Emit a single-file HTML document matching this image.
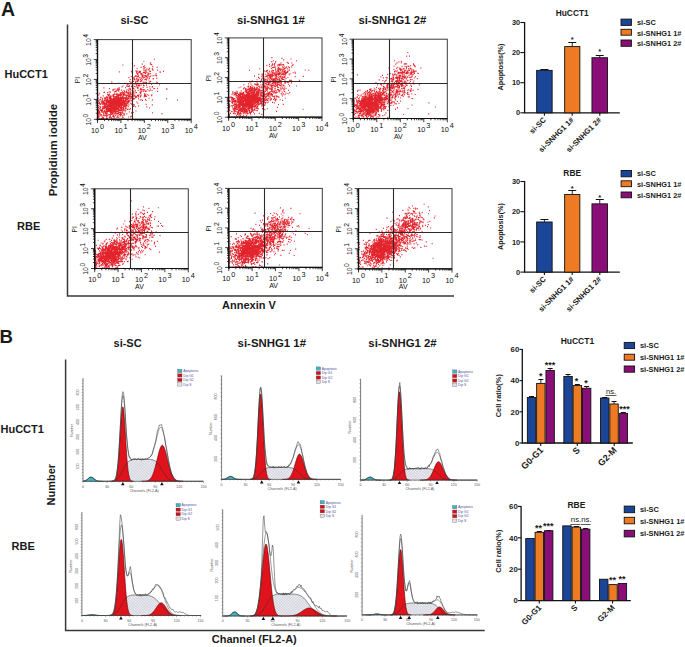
<!DOCTYPE html>
<html><head><meta charset="utf-8"><style>
html,body{margin:0;padding:0;background:#fff;}
svg{display:block;font-family:"Liberation Sans", sans-serif;}
</style></head><body>
<svg width="685" height="647" viewBox="0 0 685 647">
<defs><pattern id="hatch" patternUnits="userSpaceOnUse" width="2" height="2" patternTransform="rotate(45)">
<rect width="2" height="2" fill="#f0f0f5"/><path d="M0 0V2M0 0H2" stroke="#a8a8b8" stroke-width="0.5"/></pattern></defs>
<rect width="685" height="647" fill="#fff"/>
<text x="1.00" y="15.60" font-size="19.5" font-weight="bold" text-anchor="start" fill="#1a1a1a">A</text>
<text x="-0.50" y="342.60" font-size="18.6" font-weight="bold" text-anchor="start" fill="#1a1a1a">B</text>
<path d="M67.5 24.6V296H454" fill="none" stroke="#383838" stroke-width="1.5"/>
<path d="M65.6 359.4V630.6H484.7" fill="none" stroke="#383838" stroke-width="1.5"/>
<text x="134.50" y="23.90" font-size="11" font-weight="bold" text-anchor="middle" fill="#1a1a1a">si-SC</text>
<text x="270.80" y="23.90" font-size="11.3" font-weight="bold" text-anchor="middle" fill="#1a1a1a">si-SNHG1 1#</text>
<text x="392.30" y="23.90" font-size="11.3" font-weight="bold" text-anchor="middle" fill="#1a1a1a">si-SNHG1 2#</text>
<text x="4.50" y="78.00" font-size="11" font-weight="bold" text-anchor="start" fill="#1a1a1a">HuCCT1</text>
<text x="17.00" y="229.70" font-size="11" font-weight="bold" text-anchor="start" fill="#1a1a1a">RBE</text>
<text x="56.70" y="150.00" font-size="11.3" font-weight="bold" text-anchor="middle" fill="#1a1a1a" transform="rotate(-90 56.70 150.00)">Propidium iodide</text>
<text x="249.00" y="308.50" font-size="11" font-weight="bold" text-anchor="middle" fill="#1a1a1a">Annexin V</text>
<text x="127.60" y="346.60" font-size="11" font-weight="bold" text-anchor="middle" fill="#1a1a1a">si-SC</text>
<text x="271.80" y="347.30" font-size="11.4" font-weight="bold" text-anchor="middle" fill="#1a1a1a">si-SNHG1 1#</text>
<text x="402.50" y="347.30" font-size="11.4" font-weight="bold" text-anchor="middle" fill="#1a1a1a">si-SNHG1 2#</text>
<text x="0.50" y="433.30" font-size="11" font-weight="bold" text-anchor="start" fill="#1a1a1a">HuCCT1</text>
<text x="11.50" y="550.00" font-size="11" font-weight="bold" text-anchor="start" fill="#1a1a1a">RBE</text>
<text x="54.80" y="484.70" font-size="11" font-weight="bold" text-anchor="middle" fill="#1a1a1a" transform="rotate(-90 54.80 484.70)">Number</text>
<text x="254.30" y="643.30" font-size="11" font-weight="bold" text-anchor="middle" fill="#1a1a1a">Channel (FL2-A)</text>
<path d="M111.9 102.3h1M112.1 107.3h1M106.7 108.0h1M122.5 100.2h1M121.9 101.5h1M116.9 103.1h1M101.0 102.9h1M117.8 101.0h1M100.8 118.8h1M107.0 109.5h1M116.3 104.6h1M117.9 107.9h1M116.3 102.0h1M108.8 95.8h1M118.2 96.6h1M109.1 110.6h1M111.2 106.3h1M118.8 102.2h1M110.4 111.6h1M109.9 98.5h1M107.7 105.0h1M117.2 113.2h1M114.3 96.9h1M98.3 110.8h1M113.1 110.1h1M117.7 104.4h1M102.6 102.7h1M119.1 97.9h1M125.0 100.0h1M114.8 112.6h1M118.7 107.5h1M110.4 113.5h1M106.4 110.0h1M123.9 114.8h1M102.6 106.3h1M125.1 98.7h1M99.2 119.0h1M116.7 108.7h1M105.2 101.2h1M122.4 101.9h1M115.8 101.8h1M126.2 98.1h1M117.9 100.6h1M101.8 100.2h1M121.3 99.9h1M98.6 112.6h1M120.4 114.4h1M112.5 99.1h1M103.8 97.7h1M118.2 104.8h1M116.4 100.4h1M114.8 97.8h1M108.8 108.7h1M121.9 102.8h1M107.1 100.9h1M125.2 104.9h1M103.2 108.4h1M112.7 107.1h1M124.8 108.5h1M123.6 110.3h1M107.8 102.6h1M122.6 97.6h1M116.6 103.4h1M115.1 101.2h1M112.5 103.6h1M118.3 103.9h1M119.8 100.1h1M129.4 99.1h1M110.6 108.0h1M113.8 99.4h1M111.3 103.3h1M128.1 117.0h1M105.2 105.6h1M117.0 102.7h1M110.6 101.8h1M116.1 107.6h1M132.7 98.1h1M109.6 106.6h1M112.2 105.8h1M97.8 113.1h1M121.7 110.1h1M113.4 99.3h1M120.5 94.2h1M100.7 110.4h1M111.3 101.8h1M122.3 119.0h1M122.3 111.7h1M119.2 112.7h1M115.3 97.4h1M112.7 104.1h1M120.1 102.6h1M113.2 95.8h1M122.0 104.7h1M135.1 106.7h1M121.0 104.8h1M114.9 100.4h1M115.6 100.6h1M102.1 117.1h1M118.7 109.6h1M106.0 115.9h1M123.7 98.0h1M125.3 107.8h1M113.9 111.9h1M119.8 93.8h1M107.0 97.2h1M121.5 104.1h1M98.7 100.2h1M113.2 108.8h1M117.0 101.7h1M125.5 108.3h1M122.7 93.7h1M125.1 103.3h1M108.1 100.2h1M114.8 104.0h1M124.9 103.8h1M97.8 111.7h1M99.6 103.5h1M116.3 108.1h1M113.8 99.9h1M114.5 96.7h1M113.4 98.7h1M125.4 92.3h1M108.7 100.9h1M99.4 115.1h1M98.7 102.2h1M104.4 107.4h1M112.4 105.5h1M109.3 104.7h1M127.7 101.3h1M118.0 97.9h1M112.4 113.0h1M109.6 99.5h1M101.2 111.7h1M121.7 98.2h1M114.0 100.0h1M115.2 111.8h1M101.8 111.8h1M121.0 106.6h1M106.9 111.4h1M102.1 108.6h1M104.8 105.0h1M97.8 107.5h1M108.9 118.0h1M119.5 105.2h1M97.8 114.5h1M116.1 107.2h1M119.9 98.9h1M119.0 101.7h1M124.2 98.4h1M117.4 116.8h1M120.8 95.3h1M111.6 108.4h1M128.9 111.9h1M117.5 89.3h1M106.7 102.5h1M128.5 102.1h1M118.2 98.4h1M106.9 107.2h1M116.2 99.4h1M113.6 106.2h1M106.0 109.1h1M120.8 102.6h1M107.3 111.7h1M134.5 92.9h1M118.8 119.0h1M118.7 100.8h1M126.9 99.1h1M113.4 101.9h1M98.9 102.4h1M116.4 108.6h1M124.1 91.4h1M103.1 111.7h1M116.1 103.3h1M110.8 111.6h1M130.3 94.6h1M104.7 115.4h1M127.1 95.7h1M128.0 96.5h1M107.2 105.0h1M97.8 113.6h1M113.4 101.9h1M108.3 107.1h1M117.4 101.8h1M118.8 102.5h1M111.4 100.8h1M114.3 109.9h1M109.1 106.2h1M113.1 104.2h1M113.9 103.9h1M112.9 112.9h1M117.2 97.7h1M117.3 105.3h1M117.3 110.0h1M99.2 108.2h1M106.7 102.2h1M105.5 119.0h1M105.9 97.3h1M110.9 114.0h1M108.0 103.2h1M117.7 102.9h1M125.4 97.8h1M113.7 101.4h1M126.7 95.9h1M121.8 109.6h1M112.8 100.8h1M111.6 99.0h1M118.5 98.3h1M112.3 89.9h1M123.5 103.9h1M114.6 89.0h1M111.2 100.3h1M121.5 103.0h1M104.9 106.0h1M116.7 97.4h1M119.9 103.3h1M120.5 100.0h1M115.5 104.2h1M112.0 101.2h1M105.7 110.8h1M113.9 113.8h1M110.5 118.0h1M108.6 102.8h1M118.3 104.2h1M112.1 114.0h1M128.0 98.3h1M122.4 108.2h1M112.5 116.4h1M119.9 97.8h1M99.2 108.9h1M118.8 114.5h1M99.8 114.9h1M109.0 114.7h1M114.1 103.4h1M118.8 99.5h1M125.5 95.0h1M103.8 110.5h1M105.7 113.5h1M113.3 105.1h1M117.7 113.7h1M104.3 107.5h1M112.4 107.2h1M113.4 109.7h1M119.3 101.5h1M113.2 109.2h1M112.6 119.0h1M106.3 106.6h1M102.3 106.6h1M115.0 113.1h1M112.0 107.3h1M117.5 100.4h1M113.6 110.2h1M112.8 105.6h1M119.6 101.8h1M108.3 114.6h1M111.0 110.2h1M105.3 107.8h1M110.1 105.3h1M117.9 106.5h1M131.9 102.5h1M122.4 102.1h1M122.5 117.3h1M108.1 104.9h1M118.6 89.6h1M116.4 96.6h1M119.8 97.7h1M117.8 104.9h1M117.8 110.5h1M123.0 108.9h1M115.8 91.6h1M112.2 105.3h1M122.9 102.6h1M107.7 104.9h1M118.4 99.5h1M107.9 95.8h1M126.8 101.7h1M116.0 107.0h1M124.8 106.5h1M119.1 106.6h1M108.5 101.9h1M124.2 102.5h1M108.7 101.3h1M113.5 103.2h1M125.7 95.2h1M109.9 92.1h1M113.9 100.2h1M108.9 106.5h1M100.4 97.4h1M124.5 109.7h1M102.3 117.7h1M123.0 105.5h1M113.4 107.0h1M113.0 111.8h1M114.1 113.7h1M113.3 103.2h1M117.5 105.5h1M106.9 105.7h1M110.2 96.4h1M119.8 104.2h1M110.3 110.1h1M106.7 108.9h1M116.2 101.3h1M118.3 91.1h1M108.4 106.2h1M135.5 111.0h1M109.9 104.9h1M115.1 102.2h1M112.1 103.2h1M114.3 100.2h1M99.3 114.0h1M113.9 111.2h1M105.8 103.1h1M108.9 102.3h1M119.7 101.7h1M117.8 104.6h1M103.0 107.8h1M117.4 107.3h1M113.1 100.6h1M107.1 102.7h1M128.3 104.8h1M115.0 105.6h1M125.8 100.1h1M120.8 107.4h1M113.8 105.0h1M100.2 99.6h1M120.9 113.9h1M119.7 104.3h1M117.4 101.9h1M102.3 109.1h1M125.4 105.6h1M106.0 115.2h1M104.5 105.2h1M127.0 99.1h1M115.8 90.9h1M109.9 110.0h1M118.0 100.6h1M106.1 114.0h1M116.1 102.9h1M103.8 108.7h1M109.7 103.2h1M113.0 105.7h1M111.2 99.2h1M124.6 104.5h1M120.4 107.9h1M114.5 100.3h1M125.6 104.4h1M113.3 103.9h1M102.3 107.7h1M108.7 104.0h1M105.2 119.0h1M114.2 103.3h1M109.7 100.6h1M111.8 109.2h1M117.6 113.6h1M108.7 106.4h1M120.5 104.3h1M116.3 108.4h1M116.2 94.3h1M108.6 91.9h1M108.9 106.1h1M115.2 98.4h1M104.3 119.0h1M118.6 99.0h1M118.7 87.8h1M115.5 103.0h1M121.1 100.9h1M126.8 109.3h1M111.0 119.0h1M120.2 105.7h1M121.0 90.1h1M113.9 106.5h1M110.0 111.0h1M109.0 102.3h1M114.2 104.5h1M112.6 99.7h1M117.7 104.9h1M119.0 104.6h1M105.0 98.3h1M117.5 109.9h1M122.2 100.8h1M101.8 98.2h1M116.5 98.9h1M115.4 105.5h1M101.9 102.0h1M114.1 106.6h1M116.6 103.8h1M119.1 105.9h1M113.6 118.0h1M110.6 101.7h1M124.2 104.6h1M113.0 95.6h1M111.4 101.1h1M126.9 101.5h1M123.4 106.9h1M115.5 105.0h1M114.8 97.9h1M132.4 104.4h1M109.5 103.0h1M105.7 103.9h1M118.3 105.5h1M118.0 113.4h1M119.8 112.9h1M108.5 109.7h1M110.8 100.5h1M114.5 107.2h1M118.1 94.3h1M113.9 102.7h1M123.5 101.0h1M104.0 92.3h1M131.0 112.8h1M113.6 102.5h1M121.4 99.0h1M111.8 111.9h1M114.7 98.5h1M105.5 113.3h1M113.7 116.8h1M111.9 108.1h1M117.4 108.4h1M107.1 109.0h1M113.5 109.1h1M114.0 100.4h1M123.1 92.3h1M107.8 109.0h1M97.8 98.2h1M108.3 106.5h1M117.9 112.2h1M117.5 104.2h1M99.8 106.7h1M123.1 114.0h1M120.1 102.1h1M117.6 101.4h1M124.0 103.8h1M120.7 105.8h1M119.5 108.5h1M113.1 94.6h1M117.3 105.1h1M105.0 111.9h1M115.4 98.9h1M117.2 101.0h1M113.6 96.8h1M110.9 109.0h1M120.8 102.9h1M111.7 109.0h1M111.9 101.7h1M116.6 111.6h1M117.2 103.0h1M106.2 102.2h1M111.7 107.5h1M120.0 95.4h1M108.6 103.6h1M107.1 92.6h1M110.1 98.6h1M108.9 101.3h1M131.0 116.2h1M110.5 102.7h1M113.2 109.2h1M130.5 100.4h1M101.2 102.9h1M100.6 101.2h1M109.4 105.2h1M123.6 101.8h1M103.1 117.9h1M123.0 98.2h1M107.6 101.3h1M117.7 100.1h1M97.8 111.1h1M120.9 98.8h1M120.7 118.2h1M115.2 101.6h1M133.6 105.9h1M111.4 105.4h1M120.7 106.0h1M122.8 107.6h1M116.0 107.7h1M115.1 108.9h1M101.6 101.4h1M116.2 107.8h1M115.5 98.5h1M106.3 107.5h1M118.1 100.7h1M111.3 118.4h1M123.5 100.6h1M114.0 106.6h1M115.9 107.0h1M106.0 111.4h1M109.3 109.8h1M104.9 103.3h1M103.8 103.4h1M106.1 104.8h1M124.5 101.1h1M108.2 106.1h1M115.0 115.2h1M109.2 105.1h1M110.3 105.4h1M119.6 98.9h1M120.9 99.6h1M111.7 105.6h1M111.8 107.4h1M112.5 115.8h1M111.3 105.7h1M106.4 107.0h1M117.9 105.0h1M130.0 116.8h1M112.3 116.5h1M121.5 86.9h1M97.8 109.0h1M117.9 105.8h1M118.2 117.5h1M120.5 101.1h1M114.1 108.5h1M118.8 106.7h1M115.6 107.6h1M97.8 109.4h1M115.5 100.0h1M107.1 106.8h1M118.7 102.9h1M123.5 90.5h1M106.9 118.4h1M120.5 94.0h1M121.0 98.2h1M109.1 110.5h1M120.8 108.8h1M99.9 114.5h1M133.2 88.5h1M108.6 110.7h1M115.7 109.1h1M124.0 102.9h1M105.5 99.1h1M109.4 104.7h1M113.8 106.9h1M116.4 108.5h1M99.6 119.0h1M104.1 112.0h1M113.7 104.7h1M118.2 103.2h1M107.8 110.8h1M97.8 110.0h1M117.6 100.8h1M113.0 106.2h1M121.1 103.1h1M119.6 100.0h1M115.5 96.6h1M109.5 108.2h1M107.7 111.3h1M125.9 91.3h1M114.1 101.5h1M123.0 97.8h1M123.2 110.3h1M109.0 103.4h1M125.0 101.6h1M107.3 108.8h1M108.8 111.4h1M125.5 105.9h1M114.1 91.8h1M123.1 100.6h1M109.2 103.6h1M126.4 98.1h1M123.6 101.9h1M117.9 105.2h1M117.2 96.2h1M102.8 108.1h1M115.8 108.0h1M111.5 100.8h1M129.4 97.3h1M116.4 113.8h1M128.8 100.8h1M113.6 111.8h1M113.5 111.7h1M114.4 102.0h1M114.1 103.2h1M107.3 97.9h1M108.8 117.3h1M112.4 110.0h1M106.1 109.0h1M116.1 111.6h1M112.8 96.5h1M119.2 104.6h1M114.9 105.4h1M113.5 100.6h1M113.2 119.0h1M113.7 110.4h1M118.9 107.4h1M115.0 91.4h1M105.8 113.8h1M103.0 119.0h1M99.4 106.3h1M109.0 117.5h1M102.4 104.0h1M107.9 108.7h1M116.5 96.1h1M128.9 95.0h1M115.0 103.6h1M127.8 92.8h1M111.5 102.8h1M116.1 104.1h1M110.0 114.0h1M109.8 115.4h1M123.4 99.3h1M104.6 98.8h1M120.8 114.9h1M128.1 96.5h1M129.9 108.5h1M118.0 101.4h1M115.5 103.5h1M122.0 112.0h1M104.3 115.8h1M109.6 109.7h1M116.7 102.6h1M114.1 109.0h1M110.5 100.0h1M119.8 102.9h1M111.4 96.1h1M109.3 102.1h1M122.8 104.4h1M120.3 110.2h1M121.7 101.8h1M101.6 103.9h1M107.0 98.9h1M108.6 107.3h1M116.1 106.4h1M115.9 107.8h1M119.1 103.6h1M115.5 119.0h1M122.9 102.5h1M100.1 107.8h1M117.5 97.5h1M105.5 97.6h1M112.7 90.7h1M112.8 101.1h1M111.1 112.4h1M122.4 97.3h1M125.8 96.8h1M109.5 116.2h1M108.9 110.3h1M107.6 103.0h1M116.4 106.0h1M115.2 105.5h1M115.5 100.0h1M121.3 107.3h1M102.2 99.2h1M114.8 98.0h1M101.2 110.1h1M114.1 113.7h1M109.9 101.5h1M122.2 93.2h1M107.2 115.1h1M117.9 98.2h1M115.4 112.5h1M119.9 98.6h1M118.2 106.9h1M116.2 99.6h1M109.6 117.2h1M116.4 101.4h1M114.0 99.5h1M109.4 106.6h1M111.5 102.1h1M126.2 103.4h1M129.8 91.7h1M120.0 99.9h1M127.6 102.7h1M113.0 111.6h1M117.6 95.9h1M118.0 101.4h1M112.3 104.3h1M102.9 101.3h1M110.7 112.5h1M108.1 111.4h1M120.5 96.9h1M103.4 101.9h1M120.8 106.8h1M102.4 112.3h1M109.0 104.1h1M111.1 118.0h1M115.7 113.8h1M120.9 110.6h1M108.5 111.5h1M109.7 98.1h1M120.5 99.7h1M116.4 113.8h1M109.9 109.3h1M106.3 103.7h1M108.2 110.7h1M105.8 119.0h1M118.5 95.7h1M115.2 110.6h1M97.8 109.1h1M123.3 100.8h1M121.1 94.2h1M122.6 105.5h1M122.0 98.2h1M102.0 110.4h1M102.9 108.3h1M118.4 110.3h1M98.0 101.0h1M116.8 95.3h1M103.7 101.0h1M129.9 88.8h1M112.3 103.7h1M112.7 99.2h1M121.9 102.4h1M103.4 103.0h1M110.3 102.0h1M115.9 94.6h1M122.7 105.5h1M116.6 93.6h1M109.7 103.3h1M123.1 95.0h1M117.9 112.0h1M104.1 105.9h1M116.9 88.7h1M107.2 99.7h1M119.9 113.6h1M107.6 105.5h1M110.1 106.8h1M117.5 109.0h1M117.5 107.9h1M109.7 102.7h1M109.5 104.3h1M126.3 101.7h1M112.8 100.8h1M111.1 99.1h1M104.0 103.6h1M109.9 110.8h1M127.6 106.7h1M127.5 97.6h1M125.1 108.1h1M123.2 93.8h1M113.0 106.0h1M132.9 99.2h1M110.6 109.6h1M117.3 102.1h1M115.3 94.1h1M111.4 102.7h1M125.2 108.3h1M121.9 91.8h1M103.4 114.2h1M105.9 118.2h1M117.4 115.4h1M117.8 95.2h1M101.4 110.0h1M99.1 103.9h1M108.2 108.0h1M114.3 101.5h1M111.2 105.5h1M109.7 105.3h1M104.8 106.8h1M99.0 111.6h1M128.7 100.8h1M104.2 105.8h1M106.4 116.9h1M108.2 101.9h1M116.9 104.8h1M106.7 113.3h1M124.3 100.9h1M106.5 119.0h1M103.3 92.5h1M105.0 107.6h1M115.5 105.5h1M111.7 113.8h1M105.8 96.7h1M108.1 101.3h1M100.8 109.9h1M115.9 98.2h1M105.2 103.5h1M116.9 108.7h1M117.6 109.5h1M107.7 106.6h1M97.8 110.8h1M106.2 115.8h1M110.6 101.1h1M110.8 98.0h1M104.9 115.2h1M125.9 99.6h1M121.2 108.2h1M120.1 101.8h1M118.9 103.6h1M123.2 106.6h1M106.4 115.8h1M122.9 107.2h1M105.8 112.7h1M110.5 113.5h1M111.7 109.3h1M109.6 111.8h1M114.2 107.7h1M114.8 103.2h1M116.5 117.6h1M109.8 110.8h1M119.9 113.1h1M108.4 108.1h1M111.3 99.6h1M110.5 99.9h1M102.6 118.8h1M123.3 100.0h1M117.7 103.3h1M117.6 111.4h1M121.2 106.4h1M121.5 102.5h1M98.6 116.6h1M122.6 103.6h1M110.8 104.2h1M110.6 109.1h1M114.7 103.9h1M125.6 101.8h1M128.4 90.4h1M127.2 95.2h1M114.9 103.9h1M112.8 109.7h1M113.4 109.0h1M126.6 98.6h1M110.4 117.5h1M113.5 107.6h1M105.5 113.9h1M97.8 105.8h1M113.4 89.4h1M113.7 105.9h1M125.1 101.4h1M115.2 106.9h1M109.2 97.0h1M121.6 92.6h1M111.2 105.4h1M107.1 100.8h1M103.1 104.2h1M122.4 94.3h1M106.6 100.1h1M108.4 110.9h1M103.7 100.5h1M126.6 105.4h1M108.0 108.5h1M133.3 94.0h1M109.7 116.9h1M108.7 99.0h1M128.3 103.0h1M108.6 109.4h1M99.3 103.0h1M105.5 100.6h1M100.7 115.9h1M116.1 109.0h1M119.9 103.4h1M104.8 103.4h1M120.4 115.0h1M128.0 98.4h1M119.8 114.8h1M108.3 108.5h1M122.2 111.8h1M107.1 119.0h1M112.0 103.3h1M100.9 111.8h1M117.8 94.3h1M119.0 105.5h1M104.8 112.9h1M108.8 105.3h1M113.5 94.9h1M116.1 110.9h1M125.8 96.2h1M114.7 109.1h1M99.4 114.7h1M120.9 108.1h1M103.7 106.3h1M115.8 100.8h1M119.0 95.1h1M107.4 100.6h1M106.3 102.6h1M115.3 103.1h1M121.4 103.2h1M122.5 97.5h1M114.9 108.1h1M108.1 109.6h1M112.3 105.5h1M136.9 95.4h1M119.8 108.7h1M108.4 108.3h1M115.4 110.9h1M126.4 105.3h1M122.2 117.1h1M113.8 103.3h1M115.4 100.9h1M116.1 103.4h1M99.3 112.9h1M97.8 105.6h1M116.3 105.6h1M107.5 110.1h1M128.2 90.9h1M113.4 97.2h1M101.6 119.0h1M110.2 111.2h1M109.6 104.9h1M137.3 103.2h1M114.3 103.2h1M113.6 99.4h1M127.6 109.1h1M115.1 106.3h1M116.7 113.6h1M100.3 119.0h1M118.0 102.8h1M114.5 119.0h1M111.0 110.3h1M103.0 113.2h1M119.3 100.3h1M113.7 101.9h1M109.2 105.7h1M114.2 101.5h1M113.4 106.0h1M112.9 109.1h1M131.2 97.6h1M117.2 90.2h1M124.7 111.7h1M119.3 98.5h1M128.5 93.3h1M119.9 110.6h1M107.2 105.0h1M117.8 110.2h1M110.9 108.1h1M114.4 102.8h1M111.7 113.0h1M123.5 92.9h1M113.1 98.9h1M117.3 100.1h1M117.6 108.7h1M118.3 97.7h1M107.0 94.7h1M130.1 89.9h1M129.3 96.6h1M111.3 109.3h1M107.6 105.8h1M113.6 100.9h1M98.3 94.8h1M131.5 100.8h1M119.1 100.8h1M116.0 105.7h1M112.9 110.2h1M115.3 104.8h1M116.4 109.5h1M114.2 104.6h1M118.6 110.3h1M117.1 98.2h1M118.5 106.1h1M110.1 107.3h1M119.5 94.1h1M112.7 109.2h1M116.8 103.0h1M106.9 111.2h1M113.1 101.1h1M104.7 113.4h1M117.8 111.4h1M114.7 102.6h1M113.0 111.4h1M113.4 107.1h1M116.5 109.4h1M122.3 113.1h1M112.5 105.2h1M121.3 106.8h1M118.1 107.4h1M119.6 93.0h1M110.8 103.0h1M106.7 100.8h1M123.3 102.4h1M105.1 104.7h1M122.8 96.1h1M120.2 114.5h1M108.6 97.6h1M104.4 100.4h1M128.4 96.7h1M122.6 104.8h1M104.4 107.9h1M112.4 105.6h1M119.3 104.5h1M115.4 102.0h1M113.9 93.8h1M117.3 103.6h1M112.3 109.2h1M124.3 101.5h1M105.6 110.4h1M112.8 107.9h1M122.3 109.9h1M117.7 103.1h1M104.8 106.9h1M113.2 102.1h1M110.4 104.0h1M101.0 114.7h1M120.0 97.1h1M113.8 108.6h1M122.3 115.6h1M107.7 102.4h1M118.9 110.0h1M99.3 99.7h1M115.1 110.1h1M114.3 99.4h1M97.8 103.2h1M119.6 116.2h1M119.9 114.3h1M122.7 100.4h1M131.3 104.4h1M113.9 98.6h1M109.0 110.5h1M111.0 106.1h1M105.5 104.1h1M118.1 103.5h1M127.0 103.7h1M124.0 105.8h1M119.7 115.3h1M115.4 105.6h1M110.1 109.6h1M111.2 110.0h1M97.8 112.8h1M109.6 109.2h1M105.7 107.8h1M120.0 105.0h1M110.1 97.6h1M121.4 97.5h1M122.8 104.7h1M112.9 98.4h1M109.6 106.7h1M116.8 102.0h1M111.8 99.5h1M112.5 100.9h1M122.2 98.9h1M119.6 110.6h1M103.8 111.2h1M117.6 94.9h1M104.4 105.4h1M107.3 111.0h1M111.8 101.3h1M115.5 97.4h1M106.3 101.4h1M121.1 102.8h1M117.6 107.5h1M105.5 109.5h1M108.9 88.6h1M110.1 95.8h1M115.5 102.7h1M119.6 108.3h1M121.0 100.9h1M102.2 104.2h1M118.2 101.1h1M126.1 104.4h1M117.9 99.4h1M106.9 99.4h1M102.7 115.6h1M117.9 110.6h1M113.0 115.2h1M114.4 111.7h1M116.5 113.6h1M117.4 105.7h1M114.4 105.2h1M114.9 112.7h1M97.8 109.7h1M106.7 109.5h1M117.2 116.2h1M108.0 110.1h1M105.7 105.0h1M112.8 110.2h1M106.3 101.9h1M108.8 102.7h1M117.4 115.6h1M105.5 107.0h1M116.5 99.6h1M120.1 97.1h1M111.0 106.9h1M119.9 106.1h1M122.1 112.6h1M118.9 104.8h1M98.7 102.8h1M116.3 104.2h1M105.6 109.8h1M125.6 107.1h1M97.8 116.8h1M104.6 108.1h1M110.9 111.3h1M107.4 100.2h1M102.7 95.8h1M109.7 112.6h1M120.0 100.0h1M105.8 102.4h1M99.7 114.1h1M122.6 104.4h1M103.8 104.3h1M121.0 103.3h1M99.9 110.5h1M117.1 99.5h1M128.2 102.9h1M110.2 106.1h1M123.2 108.4h1M124.0 119.0h1M120.1 107.5h1M117.4 99.9h1M104.8 107.7h1M115.8 100.9h1M106.7 112.8h1M99.0 93.2h1M112.4 106.7h1M102.3 102.2h1M109.8 97.2h1M120.5 103.2h1M119.5 110.3h1M111.4 109.1h1M104.1 107.3h1M112.8 96.5h1M97.8 115.5h1M106.8 109.5h1M117.2 101.7h1M114.1 107.8h1M117.7 101.8h1M99.7 110.1h1M103.3 114.8h1M115.0 104.3h1M114.8 110.1h1M112.3 110.9h1M116.8 100.0h1M127.5 93.9h1M107.7 109.3h1M106.6 104.9h1M129.2 96.9h1M97.8 116.8h1M103.9 104.3h1M113.9 103.1h1M127.7 106.6h1M107.3 94.6h1M116.5 109.0h1M98.2 118.1h1M97.8 109.2h1M114.2 98.8h1M112.8 109.4h1M108.2 94.8h1M100.2 107.3h1M114.1 101.2h1M110.8 102.7h1M120.2 104.3h1M110.4 107.0h1M106.4 108.1h1M111.6 104.3h1M124.2 94.4h1M110.5 102.1h1M116.2 99.8h1M114.1 103.3h1M110.3 110.6h1M120.6 95.4h1M119.0 101.0h1M116.0 107.2h1M100.1 104.3h1M115.4 107.9h1M106.4 99.0h1M100.0 97.7h1M118.8 89.3h1M108.3 106.5h1M110.0 105.0h1M112.3 109.9h1M122.2 107.7h1M110.0 102.6h1M109.7 108.6h1M116.6 106.5h1M104.3 108.0h1M112.2 95.0h1M105.4 101.2h1M107.8 108.6h1M111.4 103.9h1M120.6 92.7h1M109.0 98.1h1M121.6 98.1h1M108.0 100.9h1M113.1 103.0h1M111.8 101.4h1M122.5 95.9h1M112.3 99.3h1M125.1 107.9h1M125.3 110.3h1M118.1 100.3h1M125.4 100.4h1M110.2 110.7h1M104.2 102.7h1M112.1 109.8h1M118.0 108.6h1M110.5 108.6h1M126.7 92.9h1M112.7 114.8h1M116.0 104.0h1M116.6 100.8h1M111.4 99.9h1M120.4 102.1h1M110.8 108.7h1M119.3 110.3h1M112.7 109.8h1M103.1 103.9h1M113.7 104.8h1M120.7 112.4h1M113.4 103.3h1M120.3 110.0h1M119.4 102.2h1M124.4 95.4h1M118.1 90.8h1M113.9 107.5h1M111.3 111.3h1M113.7 116.4h1M113.2 102.5h1M121.6 105.2h1M124.6 106.3h1M112.9 116.6h1M108.0 111.2h1M125.2 99.0h1M105.6 103.8h1M117.5 105.4h1M114.1 106.7h1M109.8 116.5h1M113.2 97.5h1M124.7 103.9h1M108.3 107.6h1M120.7 101.2h1M109.5 103.9h1M112.3 102.3h1M110.8 114.4h1M114.3 100.3h1M105.5 107.7h1M120.5 105.5h1M109.0 94.1h1M120.1 97.3h1M106.8 97.0h1M101.4 111.1h1M119.5 95.7h1M106.9 110.6h1M115.4 116.0h1M118.7 100.5h1M110.5 102.6h1M119.7 101.7h1M117.8 95.0h1M110.3 104.9h1M110.0 99.8h1M110.8 102.9h1M114.9 104.3h1M126.8 102.3h1M124.5 97.5h1M123.8 103.5h1M120.8 98.8h1M109.3 104.5h1M112.9 105.4h1M123.6 106.8h1M101.3 118.3h1M110.5 109.6h1M114.0 101.6h1M127.0 99.9h1M117.4 108.4h1M118.2 95.9h1M123.9 113.9h1M120.5 94.0h1M120.1 112.2h1M111.6 102.1h1M117.0 108.9h1M107.3 100.9h1M104.0 99.0h1M114.0 103.2h1M104.0 110.9h1M119.0 112.3h1M129.3 109.4h1M135.1 82.6h1M132.2 88.6h1M146.6 73.0h1M150.1 71.3h1M141.6 75.6h1M132.8 106.4h1M140.2 73.9h1M135.6 79.3h1M126.5 83.4h1M149.0 77.0h1M126.5 85.1h1M136.6 84.0h1M118.2 83.2h1M159.1 84.7h1M139.6 79.2h1M124.1 101.5h1M119.9 93.5h1M135.3 86.7h1M136.7 87.2h1M128.7 96.0h1M125.5 98.3h1M133.8 77.2h1M137.9 79.3h1M137.9 95.3h1M132.9 96.1h1M124.3 94.3h1M134.4 84.1h1M146.6 76.4h1M146.8 77.7h1M116.4 90.0h1M137.7 90.5h1M140.2 93.3h1M132.5 98.1h1M139.5 92.9h1M152.1 68.9h1M128.5 89.4h1M122.7 98.6h1M132.7 93.2h1M137.3 81.6h1M151.9 86.6h1M131.1 96.3h1M139.3 86.0h1M122.5 86.0h1M147.7 74.2h1M148.0 76.0h1M156.6 67.4h1M142.6 74.8h1M142.5 90.0h1M132.9 92.5h1M148.5 69.2h1M131.8 92.8h1M136.4 96.8h1M148.7 90.8h1M124.3 93.9h1M147.3 89.6h1M132.2 86.2h1M137.0 74.4h1M134.7 96.1h1M144.6 75.6h1M138.2 75.2h1M144.8 79.5h1M127.5 84.4h1M136.2 84.8h1M140.1 79.7h1M140.2 83.6h1M128.1 95.7h1M128.8 88.2h1M124.3 83.3h1M157.1 70.1h1M152.5 83.3h1M137.7 83.4h1M137.9 98.9h1M145.5 77.1h1M144.0 83.2h1M137.0 73.7h1M142.5 82.9h1M142.6 87.4h1M136.3 81.7h1M136.2 85.7h1M139.8 72.4h1M139.2 77.7h1M126.5 89.9h1M129.1 81.5h1M143.1 89.9h1M132.5 87.3h1M141.8 64.2h1M139.2 85.8h1M143.0 85.5h1M137.4 88.1h1M132.5 92.1h1M139.6 77.7h1M143.9 77.3h1M152.6 78.9h1M133.6 104.6h1M138.3 83.7h1M146.5 87.3h1M149.0 68.3h1M140.2 81.4h1M141.6 76.7h1M146.0 82.4h1M126.5 86.3h1M132.5 88.4h1M129.8 79.5h1M120.0 100.7h1M138.4 84.9h1M130.8 94.3h1M138.3 72.2h1M131.9 83.2h1M136.0 72.1h1M130.9 97.8h1M140.6 67.3h1M143.5 70.6h1M142.8 83.0h1M116.7 95.5h1M131.8 63.5h1M132.9 91.9h1M128.5 94.4h1M135.2 83.7h1M145.4 70.4h1M130.3 103.4h1M142.3 89.6h1M140.8 89.8h1M135.3 71.0h1M131.9 72.7h1M129.3 95.1h1M131.4 72.7h1M121.9 96.9h1M156.2 75.8h1M132.6 85.2h1M138.1 80.4h1M141.0 80.3h1M150.7 64.5h1M139.6 100.0h1M133.9 98.7h1M130.4 82.4h1M152.2 66.6h1M132.9 78.1h1M150.2 62.7h1M138.4 96.9h1M145.6 104.4h1M137.6 87.1h1M163.0 71.3h1M130.5 94.2h1M130.1 93.4h1M144.6 90.8h1M148.5 74.1h1M135.6 97.5h1M122.6 95.6h1M138.6 83.5h1M143.4 61.2h1M126.4 92.4h1M141.8 76.6h1M130.1 98.3h1M125.0 87.7h1M144.8 70.0h1M156.3 78.2h1M136.2 84.3h1M135.9 92.6h1M131.2 86.6h1M122.6 104.2h1M130.4 84.0h1M156.0 78.2h1M134.0 79.7h1M143.6 68.5h1M151.7 69.1h1M114.3 105.0h1M128.6 92.2h1M134.1 86.5h1M149.1 86.7h1M125.7 99.7h1M136.7 80.6h1M159.4 72.0h1M137.5 75.0h1M149.8 63.8h1M136.6 70.9h1M127.8 86.4h1M138.7 71.4h1M141.5 73.9h1M139.9 91.9h1M136.3 78.3h1M142.0 79.7h1M131.7 82.8h1M145.8 72.0h1M136.5 73.3h1M156.1 82.1h1M118.4 88.1h1M148.3 73.1h1M138.3 85.6h1M138.1 76.5h1M111.3 82.1h1M136.0 76.0h1M145.4 78.9h1M137.5 73.3h1M128.9 85.5h1M140.8 85.0h1M144.4 79.6h1M142.7 72.6h1M134.6 91.2h1M144.7 82.2h1M139.8 91.8h1M143.0 84.0h1M134.8 90.3h1M129.9 92.9h1M129.3 81.3h1M153.9 59.2h1M136.7 71.7h1M145.2 82.7h1M128.8 86.5h1M147.2 74.8h1M133.9 78.9h1M139.6 71.6h1M139.9 71.4h1M143.7 89.6h1M142.5 76.1h1M132.2 81.5h1M148.0 73.7h1M129.9 96.4h1M129.1 100.9h1M123.6 102.8h1M148.2 80.0h1M132.6 90.9h1M157.1 91.3h1M145.2 95.3h1M137.0 88.0h1M166.5 89.2h1M141.0 89.0h1M139.6 89.6h1M148.6 98.2h1M133.5 95.1h1M148.6 90.9h1M151.9 99.8h1M145.9 96.4h1M142.8 91.5h1M134.3 95.8h1M132.7 93.2h1M135.2 97.2h1M143.7 96.9h1M151.1 95.7h1M148.8 90.8h1M133.8 95.8h1M135.4 96.4h1M139.9 83.4h1M138.7 85.0h1M145.6 100.3h1M123.6 92.2h1M126.2 91.6h1M150.2 90.0h1M140.3 95.1h1M144.1 94.8h1M137.8 96.1h1M151.3 95.6h1M145.0 99.5h1M136.3 102.0h1M140.4 89.8h1M144.4 95.8h1M146.9 94.7h1M145.0 91.4h1M146.3 106.8h1M131.7 90.5h1M141.2 80.8h1M140.1 96.8h1M153.9 88.5h1M157.1 88.3h1M140.4 89.5h1M135.8 96.8h1M137.6 95.3h1M148.2 95.2h1M144.6 95.8h1M149.0 108.0h1M140.4 92.7h1M133.5 88.9h1M143.7 85.9h1M149.6 88.7h1M140.8 99.7h1M140.3 96.3h1M144.0 95.7h1M166.2 98.9h1M151.3 94.7h1M140.1 88.4h1M142.0 100.3h1M145.3 94.0h1M125.7 94.7h1M133.6 98.8h1M145.8 91.1h1M139.7 81.5h1M145.3 96.4h1M143.9 93.8h1M124.6 104.9h1M131.0 83.3h1M140.6 95.2h1M137.5 88.5h1M142.2 83.7h1M148.2 83.2h1M141.1 91.4h1M138.6 94.9h1M128.3 98.7h1M134.5 98.2h1M151.6 90.5h1M151.7 87.1h1M149.3 86.7h1M139.1 72.4h1M141.0 78.2h1M151.3 64.6h1M136.6 68.5h1M148.8 78.5h1M145.0 73.5h1M145.7 76.7h1M134.5 76.5h1M149.0 71.1h1M147.7 69.9h1M136.5 76.6h1M145.5 70.6h1M144.2 73.0h1M144.1 65.9h1M128.4 77.6h1M159.9 72.1h1M130.8 76.5h1M133.5 79.9h1M144.7 67.5h1M146.3 72.0h1M150.1 73.6h1M137.4 76.7h1M145.5 76.4h1M138.7 77.7h1M133.0 81.5h1M142.6 77.2h1M143.4 69.1h1M145.2 75.3h1M135.2 81.4h1M145.7 79.1h1M146.1 79.9h1M144.1 75.7h1M149.9 76.3h1M140.7 74.7h1M143.5 67.8h1M141.4 78.1h1M141.0 73.6h1M144.8 72.1h1M133.8 65.6h1M155.6 73.9h1M135.0 75.9h1M146.0 85.1h1M143.3 82.1h1M146.3 68.8h1M150.2 81.3h1M152.5 70.1h1M140.7 73.5h1M153.4 75.6h1M143.1 78.0h1M151.0 84.1h1M152.8 78.5h1M149.4 81.9h1M136.8 79.0h1M148.8 82.0h1M147.3 77.8h1M151.6 75.7h1M146.5 75.8h1M155.3 75.4h1M143.0 66.5h1M143.7 72.3h1M131.1 86.4h1M103.4 87.8h1M132.7 112.5h1M118.8 71.9h1M152.0 112.7h1M177.1 100.1h1M137.7 85.6h1M123.8 114.2h1M130.9 71.3h1M161.5 113.6h1M166.1 88.9h1M153.4 88.6h1M151.8 104.8h1M128.0 100.2h1M137.7 79.9h1M122.4 65.0h1M132.9 98.4h1M157.0 82.8h1M138.2 105.8h1M126.3 113.9h1" stroke="#e0101a" stroke-width="1.15" stroke-opacity="0.92" fill="none"/>
<rect x="97.50" y="39.60" width="93.70" height="79.70" fill="none" stroke="#3a3a3a" stroke-width="1"/>
<line x1="132.50" y1="39.60" x2="132.50" y2="119.30" stroke="#2a2a2a" stroke-width="1.1"/>
<line x1="97.50" y1="83.50" x2="191.20" y2="83.50" stroke="#2a2a2a" stroke-width="1.1"/>
<line x1="97.50" y1="39.60" x2="97.50" y2="120.80" stroke="#111" stroke-width="1.4"/>
<line x1="96.50" y1="119.30" x2="191.20" y2="119.30" stroke="#111" stroke-width="1.2"/>
<path d="M97.50 119.30h-3.7M97.50 119.30v3.7M97.50 113.30h-1.8M104.55 119.30v1.8M97.50 109.79h-1.8M108.68 119.30v1.8M97.50 107.30h-1.8M111.60 119.30v1.8M97.50 105.37h-1.8M113.87 119.30v1.8M97.50 103.80h-1.8M115.73 119.30v1.8M97.50 102.46h-1.8M117.30 119.30v1.8M97.50 101.31h-1.8M118.65 119.30v1.8M97.50 100.29h-1.8M119.85 119.30v1.8M97.50 99.38h-3.7M120.92 119.30v3.7M97.50 93.38h-1.8M127.98 119.30v1.8M97.50 89.87h-1.8M132.10 119.30v1.8M97.50 87.38h-1.8M135.03 119.30v1.8M97.50 85.45h-1.8M137.30 119.30v1.8M97.50 83.87h-1.8M139.15 119.30v1.8M97.50 82.54h-1.8M140.72 119.30v1.8M97.50 81.38h-1.8M142.08 119.30v1.8M97.50 80.36h-1.8M143.28 119.30v1.8M97.50 79.45h-3.7M144.35 119.30v3.7M97.50 73.45h-1.8M151.40 119.30v1.8M97.50 69.94h-1.8M155.53 119.30v1.8M97.50 67.45h-1.8M158.45 119.30v1.8M97.50 65.52h-1.8M160.72 119.30v1.8M97.50 63.95h-1.8M162.58 119.30v1.8M97.50 62.61h-1.8M164.15 119.30v1.8M97.50 61.46h-1.8M165.50 119.30v1.8M97.50 60.44h-1.8M166.70 119.30v1.8M97.50 59.53h-3.7M167.77 119.30v3.7M97.50 53.53h-1.8M174.83 119.30v1.8M97.50 50.02h-1.8M178.95 119.30v1.8M97.50 47.53h-1.8M181.88 119.30v1.8M97.50 45.60h-1.8M184.15 119.30v1.8M97.50 44.02h-1.8M186.00 119.30v1.8M97.50 42.69h-1.8M187.57 119.30v1.8M97.50 41.53h-1.8M188.93 119.30v1.8M97.50 40.51h-1.8M190.13 119.30v1.8M97.50 39.60h-3.8M191.20 119.30v3.8" stroke="#111" stroke-width="0.8" fill="none"/>
<text x="97.50" y="133.10" font-size="7.3" text-anchor="middle" fill="#111">10<tspan dx="0.9" dy="-4.4">0</tspan></text>
<text x="91.20" y="119.60" font-size="6.8" text-anchor="middle" fill="#111" transform="rotate(-90 91.20 119.60)">10<tspan dx="0.6" dy="-3.3">0</tspan></text>
<text x="120.92" y="133.10" font-size="7.3" text-anchor="middle" fill="#111">10<tspan dx="0.9" dy="-4.4">1</tspan></text>
<text x="91.20" y="99.67" font-size="6.8" text-anchor="middle" fill="#111" transform="rotate(-90 91.20 99.67)">10<tspan dx="0.6" dy="-3.3">1</tspan></text>
<text x="144.35" y="133.10" font-size="7.3" text-anchor="middle" fill="#111">10<tspan dx="0.9" dy="-4.4">2</tspan></text>
<text x="91.20" y="79.75" font-size="6.8" text-anchor="middle" fill="#111" transform="rotate(-90 91.20 79.75)">10<tspan dx="0.6" dy="-3.3">2</tspan></text>
<text x="167.77" y="133.10" font-size="7.3" text-anchor="middle" fill="#111">10<tspan dx="0.9" dy="-4.4">3</tspan></text>
<text x="91.20" y="59.83" font-size="6.8" text-anchor="middle" fill="#111" transform="rotate(-90 91.20 59.83)">10<tspan dx="0.6" dy="-3.3">3</tspan></text>
<text x="191.20" y="133.10" font-size="7.3" text-anchor="middle" fill="#111">10<tspan dx="0.9" dy="-4.4">4</tspan></text>
<text x="91.20" y="39.90" font-size="6.8" text-anchor="middle" fill="#111" transform="rotate(-90 91.20 39.90)">10<tspan dx="0.6" dy="-3.3">4</tspan></text>
<text x="142.35" y="139.70" font-size="7.0" text-anchor="middle" fill="#111">AV</text>
<text x="79.90" y="80.05" font-size="6.6" text-anchor="middle" fill="#111" transform="rotate(-90 79.90 80.05)">PI</text>
<path d="M256.5 91.8h1M262.4 93.7h1M250.0 95.6h1M255.0 100.4h1M250.1 87.1h1M233.6 113.3h1M239.5 98.6h1M256.9 100.3h1M252.7 99.7h1M249.7 103.5h1M247.1 101.0h1M256.4 84.8h1M232.6 101.8h1M247.2 95.1h1M255.9 93.8h1M253.8 104.9h1M233.5 94.7h1M257.1 104.0h1M257.7 94.0h1M228.9 101.1h1M239.3 96.1h1M241.8 107.0h1M234.8 105.8h1M255.5 102.7h1M232.2 92.1h1M262.2 92.6h1M242.9 109.5h1M234.0 101.3h1M257.8 104.4h1M247.3 102.6h1M245.2 98.5h1M264.2 100.1h1M254.2 92.4h1M245.0 102.5h1M236.4 97.4h1M243.0 106.1h1M247.8 106.0h1M238.8 105.1h1M259.3 98.8h1M251.6 108.7h1M231.5 94.3h1M244.1 111.2h1M246.4 97.5h1M233.3 110.2h1M249.4 106.0h1M253.7 93.3h1M250.9 102.6h1M246.9 104.9h1M246.2 99.3h1M244.8 95.7h1M268.3 98.4h1M250.1 95.1h1M252.5 100.9h1M243.4 95.9h1M252.3 96.4h1M240.8 98.9h1M253.7 100.3h1M252.5 86.2h1M232.0 101.5h1M237.8 111.9h1M245.4 98.1h1M247.7 107.9h1M235.6 107.6h1M247.4 106.0h1M235.1 93.7h1M240.5 103.8h1M242.8 105.8h1M247.6 102.7h1M252.3 106.8h1M235.2 92.4h1M246.7 96.4h1M256.9 94.9h1M247.6 110.4h1M234.3 98.6h1M252.8 95.9h1M233.8 116.9h1M238.7 110.6h1M248.6 106.8h1M260.2 101.1h1M242.7 96.9h1M250.0 105.7h1M254.0 87.3h1M237.3 105.3h1M238.5 115.3h1M252.4 95.2h1M255.2 96.1h1M230.9 105.7h1M241.8 109.7h1M238.3 98.8h1M244.9 89.6h1M251.1 111.6h1M254.6 91.2h1M247.5 108.3h1M261.7 104.9h1M246.6 112.8h1M237.0 114.3h1M256.2 91.2h1M244.0 110.2h1M246.8 98.8h1M234.8 111.6h1M246.4 96.9h1M247.9 98.0h1M237.1 116.9h1M249.8 105.9h1M246.3 103.6h1M251.2 104.6h1M259.1 97.4h1M251.6 95.8h1M255.8 96.1h1M232.9 108.8h1M262.6 93.7h1M251.9 96.8h1M242.0 106.6h1M242.0 95.3h1M250.3 89.1h1M251.4 88.1h1M251.0 107.2h1M261.6 94.8h1M257.1 96.9h1M244.6 100.7h1M238.0 110.9h1M240.0 106.2h1M236.1 104.7h1M249.8 87.7h1M262.5 97.0h1M254.6 100.3h1M250.5 100.2h1M242.8 101.7h1M235.1 101.6h1M244.9 108.3h1M244.3 98.3h1M241.7 99.6h1M252.0 89.9h1M238.3 104.2h1M251.5 90.4h1M249.4 95.6h1M235.1 108.0h1M261.0 98.9h1M265.2 100.4h1M245.0 111.5h1M252.5 97.8h1M264.0 95.2h1M245.2 110.3h1M246.6 95.2h1M253.4 91.6h1M254.5 99.2h1M252.3 98.5h1M236.2 93.4h1M250.4 106.6h1M250.5 98.3h1M255.6 89.6h1M228.9 104.6h1M260.0 103.3h1M231.8 103.5h1M250.1 98.0h1M238.1 106.5h1M248.9 95.8h1M265.5 94.0h1M242.3 116.9h1M256.2 99.3h1M246.4 107.4h1M253.4 110.4h1M248.2 99.9h1M249.8 92.1h1M246.5 100.6h1M254.4 108.6h1M244.8 101.2h1M255.2 103.7h1M254.0 96.7h1M234.9 113.7h1M235.3 103.4h1M249.0 95.9h1M254.1 102.5h1M256.2 93.3h1M251.2 96.8h1M236.5 101.7h1M238.7 110.8h1M244.4 100.9h1M246.8 103.1h1M238.9 102.1h1M241.1 111.5h1M248.1 91.6h1M243.9 108.6h1M258.9 86.9h1M244.8 103.0h1M249.1 81.9h1M248.4 94.4h1M251.0 111.3h1M238.1 111.3h1M250.9 99.3h1M262.3 98.4h1M249.9 99.7h1M248.4 86.1h1M249.7 91.0h1M258.1 101.7h1M253.0 101.7h1M248.2 99.7h1M247.5 103.8h1M260.3 99.0h1M253.2 88.7h1M252.5 93.0h1M258.9 90.8h1M261.7 105.9h1M263.7 96.2h1M232.6 109.1h1M235.6 104.4h1M234.8 110.8h1M249.8 99.3h1M240.6 104.3h1M246.5 100.7h1M247.2 102.4h1M254.7 109.0h1M243.1 101.3h1M243.9 105.4h1M243.6 100.7h1M257.7 99.2h1M245.0 99.3h1M245.2 113.7h1M249.5 102.7h1M242.5 98.3h1M247.7 104.4h1M229.0 116.9h1M247.4 101.7h1M251.0 98.5h1M243.3 110.1h1M238.1 104.4h1M237.6 98.9h1M236.1 115.4h1M245.7 112.6h1M261.0 103.4h1M246.8 102.6h1M240.4 114.0h1M231.6 99.9h1M255.9 84.9h1M235.0 100.9h1M247.2 95.6h1M243.0 97.6h1M254.8 95.0h1M259.4 98.6h1M260.3 101.7h1M261.3 114.4h1M247.4 106.0h1M247.3 94.4h1M253.3 98.6h1M261.6 106.2h1M240.4 93.3h1M250.0 113.3h1M250.1 107.6h1M259.7 90.2h1M242.7 94.1h1M240.3 97.1h1M252.1 100.4h1M235.3 106.1h1M228.9 109.9h1M231.7 97.6h1M239.2 116.9h1M252.2 97.2h1M243.0 88.8h1M253.8 98.7h1M241.9 116.9h1M251.3 93.7h1M242.3 111.3h1M246.9 111.6h1M247.3 96.1h1M260.0 95.7h1M248.9 95.7h1M259.0 99.7h1M237.0 108.8h1M236.7 109.5h1M246.3 99.1h1M248.6 100.1h1M244.3 99.1h1M254.7 94.1h1M259.9 99.2h1M245.2 90.8h1M249.0 97.9h1M244.5 95.6h1M243.9 108.3h1M246.8 103.9h1M254.3 101.4h1M248.3 102.0h1M250.1 104.1h1M256.6 107.3h1M244.0 106.3h1M252.7 99.2h1M251.4 101.9h1M241.2 109.7h1M244.5 105.1h1M249.6 98.0h1M255.5 99.3h1M241.0 109.4h1M247.8 98.5h1M263.7 95.2h1M262.1 85.0h1M238.5 95.8h1M256.8 89.8h1M247.2 94.9h1M243.2 102.5h1M247.4 89.6h1M245.5 95.4h1M247.8 105.3h1M249.3 96.2h1M241.3 98.6h1M241.3 108.2h1M249.1 101.9h1M239.0 113.6h1M247.5 99.4h1M243.4 100.8h1M234.4 102.1h1M250.8 98.2h1M242.1 101.9h1M248.4 93.9h1M249.6 98.7h1M241.2 97.2h1M257.1 101.3h1M252.7 97.5h1M246.9 109.2h1M262.0 108.6h1M249.8 102.6h1M256.9 100.9h1M247.6 97.0h1M251.1 103.1h1M253.0 96.9h1M255.6 101.8h1M246.9 103.5h1M240.2 101.3h1M250.7 91.0h1M244.5 99.3h1M256.9 99.0h1M247.8 99.9h1M241.5 108.8h1M256.6 97.2h1M246.7 108.9h1M248.3 93.3h1M237.6 109.3h1M256.6 89.3h1M260.3 100.8h1M252.3 104.3h1M251.6 102.0h1M248.9 92.0h1M250.1 101.7h1M247.7 99.1h1M243.0 100.8h1M252.3 89.7h1M230.0 113.3h1M236.9 98.3h1M267.7 94.0h1M248.3 93.5h1M228.9 107.8h1M228.9 107.3h1M243.0 105.2h1M250.1 103.8h1M256.6 98.4h1M250.5 84.1h1M243.5 96.2h1M240.4 95.1h1M255.3 97.8h1M255.6 88.5h1M258.8 97.7h1M246.8 94.1h1M235.0 108.2h1M251.3 96.2h1M262.8 85.6h1M250.0 97.4h1M236.3 105.2h1M249.5 101.7h1M247.8 97.0h1M239.4 106.7h1M232.5 97.9h1M238.5 114.1h1M253.7 100.5h1M255.3 101.0h1M265.0 91.5h1M248.5 99.9h1M245.6 96.4h1M263.9 98.9h1M238.2 99.8h1M256.2 107.8h1M241.5 108.8h1M252.0 96.5h1M241.2 109.7h1M253.0 112.2h1M252.6 100.4h1M263.2 90.3h1M242.5 104.0h1M245.0 106.1h1M248.0 94.7h1M234.8 105.9h1M259.7 92.8h1M240.5 107.9h1M240.2 112.9h1M256.8 97.8h1M241.5 111.5h1M244.1 105.0h1M261.5 99.8h1M248.2 94.0h1M252.8 100.5h1M229.2 97.3h1M252.2 102.3h1M246.5 107.1h1M239.8 112.2h1M251.4 96.6h1M248.7 95.7h1M251.7 98.9h1M240.0 99.3h1M257.1 94.3h1M257.6 101.0h1M239.2 95.4h1M242.5 100.8h1M245.7 101.2h1M245.0 104.9h1M232.6 93.3h1M249.0 112.4h1M239.8 110.0h1M241.2 116.9h1M252.0 89.5h1M245.3 96.9h1M252.2 107.3h1M257.3 108.6h1M242.5 104.5h1M257.6 97.3h1M246.3 106.2h1M248.0 100.5h1M253.3 90.6h1M253.4 99.1h1M246.0 91.4h1M248.9 100.6h1M262.1 87.1h1M252.0 100.3h1M242.1 95.8h1M243.6 96.1h1M240.8 102.1h1M250.6 99.1h1M249.2 98.0h1M238.0 110.4h1M246.1 90.1h1M246.3 107.0h1M241.9 102.3h1M257.0 101.7h1M251.9 98.5h1M244.4 107.6h1M246.0 105.8h1M251.7 110.6h1M256.5 93.7h1M252.0 90.4h1M252.2 110.1h1M247.7 98.0h1M241.7 109.5h1M250.8 96.8h1M243.8 103.4h1M243.1 105.6h1M246.8 94.5h1M234.1 106.7h1M260.5 95.3h1M248.5 95.4h1M239.1 110.7h1M233.7 113.7h1M249.3 95.1h1M243.9 106.1h1M250.6 96.2h1M249.4 112.1h1M242.8 116.9h1M249.3 105.6h1M241.9 93.2h1M258.1 94.9h1M249.5 99.2h1M242.5 102.6h1M262.9 101.9h1M241.9 101.5h1M254.6 93.8h1M239.4 104.0h1M245.1 109.1h1M247.9 103.7h1M254.8 96.2h1M240.9 102.2h1M244.4 105.7h1M243.3 95.5h1M243.9 112.4h1M240.9 97.8h1M264.9 102.5h1M244.4 103.8h1M235.8 101.7h1M246.9 99.3h1M265.6 97.4h1M253.8 94.0h1M242.1 106.0h1M260.0 93.0h1M248.5 107.3h1M254.5 95.7h1M265.2 86.8h1M253.9 97.5h1M247.8 104.2h1M249.8 98.7h1M252.6 92.8h1M249.8 103.6h1M253.9 89.6h1M240.5 100.3h1M251.8 96.4h1M251.4 100.3h1M246.5 90.8h1M261.4 105.6h1M228.9 104.1h1M241.8 105.7h1M234.3 102.4h1M246.8 104.4h1M254.6 84.0h1M259.3 90.4h1M243.9 97.8h1M247.0 93.9h1M252.0 99.8h1M251.8 104.1h1M253.8 89.9h1M244.3 98.4h1M233.7 99.0h1M254.4 105.2h1M261.5 96.2h1M233.2 113.3h1M254.4 100.6h1M256.3 107.9h1M246.5 95.2h1M241.7 98.3h1M244.3 99.7h1M249.9 86.5h1M237.2 99.0h1M258.0 104.8h1M247.9 86.6h1M255.9 116.7h1M245.3 112.0h1M249.8 104.7h1M242.7 107.4h1M249.7 103.1h1M239.9 104.4h1M250.6 105.3h1M256.4 108.6h1M250.6 102.4h1M260.1 101.3h1M241.9 110.7h1M263.5 92.6h1M238.4 105.5h1M239.5 93.8h1M250.7 112.5h1M249.0 94.8h1M247.3 98.0h1M246.4 99.9h1M249.0 104.8h1M250.1 99.1h1M247.0 105.2h1M239.0 101.8h1M254.0 113.9h1M242.9 93.9h1M254.8 103.2h1M258.3 103.9h1M240.8 90.9h1M243.7 103.3h1M233.8 110.9h1M237.7 104.5h1M232.3 98.6h1M244.4 105.5h1M242.1 97.8h1M259.8 99.9h1M260.5 87.4h1M258.2 96.0h1M235.1 100.2h1M243.9 100.7h1M231.9 107.0h1M249.2 106.2h1M249.7 90.0h1M249.2 104.6h1M266.8 108.7h1M239.8 100.5h1M242.4 116.4h1M249.4 95.2h1M240.8 93.8h1M251.4 92.5h1M234.8 104.5h1M260.4 84.9h1M258.1 97.9h1M248.8 104.4h1M256.3 102.7h1M248.3 113.4h1M235.0 93.5h1M247.8 99.5h1M229.3 106.2h1M264.2 105.4h1M228.9 107.4h1M242.9 103.5h1M237.0 112.2h1M237.1 99.8h1M246.9 96.0h1M238.4 99.8h1M243.7 101.4h1M254.9 98.6h1M244.4 112.0h1M247.8 96.0h1M242.1 102.8h1M232.8 113.3h1M250.6 92.0h1M244.7 112.0h1M244.2 111.5h1M245.0 89.6h1M249.7 101.2h1M255.8 100.9h1M250.0 98.9h1M251.0 109.0h1M253.1 93.8h1M228.9 116.9h1M239.9 93.8h1M247.5 96.7h1M251.9 94.2h1M242.0 106.1h1M250.4 96.3h1M252.0 97.5h1M243.3 95.2h1M251.2 93.3h1M228.9 100.6h1M228.9 105.3h1M241.8 101.7h1M243.3 104.0h1M248.9 98.3h1M240.7 116.9h1M240.8 99.4h1M240.3 100.2h1M244.2 107.7h1M257.0 87.9h1M246.4 101.5h1M255.2 107.0h1M240.0 95.9h1M254.8 101.9h1M240.8 100.6h1M235.6 107.3h1M245.4 116.8h1M252.2 94.8h1M256.1 107.4h1M236.6 109.0h1M236.4 91.2h1M239.2 105.2h1M249.0 97.6h1M259.4 104.4h1M254.6 98.0h1M237.5 102.7h1M235.6 94.1h1M241.2 96.4h1M258.1 101.8h1M239.8 102.2h1M238.5 97.8h1M248.7 105.3h1M241.6 98.0h1M235.2 93.7h1M240.7 104.0h1M239.6 92.9h1M254.2 90.8h1M252.7 98.8h1M261.4 92.8h1M250.9 96.3h1M253.4 97.5h1M245.9 111.4h1M264.5 104.3h1M229.3 110.5h1M263.5 88.7h1M242.2 100.7h1M247.1 113.5h1M244.5 99.9h1M257.1 105.8h1M228.9 116.2h1M250.1 99.7h1M248.5 99.7h1M244.2 110.4h1M251.1 97.4h1M252.1 91.7h1M236.9 116.9h1M232.3 91.7h1M239.6 100.6h1M247.2 96.4h1M274.2 96.6h1M245.9 105.1h1M249.3 97.1h1M239.1 94.9h1M256.9 95.4h1M246.4 102.7h1M233.5 100.7h1M239.1 106.4h1M255.7 104.4h1M242.9 96.8h1M262.9 100.9h1M256.6 102.5h1M250.5 97.0h1M237.7 97.2h1M262.4 96.4h1M249.5 107.7h1M262.3 96.3h1M236.6 99.1h1M235.0 108.7h1M229.4 97.3h1M265.9 99.7h1M241.8 106.1h1M242.5 98.8h1M259.5 103.9h1M251.0 111.3h1M260.1 97.9h1M241.4 92.9h1M246.4 92.5h1M256.3 87.9h1M240.6 102.5h1M250.4 101.3h1M260.1 101.9h1M255.7 90.0h1M230.9 111.7h1M239.7 106.5h1M250.6 101.1h1M247.9 103.7h1M246.6 98.1h1M253.5 104.1h1M246.3 106.0h1M245.8 110.4h1M255.3 94.5h1M246.3 105.6h1M243.4 106.2h1M234.3 94.3h1M274.9 100.9h1M237.5 100.0h1M252.4 109.4h1M231.1 102.1h1M230.5 96.7h1M243.1 101.6h1M247.3 104.5h1M246.1 103.2h1M257.7 98.6h1M247.0 104.4h1M241.9 107.1h1M247.4 89.3h1M256.7 96.8h1M261.3 90.6h1M249.0 101.5h1M238.1 102.0h1M244.6 111.7h1M236.5 91.7h1M249.1 97.3h1M249.0 103.4h1M251.2 93.0h1M244.7 98.4h1M255.9 101.6h1M248.7 105.2h1M252.3 101.9h1M256.9 103.1h1M261.5 98.9h1M240.2 108.6h1M252.9 104.8h1M262.4 88.6h1M251.6 108.7h1M247.1 105.6h1M232.1 102.5h1M265.8 99.1h1M254.1 90.9h1M239.2 105.4h1M249.5 97.3h1M237.7 102.3h1M246.4 95.2h1M233.9 108.3h1M243.0 104.1h1M253.4 103.2h1M270.3 98.9h1M254.3 92.5h1M255.4 100.0h1M240.3 104.5h1M252.9 98.6h1M252.2 95.9h1M239.8 108.9h1M259.4 100.6h1M234.0 92.9h1M240.3 108.8h1M255.4 105.8h1M240.0 96.4h1M240.4 87.0h1M248.1 83.8h1M248.4 100.3h1M241.9 103.9h1M243.1 102.3h1M253.8 107.1h1M239.6 116.3h1M259.9 97.9h1M247.2 101.3h1M255.7 96.5h1M254.4 100.0h1M246.3 101.6h1M231.6 98.5h1M234.0 110.9h1M252.9 99.0h1M254.1 88.3h1M262.9 87.8h1M245.4 88.5h1M239.9 103.6h1M255.7 99.9h1M246.3 103.5h1M258.8 113.3h1M258.0 91.2h1M246.7 97.6h1M239.1 96.2h1M273.0 99.5h1M259.0 98.0h1M244.4 104.8h1M245.7 109.3h1M235.9 93.7h1M247.1 97.5h1M249.9 97.2h1M234.5 110.5h1M252.6 93.1h1M237.7 107.3h1M238.3 99.3h1M250.2 99.9h1M241.8 100.3h1M247.5 105.6h1M250.1 104.4h1M255.3 94.7h1M241.5 98.9h1M247.8 105.2h1M239.6 113.6h1M237.8 101.4h1M257.4 102.1h1M248.6 98.4h1M253.8 96.3h1M257.6 93.2h1M240.9 100.2h1M228.9 107.6h1M247.5 97.2h1M244.7 96.4h1M258.4 103.1h1M242.7 100.6h1M251.4 98.9h1M254.3 106.4h1M253.8 91.7h1M256.6 95.6h1M245.3 99.0h1M246.7 111.1h1M242.2 102.6h1M242.9 108.0h1M245.3 103.8h1M247.9 101.1h1M248.7 94.3h1M248.4 98.1h1M237.0 116.9h1M243.9 97.6h1M244.4 105.7h1M236.9 98.2h1M242.8 100.6h1M256.8 94.9h1M266.1 96.5h1M255.3 94.3h1M241.8 102.2h1M242.5 108.7h1M249.8 105.1h1M261.4 101.7h1M242.7 101.7h1M242.9 101.8h1M242.2 111.4h1M228.9 114.8h1M260.1 94.5h1M248.6 103.5h1M246.1 99.4h1M235.6 109.3h1M239.8 95.1h1M238.4 96.0h1M243.4 84.8h1M246.6 100.9h1M258.6 92.2h1M255.2 105.5h1M256.8 87.7h1M246.4 104.2h1M238.1 97.1h1M249.8 100.2h1M236.9 93.6h1M254.6 99.0h1M259.7 103.5h1M254.7 105.2h1M259.1 99.4h1M257.6 100.7h1M250.6 92.8h1M239.7 102.5h1M240.2 97.5h1M242.2 104.7h1M245.6 94.1h1M238.5 103.6h1M244.5 105.2h1M240.7 103.8h1M248.9 110.3h1M249.2 107.9h1M247.4 86.5h1M239.1 103.6h1M245.1 95.3h1M243.3 113.3h1M233.7 103.6h1M249.4 93.6h1M242.8 98.0h1M238.3 95.3h1M246.7 105.4h1M248.8 89.5h1M240.2 110.8h1M238.7 110.6h1M246.9 98.8h1M245.9 100.1h1M257.2 100.0h1M236.7 116.9h1M249.3 104.7h1M245.2 98.9h1M251.2 109.8h1M239.2 102.7h1M246.1 94.0h1M243.1 115.2h1M257.1 108.5h1M239.1 100.8h1M238.4 87.7h1M249.3 97.0h1M243.6 88.0h1M251.8 104.2h1M257.8 108.6h1M242.4 100.5h1M248.4 106.7h1M260.6 87.9h1M239.4 100.8h1M241.9 105.2h1M255.6 97.8h1M246.4 100.6h1M237.4 96.0h1M241.0 94.5h1M243.4 104.9h1M259.8 96.2h1M241.9 105.8h1M252.4 87.7h1M252.4 102.0h1M237.9 107.8h1M246.3 99.7h1M241.8 94.4h1M239.2 107.7h1M251.5 96.7h1M244.0 95.8h1M235.4 93.9h1M265.7 83.5h1M248.3 88.2h1M247.7 92.4h1M245.6 100.2h1M251.7 110.7h1M245.5 90.6h1M228.9 105.4h1M255.0 96.7h1M248.9 91.7h1M250.1 112.1h1M239.3 105.0h1M248.5 103.4h1M246.4 90.7h1M228.9 100.6h1M255.2 94.9h1M247.4 100.5h1M250.3 98.6h1M241.2 97.7h1M240.3 103.1h1M244.3 109.1h1M252.4 100.0h1M237.5 104.2h1M235.7 95.1h1M251.6 87.2h1M242.5 97.8h1M239.2 108.6h1M246.5 98.6h1M255.0 100.5h1M256.5 92.3h1M239.9 104.1h1M239.6 92.4h1M242.7 96.7h1M254.9 100.4h1M243.2 99.9h1M240.8 110.7h1M239.2 101.1h1M248.9 89.4h1M232.0 102.1h1M237.6 96.4h1M253.1 98.5h1M259.6 99.8h1M242.8 108.8h1M241.8 101.8h1M252.9 91.3h1M245.0 106.2h1M244.5 104.4h1M243.4 104.6h1M240.0 103.3h1M243.0 103.2h1M235.7 103.3h1M252.1 95.5h1M242.7 109.4h1M236.4 111.3h1M241.9 104.4h1M232.5 100.9h1M234.4 108.8h1M241.3 97.4h1M262.6 98.9h1M245.0 104.0h1M245.6 102.5h1M267.9 102.0h1M246.4 106.1h1M250.3 103.4h1M252.1 106.4h1M264.9 94.7h1M232.6 100.7h1M243.4 109.3h1M251.0 103.1h1M253.4 102.6h1M254.8 97.9h1M250.3 99.1h1M244.2 104.0h1M251.0 95.5h1M243.9 87.9h1M261.3 104.1h1M256.3 98.8h1M249.2 105.3h1M261.0 102.2h1M246.6 105.6h1M263.3 88.6h1M236.3 106.8h1M250.3 102.8h1M244.3 108.5h1M249.4 107.1h1M254.2 84.1h1M244.6 91.5h1M250.4 104.2h1M244.4 107.7h1M248.2 96.3h1M255.0 100.5h1M237.4 104.2h1M261.2 95.3h1M246.8 114.0h1M243.7 98.6h1M239.4 94.8h1M242.6 107.7h1M242.5 102.9h1M255.6 102.1h1M232.5 105.6h1M251.6 90.2h1M238.0 94.3h1M252.9 96.5h1M240.9 108.2h1M239.4 97.4h1M249.1 93.8h1M262.3 96.6h1M246.9 89.2h1M236.5 106.7h1M244.2 104.1h1M248.5 105.8h1M256.9 106.7h1M240.5 113.3h1M235.7 100.5h1M252.5 100.7h1M254.3 95.1h1M242.5 102.5h1M250.3 87.6h1M243.6 99.6h1M251.8 92.1h1M250.8 93.3h1M238.5 105.0h1M231.3 105.7h1M266.6 94.0h1M248.0 99.1h1M248.5 108.8h1M241.6 103.6h1M248.7 105.9h1M246.4 105.7h1M236.4 108.0h1M240.6 97.6h1M258.4 94.2h1M245.5 104.8h1M234.3 107.8h1M260.2 90.2h1M249.1 101.9h1M247.3 98.3h1M247.2 98.3h1M240.9 102.4h1M244.4 95.1h1M237.0 95.8h1M246.6 104.2h1M247.5 100.1h1M245.4 98.8h1M242.5 112.7h1M253.0 99.4h1M261.0 94.7h1M230.8 97.9h1M241.6 99.1h1M265.6 89.0h1M238.2 104.0h1M234.0 100.5h1M251.9 105.9h1M251.0 94.1h1M254.0 103.1h1M241.6 109.4h1M236.6 102.0h1M247.6 92.8h1M249.5 102.2h1M235.5 94.7h1M248.6 100.7h1M239.0 109.7h1M252.5 105.4h1M252.1 95.7h1M244.1 111.7h1M250.7 91.3h1M240.5 110.6h1M256.3 97.5h1M242.1 94.8h1M245.0 98.8h1M244.0 106.4h1M249.1 105.7h1M232.6 108.3h1M257.5 91.3h1M265.2 89.8h1M260.6 95.6h1M243.7 99.0h1M239.4 98.6h1M243.6 100.3h1M240.3 103.7h1M255.4 99.9h1M241.7 100.7h1M254.5 100.0h1M237.6 113.1h1M236.2 97.5h1M246.6 98.2h1M256.1 96.7h1M251.3 102.9h1M234.0 100.8h1M246.5 97.6h1M238.5 104.2h1M263.9 101.4h1M248.1 92.6h1M245.4 100.6h1M229.7 101.1h1M243.6 94.0h1M246.5 103.4h1M250.9 101.3h1M243.0 92.6h1M255.4 97.9h1M253.9 94.0h1M252.1 99.2h1M247.9 98.2h1M251.9 97.4h1M242.7 102.6h1M251.1 105.8h1M247.2 96.3h1M248.7 102.2h1M247.1 103.9h1M255.4 100.9h1M233.6 112.0h1M249.7 98.9h1M243.4 109.9h1M246.1 106.3h1M241.9 102.4h1M241.0 100.7h1M241.2 105.4h1M245.4 92.5h1M260.3 91.5h1M241.2 102.5h1M254.8 93.9h1M233.9 104.9h1M241.2 98.0h1M252.5 102.6h1M264.9 97.6h1M267.4 96.2h1M246.6 89.6h1M242.9 104.9h1M259.4 97.7h1M251.2 107.3h1M262.0 90.8h1M250.2 95.8h1M243.2 104.9h1M234.4 102.2h1M257.5 92.8h1M254.8 94.4h1M239.7 110.8h1M252.6 98.4h1M255.4 100.2h1M240.0 100.2h1M242.7 112.0h1M242.3 107.5h1M238.1 106.7h1M255.1 84.5h1M261.5 99.3h1M256.7 98.6h1M250.6 104.0h1M246.7 111.1h1M262.0 101.3h1M252.1 103.0h1M249.5 107.3h1M244.2 96.2h1M252.2 111.1h1M254.3 106.8h1M249.6 97.1h1M242.0 104.2h1M245.3 99.0h1M254.8 90.5h1M250.0 88.1h1M239.5 92.3h1M245.1 96.8h1M246.2 100.6h1M239.7 100.6h1M263.9 95.3h1M247.1 100.9h1M253.1 100.4h1M247.2 99.6h1M258.0 92.1h1M238.6 107.1h1M247.4 95.7h1M255.2 99.8h1M264.8 96.9h1M258.8 89.0h1M260.4 95.9h1M252.0 108.7h1M232.6 108.6h1M253.2 92.8h1M246.4 94.8h1M252.0 90.4h1M234.2 109.5h1M239.4 109.3h1M260.8 102.6h1M240.5 105.1h1M254.6 101.6h1M253.3 95.8h1M242.0 116.5h1M239.7 110.4h1M260.7 101.4h1M238.5 101.1h1M247.7 106.3h1M256.3 92.8h1M249.6 104.7h1M240.1 115.2h1M250.4 97.6h1M239.7 102.8h1M274.3 100.0h1M233.2 101.1h1M243.8 104.8h1M252.4 100.2h1M255.5 95.5h1M256.8 97.5h1M229.5 97.7h1M233.3 98.5h1M249.4 108.6h1M247.8 95.4h1M238.9 103.0h1M241.2 108.6h1M242.2 94.6h1M252.9 99.4h1M246.6 100.3h1M249.6 99.1h1M233.1 99.3h1M240.2 116.9h1M253.1 106.5h1M246.1 101.8h1M242.4 99.0h1M245.0 103.2h1M239.4 104.8h1M238.7 103.0h1M258.2 91.7h1M250.8 108.1h1M255.8 92.9h1M264.3 109.6h1M247.4 102.8h1M256.3 104.9h1M244.1 87.8h1M255.5 110.5h1M247.5 92.6h1M242.2 98.7h1M248.1 109.4h1M242.1 95.5h1M257.1 101.8h1M256.6 102.6h1M249.3 100.4h1M237.0 101.8h1M244.1 116.9h1M240.4 107.9h1M240.4 108.7h1M241.6 116.9h1M254.6 98.4h1M249.4 101.9h1M247.8 102.3h1M238.3 112.6h1M247.9 94.6h1M249.2 90.6h1M236.0 105.7h1M242.2 94.9h1M261.3 100.1h1M253.3 100.7h1M239.0 103.9h1M238.7 94.0h1M252.2 92.4h1M250.2 114.7h1M253.9 98.5h1M228.9 105.8h1M255.6 88.2h1M238.8 98.5h1M250.0 101.2h1M244.9 98.4h1M252.0 95.6h1M243.9 109.8h1M258.2 90.0h1M242.6 102.4h1M254.0 109.6h1M251.4 85.2h1M249.5 104.5h1M264.2 96.1h1M249.0 103.0h1M248.8 111.3h1M236.7 112.8h1M254.7 99.4h1M256.8 110.6h1M242.3 93.5h1M240.7 114.0h1M241.1 104.7h1M247.2 93.1h1M258.3 88.5h1M252.1 102.6h1M243.2 111.0h1M257.8 90.4h1M248.0 106.1h1M252.9 96.4h1M248.6 107.6h1M249.3 103.8h1M253.4 95.6h1M250.9 102.5h1M259.9 92.7h1M257.8 92.9h1M252.8 97.0h1M238.4 114.4h1M239.5 99.4h1M254.8 97.7h1M248.0 89.6h1M244.0 112.6h1M234.5 106.5h1M253.1 94.9h1M245.5 96.5h1M246.9 105.4h1M244.2 97.2h1M255.2 105.5h1M239.1 102.5h1M264.8 103.1h1M236.9 101.3h1M251.5 103.5h1M247.1 98.1h1M232.9 105.1h1M252.2 94.0h1M256.9 98.7h1M235.4 96.1h1M253.6 103.0h1M255.8 92.3h1M246.1 115.5h1M243.4 106.6h1M240.4 103.4h1M238.4 101.1h1M262.8 103.8h1M255.9 101.8h1M251.8 100.5h1M257.9 102.3h1M253.3 103.9h1M249.2 100.5h1M256.3 108.0h1M236.2 95.6h1M250.5 89.8h1M238.8 102.0h1M252.2 88.9h1M246.8 103.8h1M253.2 99.9h1M241.1 98.1h1M231.6 111.5h1M258.5 100.8h1M244.6 99.4h1M256.5 95.2h1M239.4 106.6h1M255.9 99.2h1M242.1 97.1h1M256.7 85.1h1M238.4 107.7h1M241.6 100.4h1M243.4 95.3h1M228.9 101.3h1M242.0 104.1h1M252.0 98.4h1M239.0 94.2h1M252.0 102.6h1M249.0 107.2h1M237.2 105.6h1M250.3 99.5h1M240.9 111.1h1M233.5 95.1h1M250.3 104.9h1M257.0 94.9h1M243.9 105.6h1M256.6 96.3h1M260.7 95.0h1M242.5 105.9h1M241.5 101.0h1M249.4 96.7h1M251.0 106.3h1M245.6 107.1h1M251.2 107.8h1M242.5 107.5h1M242.2 103.9h1M259.7 99.0h1M235.5 106.1h1M253.4 95.9h1M249.2 88.3h1M256.4 97.8h1M257.2 106.3h1M245.9 106.6h1M248.7 90.7h1M243.2 92.4h1M238.9 94.6h1M233.4 110.0h1M255.4 99.2h1M248.5 100.7h1M248.8 101.6h1M239.3 104.9h1M248.2 106.1h1M251.1 89.2h1M233.9 108.0h1M245.0 101.5h1M248.1 105.1h1M247.0 101.0h1M246.6 91.8h1M248.3 109.6h1M234.5 101.0h1M244.5 105.5h1M236.2 105.9h1M246.5 105.3h1M244.4 96.4h1M253.7 95.8h1M245.9 109.6h1M253.6 90.1h1M257.7 91.0h1M249.5 98.0h1M247.2 93.4h1M245.1 88.6h1M253.6 101.1h1M247.3 110.7h1M241.3 104.4h1M267.3 100.3h1M254.8 98.4h1M244.9 97.8h1M231.0 99.8h1M263.1 94.7h1M246.8 100.1h1M252.7 102.4h1M248.3 97.6h1M244.4 99.4h1M250.0 95.8h1M239.2 106.4h1M243.8 94.7h1M249.3 110.4h1M236.9 92.1h1M250.0 108.0h1M270.0 77.5h1M277.7 73.5h1M282.3 72.1h1M277.2 68.2h1M274.3 67.2h1M279.3 68.4h1M275.2 81.8h1M282.2 74.1h1M268.3 83.2h1M265.6 90.1h1M277.3 79.5h1M266.6 93.1h1M277.3 65.8h1M271.4 57.6h1M283.0 64.6h1M291.3 63.0h1M277.9 82.1h1M265.8 90.4h1M277.1 79.0h1M266.3 70.6h1M267.2 93.9h1M265.9 71.5h1M266.4 84.7h1M284.3 74.4h1M259.2 68.7h1M284.1 71.3h1M275.2 83.5h1M266.5 95.5h1M276.6 82.1h1M265.3 94.2h1M275.6 76.9h1M278.3 71.5h1M275.6 78.4h1M249.1 81.3h1M257.1 92.2h1M296.0 60.7h1M279.1 74.4h1M268.3 75.3h1M251.4 89.2h1M268.8 93.1h1M267.6 78.6h1M262.1 81.9h1M251.7 80.9h1M272.0 85.9h1M273.4 79.7h1M267.6 95.1h1M276.3 81.1h1M274.1 65.2h1M256.7 89.4h1M281.2 69.2h1M285.5 88.5h1M264.0 86.4h1M276.7 83.6h1M269.1 74.7h1M274.7 78.1h1M262.5 77.5h1M279.0 73.6h1M262.5 78.3h1M263.6 78.9h1M272.5 83.1h1M258.6 98.4h1M265.6 84.0h1M280.6 84.7h1M279.4 64.3h1M282.2 79.3h1M279.5 68.2h1M278.8 82.0h1M271.2 71.7h1M281.9 74.5h1M285.4 78.6h1M273.0 79.0h1M288.7 70.4h1M261.3 74.2h1M278.7 72.7h1M269.6 75.7h1M280.5 74.0h1M261.1 79.6h1M256.5 79.7h1M263.8 92.6h1M287.2 72.3h1M280.1 73.6h1M270.8 81.3h1M266.9 86.5h1M261.3 79.9h1M275.1 72.0h1M272.2 67.6h1M263.7 81.7h1M282.9 68.0h1M265.0 83.5h1M270.5 88.1h1M262.2 74.1h1M266.4 65.4h1M275.1 86.6h1M272.0 72.7h1M268.6 92.3h1M268.2 73.8h1M268.4 81.8h1M275.7 76.0h1M274.3 74.4h1M270.0 74.6h1M271.0 74.7h1M266.4 79.2h1M280.9 82.6h1M278.2 74.2h1M263.7 87.5h1M277.0 86.2h1M271.8 64.5h1M276.4 72.9h1M281.4 58.4h1M259.4 93.7h1M279.3 69.1h1M272.0 102.4h1M273.0 81.1h1M284.5 76.1h1M255.9 95.1h1M250.2 81.8h1M271.6 78.4h1M271.2 76.7h1M283.2 69.7h1M258.5 86.4h1M271.4 91.1h1M284.4 77.5h1M258.3 89.4h1M275.3 80.6h1M274.1 91.8h1M258.1 99.1h1M276.1 74.6h1M271.1 81.2h1M275.1 77.7h1M266.7 80.6h1M283.8 70.7h1M291.4 81.0h1M265.8 76.5h1M277.9 75.1h1M267.0 93.4h1M267.2 82.5h1M280.2 85.6h1M278.4 68.9h1M275.4 79.6h1M276.4 74.1h1M273.9 85.6h1M256.8 84.6h1M273.6 64.6h1M277.9 89.6h1M269.9 74.9h1M282.0 76.7h1M268.3 75.7h1M263.9 98.4h1M266.5 80.1h1M286.9 71.3h1M269.5 82.7h1M279.1 85.3h1M282.0 70.7h1M267.1 89.3h1M273.6 82.5h1M282.4 84.9h1M264.5 81.4h1M283.7 79.2h1M267.0 91.1h1M269.0 64.3h1M267.6 73.5h1M261.1 76.2h1M268.3 98.6h1M274.5 82.7h1M265.8 94.2h1M279.7 82.9h1M262.9 89.8h1M271.5 74.1h1M284.8 74.8h1M272.1 75.1h1M262.9 87.4h1M292.7 72.7h1M282.2 71.6h1M274.1 78.8h1M291.0 82.8h1M266.2 85.0h1M275.3 82.4h1M263.7 91.1h1M270.9 68.4h1M274.5 82.3h1M271.1 78.9h1M268.3 83.0h1M289.6 80.4h1M274.5 72.9h1M265.6 102.2h1M269.5 89.1h1M266.2 84.8h1M271.3 61.6h1M267.1 80.2h1M270.6 76.2h1M250.5 93.4h1M285.0 71.0h1M278.2 82.7h1M281.5 69.1h1M280.5 63.1h1M254.9 89.4h1M285.2 73.8h1M286.1 72.4h1M281.1 65.0h1M275.0 68.7h1M288.6 69.0h1M259.6 95.7h1M285.5 78.6h1M266.4 70.8h1M289.5 73.5h1M247.6 86.9h1M270.6 84.9h1M257.7 86.0h1M266.4 87.9h1M269.6 80.5h1M276.7 69.7h1M264.2 85.1h1M268.4 88.0h1M263.1 77.9h1M282.9 74.8h1M259.6 101.1h1M276.8 82.1h1M249.6 94.7h1M275.2 82.4h1M264.2 83.1h1M279.3 65.3h1M275.6 75.2h1M270.9 66.0h1M272.9 82.3h1M274.2 82.2h1M274.2 79.6h1M254.5 95.3h1M261.3 78.8h1M270.7 75.6h1M257.4 84.4h1M276.3 71.6h1M258.1 93.4h1M256.9 106.6h1M276.9 84.6h1M278.7 79.5h1M271.5 83.5h1M256.6 82.7h1M284.5 80.7h1M260.8 92.6h1M279.3 80.0h1M279.2 65.7h1M276.9 83.1h1M269.6 78.4h1M283.4 73.8h1M274.4 88.6h1M257.7 84.0h1M288.1 66.8h1M262.7 83.1h1M286.7 81.9h1M279.8 80.4h1M276.7 86.0h1M271.8 79.8h1M274.7 88.6h1M256.5 87.7h1M276.6 92.4h1M286.1 73.1h1M261.1 100.0h1M279.2 76.6h1M270.9 86.4h1M274.0 73.4h1M284.1 68.8h1M266.3 93.9h1M280.9 81.5h1M284.5 83.3h1M291.8 65.4h1M263.2 81.3h1M289.0 67.5h1M271.7 88.9h1M264.7 76.8h1M258.8 78.4h1M281.1 78.8h1M278.7 80.3h1M267.8 82.8h1M261.2 86.9h1M258.7 100.7h1M277.9 68.1h1M275.3 75.9h1M269.4 75.5h1M270.6 94.6h1M283.6 66.8h1M278.1 77.7h1M258.0 77.4h1M268.0 84.1h1M278.0 73.6h1M282.9 73.0h1M264.8 80.7h1M271.7 87.9h1M259.0 87.2h1M271.0 86.6h1M263.2 80.2h1M268.6 81.9h1M278.6 79.7h1M260.7 80.5h1M275.0 70.1h1M286.2 66.8h1M278.2 74.9h1M270.3 84.6h1M273.0 75.6h1M267.1 102.7h1M291.2 66.8h1M262.0 84.3h1M285.2 82.5h1M274.8 84.2h1M271.6 82.0h1M279.9 76.1h1M268.7 83.6h1M269.7 82.3h1M279.6 76.5h1M275.6 75.1h1M269.7 85.7h1M278.5 73.9h1M258.7 90.3h1M267.8 87.8h1M285.1 72.6h1M259.1 89.7h1M275.4 85.3h1M257.7 84.3h1M283.1 77.2h1M265.4 86.7h1M282.1 74.3h1M269.1 76.7h1M280.1 64.7h1M262.3 75.9h1M302.8 76.4h1M277.6 64.7h1M279.4 82.2h1M277.0 81.9h1M271.9 76.4h1M275.9 78.5h1M266.4 75.3h1M270.1 77.0h1M242.6 98.2h1M263.8 80.6h1M264.9 74.2h1M262.5 90.1h1M263.9 79.2h1M273.2 67.4h1M275.7 76.5h1M278.1 71.6h1M272.5 72.1h1M261.4 96.4h1M272.1 63.7h1M267.1 70.3h1M264.9 79.4h1M285.5 67.3h1M284.9 70.8h1M275.3 84.1h1M268.2 92.7h1M264.2 71.0h1M271.7 76.8h1M276.3 78.7h1M267.4 77.3h1M256.3 87.3h1M261.6 76.0h1M267.4 75.5h1M288.7 74.6h1M264.0 93.8h1M271.9 80.4h1M266.5 76.3h1M262.1 95.7h1M276.4 96.3h1M283.5 71.3h1M264.8 80.8h1M280.5 76.5h1M286.9 82.1h1M277.4 76.8h1M273.7 83.1h1M268.4 84.9h1M284.4 71.8h1M275.1 83.4h1M280.3 70.1h1M268.4 87.3h1M275.0 62.7h1M251.8 92.5h1M255.9 92.8h1M273.7 91.7h1M265.1 87.8h1M254.9 97.1h1M284.1 72.5h1M278.9 80.4h1M284.0 89.1h1M277.2 87.6h1M280.7 83.6h1M261.5 102.5h1M274.1 91.1h1M279.2 90.8h1M271.5 79.7h1M284.1 81.9h1M281.3 94.2h1M272.3 92.0h1M264.1 98.7h1M274.3 98.4h1M277.3 87.6h1M271.1 93.9h1M277.8 87.4h1M275.9 98.0h1M259.9 82.3h1M267.7 94.8h1M258.2 99.6h1M267.1 88.1h1M251.6 104.7h1M269.6 95.1h1M266.7 95.5h1M260.2 92.8h1M282.6 88.3h1M268.6 84.9h1M276.9 96.6h1M268.3 96.1h1M272.6 84.3h1M267.3 93.6h1M273.9 98.3h1M269.1 88.7h1M282.1 100.4h1M278.7 91.8h1M283.4 85.3h1M288.9 85.9h1M269.8 97.1h1M261.4 90.8h1M277.1 85.6h1M275.8 99.7h1M269.7 93.6h1M274.3 86.6h1M284.4 87.1h1M256.3 101.4h1M255.7 100.0h1M263.3 92.3h1M271.2 85.2h1M281.7 92.1h1M280.6 89.6h1M276.6 82.6h1M263.7 94.0h1M285.4 93.1h1M274.7 90.2h1M269.6 100.0h1M267.4 98.5h1M281.7 87.9h1M278.6 97.2h1M277.0 89.6h1M281.4 93.7h1M279.5 81.8h1M287.5 93.6h1M263.9 102.2h1M280.7 86.1h1M275.7 95.9h1M283.1 79.5h1M272.7 92.2h1M282.6 86.2h1M283.8 91.3h1M275.7 92.8h1M268.4 94.3h1M270.7 89.0h1M270.5 91.6h1M266.4 100.2h1M284.5 94.6h1M287.6 82.4h1M254.5 99.5h1M269.6 92.1h1M271.5 95.3h1M283.1 89.8h1M280.7 93.7h1M267.4 84.8h1M270.7 98.5h1M271.6 85.5h1M271.7 96.0h1M278.1 84.4h1M271.3 93.7h1M270.0 76.1h1M271.5 81.4h1M271.8 89.3h1M256.5 94.2h1M273.4 93.2h1M269.7 100.3h1M261.0 93.2h1M267.8 93.2h1M271.5 94.8h1M267.1 81.8h1M264.1 96.5h1M270.6 98.8h1M265.2 88.1h1M280.5 88.9h1M299.1 80.4h1M282.9 93.9h1M281.7 79.4h1M269.9 81.4h1M266.5 99.6h1M272.6 96.3h1M278.1 96.8h1M273.7 102.8h1M272.7 85.3h1M270.9 90.1h1M281.8 95.9h1M262.7 93.3h1M275.2 92.5h1M265.2 86.1h1M263.6 95.1h1M272.6 87.2h1M269.4 97.1h1M289.2 92.6h1M279.4 90.8h1M269.1 92.6h1M270.9 90.1h1M252.5 96.4h1M273.6 97.0h1M269.9 78.3h1M287.9 84.2h1M274.9 92.8h1M284.2 91.5h1M266.4 88.9h1M265.2 97.9h1M284.7 98.2h1M272.5 90.8h1M275.1 99.5h1M271.2 93.8h1M288.5 81.9h1M266.9 87.7h1M278.3 90.9h1M271.0 93.5h1M260.6 98.0h1M280.5 81.1h1M288.0 90.2h1M278.0 104.5h1M270.8 99.4h1M279.6 99.7h1M264.6 99.9h1M276.2 85.7h1M265.6 82.5h1M274.3 96.0h1M275.8 90.8h1M279.7 87.8h1M290.7 80.4h1M271.8 70.3h1M282.1 77.8h1M271.0 79.4h1M258.3 74.4h1M274.9 67.1h1M272.4 74.1h1M281.9 66.9h1M278.9 78.8h1M292.7 64.9h1M286.5 62.2h1M286.9 68.8h1M280.0 69.2h1M265.4 71.7h1M269.3 73.0h1M269.1 71.4h1M272.9 60.7h1M277.9 70.4h1M269.8 76.8h1M276.1 75.3h1M273.3 79.2h1M282.1 74.3h1M270.5 73.0h1M270.5 76.0h1M272.7 79.6h1M274.9 78.5h1M267.3 73.8h1M274.3 82.2h1M273.6 73.2h1M279.7 70.7h1M278.4 69.8h1M272.9 78.8h1M281.0 74.8h1M276.6 69.9h1M283.4 65.2h1M271.5 76.8h1M280.6 80.5h1M267.3 72.4h1M272.0 79.7h1M282.4 69.2h1M283.3 73.8h1M274.4 75.9h1M278.7 84.3h1M271.4 70.9h1M270.8 75.3h1M277.4 70.5h1M273.0 80.7h1M294.9 73.1h1M289.1 80.3h1M277.3 74.5h1M290.5 59.0h1M283.7 77.4h1M270.6 79.1h1M272.7 73.0h1M270.7 76.3h1M287.4 63.0h1M262.8 82.1h1M273.8 67.1h1M274.1 63.6h1M279.2 65.0h1M270.2 76.8h1M284.0 68.6h1M262.8 78.4h1M277.9 69.8h1M271.9 65.1h1M277.7 65.3h1M279.5 72.4h1M274.2 80.5h1M282.9 67.9h1M283.4 74.0h1M269.2 77.4h1M274.2 74.2h1M283.8 76.9h1M273.0 70.6h1M283.2 59.8h1M280.4 77.3h1M268.9 79.7h1M277.1 72.0h1M276.1 77.0h1M275.2 74.3h1M280.9 72.1h1M270.6 81.4h1M287.4 71.4h1M275.3 74.0h1M284.8 73.3h1M277.8 74.6h1M280.8 78.1h1M278.0 67.5h1M285.2 68.1h1M278.7 64.4h1M281.7 64.6h1M267.8 81.7h1M282.4 73.6h1M273.4 79.5h1M287.4 77.5h1M277.3 81.0h1M275.3 61.5h1M294.4 72.0h1M269.2 66.4h1M270.3 84.9h1M279.1 78.9h1M249.0 70.2h1M262.2 103.8h1M278.6 90.3h1M296.1 86.0h1M304.7 70.0h1M308.2 70.2h1M276.9 79.1h1M276.0 111.3h1M254.0 76.1h1M232.3 100.1h1M252.1 88.4h1M256.6 83.6h1M272.0 94.6h1M260.1 116.9h1M276.9 107.3h1M270.2 81.7h1M294.7 76.6h1M302.6 109.2h1M287.9 63.4h1M282.8 104.4h1" stroke="#e0101a" stroke-width="1.15" stroke-opacity="0.92" fill="none"/>
<rect x="228.60" y="37.90" width="93.40" height="79.30" fill="none" stroke="#3a3a3a" stroke-width="1"/>
<line x1="263.50" y1="37.90" x2="263.50" y2="117.20" stroke="#2a2a2a" stroke-width="1.1"/>
<line x1="228.60" y1="81.50" x2="322.00" y2="81.50" stroke="#2a2a2a" stroke-width="1.1"/>
<line x1="228.60" y1="37.90" x2="228.60" y2="118.70" stroke="#111" stroke-width="1.4"/>
<line x1="227.60" y1="117.20" x2="322.00" y2="117.20" stroke="#111" stroke-width="1.2"/>
<path d="M228.60 117.20h-3.7M228.60 117.20v3.7M228.60 111.23h-1.8M235.63 117.20v1.8M228.60 107.74h-1.8M239.74 117.20v1.8M228.60 105.26h-1.8M242.66 117.20v1.8M228.60 103.34h-1.8M244.92 117.20v1.8M228.60 101.77h-1.8M246.77 117.20v1.8M228.60 100.45h-1.8M248.33 117.20v1.8M228.60 99.30h-1.8M249.69 117.20v1.8M228.60 98.28h-1.8M250.88 117.20v1.8M228.60 97.38h-3.7M251.95 117.20v3.7M228.60 91.41h-1.8M258.98 117.20v1.8M228.60 87.92h-1.8M263.09 117.20v1.8M228.60 85.44h-1.8M266.01 117.20v1.8M228.60 83.52h-1.8M268.27 117.20v1.8M228.60 81.95h-1.8M270.12 117.20v1.8M228.60 80.62h-1.8M271.68 117.20v1.8M228.60 79.47h-1.8M273.04 117.20v1.8M228.60 78.46h-1.8M274.23 117.20v1.8M228.60 77.55h-3.7M275.30 117.20v3.7M228.60 71.58h-1.8M282.33 117.20v1.8M228.60 68.09h-1.8M286.44 117.20v1.8M228.60 65.61h-1.8M289.36 117.20v1.8M228.60 63.69h-1.8M291.62 117.20v1.8M228.60 62.12h-1.8M293.47 117.20v1.8M228.60 60.80h-1.8M295.03 117.20v1.8M228.60 59.65h-1.8M296.39 117.20v1.8M228.60 58.63h-1.8M297.58 117.20v1.8M228.60 57.72h-3.7M298.65 117.20v3.7M228.60 51.76h-1.8M305.68 117.20v1.8M228.60 48.27h-1.8M309.79 117.20v1.8M228.60 45.79h-1.8M312.71 117.20v1.8M228.60 43.87h-1.8M314.97 117.20v1.8M228.60 42.30h-1.8M316.82 117.20v1.8M228.60 40.97h-1.8M318.38 117.20v1.8M228.60 39.82h-1.8M319.74 117.20v1.8M228.60 38.81h-1.8M320.93 117.20v1.8M228.60 37.90h-3.8M322.00 117.20v3.8" stroke="#111" stroke-width="0.8" fill="none"/>
<text x="228.60" y="131.00" font-size="7.3" text-anchor="middle" fill="#111">10<tspan dx="0.9" dy="-4.4">0</tspan></text>
<text x="222.30" y="117.50" font-size="6.8" text-anchor="middle" fill="#111" transform="rotate(-90 222.30 117.50)">10<tspan dx="0.6" dy="-3.3">0</tspan></text>
<text x="251.95" y="131.00" font-size="7.3" text-anchor="middle" fill="#111">10<tspan dx="0.9" dy="-4.4">1</tspan></text>
<text x="222.30" y="97.67" font-size="6.8" text-anchor="middle" fill="#111" transform="rotate(-90 222.30 97.67)">10<tspan dx="0.6" dy="-3.3">1</tspan></text>
<text x="275.30" y="131.00" font-size="7.3" text-anchor="middle" fill="#111">10<tspan dx="0.9" dy="-4.4">2</tspan></text>
<text x="222.30" y="77.85" font-size="6.8" text-anchor="middle" fill="#111" transform="rotate(-90 222.30 77.85)">10<tspan dx="0.6" dy="-3.3">2</tspan></text>
<text x="298.65" y="131.00" font-size="7.3" text-anchor="middle" fill="#111">10<tspan dx="0.9" dy="-4.4">3</tspan></text>
<text x="222.30" y="58.02" font-size="6.8" text-anchor="middle" fill="#111" transform="rotate(-90 222.30 58.02)">10<tspan dx="0.6" dy="-3.3">3</tspan></text>
<text x="322.00" y="131.00" font-size="7.3" text-anchor="middle" fill="#111">10<tspan dx="0.9" dy="-4.4">4</tspan></text>
<text x="222.30" y="38.20" font-size="6.8" text-anchor="middle" fill="#111" transform="rotate(-90 222.30 38.20)">10<tspan dx="0.6" dy="-3.3">4</tspan></text>
<text x="273.30" y="137.60" font-size="7.0" text-anchor="middle" fill="#111">AV</text>
<text x="211.00" y="78.15" font-size="6.6" text-anchor="middle" fill="#111" transform="rotate(-90 211.00 78.15)">PI</text>
<path d="M373.8 106.4h1M365.4 99.3h1M369.1 111.2h1M365.1 94.1h1M363.8 102.1h1M372.0 96.8h1M368.3 110.4h1M365.4 111.7h1M391.5 97.2h1M368.0 97.4h1M375.9 103.8h1M375.6 101.2h1M379.6 91.9h1M368.1 105.1h1M369.1 97.3h1M373.7 98.7h1M377.8 105.9h1M371.6 95.7h1M378.0 97.3h1M368.3 106.9h1M363.7 107.7h1M370.1 112.8h1M379.9 106.1h1M372.6 100.0h1M366.2 116.1h1M378.3 99.6h1M368.6 98.0h1M377.8 107.8h1M369.9 114.8h1M368.5 96.4h1M363.9 101.2h1M358.5 109.3h1M378.2 91.9h1M374.2 98.7h1M384.4 114.8h1M356.9 96.8h1M390.4 95.1h1M371.1 102.5h1M370.8 107.7h1M370.5 104.9h1M376.0 98.6h1M378.5 98.5h1M362.8 98.1h1M353.6 109.4h1M373.2 106.6h1M385.6 106.5h1M361.2 109.8h1M373.9 98.5h1M371.5 100.0h1M365.0 109.3h1M371.6 111.8h1M372.1 106.1h1M376.1 108.6h1M366.4 108.7h1M367.7 110.9h1M368.5 112.8h1M374.9 99.0h1M370.5 105.3h1M363.5 111.8h1M368.8 110.0h1M361.2 105.8h1M370.4 106.6h1M364.1 106.3h1M365.1 108.3h1M372.1 99.5h1M376.6 106.1h1M380.2 108.3h1M369.2 96.8h1M389.5 98.1h1M367.7 107.2h1M360.9 107.7h1M367.2 109.6h1M380.1 106.1h1M384.1 95.4h1M375.7 106.2h1M366.5 117.1h1M372.8 105.2h1M373.7 107.3h1M374.5 112.0h1M353.6 106.2h1M379.2 118.2h1M380.8 103.4h1M369.3 113.6h1M362.6 102.2h1M364.7 106.0h1M369.4 92.7h1M377.7 110.0h1M366.8 112.0h1M359.5 111.3h1M379.4 101.4h1M375.9 103.5h1M367.2 104.6h1M370.0 92.9h1M384.9 98.0h1M375.4 114.6h1M369.6 90.3h1M364.2 101.1h1M380.3 103.8h1M368.8 107.4h1M376.9 102.3h1M382.5 93.8h1M370.5 88.8h1M368.1 108.5h1M368.7 109.9h1M367.2 105.5h1M377.6 111.6h1M359.4 111.9h1M368.2 102.2h1M364.3 97.0h1M366.4 106.6h1M371.0 97.1h1M372.9 103.4h1M366.3 104.4h1M373.8 105.4h1M370.4 115.1h1M366.3 98.3h1M381.8 101.5h1M353.6 98.1h1M369.2 89.3h1M367.3 99.1h1M365.7 97.4h1M379.7 107.9h1M380.8 84.4h1M368.8 111.9h1M372.8 106.0h1M358.7 113.7h1M372.5 112.7h1M379.1 99.1h1M369.1 96.3h1M363.2 102.2h1M359.8 109.1h1M375.6 106.0h1M369.6 100.6h1M382.6 93.1h1M374.2 104.7h1M359.1 97.2h1M385.4 112.9h1M377.4 102.5h1M376.2 100.8h1M369.0 104.6h1M370.2 97.4h1M368.5 108.0h1M375.7 98.9h1M374.0 101.6h1M382.2 94.3h1M372.2 105.0h1M375.8 113.9h1M366.4 109.6h1M371.9 106.1h1M390.0 94.4h1M373.7 89.9h1M370.5 106.1h1M380.3 96.5h1M377.9 95.0h1M367.7 108.9h1M364.8 105.2h1M378.5 108.3h1M366.3 113.3h1M386.4 95.0h1M372.3 111.0h1M362.4 110.3h1M370.8 111.7h1M368.7 97.4h1M370.6 103.6h1M354.0 110.4h1M369.4 108.6h1M359.6 107.7h1M362.4 109.7h1M357.9 108.3h1M377.7 107.2h1M373.1 112.5h1M375.1 99.7h1M367.5 99.8h1M363.6 105.9h1M383.8 100.6h1M361.6 99.8h1M374.8 104.7h1M356.2 118.2h1M358.5 98.7h1M372.8 108.6h1M379.6 92.9h1M363.9 103.2h1M357.5 105.6h1M384.9 108.6h1M371.0 107.9h1M369.8 103.9h1M372.7 98.3h1M374.6 96.8h1M378.5 95.4h1M365.2 103.2h1M367.6 110.1h1M386.0 98.2h1M370.9 116.7h1M368.7 100.1h1M368.9 107.9h1M382.2 102.8h1M367.9 105.5h1M368.7 98.4h1M375.0 103.4h1M367.7 106.3h1M383.9 102.3h1M375.7 112.2h1M373.1 99.4h1M380.6 99.5h1M375.1 101.0h1M378.9 89.6h1M372.1 108.6h1M375.2 103.6h1M375.6 98.2h1M371.7 106.5h1M372.9 111.0h1M372.7 108.9h1M374.1 102.5h1M368.8 111.9h1M370.9 108.2h1M369.4 100.4h1M378.0 109.8h1M377.9 94.0h1M379.4 100.1h1M369.8 94.0h1M368.0 114.0h1M371.2 102.3h1M362.4 113.7h1M386.1 99.2h1M376.7 106.0h1M358.6 108.6h1M381.1 105.3h1M356.4 109.2h1M368.3 104.7h1M362.3 108.3h1M366.3 100.1h1M371.7 98.7h1M370.1 117.1h1M355.1 105.3h1M377.4 97.0h1M370.0 115.0h1M366.7 102.9h1M381.4 103.2h1M366.1 110.1h1M378.6 96.8h1M356.2 100.9h1M363.3 115.0h1M358.0 112.0h1M388.8 83.8h1M360.8 110.9h1M371.8 101.4h1M366.8 114.7h1M367.3 109.2h1M356.4 107.3h1M359.0 117.8h1M382.5 95.2h1M381.9 100.3h1M367.3 105.6h1M359.8 102.8h1M372.7 105.4h1M355.8 109.0h1M383.4 92.0h1M377.4 104.4h1M371.6 100.6h1M372.1 97.5h1M365.3 118.2h1M353.6 115.0h1M359.7 103.3h1M379.0 101.8h1M374.8 102.6h1M371.9 106.6h1M367.4 98.0h1M368.4 105.0h1M380.0 95.7h1M367.5 103.5h1M362.6 105.6h1M373.0 103.5h1M371.8 101.7h1M353.6 114.7h1M371.1 107.0h1M363.0 107.7h1M383.2 102.0h1M365.4 108.5h1M361.2 103.9h1M362.8 100.9h1M377.7 98.8h1M378.7 102.4h1M356.7 108.4h1M375.6 112.0h1M360.9 100.3h1M374.0 95.2h1M375.8 102.3h1M373.9 98.2h1M370.3 105.5h1M373.0 105.4h1M389.6 103.5h1M358.6 115.3h1M378.8 104.3h1M371.8 105.1h1M372.7 112.3h1M371.2 107.4h1M379.1 98.1h1M360.6 112.8h1M375.0 95.8h1M376.6 103.4h1M379.3 115.9h1M366.3 111.2h1M362.4 103.1h1M372.7 101.9h1M369.5 100.8h1M376.8 105.9h1M378.0 107.7h1M384.5 108.1h1M368.3 111.3h1M370.9 96.2h1M364.6 95.2h1M381.7 98.8h1M365.9 100.1h1M353.6 115.1h1M378.2 102.3h1M390.3 102.8h1M360.0 108.4h1M375.2 92.7h1M356.6 107.1h1M380.6 105.4h1M366.9 112.5h1M376.7 97.5h1M375.3 101.4h1M378.4 102.7h1M376.3 97.7h1M380.9 98.2h1M371.2 99.8h1M358.2 118.2h1M383.4 99.8h1M362.2 110.0h1M369.4 104.1h1M364.5 99.9h1M357.0 91.1h1M361.9 96.6h1M375.9 112.8h1M360.8 106.6h1M372.7 106.1h1M370.7 103.2h1M361.4 106.4h1M388.7 103.0h1M362.5 102.5h1M381.3 94.9h1M365.5 106.0h1M372.2 105.0h1M373.8 96.8h1M374.9 103.0h1M368.9 93.9h1M360.7 94.9h1M376.5 102.0h1M364.6 94.8h1M380.3 96.0h1M387.3 110.4h1M371.4 105.8h1M364.7 105.4h1M374.9 99.8h1M369.4 112.5h1M375.1 99.3h1M387.6 93.8h1M370.7 111.1h1M392.5 102.2h1M372.1 99.2h1M374.6 95.0h1M362.2 110.7h1M372.0 111.2h1M365.6 97.2h1M373.0 104.1h1M366.0 105.2h1M370.3 110.8h1M376.9 110.2h1M380.9 103.4h1M353.6 118.2h1M372.9 108.8h1M385.2 91.7h1M387.6 94.0h1M381.5 104.8h1M381.1 103.9h1M370.2 112.6h1M371.0 101.6h1M370.1 111.0h1M377.9 96.6h1M369.9 99.6h1M378.6 107.9h1M370.3 115.6h1M362.1 103.9h1M363.4 103.8h1M373.5 115.9h1M366.6 96.1h1M370.7 103.4h1M364.8 115.5h1M357.6 90.3h1M369.1 109.9h1M371.5 115.7h1M382.0 90.6h1M364.4 103.9h1M363.2 101.0h1M363.7 107.0h1M381.2 98.0h1M367.9 114.2h1M357.5 100.5h1M374.8 102.7h1M380.8 100.4h1M364.6 106.5h1M369.8 104.5h1M391.0 95.0h1M372.8 105.1h1M365.0 111.8h1M355.2 111.3h1M358.1 118.2h1M362.9 118.2h1M381.8 93.4h1M362.6 93.9h1M376.0 118.1h1M370.7 110.2h1M356.2 109.8h1M380.0 98.8h1M358.5 111.6h1M364.3 98.9h1M369.7 110.4h1M363.0 118.2h1M363.6 100.7h1M354.8 107.4h1M369.6 99.5h1M361.1 101.3h1M383.3 86.6h1M357.1 108.1h1M368.8 103.9h1M362.4 101.2h1M389.9 89.6h1M362.7 109.9h1M376.5 101.7h1M364.2 98.4h1M374.8 96.7h1M369.1 96.8h1M366.7 112.1h1M370.5 112.8h1M380.9 96.8h1M356.6 107.0h1M377.5 104.5h1M374.0 106.8h1M369.9 104.9h1M374.5 109.0h1M361.2 104.8h1M366.3 102.2h1M366.4 113.4h1M376.6 100.9h1M376.6 104.6h1M367.5 97.3h1M356.5 97.4h1M374.8 103.4h1M371.2 100.3h1M364.1 104.3h1M362.6 117.8h1M372.2 103.1h1M375.9 99.3h1M376.3 97.7h1M361.8 99.2h1M392.6 101.5h1M360.1 102.9h1M378.1 95.9h1M383.2 109.2h1M373.6 100.5h1M380.8 106.8h1M370.7 106.4h1M369.2 105.5h1M369.2 115.4h1M370.2 103.9h1M367.3 118.2h1M364.7 109.8h1M363.3 96.4h1M378.1 103.2h1M375.5 82.6h1M362.5 103.5h1M365.5 96.5h1M379.7 102.4h1M375.6 107.7h1M357.4 102.7h1M384.0 102.3h1M366.1 116.5h1M388.2 106.7h1M362.5 107.6h1M380.5 101.1h1M370.3 104.1h1M377.5 102.5h1M371.8 104.3h1M361.3 98.5h1M364.7 113.9h1M366.9 105.0h1M377.3 111.4h1M360.0 106.0h1M373.6 110.1h1M361.1 105.8h1M369.3 114.5h1M363.2 97.1h1M361.7 100.2h1M357.8 98.6h1M383.7 104.4h1M364.8 101.9h1M360.2 103.7h1M380.6 99.8h1M373.2 104.4h1M378.8 107.0h1M383.6 100.7h1M367.8 115.0h1M366.8 103.8h1M380.8 111.3h1M369.4 108.7h1M360.6 107.0h1M364.2 100.6h1M353.6 105.9h1M354.7 118.2h1M374.8 105.1h1M371.5 109.9h1M361.8 111.2h1M370.0 109.5h1M367.0 110.5h1M372.4 110.7h1M353.6 118.2h1M370.3 103.7h1M378.4 106.6h1M361.0 116.0h1M376.7 106.3h1M378.6 102.4h1M368.2 116.3h1M364.9 100.9h1M365.4 101.5h1M356.9 101.8h1M393.5 91.0h1M373.1 111.1h1M366.1 109.5h1M372.0 116.2h1M363.3 101.3h1M371.7 99.3h1M377.5 109.3h1M359.3 104.5h1M370.7 103.7h1M363.7 99.8h1M374.6 96.1h1M367.5 100.8h1M370.0 110.1h1M369.8 114.6h1M369.0 103.5h1M376.2 109.1h1M359.5 111.8h1M353.6 113.0h1M392.1 97.3h1M364.2 110.2h1M385.1 107.3h1M369.5 105.0h1M364.4 110.3h1M356.6 113.2h1M381.2 92.5h1M368.1 100.5h1M374.3 102.5h1M369.3 97.1h1M375.2 104.3h1M368.5 99.0h1M365.6 110.0h1M368.2 107.9h1M380.9 99.1h1M369.7 107.7h1M382.1 98.3h1M387.6 93.8h1M368.7 108.1h1M368.1 103.8h1M377.0 99.4h1M383.4 110.0h1M370.7 112.9h1M362.0 110.3h1M365.1 111.7h1M357.9 100.7h1M367.8 99.0h1M361.3 118.2h1M365.5 100.2h1M365.8 103.1h1M361.6 98.1h1M374.0 96.8h1M368.2 97.0h1M371.0 107.1h1M365.2 105.4h1M363.0 113.7h1M371.5 99.6h1M368.1 99.7h1M383.5 108.4h1M372.6 109.6h1M365.1 104.6h1M353.6 106.0h1M377.4 99.0h1M375.8 91.6h1M367.4 98.3h1M382.4 97.9h1M355.7 109.3h1M368.0 114.9h1M370.0 99.7h1M368.3 105.9h1M382.6 104.6h1M362.7 106.2h1M379.7 98.0h1M371.0 107.1h1M380.6 96.0h1M356.1 106.2h1M353.6 100.6h1M375.5 106.7h1M359.8 109.0h1M356.0 104.8h1M366.2 116.3h1M370.3 97.0h1M360.0 109.3h1M385.4 98.9h1M365.9 104.3h1M376.9 108.6h1M369.6 114.5h1M357.4 117.3h1M377.4 100.4h1M376.5 95.1h1M370.8 102.7h1M373.8 100.4h1M361.7 108.4h1M369.2 104.4h1M364.3 106.8h1M372.8 102.4h1M375.3 97.8h1M375.0 97.0h1M377.4 93.7h1M375.6 106.6h1M389.6 92.0h1M380.7 96.9h1M370.8 111.2h1M374.1 105.4h1M367.1 118.2h1M383.2 107.9h1M361.4 103.9h1M375.1 107.8h1M370.4 102.7h1M371.7 100.6h1M376.8 104.7h1M357.1 94.7h1M367.3 111.2h1M376.6 98.9h1M365.4 91.2h1M353.6 101.8h1M370.1 102.4h1M373.1 104.9h1M373.1 111.5h1M367.2 93.8h1M353.6 102.6h1M353.6 114.6h1M377.7 104.7h1M365.7 114.8h1M369.5 105.6h1M365.2 115.3h1M371.7 101.3h1M379.9 98.5h1M383.0 93.4h1M353.6 100.5h1M369.6 110.9h1M374.0 97.3h1M357.7 115.4h1M376.1 106.1h1M382.5 99.5h1M365.9 113.7h1M375.4 113.4h1M359.7 115.3h1M384.5 89.8h1M368.6 107.1h1M376.2 95.0h1M363.8 92.6h1M368.7 97.8h1M353.6 110.0h1M364.7 93.6h1M368.7 112.6h1M386.5 104.0h1M370.4 111.9h1M376.0 101.5h1M368.1 107.4h1M365.7 110.0h1M358.8 100.1h1M377.8 110.7h1M360.8 104.4h1M389.1 100.3h1M367.9 106.5h1M372.5 104.7h1M379.4 95.7h1M375.0 93.3h1M368.5 108.2h1M395.0 109.3h1M357.6 118.2h1M373.4 110.0h1M379.2 114.7h1M369.3 107.0h1M361.5 99.8h1M367.2 102.4h1M366.1 104.5h1M366.7 104.8h1M369.6 108.7h1M374.1 104.4h1M362.4 112.9h1M374.1 95.0h1M359.6 109.8h1M374.2 96.8h1M376.3 109.9h1M370.7 98.6h1M372.4 105.1h1M360.7 105.9h1M369.9 104.2h1M382.9 93.5h1M363.9 104.6h1M367.9 104.3h1M383.9 94.8h1M370.8 108.2h1M369.1 102.4h1M366.3 98.6h1M370.6 111.5h1M387.3 117.4h1M368.2 105.6h1M378.6 95.1h1M382.5 91.3h1M373.1 102.8h1M378.9 102.1h1M360.0 109.9h1M375.9 98.9h1M361.3 99.4h1M373.0 112.8h1M374.3 97.0h1M374.9 104.9h1M363.8 99.2h1M372.3 103.7h1M367.1 111.5h1M355.0 110.7h1M379.6 97.0h1M364.8 96.4h1M368.6 110.9h1M378.5 93.5h1M367.2 112.6h1M369.9 118.2h1M370.9 94.7h1M372.7 108.1h1M376.3 105.6h1M380.9 103.5h1M387.3 101.7h1M372.0 109.6h1M359.9 105.1h1M373.4 109.4h1M375.1 105.5h1M365.9 105.9h1M373.7 98.9h1M380.7 99.0h1M364.4 110.1h1M373.5 110.7h1M369.0 107.0h1M369.6 103.3h1M379.0 91.8h1M377.8 96.0h1M361.6 100.3h1M381.2 109.6h1M391.3 101.9h1M353.6 98.9h1M371.0 109.0h1M365.7 99.0h1M372.6 105.9h1M380.0 107.3h1M363.4 109.6h1M364.3 101.7h1M368.6 111.2h1M366.7 117.5h1M371.8 103.2h1M375.5 104.3h1M373.7 109.1h1M370.7 103.2h1M360.4 103.4h1M371.6 103.6h1M366.5 93.0h1M370.5 108.9h1M363.4 102.6h1M368.7 109.6h1M364.5 100.2h1M371.2 97.6h1M370.3 111.5h1M377.6 100.3h1M365.1 107.6h1M362.4 101.4h1M367.0 102.3h1M372.6 105.2h1M373.5 104.9h1M360.7 109.5h1M360.7 102.3h1M375.8 106.3h1M375.6 101.3h1M378.5 107.7h1M370.7 110.3h1M364.8 97.4h1M353.9 114.4h1M374.5 98.4h1M364.0 118.2h1M356.3 105.9h1M379.5 96.1h1M364.4 97.6h1M368.9 100.9h1M368.9 94.9h1M366.2 118.2h1M367.9 103.8h1M372.7 108.0h1M368.5 111.7h1M368.5 104.2h1M372.4 93.6h1M354.0 105.6h1M374.0 110.3h1M371.0 104.1h1M362.2 102.1h1M386.2 95.7h1M376.8 95.9h1M369.4 98.6h1M363.8 105.0h1M376.2 94.6h1M368.1 106.7h1M374.3 103.6h1M371.6 99.0h1M364.2 100.6h1M373.6 105.0h1M360.2 110.9h1M370.1 98.6h1M354.3 104.4h1M372.0 110.7h1M377.5 99.8h1M374.0 109.2h1M361.4 101.2h1M382.0 98.8h1M368.9 107.4h1M356.4 102.1h1M369.7 96.9h1M364.6 99.5h1M364.6 102.3h1M381.7 105.4h1M377.9 102.2h1M362.8 105.1h1M375.7 107.1h1M368.3 108.3h1M364.2 107.3h1M377.2 105.4h1M380.6 103.7h1M364.8 99.3h1M381.9 105.0h1M375.2 110.0h1M367.1 107.4h1M376.2 110.2h1M366.3 109.6h1M371.3 111.5h1M359.5 90.1h1M372.2 112.9h1M377.2 110.3h1M355.1 98.4h1M380.6 106.5h1M361.6 103.8h1M387.0 96.0h1M375.8 109.9h1M356.0 105.9h1M378.7 101.1h1M370.4 95.9h1M363.6 99.5h1M377.2 106.1h1M371.5 103.3h1M375.2 108.8h1M368.6 104.2h1M370.7 104.0h1M372.5 104.8h1M366.4 99.1h1M365.2 107.6h1M363.3 113.2h1M374.1 103.5h1M369.4 101.8h1M369.1 100.5h1M385.1 98.0h1M368.3 94.8h1M376.2 112.7h1M381.3 99.9h1M377.4 109.3h1M363.6 110.1h1M374.9 109.8h1M364.7 100.1h1M365.2 105.0h1M363.2 116.5h1M369.8 105.1h1M358.9 101.6h1M377.1 97.0h1M366.3 112.3h1M369.7 103.4h1M369.0 108.2h1M362.4 110.9h1M369.8 107.4h1M383.9 102.1h1M374.1 106.0h1M369.0 110.5h1M366.5 114.3h1M353.7 100.8h1M361.9 104.0h1M369.4 107.9h1M376.3 105.9h1M374.0 105.5h1M378.3 96.3h1M371.0 97.5h1M374.5 93.7h1M369.5 113.8h1M372.2 102.3h1M367.5 106.3h1M368.3 112.4h1M384.3 105.0h1M361.8 116.1h1M363.6 106.4h1M382.3 97.3h1M364.6 113.3h1M361.4 107.2h1M377.4 105.2h1M383.4 89.0h1M371.7 116.9h1M379.2 102.4h1M375.8 96.8h1M362.3 106.1h1M371.9 108.4h1M376.0 103.5h1M367.2 93.9h1M371.8 94.1h1M369.2 98.4h1M364.4 105.0h1M379.1 114.9h1M374.8 104.7h1M379.2 100.7h1M369.8 112.1h1M394.1 102.1h1M367.8 109.3h1M368.0 103.6h1M359.7 100.9h1M368.3 101.2h1M353.6 112.1h1M368.0 107.2h1M365.1 103.9h1M373.7 109.2h1M354.6 104.3h1M367.8 98.6h1M377.4 102.9h1M358.9 109.6h1M364.6 98.4h1M356.8 102.6h1M358.0 111.1h1M359.1 111.6h1M366.9 103.0h1M365.7 101.4h1M384.5 99.4h1M361.2 107.9h1M369.6 106.6h1M379.7 94.8h1M386.5 96.6h1M353.6 111.0h1M375.8 107.6h1M365.6 100.1h1M371.6 110.7h1M365.7 118.2h1M370.4 111.6h1M370.0 111.5h1M363.0 109.4h1M392.8 105.2h1M360.9 110.1h1M378.9 97.1h1M376.0 104.6h1M371.4 108.6h1M368.9 109.5h1M358.7 113.5h1M385.9 97.6h1M364.4 106.6h1M366.8 98.0h1M370.2 108.1h1M375.8 100.8h1M364.9 110.4h1M371.5 113.8h1M363.1 100.2h1M377.3 95.6h1M366.8 108.8h1M368.2 107.8h1M380.7 102.7h1M381.2 105.5h1M373.4 93.7h1M364.4 109.8h1M365.6 115.3h1M368.0 108.8h1M388.1 102.2h1M353.6 103.4h1M378.0 102.4h1M372.7 99.3h1M365.9 105.3h1M371.5 94.0h1M381.7 100.1h1M359.6 102.0h1M369.9 97.4h1M370.8 103.1h1M375.6 107.2h1M365.1 92.0h1M363.4 100.6h1M375.8 97.9h1M381.3 109.3h1M378.0 114.5h1M370.8 102.1h1M378.6 95.5h1M362.9 108.0h1M369.1 108.8h1M363.8 110.1h1M379.6 93.6h1M376.4 92.5h1M371.1 110.6h1M365.1 104.5h1M378.6 94.7h1M363.2 100.5h1M366.1 101.9h1M377.7 93.3h1M366.1 104.0h1M373.8 105.8h1M371.1 100.5h1M357.2 111.8h1M388.8 96.4h1M365.9 116.5h1M362.7 103.3h1M375.8 100.1h1M375.1 106.6h1M383.1 107.5h1M374.4 104.7h1M356.7 102.7h1M368.1 100.6h1M380.5 100.4h1M365.1 107.0h1M369.8 95.7h1M377.2 92.8h1M376.4 107.2h1M377.8 96.4h1M369.4 101.8h1M367.8 112.6h1M369.6 99.9h1M367.5 118.2h1M363.9 99.5h1M372.1 97.0h1M364.3 108.5h1M362.3 111.2h1M374.4 102.3h1M366.5 103.6h1M359.9 109.5h1M358.4 116.6h1M359.5 113.9h1M383.0 92.5h1M380.4 105.0h1M375.3 109.7h1M366.0 104.0h1M357.5 106.6h1M375.2 115.4h1M353.6 111.4h1M369.3 103.7h1M361.3 103.4h1M371.3 108.4h1M383.5 99.1h1M376.3 91.4h1M366.4 106.7h1M356.4 109.5h1M373.8 88.2h1M374.8 101.8h1M360.2 112.2h1M355.5 116.7h1M371.2 102.2h1M363.0 107.6h1M363.9 102.3h1M375.4 106.2h1M366.7 112.7h1M366.6 92.1h1M370.2 99.1h1M375.0 94.1h1M367.7 110.5h1M378.6 96.4h1M365.0 99.1h1M370.2 104.6h1M385.0 97.0h1M372.8 105.5h1M371.9 97.5h1M374.0 107.8h1M373.9 104.0h1M372.8 104.8h1M353.6 118.2h1M367.2 118.2h1M358.3 95.3h1M375.9 105.5h1M372.9 117.1h1M372.3 97.8h1M371.8 111.8h1M378.1 105.3h1M365.7 104.3h1M367.9 92.6h1M369.2 91.6h1M373.9 110.8h1M370.3 104.0h1M381.8 93.3h1M390.8 102.6h1M366.8 91.1h1M363.1 104.1h1M383.2 106.8h1M367.5 109.6h1M374.5 100.7h1M370.0 100.4h1M364.0 108.3h1M374.1 91.0h1M370.0 104.0h1M380.9 100.9h1M380.8 99.9h1M379.6 100.6h1M362.9 111.5h1M373.8 91.9h1M385.3 102.0h1M390.4 105.4h1M363.5 100.5h1M358.1 102.1h1M373.4 99.6h1M360.6 104.6h1M377.9 102.5h1M378.6 101.8h1M373.1 105.4h1M359.4 108.3h1M374.3 107.8h1M354.6 118.1h1M380.9 102.7h1M364.2 98.4h1M368.9 113.8h1M366.8 110.6h1M368.8 110.3h1M370.9 101.3h1M365.7 106.8h1M369.1 99.6h1M364.5 101.3h1M380.4 102.6h1M362.5 108.3h1M356.0 111.6h1M360.7 108.0h1M367.3 101.9h1M371.3 101.4h1M369.9 102.6h1M361.2 102.8h1M380.8 94.5h1M359.5 104.7h1M357.2 103.3h1M368.7 107.5h1M364.3 107.4h1M370.3 110.2h1M370.8 102.5h1M374.6 103.3h1M370.3 90.1h1M378.5 100.0h1M359.1 103.6h1M375.0 118.2h1M369.0 102.3h1M370.6 103.6h1M369.1 96.1h1M373.4 105.1h1M368.5 92.0h1M363.4 109.4h1M373.0 102.6h1M372.8 95.3h1M379.5 99.1h1M370.7 104.5h1M368.5 98.6h1M360.1 113.5h1M366.6 111.2h1M364.4 98.6h1M353.6 105.8h1M359.7 108.7h1M365.7 111.6h1M358.3 107.2h1M353.6 118.2h1M367.2 98.4h1M385.4 101.9h1M363.8 107.8h1M374.2 97.5h1M362.6 103.5h1M370.1 97.3h1M367.0 106.4h1M363.4 114.3h1M372.6 99.3h1M379.5 100.1h1M366.6 110.9h1M360.9 111.3h1M373.1 102.9h1M353.6 110.0h1M368.0 111.3h1M370.2 101.0h1M362.0 114.9h1M367.7 103.4h1M368.3 95.4h1M371.5 110.1h1M376.7 106.5h1M376.0 102.1h1M380.4 107.6h1M376.2 100.0h1M363.0 102.0h1M388.8 96.9h1M364.1 106.9h1M380.9 99.7h1M382.4 104.9h1M381.0 110.9h1M369.0 106.4h1M366.4 97.9h1M365.5 103.5h1M385.5 95.0h1M367.0 109.7h1M354.1 106.5h1M377.6 95.4h1M372.3 90.5h1M376.7 116.7h1M363.2 101.3h1M367.1 100.0h1M391.3 103.1h1M388.4 99.7h1M358.4 107.0h1M377.8 105.7h1M383.3 106.0h1M368.8 99.0h1M368.7 108.1h1M370.3 100.3h1M384.5 92.0h1M385.7 100.2h1M356.8 108.3h1M367.0 111.3h1M366.2 105.8h1M370.8 98.5h1M362.9 99.3h1M370.8 99.6h1M380.6 109.0h1M383.5 105.0h1M373.7 96.7h1M378.0 111.7h1M371.7 96.9h1M369.4 105.0h1M371.0 94.0h1M366.0 111.3h1M361.4 110.0h1M368.5 102.6h1M369.7 115.0h1M357.5 103.6h1M376.4 110.9h1M378.1 117.0h1M389.5 95.3h1M356.8 104.9h1M370.2 107.1h1M367.4 106.4h1M369.6 110.0h1M365.8 102.1h1M374.8 111.2h1M366.4 95.7h1M376.3 92.5h1M359.3 113.7h1M353.6 118.2h1M367.4 111.5h1M361.5 111.0h1M368.9 99.5h1M375.0 113.7h1M382.7 102.8h1M362.2 106.7h1M367.1 113.7h1M383.2 104.2h1M365.5 102.3h1M384.2 97.4h1M363.1 103.6h1M379.5 99.4h1M375.8 105.7h1M369.9 114.7h1M364.5 112.8h1M370.5 95.0h1M353.6 117.5h1M362.8 106.9h1M380.0 106.3h1M364.0 98.6h1M373.5 100.1h1M377.3 106.9h1M372.3 107.8h1M364.5 105.1h1M374.0 111.1h1M364.1 102.2h1M371.8 99.8h1M367.9 109.9h1M376.9 98.7h1M353.6 105.4h1M364.2 101.9h1M383.4 102.3h1M362.4 104.9h1M371.2 100.5h1M358.9 105.9h1M377.8 97.9h1M375.6 95.4h1M363.6 98.6h1M372.2 109.9h1M368.0 103.2h1M373.2 95.2h1M372.0 106.9h1M388.5 101.2h1M363.7 100.4h1M367.0 110.0h1M361.7 99.4h1M361.7 106.0h1M366.7 106.4h1M363.7 105.2h1M375.4 96.4h1M367.5 112.2h1M358.2 107.6h1M353.6 101.7h1M370.7 103.4h1M358.9 111.4h1M364.3 101.8h1M367.1 101.3h1M374.7 114.9h1M368.5 97.0h1M366.2 104.6h1M369.4 112.0h1M388.5 100.0h1M375.7 105.5h1M382.0 93.9h1M380.2 95.6h1M376.3 94.1h1M373.8 102.4h1M377.1 107.8h1M353.6 105.0h1M371.7 108.2h1M368.2 110.7h1M363.5 105.0h1M371.5 98.8h1M369.7 100.5h1M376.1 106.9h1M356.5 112.3h1M368.4 108.0h1M388.7 103.3h1M374.4 107.8h1M376.2 110.3h1M378.3 100.9h1M367.1 112.4h1M384.2 103.9h1M382.4 115.6h1M360.5 95.8h1M385.2 100.0h1M378.7 98.1h1M367.5 104.2h1M361.0 115.0h1M371.5 99.4h1M371.8 111.3h1M377.4 101.7h1M376.7 104.2h1M368.3 98.3h1M381.8 108.4h1M361.3 100.8h1M373.4 103.0h1M362.4 100.2h1M372.0 102.4h1M373.6 106.5h1M373.7 102.4h1M376.4 100.2h1M359.9 111.4h1M368.2 97.7h1M365.1 98.7h1M379.4 96.3h1M389.1 99.0h1M373.1 96.0h1M373.8 97.1h1M369.4 95.8h1M373.4 115.0h1M379.4 102.8h1M363.2 108.0h1M368.1 97.8h1M373.2 103.8h1M370.3 109.7h1M365.2 108.5h1M368.6 111.8h1M367.1 98.9h1M374.2 103.1h1M373.3 104.8h1M360.7 101.5h1M389.0 95.9h1M376.1 87.5h1M360.5 103.7h1M367.6 106.6h1M356.8 108.4h1M373.7 113.0h1M368.6 107.6h1M362.2 102.6h1M384.0 97.8h1M378.9 97.1h1M369.9 100.7h1M381.4 103.7h1M369.2 112.9h1M355.1 113.4h1M377.9 99.9h1M372.6 95.5h1M355.9 99.8h1M371.1 99.2h1M381.9 105.9h1M363.3 103.7h1M370.0 107.8h1M369.4 108.8h1M371.6 106.2h1M384.5 106.6h1M375.3 102.3h1M383.5 106.4h1M366.6 94.7h1M365.0 108.0h1M398.7 75.0h1M404.4 77.1h1M393.2 87.5h1M375.5 89.2h1M386.5 85.4h1M409.1 70.3h1M403.7 74.7h1M367.0 90.5h1M398.4 61.8h1M414.5 71.2h1M395.3 87.0h1M398.5 72.5h1M378.2 88.4h1M406.9 80.4h1M413.7 65.2h1M404.3 82.0h1M398.6 85.7h1M399.8 90.6h1M408.4 80.2h1M396.0 77.5h1M394.3 98.8h1M406.0 73.6h1M395.9 82.8h1M396.0 82.0h1M390.1 87.9h1M402.1 71.3h1M380.8 92.4h1M402.3 77.6h1M404.4 77.5h1M402.2 74.8h1M403.7 76.3h1M379.3 95.7h1M402.1 78.3h1M382.7 99.1h1M391.2 84.6h1M403.7 75.8h1M407.0 71.3h1M379.8 88.3h1M401.8 73.9h1M403.5 85.7h1M401.2 86.0h1M417.8 73.5h1M407.7 70.6h1M390.9 81.4h1M401.8 71.7h1M407.1 73.1h1M384.1 81.8h1M398.9 79.1h1M402.3 83.8h1M391.8 87.5h1M401.9 76.5h1M381.3 104.9h1M396.5 77.8h1M405.3 76.2h1M392.7 79.7h1M396.4 90.9h1M386.5 87.2h1M412.8 71.6h1M399.1 82.9h1M412.6 74.6h1M416.8 78.6h1M395.5 78.5h1M388.3 84.9h1M398.1 94.7h1M399.3 86.0h1M379.4 90.4h1M396.5 94.1h1M403.9 63.8h1M413.8 78.0h1M399.6 78.5h1M371.6 90.6h1M412.8 69.8h1M393.2 90.4h1M405.5 70.1h1M414.1 65.3h1M392.0 88.6h1M400.8 62.9h1M392.5 86.3h1M397.5 80.3h1M413.2 72.0h1M398.8 72.7h1M399.8 75.4h1M405.5 76.0h1M390.1 85.3h1M397.0 87.1h1M403.5 82.1h1M407.8 70.4h1M402.8 72.2h1M385.6 77.2h1M391.5 78.8h1M387.2 103.3h1M406.6 83.4h1M404.9 77.7h1M406.5 72.0h1M406.8 73.7h1M398.6 76.7h1M386.8 84.6h1M384.4 92.9h1M406.9 71.6h1M399.3 94.1h1M410.2 65.6h1M396.5 62.9h1M389.9 88.0h1M401.2 70.1h1M404.3 78.5h1M391.7 80.2h1M399.1 86.8h1M390.1 87.6h1M389.8 87.1h1M405.9 68.4h1M403.5 68.6h1M398.1 82.5h1M405.4 84.9h1M399.9 81.1h1M398.4 77.2h1M388.9 87.4h1M382.9 88.4h1M401.5 83.3h1M408.5 75.3h1M400.4 76.9h1M390.6 87.4h1M388.7 104.7h1M406.9 72.2h1M401.3 69.3h1M396.4 77.3h1M396.1 84.3h1M411.1 71.0h1M397.3 73.9h1M397.3 78.1h1M396.9 85.7h1M401.6 86.7h1M404.1 88.9h1M406.1 63.9h1M401.3 88.6h1M384.9 80.8h1M396.7 82.0h1M405.9 78.8h1M401.0 85.4h1M400.2 68.9h1M386.6 77.7h1M413.3 72.8h1M398.9 87.9h1M384.3 87.9h1M392.3 92.1h1M399.4 75.4h1M405.5 83.1h1M403.6 72.5h1M406.9 80.7h1M401.6 76.2h1M410.3 72.7h1M392.0 91.5h1M410.5 74.6h1M395.4 83.8h1M395.2 93.3h1M410.9 76.8h1M391.6 91.1h1M397.1 81.4h1M382.7 90.1h1M395.9 82.9h1M389.1 81.6h1M396.4 83.4h1M397.1 85.1h1M402.6 69.0h1M393.4 79.0h1M401.2 84.6h1M410.7 68.8h1M392.4 81.9h1M390.8 87.9h1M412.9 63.8h1M397.7 87.8h1M398.8 91.9h1M392.3 77.1h1M406.6 85.4h1M389.8 73.6h1M410.4 77.2h1M399.6 84.2h1M391.5 85.4h1M390.1 78.8h1M380.2 88.4h1M371.0 91.8h1M413.4 81.0h1M399.7 80.8h1M402.6 83.3h1M388.2 97.5h1M402.6 76.6h1M395.8 90.8h1M388.8 96.7h1M388.8 74.6h1M402.8 79.6h1M390.4 89.9h1M394.4 83.7h1M394.7 94.5h1M392.3 74.0h1M400.3 75.4h1M390.8 98.0h1M397.3 79.1h1M407.3 52.5h1M399.4 76.7h1M406.4 77.7h1M393.7 84.6h1M386.3 85.8h1M401.6 72.8h1M396.6 81.3h1M396.3 91.7h1M371.3 91.9h1M397.9 73.0h1M394.8 81.0h1M391.3 86.9h1M400.6 80.4h1M379.7 89.2h1M396.8 90.6h1M396.7 80.6h1M398.3 73.1h1M392.1 81.6h1M404.1 90.3h1M393.2 75.8h1M378.2 95.1h1M382.0 75.4h1M414.9 76.6h1M391.8 87.6h1M393.8 74.6h1M409.0 56.1h1M394.1 82.6h1M414.1 71.9h1M402.4 90.3h1M403.3 69.0h1M406.1 83.7h1M408.4 66.4h1M396.2 75.9h1M395.0 71.0h1M394.5 74.0h1M418.7 85.0h1M390.6 90.4h1M405.9 66.8h1M394.8 95.3h1M386.0 93.3h1M400.6 83.8h1M378.3 96.2h1M395.1 77.5h1M393.2 92.7h1M397.9 77.2h1M385.7 96.1h1M409.7 68.1h1M389.2 86.6h1M410.1 79.7h1M385.6 88.0h1M385.1 89.4h1M386.7 77.7h1M395.9 80.8h1M392.6 86.9h1M410.1 79.5h1M396.2 91.4h1M381.0 85.2h1M399.2 68.7h1M400.2 70.6h1M408.8 82.7h1M410.3 85.1h1M389.1 90.6h1M378.7 79.8h1M387.0 74.2h1M408.4 75.5h1M405.7 73.3h1M383.0 89.3h1M393.4 69.3h1M393.1 77.6h1M369.4 89.6h1M410.7 71.6h1M398.0 85.1h1M386.3 90.6h1M398.4 91.6h1M381.6 102.8h1M405.4 81.8h1M407.9 72.8h1M404.5 72.0h1M394.7 86.6h1M398.9 80.3h1M401.5 81.4h1M380.3 76.8h1M396.6 84.1h1M382.9 102.0h1M389.6 96.3h1M382.6 97.5h1M391.4 83.4h1M370.0 89.2h1M380.1 92.7h1M375.3 96.7h1M387.3 84.7h1M411.4 73.9h1M396.9 93.0h1M413.1 64.6h1M389.6 89.0h1M385.8 80.1h1M399.4 68.1h1M391.5 80.1h1M382.7 86.4h1M401.5 79.7h1M397.2 79.2h1M402.8 72.9h1M392.9 79.9h1M382.8 77.8h1M404.5 66.3h1M393.8 88.8h1M404.4 80.9h1M400.3 81.6h1M392.0 80.1h1M382.4 88.6h1M383.1 93.8h1M398.0 81.1h1M388.4 89.9h1M407.0 83.5h1M394.8 96.5h1M399.1 82.0h1M401.5 66.4h1M408.1 68.6h1M399.6 91.7h1M387.4 86.8h1M394.2 71.8h1M387.0 85.6h1M397.3 85.8h1M393.5 66.2h1M388.7 87.5h1M410.8 73.9h1M399.1 69.2h1M390.9 85.2h1M400.8 61.3h1M391.4 88.4h1M394.1 60.7h1M388.5 67.9h1M387.1 99.1h1M380.5 94.0h1M401.7 91.9h1M391.2 100.0h1M411.5 79.6h1M387.7 98.9h1M397.6 89.3h1M396.9 91.5h1M400.9 85.3h1M387.2 88.7h1M401.5 88.7h1M385.5 96.9h1M395.7 89.5h1M403.5 87.4h1M387.3 87.8h1M398.4 87.1h1M397.8 96.9h1M419.3 83.9h1M404.1 94.0h1M396.1 86.6h1M401.5 81.6h1M407.7 96.8h1M385.2 88.8h1M402.8 93.1h1M395.5 96.5h1M412.6 90.3h1M386.5 90.0h1M397.2 90.8h1M394.7 93.7h1M382.4 93.1h1M392.2 96.3h1M400.4 84.6h1M380.2 97.6h1M402.3 85.7h1M390.4 92.6h1M401.1 86.5h1M392.7 95.0h1M393.6 87.0h1M406.7 93.3h1M396.7 91.7h1M390.4 95.1h1M404.9 86.6h1M392.2 97.8h1M396.9 101.5h1M400.4 91.4h1M386.9 96.6h1M392.4 95.5h1M390.6 86.4h1M389.9 90.1h1M399.5 83.9h1M397.3 92.8h1M398.4 103.5h1M417.5 89.4h1M395.2 99.8h1M396.7 83.6h1M391.6 91.6h1M406.3 85.3h1M394.5 103.6h1M401.2 88.6h1M395.1 95.8h1M412.2 98.5h1M393.6 97.2h1M385.0 99.7h1M391.3 87.0h1M383.5 104.0h1M399.9 101.1h1M381.4 100.1h1M387.9 100.6h1M396.5 90.4h1M392.5 95.5h1M403.7 92.2h1M403.8 94.7h1M401.8 84.4h1M386.5 78.1h1M395.1 95.3h1M396.5 90.3h1M387.9 94.8h1M393.0 85.6h1M383.6 92.2h1M395.2 97.6h1M398.9 93.8h1M398.1 91.2h1M407.7 92.7h1M411.5 105.0h1M412.8 82.2h1M410.6 88.6h1M400.1 98.0h1M408.8 96.8h1M391.3 94.2h1M399.7 90.3h1M388.3 96.9h1M401.8 85.0h1M404.1 88.9h1M395.7 96.3h1M393.6 94.2h1M402.1 94.6h1M414.7 94.5h1M404.5 92.3h1M396.6 95.1h1M410.4 91.5h1M402.3 91.0h1M403.9 87.9h1M411.3 93.7h1M391.1 84.5h1M408.2 89.8h1M395.4 91.8h1M408.5 94.6h1M409.7 90.2h1M394.8 95.6h1M380.6 94.8h1M387.0 98.4h1M390.5 93.0h1M403.7 91.1h1M399.4 90.0h1M411.0 86.3h1M410.7 90.1h1M400.7 95.7h1M402.7 96.4h1M401.7 95.4h1M394.9 86.4h1M399.0 87.9h1M395.8 103.8h1M409.9 90.9h1M392.5 88.5h1M388.5 99.1h1M407.2 94.5h1M407.1 92.3h1M396.1 92.7h1M393.7 87.5h1M406.8 90.2h1M402.8 88.4h1M411.6 98.5h1M409.7 68.8h1M400.3 75.3h1M400.1 69.4h1M394.5 73.7h1M411.5 70.0h1M399.2 77.8h1M387.6 83.2h1M410.2 77.6h1M391.0 78.6h1M392.1 75.0h1M396.4 71.6h1M401.7 81.8h1M397.1 79.2h1M396.6 70.2h1M395.5 74.7h1M398.4 72.9h1M392.5 84.6h1M406.1 67.1h1M392.8 78.6h1M399.0 80.1h1M409.3 73.0h1M392.8 78.1h1M411.9 76.1h1M398.9 79.6h1M403.7 77.2h1M408.8 77.4h1M392.3 75.0h1M380.2 84.5h1M404.5 73.2h1M398.5 77.9h1M406.2 56.1h1M396.9 77.0h1M399.3 72.9h1M402.6 72.1h1M414.0 73.5h1M400.5 73.5h1M417.3 73.2h1M414.4 66.4h1M383.3 84.0h1M395.6 74.5h1M411.9 72.4h1M403.7 64.1h1M405.0 63.9h1M396.2 68.3h1M399.0 87.3h1M396.7 78.4h1M402.2 71.3h1M407.4 71.2h1M397.3 67.4h1M411.0 72.7h1M398.5 76.0h1M401.0 78.5h1M402.5 78.0h1M407.1 76.9h1M406.0 72.5h1M403.7 72.0h1M395.3 64.1h1M397.7 72.4h1M402.7 76.9h1M414.8 66.7h1M400.6 72.5h1M407.4 66.1h1M409.7 74.0h1M400.8 80.8h1M404.4 70.2h1M399.8 72.2h1M403.5 76.8h1M394.0 71.4h1M420.4 68.1h1M395.0 81.5h1M404.3 71.3h1M413.3 84.0h1M415.6 71.1h1M403.5 72.7h1M400.1 76.8h1M410.0 81.5h1M401.8 72.3h1M391.0 78.2h1M413.3 70.6h1M407.6 70.3h1M404.2 83.2h1M384.8 91.7h1M434.8 107.0h1M396.9 107.5h1M390.1 100.1h1M377.1 84.9h1M382.4 80.6h1M434.1 118.2h1M397.0 118.2h1M397.8 82.9h1M404.1 70.4h1M403.1 114.5h1M428.4 102.8h1M398.4 83.7h1M383.6 87.2h1M428.2 113.9h1M368.8 95.3h1M397.0 107.8h1M356.8 74.8h1M407.5 108.5h1" stroke="#e0101a" stroke-width="1.15" stroke-opacity="0.92" fill="none"/>
<rect x="353.30" y="39.20" width="94.00" height="79.30" fill="none" stroke="#3a3a3a" stroke-width="1"/>
<line x1="389.50" y1="39.20" x2="389.50" y2="118.50" stroke="#2a2a2a" stroke-width="1.1"/>
<line x1="353.30" y1="83.50" x2="447.30" y2="83.50" stroke="#2a2a2a" stroke-width="1.1"/>
<line x1="353.30" y1="39.20" x2="353.30" y2="120.00" stroke="#111" stroke-width="1.4"/>
<line x1="352.30" y1="118.50" x2="447.30" y2="118.50" stroke="#111" stroke-width="1.2"/>
<path d="M353.30 118.50h-3.7M353.30 118.50v3.7M353.30 112.53h-1.8M360.37 118.50v1.8M353.30 109.04h-1.8M364.51 118.50v1.8M353.30 106.56h-1.8M367.45 118.50v1.8M353.30 104.64h-1.8M369.73 118.50v1.8M353.30 103.07h-1.8M371.59 118.50v1.8M353.30 101.75h-1.8M373.16 118.50v1.8M353.30 100.60h-1.8M374.52 118.50v1.8M353.30 99.58h-1.8M375.72 118.50v1.8M353.30 98.67h-3.7M376.80 118.50v3.7M353.30 92.71h-1.8M383.87 118.50v1.8M353.30 89.22h-1.8M388.01 118.50v1.8M353.30 86.74h-1.8M390.95 118.50v1.8M353.30 84.82h-1.8M393.23 118.50v1.8M353.30 83.25h-1.8M395.09 118.50v1.8M353.30 81.92h-1.8M396.66 118.50v1.8M353.30 80.77h-1.8M398.02 118.50v1.8M353.30 79.76h-1.8M399.22 118.50v1.8M353.30 78.85h-3.7M400.30 118.50v3.7M353.30 72.88h-1.8M407.37 118.50v1.8M353.30 69.39h-1.8M411.51 118.50v1.8M353.30 66.91h-1.8M414.45 118.50v1.8M353.30 64.99h-1.8M416.73 118.50v1.8M353.30 63.42h-1.8M418.59 118.50v1.8M353.30 62.10h-1.8M420.16 118.50v1.8M353.30 60.95h-1.8M421.52 118.50v1.8M353.30 59.93h-1.8M422.72 118.50v1.8M353.30 59.03h-3.7M423.80 118.50v3.7M353.30 53.06h-1.8M430.87 118.50v1.8M353.30 49.57h-1.8M435.01 118.50v1.8M353.30 47.09h-1.8M437.95 118.50v1.8M353.30 45.17h-1.8M440.23 118.50v1.8M353.30 43.60h-1.8M442.09 118.50v1.8M353.30 42.27h-1.8M443.66 118.50v1.8M353.30 41.12h-1.8M445.02 118.50v1.8M353.30 40.11h-1.8M446.22 118.50v1.8M353.30 39.20h-3.8M447.30 118.50v3.8" stroke="#111" stroke-width="0.8" fill="none"/>
<text x="353.30" y="132.30" font-size="7.3" text-anchor="middle" fill="#111">10<tspan dx="0.9" dy="-4.4">0</tspan></text>
<text x="347.00" y="118.80" font-size="6.8" text-anchor="middle" fill="#111" transform="rotate(-90 347.00 118.80)">10<tspan dx="0.6" dy="-3.3">0</tspan></text>
<text x="376.80" y="132.30" font-size="7.3" text-anchor="middle" fill="#111">10<tspan dx="0.9" dy="-4.4">1</tspan></text>
<text x="347.00" y="98.97" font-size="6.8" text-anchor="middle" fill="#111" transform="rotate(-90 347.00 98.97)">10<tspan dx="0.6" dy="-3.3">1</tspan></text>
<text x="400.30" y="132.30" font-size="7.3" text-anchor="middle" fill="#111">10<tspan dx="0.9" dy="-4.4">2</tspan></text>
<text x="347.00" y="79.15" font-size="6.8" text-anchor="middle" fill="#111" transform="rotate(-90 347.00 79.15)">10<tspan dx="0.6" dy="-3.3">2</tspan></text>
<text x="423.80" y="132.30" font-size="7.3" text-anchor="middle" fill="#111">10<tspan dx="0.9" dy="-4.4">3</tspan></text>
<text x="347.00" y="59.33" font-size="6.8" text-anchor="middle" fill="#111" transform="rotate(-90 347.00 59.33)">10<tspan dx="0.6" dy="-3.3">3</tspan></text>
<text x="447.30" y="132.30" font-size="7.3" text-anchor="middle" fill="#111">10<tspan dx="0.9" dy="-4.4">4</tspan></text>
<text x="347.00" y="39.50" font-size="6.8" text-anchor="middle" fill="#111" transform="rotate(-90 347.00 39.50)">10<tspan dx="0.6" dy="-3.3">4</tspan></text>
<text x="398.30" y="138.90" font-size="7.0" text-anchor="middle" fill="#111">AV</text>
<text x="335.70" y="79.45" font-size="6.6" text-anchor="middle" fill="#111" transform="rotate(-90 335.70 79.45)">PI</text>
<path d="M115.6 253.1h1M112.1 261.8h1M108.9 251.7h1M96.0 264.6h1M119.0 239.8h1M116.4 252.9h1M101.7 259.1h1M108.7 252.0h1M108.6 239.7h1M122.0 264.2h1M100.9 256.9h1M119.1 249.3h1M95.0 268.2h1M122.2 247.3h1M132.4 243.2h1M114.7 243.7h1M107.0 258.4h1M102.3 255.0h1M114.5 247.4h1M123.0 246.9h1M121.2 252.7h1M102.7 252.0h1M119.4 243.6h1M109.4 257.3h1M107.7 252.8h1M110.4 255.3h1M113.0 255.2h1M113.7 256.9h1M97.8 259.6h1M126.8 254.5h1M118.5 243.8h1M106.2 253.8h1M95.0 256.0h1M123.8 249.3h1M95.0 262.3h1M104.5 255.2h1M113.2 255.9h1M108.2 259.8h1M115.7 251.5h1M113.7 256.3h1M115.0 254.7h1M113.3 254.4h1M105.2 262.3h1M95.1 266.8h1M114.7 233.2h1M97.0 263.0h1M110.7 232.4h1M109.1 261.7h1M114.4 240.4h1M95.0 267.9h1M121.3 258.2h1M110.0 258.2h1M117.3 261.2h1M113.5 252.0h1M115.6 250.2h1M112.1 264.6h1M108.1 260.7h1M115.3 254.3h1M112.1 247.0h1M109.9 244.1h1M117.9 261.2h1M105.9 248.1h1M106.6 248.0h1M106.1 256.2h1M119.5 261.3h1M111.5 256.7h1M112.3 243.3h1M115.0 261.2h1M119.0 254.6h1M112.2 246.6h1M108.2 249.0h1M112.3 259.2h1M108.2 263.2h1M120.8 250.3h1M119.0 258.7h1M118.0 259.4h1M113.2 253.5h1M105.9 253.7h1M111.1 259.4h1M104.6 263.9h1M122.4 250.0h1M107.8 250.8h1M103.6 263.3h1M113.8 243.6h1M113.4 252.5h1M125.6 259.5h1M136.6 253.6h1M110.2 262.5h1M100.6 258.5h1M131.5 254.1h1M105.6 253.9h1M102.3 258.1h1M117.7 265.6h1M108.3 256.7h1M106.5 256.1h1M95.7 261.1h1M106.4 261.7h1M121.5 238.9h1M117.6 257.6h1M122.8 247.7h1M104.0 252.4h1M106.0 252.0h1M118.6 244.9h1M102.0 257.4h1M110.9 261.6h1M114.3 248.9h1M99.2 260.8h1M101.5 264.6h1M101.9 248.2h1M105.2 258.2h1M119.2 245.5h1M122.7 263.6h1M117.2 263.2h1M105.5 258.2h1M106.0 243.4h1M109.4 247.3h1M109.3 254.9h1M115.2 250.2h1M115.1 263.6h1M115.1 251.0h1M115.9 253.1h1M114.3 261.2h1M120.4 258.9h1M122.7 244.6h1M110.3 256.1h1M117.4 254.2h1M100.8 255.3h1M100.6 259.9h1M126.0 244.9h1M107.1 255.6h1M105.4 255.8h1M98.6 253.4h1M111.0 257.9h1M105.7 239.4h1M107.1 258.1h1M105.9 258.6h1M121.9 246.9h1M114.4 250.9h1M101.3 268.2h1M123.6 246.2h1M112.7 251.9h1M112.5 253.5h1M108.6 268.2h1M115.6 252.5h1M119.1 249.9h1M108.4 251.1h1M112.4 256.4h1M107.7 257.7h1M108.3 257.6h1M119.1 233.8h1M109.9 247.5h1M95.0 268.2h1M106.9 256.2h1M104.6 264.3h1M103.7 259.3h1M112.1 255.9h1M100.7 259.3h1M123.6 256.0h1M111.4 247.8h1M104.1 259.6h1M135.2 239.6h1M106.4 254.4h1M111.7 253.0h1M114.8 254.9h1M95.0 265.3h1M112.1 262.2h1M108.1 245.6h1M112.9 257.6h1M112.0 247.4h1M96.4 265.9h1M105.3 258.4h1M110.1 257.9h1M111.8 253.4h1M101.0 260.8h1M100.4 255.3h1M113.0 249.5h1M103.5 259.5h1M95.0 259.3h1M97.2 255.9h1M119.9 248.9h1M116.1 251.3h1M114.0 247.5h1M121.5 238.7h1M108.6 249.6h1M118.1 249.5h1M113.1 261.3h1M120.0 257.0h1M105.4 261.0h1M115.5 258.8h1M114.7 249.6h1M111.7 256.0h1M115.9 244.7h1M107.0 261.7h1M105.8 261.0h1M108.8 255.7h1M95.0 250.6h1M104.0 258.7h1M95.0 268.2h1M102.3 255.1h1M118.0 263.3h1M112.7 244.3h1M108.5 249.2h1M113.5 259.1h1M119.2 255.6h1M113.8 255.8h1M109.0 253.7h1M122.0 261.4h1M101.5 256.2h1M119.0 253.0h1M109.3 251.4h1M124.1 256.0h1M97.4 259.7h1M117.3 260.4h1M120.3 245.7h1M117.5 257.5h1M100.0 253.2h1M113.0 249.3h1M99.5 268.2h1M120.3 245.4h1M108.5 254.8h1M114.6 248.5h1M109.3 257.8h1M102.6 250.2h1M111.7 268.2h1M113.7 256.9h1M100.1 260.3h1M100.1 260.0h1M106.2 252.3h1M102.3 267.7h1M105.8 264.1h1M117.1 253.7h1M96.8 263.5h1M110.6 254.5h1M95.4 259.3h1M113.3 247.4h1M120.1 252.3h1M99.9 259.5h1M116.3 258.3h1M121.4 257.1h1M101.4 251.7h1M110.0 252.4h1M108.3 254.7h1M105.9 243.9h1M116.3 253.4h1M114.8 247.9h1M106.4 254.3h1M112.6 257.1h1M104.3 257.2h1M108.3 257.4h1M95.0 258.3h1M116.3 252.2h1M125.2 244.8h1M107.8 259.1h1M115.0 255.3h1M97.3 257.2h1M108.3 256.2h1M116.0 251.5h1M127.8 253.9h1M110.0 252.5h1M107.1 258.4h1M125.5 258.9h1M113.8 264.1h1M113.7 265.1h1M101.0 250.0h1M123.8 249.7h1M95.0 254.4h1M112.9 260.4h1M107.9 263.1h1M110.1 254.9h1M111.9 249.0h1M105.4 268.2h1M101.0 264.6h1M107.7 257.7h1M110.5 245.9h1M111.1 260.7h1M108.3 260.3h1M108.8 251.2h1M101.3 252.5h1M125.8 240.6h1M124.5 249.8h1M99.5 245.1h1M110.4 252.9h1M107.8 260.8h1M116.0 261.3h1M99.3 254.0h1M107.7 260.2h1M115.0 244.3h1M108.5 255.7h1M115.5 247.1h1M119.5 247.6h1M105.3 252.5h1M110.9 264.5h1M121.2 247.7h1M122.3 251.3h1M116.9 252.9h1M112.2 248.2h1M111.3 250.3h1M110.6 246.8h1M116.3 262.7h1M124.8 247.6h1M106.6 259.2h1M127.5 248.9h1M115.1 249.3h1M105.8 244.9h1M128.5 253.9h1M120.4 261.4h1M108.0 254.6h1M111.3 250.6h1M114.2 250.9h1M109.7 252.6h1M106.2 243.5h1M111.4 246.5h1M111.7 254.8h1M109.3 262.4h1M128.3 246.7h1M111.9 256.7h1M121.6 253.1h1M107.0 258.5h1M123.8 248.6h1M109.6 258.4h1M121.6 249.4h1M108.1 249.5h1M118.2 258.1h1M120.5 244.8h1M108.8 262.8h1M120.0 253.6h1M109.2 256.4h1M108.6 249.7h1M101.7 253.5h1M120.5 245.0h1M116.9 250.8h1M109.2 255.3h1M103.6 246.0h1M109.9 260.5h1M117.8 243.0h1M113.2 255.4h1M101.6 252.8h1M108.9 258.7h1M115.9 260.5h1M117.0 267.1h1M105.7 264.2h1M108.9 249.9h1M100.1 248.9h1M105.2 258.6h1M119.2 256.2h1M123.0 252.0h1M110.1 260.2h1M120.5 251.8h1M106.9 261.0h1M105.6 256.2h1M105.0 251.0h1M110.6 257.9h1M114.7 244.4h1M95.0 256.8h1M119.9 250.8h1M117.8 261.5h1M104.7 249.8h1M110.2 254.0h1M116.1 250.4h1M114.7 256.1h1M108.5 246.9h1M106.9 263.9h1M108.0 249.5h1M125.8 249.0h1M105.8 251.9h1M113.5 246.3h1M115.2 248.4h1M115.2 250.4h1M103.4 257.2h1M124.2 242.4h1M118.9 249.5h1M110.1 252.3h1M108.3 248.3h1M108.4 259.4h1M97.7 248.5h1M104.8 261.0h1M114.3 242.3h1M116.5 254.5h1M115.7 257.7h1M108.9 254.5h1M111.1 249.4h1M115.5 241.5h1M117.9 253.9h1M113.1 258.6h1M106.0 257.5h1M119.4 255.9h1M98.2 263.8h1M101.2 258.0h1M108.6 261.8h1M104.5 258.4h1M114.3 249.5h1M121.9 252.6h1M116.2 252.2h1M102.1 260.4h1M129.0 250.0h1M124.6 245.3h1M124.7 251.4h1M118.7 253.7h1M102.0 263.6h1M114.7 262.7h1M114.1 258.4h1M114.0 261.5h1M118.1 253.5h1M98.6 266.2h1M111.7 263.7h1M113.8 250.4h1M105.8 247.2h1M123.0 248.8h1M114.9 250.2h1M109.0 246.8h1M106.8 268.2h1M111.3 251.4h1M117.9 258.8h1M122.5 255.8h1M116.3 248.2h1M112.6 246.8h1M107.1 242.9h1M115.2 255.4h1M132.4 248.1h1M98.0 249.3h1M123.8 254.0h1M103.1 249.6h1M111.7 259.7h1M107.3 254.7h1M119.2 242.4h1M106.1 246.3h1M98.9 253.2h1M110.1 251.7h1M107.6 259.3h1M113.5 246.6h1M95.0 258.8h1M107.9 261.4h1M100.2 254.0h1M115.7 248.9h1M95.0 267.7h1M106.2 258.0h1M125.6 252.3h1M112.2 247.8h1M124.8 248.0h1M114.0 241.6h1M107.9 265.7h1M105.1 257.6h1M121.9 249.1h1M121.0 250.7h1M111.5 257.4h1M101.1 253.8h1M114.1 249.8h1M106.8 257.8h1M114.3 249.5h1M127.4 254.7h1M119.3 246.5h1M109.1 253.8h1M110.7 245.0h1M131.9 246.3h1M109.1 248.9h1M115.2 254.0h1M117.3 247.1h1M108.0 249.8h1M95.0 266.9h1M108.7 253.8h1M99.3 248.5h1M108.1 254.0h1M110.9 249.6h1M106.5 250.9h1M104.4 264.8h1M115.4 251.9h1M118.4 263.7h1M112.1 257.6h1M109.7 256.8h1M108.1 258.9h1M119.5 262.0h1M97.6 255.8h1M127.6 254.0h1M103.8 263.1h1M102.9 248.9h1M116.8 247.1h1M114.0 251.8h1M106.5 261.2h1M116.3 237.7h1M108.2 247.3h1M105.5 255.4h1M125.0 250.6h1M116.4 256.0h1M126.5 257.1h1M115.8 254.2h1M112.8 251.4h1M121.9 245.8h1M119.8 249.4h1M102.5 248.4h1M123.7 247.6h1M117.7 253.6h1M99.5 251.4h1M105.3 244.2h1M116.8 252.6h1M106.2 254.8h1M103.0 258.6h1M124.2 252.2h1M126.2 250.4h1M114.6 258.7h1M108.7 257.4h1M99.9 245.6h1M116.0 253.2h1M102.3 256.4h1M102.6 262.3h1M109.7 241.5h1M97.0 254.7h1M106.7 268.2h1M99.7 258.1h1M111.7 258.5h1M125.7 246.7h1M106.0 265.4h1M112.6 257.7h1M119.5 258.0h1M120.9 254.1h1M112.8 255.2h1M116.3 245.7h1M106.7 260.8h1M126.6 243.9h1M126.7 243.9h1M112.3 243.9h1M105.7 258.2h1M107.9 250.8h1M104.2 257.1h1M104.2 257.4h1M120.3 244.8h1M109.3 239.2h1M105.4 252.9h1M107.2 268.2h1M101.5 249.3h1M97.6 240.2h1M110.1 252.7h1M121.4 251.0h1M105.9 259.2h1M103.4 252.9h1M107.3 252.0h1M98.9 260.1h1M128.0 247.1h1M110.3 247.1h1M113.4 244.1h1M101.6 252.1h1M102.4 252.4h1M131.2 239.1h1M104.1 253.5h1M114.9 257.4h1M113.1 260.0h1M119.0 246.3h1M109.8 250.3h1M130.6 249.5h1M95.8 256.3h1M107.4 259.8h1M118.5 245.9h1M116.0 242.8h1M105.9 258.0h1M114.5 268.2h1M95.0 258.3h1M109.3 254.2h1M103.2 254.9h1M119.7 255.5h1M115.7 253.7h1M109.8 253.7h1M123.4 247.4h1M116.7 251.6h1M95.0 253.3h1M110.9 253.5h1M106.9 264.6h1M123.3 239.5h1M123.9 261.6h1M115.6 260.0h1M109.5 257.6h1M106.0 260.2h1M107.1 250.5h1M124.3 244.7h1M110.9 255.0h1M109.0 254.8h1M106.0 256.6h1M118.0 253.5h1M104.3 256.7h1M111.7 254.4h1M108.9 250.4h1M110.7 260.3h1M115.7 257.1h1M117.4 247.3h1M115.0 251.1h1M100.0 258.4h1M112.0 249.9h1M101.8 257.6h1M98.4 256.6h1M111.7 253.2h1M124.6 245.8h1M109.4 258.1h1M107.3 250.4h1M118.5 255.0h1M110.1 257.0h1M116.7 251.4h1M105.1 261.1h1M121.7 259.6h1M96.1 268.2h1M127.8 252.7h1M118.0 248.7h1M117.9 245.2h1M107.1 255.3h1M119.1 248.4h1M104.8 260.4h1M99.1 255.9h1M106.6 264.8h1M106.4 253.4h1M112.5 255.0h1M112.3 249.8h1M101.1 261.8h1M119.0 247.4h1M99.4 261.8h1M123.0 246.2h1M109.8 248.2h1M122.3 242.3h1M99.5 265.2h1M106.8 255.6h1M108.1 253.4h1M123.3 244.0h1M119.2 251.8h1M124.7 247.5h1M113.0 253.6h1M95.8 245.3h1M110.8 248.7h1M129.8 250.0h1M101.4 250.6h1M113.0 259.3h1M119.0 251.8h1M103.2 268.2h1M102.8 254.1h1M102.4 250.6h1M129.3 247.0h1M112.9 254.0h1M118.2 251.9h1M119.6 243.1h1M118.1 257.9h1M116.5 254.1h1M113.6 247.5h1M105.5 254.4h1M123.2 255.7h1M109.4 250.1h1M109.1 248.4h1M102.6 265.5h1M114.1 254.0h1M113.6 247.5h1M119.7 253.7h1M107.8 266.7h1M102.9 254.9h1M112.8 262.6h1M117.5 252.5h1M120.2 253.6h1M119.0 258.5h1M95.6 263.3h1M116.8 250.0h1M95.3 257.6h1M116.6 242.4h1M117.5 249.2h1M97.8 255.5h1M95.0 260.5h1M107.9 260.8h1M102.6 257.3h1M115.8 256.6h1M113.5 249.1h1M110.8 242.6h1M108.4 259.2h1M95.2 252.1h1M116.6 253.6h1M113.6 254.1h1M118.3 252.1h1M112.9 254.0h1M103.6 268.2h1M115.5 260.3h1M114.3 249.3h1M126.7 254.2h1M112.2 248.0h1M105.4 259.2h1M114.7 240.6h1M120.0 245.8h1M103.0 252.4h1M120.5 259.0h1M111.1 255.2h1M116.4 263.1h1M116.9 252.4h1M108.8 267.4h1M95.0 262.2h1M116.4 250.0h1M117.2 262.5h1M112.7 245.5h1M98.1 253.8h1M104.9 252.5h1M111.8 263.6h1M102.2 248.9h1M110.1 246.9h1M113.8 247.9h1M107.7 253.7h1M107.9 249.5h1M106.2 248.8h1M124.1 257.7h1M109.6 251.2h1M125.8 243.0h1M111.7 264.3h1M118.0 255.7h1M112.6 251.2h1M99.2 251.0h1M118.6 248.5h1M115.9 250.6h1M99.3 260.4h1M117.8 254.2h1M111.2 251.8h1M111.7 252.3h1M115.0 253.0h1M101.8 258.3h1M118.9 255.9h1M114.9 251.2h1M103.6 268.2h1M110.8 258.8h1M105.7 250.0h1M104.6 253.8h1M111.9 252.6h1M127.6 261.3h1M119.0 252.7h1M108.6 258.8h1M111.3 253.7h1M103.3 246.4h1M104.8 256.7h1M100.4 256.2h1M113.9 246.8h1M119.1 254.8h1M124.3 251.0h1M123.9 240.2h1M107.6 261.5h1M115.5 244.2h1M114.3 246.6h1M115.9 247.4h1M122.0 252.8h1M99.2 258.1h1M104.4 263.1h1M109.6 250.2h1M95.6 267.5h1M117.6 257.5h1M107.7 246.9h1M120.3 249.3h1M115.4 268.2h1M115.6 250.5h1M99.4 256.3h1M114.8 253.7h1M117.5 247.0h1M111.4 255.5h1M101.1 250.1h1M106.2 253.6h1M123.7 245.9h1M100.4 257.6h1M105.0 265.6h1M104.3 252.5h1M113.8 254.6h1M112.4 260.7h1M104.6 256.9h1M117.6 254.2h1M109.6 252.5h1M123.2 258.2h1M115.4 251.8h1M110.4 252.8h1M95.0 258.6h1M109.0 262.0h1M118.0 252.9h1M108.1 250.4h1M103.3 260.6h1M117.8 247.0h1M127.7 252.1h1M98.9 266.4h1M101.0 256.3h1M109.0 258.7h1M102.6 260.6h1M107.9 247.9h1M116.1 244.5h1M117.7 247.7h1M120.7 248.7h1M123.7 243.8h1M126.0 248.6h1M104.5 240.9h1M108.6 251.7h1M107.8 259.2h1M114.6 259.8h1M109.6 246.1h1M112.0 248.9h1M116.2 250.3h1M111.8 250.2h1M102.9 252.9h1M102.0 261.1h1M106.1 263.5h1M95.0 256.4h1M115.1 249.0h1M129.3 247.9h1M117.1 256.8h1M116.8 259.3h1M127.3 255.3h1M107.5 250.6h1M95.0 251.3h1M103.0 255.2h1M119.1 250.9h1M118.7 254.9h1M115.8 265.7h1M123.5 254.6h1M103.7 256.0h1M125.0 254.4h1M110.7 256.3h1M103.2 264.1h1M115.8 248.5h1M104.7 254.5h1M114.6 250.8h1M109.5 254.3h1M113.2 259.8h1M109.7 249.7h1M106.2 247.6h1M108.9 261.3h1M108.4 262.9h1M116.0 262.2h1M111.0 255.5h1M108.4 252.3h1M113.3 256.8h1M117.7 254.9h1M118.3 244.0h1M114.0 247.7h1M99.8 253.9h1M98.5 258.7h1M116.7 268.2h1M104.4 260.6h1M103.1 256.2h1M116.2 259.6h1M105.7 266.7h1M105.0 268.2h1M98.4 254.9h1M118.2 256.9h1M113.8 258.0h1M119.7 241.2h1M95.0 265.1h1M105.5 258.5h1M123.9 241.1h1M110.8 250.4h1M97.7 259.6h1M108.5 255.7h1M113.3 262.8h1M102.2 243.8h1M96.5 257.8h1M116.9 249.5h1M111.3 263.6h1M107.0 264.6h1M127.2 247.4h1M116.9 251.2h1M107.6 248.0h1M118.2 248.3h1M115.7 248.4h1M108.5 252.2h1M111.5 255.5h1M116.2 239.9h1M95.0 250.3h1M107.2 248.0h1M102.4 257.6h1M119.4 252.2h1M113.8 260.6h1M101.3 246.9h1M112.2 254.3h1M99.4 263.6h1M102.3 256.9h1M109.9 258.1h1M105.3 255.1h1M120.6 259.8h1M99.1 250.7h1M99.0 259.9h1M111.8 243.0h1M95.0 268.2h1M110.2 247.9h1M112.0 258.6h1M112.4 266.0h1M117.7 243.4h1M109.2 249.7h1M102.1 247.8h1M105.5 260.4h1M104.5 266.5h1M116.4 240.6h1M99.0 258.7h1M114.6 256.5h1M97.9 255.8h1M119.2 251.2h1M102.0 258.5h1M95.0 259.0h1M121.0 244.7h1M110.1 251.8h1M106.5 254.6h1M105.9 254.6h1M106.6 254.2h1M116.6 252.6h1M100.1 254.2h1M108.8 257.7h1M115.5 257.8h1M118.6 248.6h1M105.1 259.9h1M109.8 259.9h1M118.7 265.4h1M112.1 255.9h1M101.8 252.9h1M106.8 252.5h1M107.2 256.9h1M115.2 247.2h1M119.1 251.9h1M123.2 252.7h1M99.6 268.2h1M98.9 262.7h1M96.1 256.3h1M111.1 254.3h1M112.8 254.3h1M108.8 256.6h1M111.2 260.8h1M121.4 241.9h1M111.1 240.4h1M102.8 251.0h1M97.4 254.3h1M104.7 249.9h1M111.8 248.2h1M115.9 249.6h1M108.6 245.2h1M113.8 250.4h1M122.7 252.3h1M125.3 243.6h1M111.5 262.7h1M121.0 253.2h1M111.7 253.2h1M118.8 248.1h1M95.8 262.3h1M113.8 252.3h1M117.5 248.9h1M124.3 254.7h1M121.7 248.8h1M113.4 249.3h1M108.1 250.6h1M109.1 250.3h1M104.6 248.9h1M98.3 261.6h1M110.5 252.8h1M104.3 258.4h1M113.0 247.2h1M121.6 254.0h1M110.3 256.2h1M98.3 260.4h1M120.2 259.6h1M134.6 241.6h1M125.2 249.0h1M95.0 256.9h1M124.1 253.9h1M121.4 246.6h1M117.4 247.8h1M115.7 248.9h1M120.8 248.8h1M116.1 250.1h1M112.0 259.0h1M96.0 264.4h1M100.6 265.9h1M116.6 254.5h1M121.4 232.4h1M117.3 255.1h1M114.0 254.5h1M113.3 240.9h1M124.1 242.7h1M113.3 242.7h1M117.8 246.8h1M101.2 260.5h1M112.3 255.0h1M106.6 267.3h1M104.7 256.5h1M113.5 259.9h1M109.8 243.5h1M112.2 265.6h1M109.4 254.5h1M121.4 250.0h1M122.3 248.9h1M120.6 243.3h1M123.6 249.3h1M116.2 229.0h1M100.8 255.8h1M114.9 257.2h1M117.8 253.1h1M117.5 251.1h1M103.2 250.0h1M127.5 243.9h1M113.3 263.8h1M113.6 253.5h1M104.4 267.5h1M114.6 247.2h1M116.8 238.7h1M95.2 256.4h1M110.7 245.6h1M110.7 260.0h1M110.4 251.6h1M104.9 260.5h1M113.1 248.2h1M109.0 251.7h1M106.8 257.3h1M112.5 247.8h1M124.1 251.2h1M114.6 241.2h1M117.8 254.3h1M114.3 261.7h1M95.0 263.6h1M105.0 263.8h1M119.4 254.4h1M111.7 253.4h1M109.3 261.6h1M126.9 261.6h1M110.7 250.0h1M109.3 255.2h1M113.5 251.9h1M108.2 248.4h1M115.1 243.8h1M111.7 265.9h1M97.3 261.0h1M114.7 262.9h1M106.3 247.9h1M113.7 257.6h1M110.1 253.6h1M107.5 257.0h1M105.7 254.2h1M124.0 241.6h1M100.7 243.0h1M110.0 262.8h1M98.7 256.7h1M112.9 257.4h1M104.4 257.2h1M113.1 249.4h1M115.6 267.2h1M106.1 253.9h1M114.0 248.4h1M98.7 248.1h1M101.2 258.1h1M107.2 258.0h1M104.6 250.9h1M117.4 250.1h1M100.5 260.8h1M110.5 251.8h1M106.4 257.0h1M132.5 247.6h1M108.5 268.2h1M104.8 246.0h1M117.9 259.3h1M117.4 251.2h1M104.5 251.1h1M106.0 257.3h1M111.2 252.7h1M107.4 253.3h1M111.0 252.9h1M114.2 257.0h1M99.8 257.7h1M121.1 249.2h1M112.8 258.0h1M101.6 264.2h1M103.5 258.4h1M98.4 258.3h1M98.1 253.8h1M110.8 264.8h1M106.5 253.9h1M114.1 248.5h1M108.1 255.8h1M109.1 251.3h1M105.3 256.6h1M112.2 255.8h1M102.2 248.4h1M115.1 258.4h1M127.0 254.2h1M103.9 258.3h1M115.4 243.8h1M122.2 247.6h1M111.5 249.9h1M104.6 260.1h1M115.3 251.6h1M112.9 259.7h1M113.0 262.2h1M118.6 251.9h1M105.7 258.4h1M133.7 228.8h1M105.3 247.4h1M95.0 253.9h1M111.2 252.5h1M103.2 264.2h1M112.9 256.2h1M115.1 246.5h1M110.1 251.1h1M112.4 252.2h1M106.8 253.8h1M114.6 252.6h1M107.3 263.9h1M102.3 247.1h1M119.3 250.0h1M113.4 254.3h1M116.6 246.7h1M109.0 252.8h1M118.8 261.4h1M103.4 259.7h1M101.5 259.4h1M104.1 258.4h1M114.9 260.1h1M111.8 245.5h1M112.6 261.0h1M106.1 248.4h1M108.9 258.5h1M117.4 256.6h1M102.0 252.9h1M111.2 257.9h1M114.8 246.3h1M119.8 251.0h1M114.7 250.0h1M99.0 247.4h1M105.6 258.9h1M104.3 261.8h1M119.9 251.5h1M106.3 266.4h1M112.4 254.0h1M102.6 257.0h1M96.2 254.3h1M101.1 253.8h1M111.8 266.7h1M101.9 260.6h1M117.4 248.6h1M116.1 242.5h1M108.7 257.8h1M95.8 264.6h1M115.6 257.8h1M103.9 250.3h1M95.0 251.3h1M121.5 261.9h1M114.8 253.0h1M118.4 254.0h1M110.0 245.8h1M106.2 252.9h1M116.1 253.3h1M118.1 248.9h1M117.7 262.4h1M102.6 254.6h1M120.5 242.7h1M111.1 258.5h1M102.2 268.2h1M107.0 251.7h1M110.4 263.1h1M110.2 254.0h1M105.0 246.9h1M114.6 246.4h1M111.8 259.7h1M119.8 244.9h1M106.3 263.4h1M117.6 255.6h1M101.6 257.2h1M115.5 257.3h1M111.3 248.0h1M117.1 261.8h1M116.8 241.7h1M118.5 252.5h1M114.0 262.7h1M106.3 258.5h1M127.8 249.3h1M103.2 246.0h1M121.0 261.2h1M109.4 264.7h1M119.4 265.4h1M126.0 256.2h1M102.6 243.6h1M115.4 250.7h1M118.0 258.1h1M118.1 253.7h1M115.2 251.5h1M122.2 258.7h1M99.8 253.2h1M130.1 245.4h1M109.7 250.3h1M101.3 256.2h1M97.5 257.1h1M116.9 242.1h1M107.0 249.5h1M121.9 257.3h1M108.8 265.9h1M104.0 253.4h1M95.0 260.4h1M116.9 243.7h1M95.0 257.4h1M106.1 268.2h1M102.8 252.8h1M110.9 249.8h1M108.6 250.7h1M103.2 262.2h1M109.7 265.0h1M121.0 252.7h1M103.1 261.5h1M103.2 255.5h1M108.1 249.6h1M101.7 257.1h1M98.9 260.3h1M122.0 251.7h1M118.2 252.4h1M102.2 261.9h1M101.9 254.5h1M112.9 235.7h1M124.5 245.1h1M103.1 255.6h1M103.7 241.8h1M105.2 248.6h1M100.1 252.5h1M101.1 259.7h1M112.4 252.8h1M110.5 254.6h1M104.1 256.7h1M110.4 259.9h1M115.6 251.7h1M104.9 247.8h1M106.4 266.9h1M121.2 253.5h1M122.8 248.1h1M103.8 249.3h1M114.7 247.4h1M111.3 244.5h1M118.5 254.0h1M98.9 257.7h1M111.5 259.9h1M109.5 245.4h1M107.2 248.3h1M103.5 262.1h1M118.5 253.0h1M112.7 247.3h1M124.1 257.9h1M115.7 251.4h1M112.1 242.8h1M109.0 258.2h1M115.1 265.3h1M113.9 258.7h1M113.6 257.9h1M115.1 254.4h1M105.2 252.4h1M117.0 262.2h1M100.6 258.6h1M107.9 246.8h1M123.7 247.6h1M119.8 253.6h1M100.0 255.3h1M96.8 248.1h1M113.0 246.4h1M105.8 265.4h1M109.3 251.5h1M109.2 257.7h1M111.6 255.1h1M122.2 258.9h1M95.0 259.7h1M113.1 262.8h1M110.6 251.5h1M113.7 251.5h1M104.9 264.6h1M141.7 217.3h1M149.3 237.7h1M129.9 246.6h1M145.4 217.2h1M140.5 233.4h1M128.2 242.8h1M135.4 226.6h1M132.8 247.0h1M137.0 239.5h1M145.3 217.3h1M133.4 237.4h1M120.8 240.5h1M134.9 245.2h1M136.3 224.5h1M138.7 218.5h1M135.5 214.8h1M124.8 245.3h1M143.1 230.5h1M147.3 228.2h1M113.1 242.6h1M161.1 225.5h1M145.2 221.4h1M141.1 226.2h1M137.9 231.8h1M141.4 231.5h1M127.6 235.7h1M136.1 217.2h1M124.8 236.9h1M141.3 229.2h1M133.1 240.1h1M136.9 232.6h1M121.8 244.0h1M134.3 238.9h1M147.4 219.4h1M131.7 254.0h1M128.1 232.2h1M137.4 221.7h1M139.7 224.2h1M139.9 227.6h1M140.3 238.5h1M145.1 227.2h1M142.8 223.7h1M145.5 234.5h1M131.8 239.0h1M129.1 237.5h1M131.0 244.1h1M146.3 223.9h1M118.5 248.9h1M125.8 230.4h1M150.7 230.7h1M139.7 224.9h1M142.4 218.0h1M141.7 228.7h1M133.3 226.8h1M134.7 242.2h1M144.2 224.7h1M144.1 224.0h1M128.8 237.3h1M135.6 211.9h1M124.5 255.8h1M129.1 226.6h1M132.6 223.2h1M132.8 227.3h1M142.9 228.5h1M130.6 234.4h1M142.3 227.2h1M130.9 231.4h1M132.7 225.5h1M130.4 233.2h1M143.2 222.6h1M162.2 226.4h1M143.7 219.5h1M147.3 231.3h1M141.8 221.2h1M139.9 227.3h1M142.5 232.6h1M150.6 220.5h1M141.8 213.6h1M129.8 220.4h1M124.1 240.6h1M143.5 227.4h1M131.9 227.5h1M127.3 235.6h1M130.0 232.7h1M141.8 231.3h1M135.7 226.4h1M136.0 240.6h1M126.1 233.9h1M123.0 241.6h1M126.1 245.0h1M140.6 212.4h1M138.0 228.5h1M130.5 234.8h1M128.1 243.9h1M138.8 222.5h1M133.7 227.2h1M138.4 238.4h1M127.3 244.0h1M144.5 237.6h1M137.1 240.1h1M132.7 230.9h1M137.6 221.5h1M149.9 225.5h1M148.6 229.6h1M132.3 230.1h1M136.4 225.5h1M129.6 243.4h1M126.6 239.6h1M138.4 222.5h1M130.7 229.2h1M132.5 255.7h1M112.7 248.9h1M158.0 226.1h1M157.8 207.7h1M138.8 229.0h1M128.3 235.6h1M146.5 231.9h1M134.2 228.1h1M133.5 226.1h1M131.2 224.8h1M127.4 232.7h1M151.1 227.5h1M141.2 221.7h1M139.7 228.0h1M142.8 224.5h1M128.7 247.7h1M139.0 240.4h1M158.0 221.5h1M149.6 222.3h1M124.2 236.3h1M126.7 230.4h1M131.7 218.4h1M148.3 224.4h1M128.0 242.3h1M151.2 217.5h1M123.3 242.5h1M143.9 224.6h1M136.9 237.5h1M149.2 218.3h1M124.2 230.9h1M126.2 240.4h1M139.6 239.7h1M122.0 231.2h1M143.0 226.1h1M119.5 243.1h1M125.2 226.2h1M129.1 240.5h1M121.3 227.3h1M141.4 222.6h1M140.3 233.0h1M131.8 214.1h1M151.9 211.6h1M132.9 224.2h1M137.1 220.8h1M147.7 229.4h1M127.5 241.7h1M138.1 220.6h1M139.4 238.1h1M150.6 217.2h1M142.5 233.5h1M124.1 239.0h1M128.5 248.0h1M148.9 219.9h1M131.2 245.9h1M145.9 226.4h1M132.9 237.4h1M143.3 214.1h1M135.0 229.8h1M140.3 251.7h1M142.3 225.3h1M138.5 234.1h1M125.9 226.7h1M143.8 229.4h1M126.5 251.5h1M135.3 216.2h1M124.9 249.9h1M132.9 233.3h1M126.4 231.2h1M140.0 216.8h1M139.2 225.7h1M124.7 246.4h1M128.5 245.3h1M117.0 234.8h1M129.9 216.9h1M139.6 232.1h1M145.3 229.2h1M142.1 222.3h1M155.6 231.7h1M136.5 234.6h1M144.2 237.3h1M150.1 216.3h1M156.6 226.0h1M144.1 213.3h1M125.9 241.1h1M137.7 227.0h1M134.5 237.1h1M144.0 216.3h1M134.7 221.9h1M138.3 231.0h1M130.1 226.6h1M130.1 241.9h1M130.7 250.5h1M135.6 242.2h1M122.9 241.8h1M131.5 234.9h1M152.1 227.7h1M150.3 233.3h1M152.4 236.0h1M131.6 231.0h1M131.1 226.6h1M122.1 234.5h1M141.5 227.4h1M118.6 237.1h1M131.2 240.3h1M134.8 238.6h1M142.7 223.4h1M132.9 232.2h1M126.6 233.2h1M135.2 213.6h1M131.9 239.1h1M138.5 239.2h1M124.9 246.4h1M142.4 210.1h1M136.7 240.1h1M140.1 242.9h1M137.5 223.8h1M146.1 235.0h1M148.2 223.5h1M122.4 237.7h1M144.7 228.3h1M127.1 233.9h1M130.6 232.3h1M148.5 208.3h1M151.3 234.0h1M146.1 226.8h1M137.2 225.1h1M129.4 238.7h1M133.6 249.8h1M124.5 243.5h1M141.4 230.3h1M128.8 225.6h1M138.5 231.2h1M147.6 222.8h1M127.7 253.8h1M142.5 237.1h1M144.5 228.8h1M128.5 231.7h1M142.3 221.0h1M135.0 242.8h1M146.8 245.7h1M138.7 229.0h1M134.3 247.4h1M125.2 243.8h1M150.6 214.3h1M132.6 224.9h1M128.7 227.8h1M132.5 227.7h1M147.1 219.1h1M131.2 237.8h1M143.4 236.4h1M129.8 244.0h1M128.0 240.7h1M117.1 228.1h1M135.9 224.6h1M142.0 232.9h1M141.1 223.3h1M126.8 233.9h1M144.6 227.2h1M142.4 237.7h1M134.2 233.3h1M140.0 229.8h1M122.1 238.9h1M144.4 226.3h1M147.7 217.5h1M123.2 224.0h1M133.5 248.2h1M138.5 228.1h1M123.6 241.7h1M146.0 234.9h1M132.4 235.8h1M151.2 236.8h1M137.5 209.4h1M138.1 231.7h1M137.8 254.2h1M143.0 217.0h1M113.6 239.7h1M132.8 234.2h1M130.5 230.1h1M121.0 247.5h1M132.9 217.4h1M136.7 226.3h1M138.1 220.5h1M145.6 226.8h1M136.3 246.9h1M129.7 232.8h1M132.3 226.5h1M128.5 236.7h1M125.7 241.3h1M132.5 232.4h1M149.2 229.0h1M133.4 226.9h1M146.0 227.4h1M125.2 245.4h1M145.1 220.1h1M135.6 232.2h1M136.4 227.3h1M151.2 231.4h1M140.3 252.9h1M138.0 230.2h1M132.3 246.7h1M127.0 238.6h1M139.3 228.1h1M133.3 229.2h1M148.1 229.4h1M150.1 215.4h1M134.4 237.3h1M133.0 240.2h1M134.3 224.7h1M148.6 216.0h1M143.9 230.9h1M131.3 235.9h1M141.2 229.2h1M131.9 225.9h1M120.8 230.0h1M129.9 242.6h1M128.8 237.5h1M139.8 233.5h1M119.2 235.2h1M144.2 230.6h1M149.5 215.6h1M135.8 235.7h1M138.6 247.9h1M142.2 235.8h1M139.9 242.3h1M136.1 239.0h1M123.8 244.1h1M127.9 248.0h1M139.6 234.8h1M137.9 248.1h1M159.5 235.6h1M116.7 248.1h1M132.3 247.5h1M146.3 227.9h1M138.8 250.3h1M144.9 240.4h1M134.8 242.1h1M128.9 243.5h1M140.8 234.8h1M153.9 242.6h1M141.0 246.5h1M139.0 235.5h1M143.2 243.1h1M152.2 233.9h1M147.8 239.8h1M148.6 240.9h1M144.9 240.7h1M138.0 251.8h1M145.8 237.3h1M133.1 243.3h1M142.8 237.6h1M121.6 237.5h1M129.9 233.1h1M147.1 239.6h1M139.7 240.5h1M134.8 234.3h1M132.7 246.9h1M136.2 252.4h1M146.3 247.6h1M150.1 234.1h1M154.1 242.3h1M135.6 245.8h1M144.4 246.4h1M135.5 256.9h1M138.4 241.2h1M153.9 243.8h1M145.8 237.3h1M145.1 247.5h1M110.3 251.9h1M145.8 239.7h1M149.6 226.9h1M132.5 246.3h1M150.3 249.6h1M118.0 245.6h1M140.7 232.9h1M143.9 241.4h1M133.5 254.6h1M142.3 245.2h1M135.0 241.3h1M121.7 246.9h1M133.1 231.7h1M137.1 236.0h1M130.1 253.9h1M145.2 243.0h1M127.3 238.6h1M142.1 251.9h1M136.2 231.0h1M139.0 250.5h1M131.3 235.7h1M150.2 235.5h1M125.9 240.4h1M131.4 247.1h1M134.0 237.0h1M142.2 238.1h1M134.5 246.5h1M146.8 244.2h1M135.8 239.7h1M136.6 236.9h1M142.6 237.6h1M156.8 241.5h1M155.0 246.4h1M131.7 259.2h1M132.6 248.7h1M143.8 233.5h1M156.8 241.4h1M146.7 241.6h1M123.1 268.2h1M135.2 255.0h1M145.1 246.6h1M143.4 245.4h1M142.0 247.4h1M141.3 230.7h1M141.1 250.2h1M131.7 243.2h1M144.6 248.6h1M130.7 254.2h1M152.4 237.4h1M140.7 244.6h1M153.7 235.4h1M137.3 235.3h1M142.8 243.2h1M135.1 243.2h1M149.3 248.6h1M124.6 241.5h1M146.7 231.6h1M142.8 250.7h1M144.7 240.0h1M129.9 254.3h1M125.5 245.1h1M127.6 242.8h1M136.8 238.9h1M145.1 246.5h1M135.0 238.7h1M132.8 237.5h1M142.9 235.9h1M133.2 238.9h1M136.3 241.6h1M143.2 244.8h1M137.7 257.3h1M132.4 240.1h1M129.3 257.7h1M129.8 228.9h1M145.4 220.4h1M129.9 224.8h1M131.3 220.5h1M143.3 227.6h1M136.9 225.9h1M136.1 218.9h1M142.6 227.4h1M143.8 231.8h1M141.6 226.3h1M136.2 226.0h1M142.1 232.7h1M143.1 206.9h1M146.3 226.7h1M143.0 214.4h1M132.4 216.9h1M137.8 214.3h1M134.3 220.0h1M136.2 218.4h1M147.0 221.1h1M134.3 220.0h1M143.1 230.3h1M144.5 224.7h1M139.5 230.6h1M141.9 219.3h1M134.2 221.4h1M127.1 227.2h1M142.3 229.7h1M141.5 232.0h1M154.0 219.1h1M148.3 228.2h1M124.0 229.1h1M150.1 223.3h1M148.8 220.3h1M142.8 218.0h1M136.1 228.1h1M148.4 220.1h1M136.5 231.9h1M151.2 240.9h1M147.0 223.9h1M131.0 224.5h1M143.8 210.6h1M142.5 238.8h1M133.7 221.8h1M136.9 225.8h1M139.8 216.5h1M142.7 225.0h1M135.8 219.9h1M135.4 223.4h1M143.4 219.6h1M146.0 221.7h1M154.5 216.7h1M135.0 231.2h1M135.4 218.1h1M132.5 217.4h1M143.4 227.4h1M133.3 226.9h1M145.8 223.8h1M145.5 222.5h1M150.1 225.2h1M139.4 231.5h1M138.1 231.0h1M129.6 228.5h1M145.2 236.6h1M131.3 235.0h1M143.0 220.8h1M142.7 225.2h1M134.9 224.9h1M134.2 227.5h1M143.2 225.5h1M148.9 235.3h1M129.1 221.6h1M136.4 228.4h1M136.5 226.0h1M139.3 222.8h1M146.9 212.3h1M125.4 228.9h1M134.1 224.9h1M133.3 226.0h1M142.3 224.4h1M145.7 228.0h1M123.0 239.4h1M160.1 223.5h1M158.9 252.1h1M129.9 222.7h1M141.6 233.9h1M135.4 223.8h1M144.7 254.7h1M148.1 244.3h1M137.0 229.5h1M144.2 248.0h1M121.0 245.9h1M139.2 258.0h1M130.7 200.9h1M130.4 237.6h1M119.9 243.9h1M145.9 236.0h1M111.8 238.1h1M124.4 221.0h1M139.8 213.0h1" stroke="#e0101a" stroke-width="1.15" stroke-opacity="0.92" fill="none"/>
<rect x="94.70" y="188.80" width="93.60" height="79.70" fill="none" stroke="#3a3a3a" stroke-width="1"/>
<line x1="130.50" y1="188.80" x2="130.50" y2="268.50" stroke="#2a2a2a" stroke-width="1.1"/>
<line x1="94.70" y1="232.50" x2="188.30" y2="232.50" stroke="#2a2a2a" stroke-width="1.1"/>
<line x1="94.70" y1="188.80" x2="94.70" y2="270.00" stroke="#111" stroke-width="1.4"/>
<line x1="93.70" y1="268.50" x2="188.30" y2="268.50" stroke="#111" stroke-width="1.2"/>
<path d="M94.70 268.50h-3.7M94.70 268.50v3.7M94.70 262.50h-1.8M101.74 268.50v1.8M94.70 258.99h-1.8M105.86 268.50v1.8M94.70 256.50h-1.8M108.79 268.50v1.8M94.70 254.57h-1.8M111.06 268.50v1.8M94.70 253.00h-1.8M112.91 268.50v1.8M94.70 251.66h-1.8M114.48 268.50v1.8M94.70 250.51h-1.8M115.83 268.50v1.8M94.70 249.49h-1.8M117.03 268.50v1.8M94.70 248.57h-3.7M118.10 268.50v3.7M94.70 242.58h-1.8M125.14 268.50v1.8M94.70 239.07h-1.8M129.26 268.50v1.8M94.70 236.58h-1.8M132.19 268.50v1.8M94.70 234.65h-1.8M134.46 268.50v1.8M94.70 233.07h-1.8M136.31 268.50v1.8M94.70 231.74h-1.8M137.88 268.50v1.8M94.70 230.58h-1.8M139.23 268.50v1.8M94.70 229.56h-1.8M140.43 268.50v1.8M94.70 228.65h-3.7M141.50 268.50v3.7M94.70 222.65h-1.8M148.54 268.50v1.8M94.70 219.14h-1.8M152.66 268.50v1.8M94.70 216.65h-1.8M155.59 268.50v1.8M94.70 214.72h-1.8M157.86 268.50v1.8M94.70 213.15h-1.8M159.71 268.50v1.8M94.70 211.81h-1.8M161.28 268.50v1.8M94.70 210.66h-1.8M162.63 268.50v1.8M94.70 209.64h-1.8M163.83 268.50v1.8M94.70 208.73h-3.7M164.90 268.50v3.7M94.70 202.73h-1.8M171.94 268.50v1.8M94.70 199.22h-1.8M176.06 268.50v1.8M94.70 196.73h-1.8M178.99 268.50v1.8M94.70 194.80h-1.8M181.26 268.50v1.8M94.70 193.22h-1.8M183.11 268.50v1.8M94.70 191.89h-1.8M184.68 268.50v1.8M94.70 190.73h-1.8M186.03 268.50v1.8M94.70 189.71h-1.8M187.23 268.50v1.8M94.70 188.80h-3.8M188.30 268.50v3.8" stroke="#111" stroke-width="0.8" fill="none"/>
<text x="94.70" y="282.30" font-size="7.3" text-anchor="middle" fill="#111">10<tspan dx="0.9" dy="-4.4">0</tspan></text>
<text x="88.40" y="268.80" font-size="6.8" text-anchor="middle" fill="#111" transform="rotate(-90 88.40 268.80)">10<tspan dx="0.6" dy="-3.3">0</tspan></text>
<text x="118.10" y="282.30" font-size="7.3" text-anchor="middle" fill="#111">10<tspan dx="0.9" dy="-4.4">1</tspan></text>
<text x="88.40" y="248.88" font-size="6.8" text-anchor="middle" fill="#111" transform="rotate(-90 88.40 248.88)">10<tspan dx="0.6" dy="-3.3">1</tspan></text>
<text x="141.50" y="282.30" font-size="7.3" text-anchor="middle" fill="#111">10<tspan dx="0.9" dy="-4.4">2</tspan></text>
<text x="88.40" y="228.95" font-size="6.8" text-anchor="middle" fill="#111" transform="rotate(-90 88.40 228.95)">10<tspan dx="0.6" dy="-3.3">2</tspan></text>
<text x="164.90" y="282.30" font-size="7.3" text-anchor="middle" fill="#111">10<tspan dx="0.9" dy="-4.4">3</tspan></text>
<text x="88.40" y="209.03" font-size="6.8" text-anchor="middle" fill="#111" transform="rotate(-90 88.40 209.03)">10<tspan dx="0.6" dy="-3.3">3</tspan></text>
<text x="188.30" y="282.30" font-size="7.3" text-anchor="middle" fill="#111">10<tspan dx="0.9" dy="-4.4">4</tspan></text>
<text x="88.40" y="189.10" font-size="6.8" text-anchor="middle" fill="#111" transform="rotate(-90 88.40 189.10)">10<tspan dx="0.6" dy="-3.3">4</tspan></text>
<text x="139.50" y="288.90" font-size="7.0" text-anchor="middle" fill="#111">AV</text>
<text x="77.10" y="229.25" font-size="6.6" text-anchor="middle" fill="#111" transform="rotate(-90 77.10 229.25)">PI</text>
<path d="M252.4 257.5h1M257.3 251.8h1M248.5 250.0h1M238.6 245.1h1M250.7 257.0h1M238.0 250.0h1M259.5 245.3h1M252.0 252.6h1M258.6 244.6h1M242.7 256.1h1M231.4 246.9h1M274.4 245.4h1M253.0 244.4h1M247.6 236.5h1M240.9 258.0h1M262.9 241.1h1M255.7 249.6h1M249.0 249.5h1M253.0 253.6h1M258.1 236.7h1M245.0 257.8h1M250.4 233.7h1M241.4 243.3h1M243.8 256.8h1M258.5 249.4h1M249.0 245.8h1M258.9 246.6h1M262.4 251.9h1M245.1 246.8h1M254.8 260.7h1M246.8 246.4h1M248.1 238.7h1M236.2 252.1h1M242.3 262.7h1M247.4 251.2h1M245.9 255.4h1M256.6 255.7h1M244.2 260.9h1M259.1 257.9h1M263.8 253.1h1M249.0 239.6h1M240.5 243.6h1M238.5 256.0h1M254.1 247.0h1M252.2 247.6h1M262.5 258.0h1M243.6 245.9h1M237.1 257.8h1M269.8 236.6h1M253.7 248.8h1M248.0 256.5h1M242.1 258.6h1M238.7 251.9h1M252.9 255.8h1M250.5 258.9h1M252.5 251.7h1M248.8 249.2h1M260.3 246.4h1M243.9 250.5h1M252.7 246.0h1M258.2 253.7h1M239.4 248.5h1M239.9 249.5h1M272.2 236.7h1M237.1 258.7h1M252.7 251.4h1M255.2 247.3h1M252.2 245.9h1M236.3 245.7h1M237.5 259.0h1M229.1 255.0h1M252.8 252.0h1M239.3 267.1h1M254.1 256.9h1M246.3 249.4h1M248.8 247.7h1M263.3 242.3h1M240.9 252.6h1M247.5 256.5h1M254.9 251.6h1M251.4 245.5h1M267.0 250.2h1M255.5 234.5h1M262.8 245.1h1M243.2 250.6h1M244.2 254.3h1M234.9 255.6h1M232.5 247.6h1M253.8 252.0h1M249.7 249.4h1M247.3 248.8h1M247.9 247.6h1M242.6 251.4h1M263.6 252.4h1M242.6 245.5h1M252.1 248.6h1M251.0 252.6h1M245.0 247.9h1M250.9 245.6h1M253.2 234.4h1M250.2 240.7h1M250.7 234.9h1M257.7 253.3h1M262.8 250.9h1M258.0 253.3h1M252.5 248.4h1M261.5 261.7h1M233.2 247.4h1M255.8 252.1h1M250.3 261.6h1M246.2 255.3h1M256.9 246.7h1M248.1 242.8h1M243.9 246.4h1M247.5 247.6h1M246.9 241.4h1M245.7 237.6h1M256.2 254.1h1M245.7 242.1h1M261.9 255.3h1M250.9 245.6h1M269.6 240.9h1M247.7 244.3h1M250.1 255.7h1M249.1 251.7h1M247.6 250.0h1M252.5 254.6h1M255.2 259.3h1M255.1 245.5h1M253.0 259.2h1M245.2 249.7h1M253.4 244.2h1M236.5 253.0h1M258.6 255.7h1M239.1 255.6h1M247.2 252.3h1M260.1 245.7h1M233.2 248.6h1M250.3 244.1h1M249.2 240.8h1M250.7 253.0h1M239.3 246.2h1M248.3 261.9h1M256.6 239.7h1M231.7 250.4h1M255.0 237.2h1M259.9 252.5h1M253.3 244.2h1M236.9 243.3h1M253.7 243.4h1M241.9 246.2h1M249.1 252.1h1M249.8 247.6h1M236.6 253.0h1M252.6 260.0h1M263.9 229.5h1M255.2 248.6h1M240.6 259.4h1M239.0 246.5h1M242.0 250.4h1M245.7 244.8h1M260.3 241.3h1M255.1 241.5h1M264.0 252.3h1M251.7 253.7h1M249.9 251.3h1M250.4 244.9h1M238.4 267.1h1M251.8 242.3h1M246.1 240.9h1M268.7 245.0h1M247.6 246.9h1M256.0 258.3h1M253.7 262.6h1M240.3 250.5h1M252.1 257.2h1M249.8 241.2h1M235.4 249.4h1M260.3 256.3h1M259.6 244.5h1M246.8 250.4h1M249.1 249.7h1M247.7 255.2h1M257.2 236.7h1M247.8 240.8h1M242.9 259.9h1M254.9 247.0h1M253.3 255.4h1M246.1 243.9h1M263.0 245.0h1M252.7 266.7h1M243.9 242.4h1M265.7 251.6h1M229.1 251.5h1M238.3 255.3h1M244.3 253.5h1M241.2 247.4h1M252.0 258.0h1M236.0 239.1h1M254.3 247.3h1M235.0 238.8h1M240.6 251.1h1M252.2 254.0h1M250.5 252.6h1M231.9 263.2h1M244.1 254.6h1M253.1 237.9h1M247.3 235.8h1M245.7 250.0h1M247.5 261.6h1M248.8 251.4h1M242.3 246.5h1M252.8 251.1h1M241.9 249.6h1M242.5 257.2h1M245.1 244.5h1M246.9 251.5h1M246.5 246.5h1M247.9 244.6h1M248.0 244.5h1M246.8 255.4h1M252.8 250.4h1M245.4 241.1h1M245.1 256.1h1M246.4 240.9h1M237.9 244.7h1M253.6 251.5h1M246.4 255.4h1M232.1 260.1h1M237.4 263.3h1M245.5 246.8h1M241.3 253.9h1M242.7 252.7h1M252.5 241.0h1M254.3 246.2h1M260.8 242.3h1M253.3 245.1h1M256.1 255.1h1M241.6 251.0h1M234.1 255.2h1M246.3 248.4h1M254.9 239.7h1M229.1 253.1h1M252.0 239.6h1M243.8 248.3h1M247.8 256.5h1M251.1 242.9h1M246.0 249.9h1M258.3 249.0h1M246.4 248.5h1M252.8 246.3h1M259.5 244.5h1M238.9 263.1h1M248.2 238.8h1M249.3 252.7h1M251.3 245.8h1M259.5 256.0h1M255.5 247.1h1M255.9 241.0h1M230.1 248.1h1M253.2 254.1h1M247.9 243.1h1M236.3 246.9h1M255.7 236.6h1M241.8 255.7h1M257.4 249.8h1M252.4 266.5h1M269.2 257.6h1M235.0 249.8h1M253.1 254.3h1M230.3 250.6h1M250.9 255.6h1M250.0 253.5h1M240.3 247.2h1M248.9 249.6h1M238.4 257.1h1M246.6 254.5h1M251.8 249.0h1M247.0 251.5h1M252.3 242.3h1M239.8 245.6h1M256.5 242.8h1M244.2 249.6h1M266.7 254.7h1M256.0 250.0h1M262.9 245.7h1M256.1 252.4h1M244.7 240.1h1M238.1 255.9h1M246.7 258.8h1M254.2 256.9h1M249.3 251.4h1M230.3 253.2h1M235.8 252.8h1M229.2 258.1h1M255.8 246.4h1M258.4 236.8h1M255.1 249.8h1M247.9 245.9h1M238.4 259.4h1M248.8 238.2h1M239.4 250.4h1M242.9 246.5h1M251.8 249.5h1M256.6 249.8h1M234.8 239.1h1M247.9 248.0h1M255.5 253.8h1M244.9 255.9h1M253.7 246.1h1M250.5 258.3h1M241.9 261.3h1M237.3 257.6h1M251.3 246.0h1M233.6 249.2h1M251.9 238.5h1M256.1 258.4h1M253.0 247.4h1M251.6 254.2h1M261.0 246.4h1M243.9 263.3h1M246.7 259.7h1M236.4 241.9h1M248.3 243.5h1M258.3 242.8h1M245.2 258.7h1M247.5 249.4h1M247.6 252.3h1M250.1 259.4h1M257.8 255.8h1M249.9 255.6h1M260.4 251.0h1M241.0 254.3h1M256.3 256.6h1M237.8 256.1h1M255.3 267.1h1M256.7 232.8h1M247.4 244.0h1M247.8 262.8h1M245.2 246.6h1M239.4 254.2h1M243.2 248.6h1M269.9 244.5h1M237.8 241.3h1M246.4 253.4h1M253.1 243.8h1M250.7 247.2h1M250.4 257.8h1M255.5 242.5h1M242.2 263.4h1M243.7 249.9h1M260.9 245.7h1M229.1 260.7h1M249.4 248.2h1M235.9 255.4h1M250.1 245.0h1M255.8 237.1h1M243.0 254.3h1M245.0 247.5h1M266.0 244.8h1M250.3 255.9h1M237.9 240.4h1M248.2 240.5h1M255.9 251.7h1M251.0 255.7h1M254.3 249.7h1M255.6 239.9h1M243.9 245.7h1M252.6 252.7h1M251.3 241.0h1M250.3 243.0h1M251.9 240.7h1M247.8 252.5h1M254.3 264.3h1M244.5 240.5h1M242.6 238.8h1M262.7 250.1h1M242.5 248.8h1M256.7 236.2h1M262.0 251.7h1M256.3 251.7h1M258.2 244.6h1M261.3 247.7h1M256.1 257.0h1M240.6 248.4h1M249.8 243.8h1M268.7 249.6h1M238.8 259.6h1M243.7 243.3h1M252.3 251.3h1M254.8 249.8h1M251.2 249.6h1M237.3 247.1h1M250.5 234.4h1M249.9 253.9h1M250.5 254.6h1M248.7 252.6h1M251.9 255.6h1M248.1 253.0h1M240.6 252.5h1M255.0 243.6h1M251.7 250.2h1M257.2 250.0h1M254.9 260.5h1M238.7 257.4h1M258.8 249.5h1M253.0 256.6h1M236.0 233.8h1M263.3 234.6h1M249.2 254.6h1M251.3 251.2h1M245.0 267.1h1M251.0 264.7h1M244.7 261.6h1M266.4 254.8h1M245.7 248.3h1M246.3 249.0h1M257.1 252.5h1M253.6 249.9h1M237.7 250.7h1M239.8 245.1h1M249.2 248.8h1M257.8 253.8h1M242.2 241.8h1M255.4 245.6h1M231.9 253.9h1M240.9 256.2h1M234.9 264.7h1M245.3 248.3h1M244.7 252.3h1M249.8 240.6h1M244.1 250.4h1M273.2 244.7h1M256.3 256.6h1M239.9 255.3h1M276.0 248.1h1M261.5 250.7h1M238.2 265.6h1M250.6 242.5h1M242.2 254.5h1M239.5 257.4h1M258.1 251.8h1M240.0 248.0h1M251.5 249.9h1M267.3 243.8h1M259.4 256.3h1M248.6 241.5h1M255.8 242.3h1M236.2 255.1h1M264.1 236.6h1M229.1 267.1h1M261.3 241.8h1M261.0 266.7h1M250.0 244.4h1M260.1 254.3h1M258.6 242.4h1M244.6 240.2h1M260.6 241.3h1M245.1 249.1h1M249.0 238.7h1M271.2 250.9h1M267.2 242.9h1M243.2 256.5h1M263.1 244.7h1M243.3 252.9h1M245.8 251.8h1M265.5 251.1h1M246.4 267.1h1M253.8 242.5h1M267.8 250.1h1M246.6 253.5h1M238.1 252.8h1M242.3 253.3h1M250.7 244.6h1M249.9 233.4h1M252.3 245.8h1M254.0 249.7h1M258.0 247.0h1M237.2 256.6h1M262.7 258.1h1M265.3 245.6h1M251.7 241.0h1M251.4 252.9h1M229.5 259.0h1M238.7 247.8h1M250.3 256.5h1M260.0 241.6h1M269.5 243.6h1M238.2 252.1h1M256.3 242.4h1M237.4 249.7h1M255.5 246.0h1M234.6 256.8h1M248.3 252.0h1M257.7 250.9h1M232.6 267.1h1M253.7 254.7h1M249.0 242.7h1M244.6 251.5h1M236.2 261.6h1M254.7 240.9h1M243.4 252.9h1M252.4 252.5h1M250.0 252.8h1M254.8 252.5h1M245.0 260.6h1M242.3 262.1h1M248.1 243.7h1M237.6 258.9h1M242.4 248.7h1M246.6 253.1h1M240.7 254.1h1M246.2 256.5h1M262.2 243.9h1M247.9 248.5h1M270.3 241.2h1M244.5 251.6h1M259.8 244.7h1M246.9 250.2h1M239.2 254.9h1M245.6 252.8h1M261.8 247.2h1M260.0 247.8h1M235.7 245.2h1M244.4 252.2h1M259.4 238.4h1M250.8 241.3h1M244.9 246.9h1M241.1 245.5h1M244.2 247.0h1M238.4 243.0h1M264.2 248.6h1M250.0 256.7h1M247.6 260.6h1M255.9 249.3h1M260.0 247.8h1M247.3 256.5h1M255.2 249.8h1M238.5 263.0h1M258.1 249.0h1M248.8 254.2h1M244.6 251.5h1M251.2 258.0h1M272.0 238.8h1M232.0 253.9h1M259.6 252.4h1M236.9 249.6h1M243.7 251.7h1M264.5 246.8h1M261.5 252.8h1M232.8 256.9h1M245.8 246.6h1M253.4 262.8h1M239.2 255.7h1M242.8 256.3h1M246.4 250.0h1M235.7 259.8h1M241.1 244.2h1M247.8 260.8h1M253.8 243.0h1M234.7 262.0h1M253.5 249.1h1M254.9 238.2h1M255.4 242.2h1M245.0 241.9h1M243.0 249.6h1M231.0 257.4h1M256.5 254.9h1M245.1 266.0h1M246.2 260.0h1M249.9 253.5h1M243.1 254.1h1M245.6 251.3h1M247.0 243.2h1M259.0 265.1h1M261.6 249.0h1M252.6 255.8h1M254.9 245.2h1M244.3 259.2h1M254.1 246.3h1M241.2 266.8h1M239.3 250.1h1M260.9 254.3h1M244.2 258.9h1M252.6 255.0h1M264.7 242.9h1M247.6 253.6h1M258.6 250.9h1M245.9 250.5h1M259.0 238.6h1M246.3 259.4h1M241.2 253.5h1M255.2 266.7h1M255.3 246.3h1M251.3 260.0h1M250.3 253.7h1M240.9 248.4h1M260.7 246.5h1M254.7 242.5h1M249.8 253.2h1M263.0 251.5h1M246.8 248.8h1M245.7 257.7h1M259.4 248.3h1M243.3 255.8h1M254.8 243.7h1M251.4 242.3h1M249.4 239.8h1M257.7 256.2h1M248.7 248.4h1M249.4 257.1h1M253.8 249.9h1M236.2 262.1h1M246.1 245.0h1M249.3 249.3h1M258.1 249.9h1M249.8 250.9h1M257.7 252.9h1M253.1 254.5h1M250.4 242.9h1M242.6 248.8h1M250.3 248.8h1M254.3 248.8h1M254.1 237.3h1M243.5 259.0h1M256.3 246.3h1M267.3 250.5h1M256.1 252.6h1M245.4 255.4h1M242.5 258.4h1M246.9 252.1h1M250.2 244.9h1M241.8 252.8h1M242.0 246.7h1M241.7 254.6h1M242.8 244.9h1M239.1 260.5h1M246.3 253.6h1M241.6 244.8h1M244.9 265.4h1M248.0 259.6h1M244.0 255.0h1M241.8 255.0h1M246.2 247.1h1M271.8 249.9h1M245.7 243.8h1M264.6 241.7h1M247.4 238.1h1M250.5 242.3h1M245.0 259.7h1M261.4 253.6h1M240.6 251.6h1M241.6 247.8h1M250.4 251.6h1M244.8 241.8h1M261.7 240.1h1M238.3 242.1h1M250.6 238.8h1M254.3 253.8h1M235.3 258.2h1M260.2 250.9h1M264.0 255.6h1M255.3 249.9h1M237.6 250.7h1M246.2 253.1h1M231.6 261.3h1M243.9 252.7h1M242.5 238.5h1M246.1 249.8h1M246.9 242.6h1M254.7 242.6h1M236.3 252.4h1M248.4 246.4h1M243.9 250.8h1M241.1 254.8h1M252.7 253.0h1M242.3 253.0h1M252.5 247.0h1M239.4 255.7h1M239.5 259.5h1M270.3 237.5h1M255.7 250.9h1M257.1 238.4h1M260.3 243.1h1M241.0 236.5h1M256.2 243.1h1M252.6 247.2h1M246.1 262.5h1M265.1 229.5h1M253.7 244.9h1M249.4 245.4h1M248.3 251.3h1M255.0 260.5h1M261.7 250.1h1M254.3 245.2h1M263.4 235.9h1M238.3 259.4h1M251.0 261.0h1M254.9 250.0h1M242.7 246.4h1M241.3 257.3h1M249.4 244.7h1M247.7 253.1h1M251.1 252.5h1M233.3 248.1h1M253.6 242.1h1M250.5 247.0h1M234.9 262.9h1M232.6 246.5h1M243.3 243.0h1M253.1 252.6h1M248.5 255.9h1M245.4 249.1h1M255.2 252.3h1M235.5 246.1h1M239.6 247.9h1M236.0 259.6h1M231.9 250.2h1M253.1 228.9h1M265.6 245.8h1M231.3 256.2h1M251.5 247.5h1M250.6 256.9h1M246.5 238.5h1M244.4 254.2h1M238.7 257.1h1M259.7 245.6h1M244.7 254.0h1M256.3 252.6h1M242.2 254.2h1M229.1 248.1h1M242.0 247.1h1M249.0 243.8h1M244.4 235.2h1M253.9 250.8h1M251.8 263.7h1M239.1 266.5h1M246.7 236.6h1M252.0 259.6h1M235.5 251.2h1M254.6 250.6h1M261.8 245.9h1M266.8 240.7h1M267.2 263.9h1M255.7 243.8h1M262.1 243.5h1M252.6 247.5h1M250.8 246.3h1M263.2 257.9h1M245.2 261.1h1M243.9 249.9h1M250.7 247.6h1M255.5 246.1h1M246.2 252.0h1M239.7 255.6h1M248.2 248.2h1M235.1 246.4h1M248.4 261.0h1M247.6 247.0h1M249.9 253.1h1M241.2 250.8h1M250.4 248.2h1M245.6 243.2h1M233.1 254.3h1M234.7 266.8h1M250.5 244.6h1M246.4 248.2h1M247.4 243.3h1M243.7 248.2h1M251.8 260.3h1M259.2 252.0h1M239.0 257.2h1M256.4 251.5h1M255.7 255.2h1M251.2 261.5h1M246.4 242.6h1M244.3 250.4h1M233.0 243.2h1M246.9 248.0h1M245.5 258.2h1M245.8 253.4h1M239.8 253.7h1M240.3 255.8h1M229.1 262.8h1M251.6 248.5h1M246.7 248.3h1M263.8 244.7h1M249.9 250.9h1M251.7 245.7h1M229.4 241.2h1M257.1 245.5h1M243.5 252.6h1M242.1 243.3h1M242.8 262.6h1M246.8 256.7h1M250.4 249.3h1M241.4 262.4h1M245.8 259.8h1M247.0 249.8h1M245.3 250.4h1M245.2 240.6h1M233.3 261.4h1M258.5 256.4h1M254.1 250.8h1M248.7 259.9h1M245.1 252.5h1M230.1 254.9h1M244.8 266.3h1M250.0 252.7h1M235.5 246.2h1M247.5 258.4h1M240.9 250.6h1M243.8 247.2h1M237.7 251.5h1M252.4 246.4h1M241.5 258.6h1M238.6 252.4h1M230.6 236.6h1M246.1 243.4h1M245.7 242.7h1M246.2 244.6h1M257.1 246.8h1M237.6 250.5h1M249.8 252.4h1M246.5 246.7h1M230.6 251.3h1M262.3 251.9h1M259.0 251.3h1M245.8 253.6h1M248.2 255.8h1M243.3 253.4h1M240.5 253.0h1M257.2 254.1h1M250.1 255.3h1M238.5 253.2h1M245.9 244.9h1M254.4 248.8h1M242.8 243.3h1M237.1 258.4h1M254.6 246.7h1M253.7 251.0h1M254.6 241.7h1M231.9 251.2h1M256.7 255.6h1M240.2 250.3h1M253.7 249.7h1M234.4 252.7h1M247.5 253.5h1M257.1 262.6h1M249.2 254.5h1M253.3 251.7h1M263.1 246.2h1M243.8 262.4h1M246.0 251.7h1M261.8 245.3h1M249.9 256.4h1M250.1 256.6h1M236.3 250.8h1M244.5 260.4h1M258.1 240.7h1M252.2 260.6h1M241.2 258.8h1M250.5 228.4h1M256.1 249.7h1M241.2 261.5h1M242.1 251.2h1M246.3 248.1h1M252.9 257.1h1M255.5 249.0h1M262.1 248.5h1M245.4 252.3h1M258.9 245.1h1M258.4 241.8h1M251.2 235.2h1M247.7 252.5h1M258.0 256.1h1M251.2 243.7h1M240.8 264.8h1M236.4 246.4h1M269.8 251.6h1M237.3 261.6h1M261.9 242.8h1M254.3 254.1h1M254.2 254.3h1M253.4 254.6h1M237.7 256.2h1M252.1 247.9h1M243.9 246.0h1M234.8 266.7h1M253.7 250.6h1M248.2 253.9h1M253.1 248.3h1M260.4 254.2h1M237.8 254.2h1M246.4 253.3h1M230.2 252.8h1M263.1 245.1h1M259.2 244.5h1M250.9 247.7h1M258.0 245.7h1M254.3 249.9h1M242.3 250.0h1M245.2 247.9h1M229.6 243.9h1M260.0 238.3h1M252.1 256.8h1M245.3 259.1h1M252.3 249.9h1M250.2 262.4h1M235.9 267.1h1M260.9 244.7h1M249.3 253.0h1M233.4 256.8h1M245.2 257.1h1M257.5 261.9h1M250.3 245.3h1M255.8 258.9h1M229.1 247.5h1M261.2 249.0h1M246.6 249.1h1M258.2 247.8h1M246.0 250.1h1M252.2 236.7h1M249.2 256.7h1M265.6 237.2h1M261.8 253.8h1M243.9 260.8h1M247.9 242.4h1M257.2 248.5h1M251.1 247.1h1M247.9 257.8h1M243.0 241.4h1M240.9 260.0h1M254.0 251.7h1M246.1 250.4h1M248.0 261.7h1M257.3 247.4h1M264.1 241.7h1M244.1 254.7h1M242.9 266.5h1M255.6 253.6h1M257.8 247.5h1M248.2 240.4h1M241.0 241.2h1M245.9 237.5h1M259.4 251.7h1M264.6 244.3h1M252.3 252.5h1M248.8 253.4h1M246.3 246.2h1M256.4 240.9h1M259.8 248.6h1M255.9 250.7h1M254.4 245.4h1M252.7 255.0h1M239.0 241.9h1M242.4 256.2h1M252.8 252.3h1M253.1 240.8h1M235.9 253.1h1M254.6 258.4h1M255.8 239.5h1M249.7 247.4h1M246.8 244.8h1M244.9 251.5h1M243.6 256.6h1M259.5 248.5h1M257.3 259.0h1M239.0 258.8h1M266.1 239.1h1M268.9 248.9h1M254.8 246.9h1M247.2 247.2h1M249.2 247.5h1M233.9 260.9h1M240.8 241.7h1M257.1 255.0h1M253.8 253.2h1M239.6 258.8h1M275.5 243.8h1M248.7 242.6h1M251.9 257.1h1M268.3 231.8h1M256.4 254.4h1M249.0 249.9h1M239.8 235.7h1M249.6 254.1h1M247.1 253.2h1M229.1 254.7h1M259.7 246.7h1M253.3 250.1h1M234.2 250.3h1M255.4 255.8h1M239.6 256.6h1M237.9 267.1h1M246.0 255.2h1M250.5 242.5h1M241.5 262.4h1M248.5 246.4h1M262.1 241.5h1M250.6 249.9h1M234.4 249.6h1M256.3 249.4h1M246.8 248.5h1M253.3 246.3h1M253.1 259.5h1M244.6 262.3h1M256.4 232.2h1M242.5 253.0h1M251.6 254.6h1M264.3 245.7h1M268.3 231.4h1M253.7 254.4h1M261.0 249.6h1M242.4 253.5h1M259.3 253.4h1M247.5 245.3h1M247.0 245.4h1M260.1 251.2h1M239.1 260.6h1M260.5 244.4h1M250.1 252.9h1M258.7 251.4h1M273.2 242.9h1M235.4 247.0h1M251.7 250.1h1M247.8 243.2h1M245.2 241.5h1M242.8 246.2h1M236.3 247.4h1M240.9 254.1h1M256.0 254.0h1M254.1 249.5h1M260.8 242.1h1M251.6 251.3h1M241.5 243.3h1M247.3 259.1h1M242.4 264.4h1M241.7 255.2h1M251.5 244.2h1M256.6 260.6h1M245.2 247.7h1M252.3 250.0h1M242.4 247.7h1M248.6 252.4h1M248.3 252.3h1M252.0 243.0h1M249.9 254.6h1M248.3 251.9h1M253.6 244.7h1M263.7 241.5h1M234.5 259.5h1M238.3 251.3h1M269.7 242.9h1M244.4 242.9h1M254.7 254.6h1M240.9 243.1h1M255.9 262.5h1M242.7 248.6h1M237.4 253.5h1M241.6 263.2h1M244.7 255.2h1M251.7 261.1h1M251.5 252.5h1M235.3 246.2h1M245.3 248.9h1M262.9 244.9h1M257.4 247.4h1M244.1 250.6h1M235.4 250.8h1M256.4 246.2h1M243.3 259.8h1M242.7 254.1h1M236.7 241.3h1M242.1 251.5h1M245.0 250.8h1M230.3 261.7h1M248.9 251.0h1M252.6 253.3h1M256.4 247.6h1M248.7 250.7h1M258.4 248.7h1M262.8 246.7h1M251.3 250.2h1M251.8 247.1h1M243.6 246.9h1M271.7 242.0h1M250.1 255.6h1M242.4 257.5h1M251.4 254.6h1M263.2 250.1h1M241.3 258.4h1M248.3 251.8h1M257.3 253.4h1M252.1 243.9h1M246.6 262.4h1M251.2 243.6h1M252.6 249.8h1M232.1 244.3h1M247.5 258.7h1M246.2 250.4h1M249.5 256.4h1M270.2 237.8h1M257.9 244.6h1M245.6 259.0h1M237.9 246.4h1M249.8 240.1h1M229.2 246.8h1M253.2 253.3h1M256.9 253.2h1M246.7 247.9h1M250.5 248.6h1M251.0 243.6h1M241.6 265.3h1M241.0 267.1h1M266.2 251.0h1M248.7 248.7h1M242.2 255.5h1M251.4 250.1h1M256.2 250.6h1M243.2 261.5h1M234.2 252.5h1M251.8 252.7h1M259.8 265.5h1M254.7 257.0h1M246.1 252.9h1M242.5 254.1h1M251.5 234.8h1M249.1 246.1h1M256.3 255.1h1M253.3 252.3h1M256.9 252.6h1M258.5 254.3h1M244.9 246.2h1M258.0 243.0h1M266.6 240.0h1M249.0 244.7h1M241.8 247.2h1M252.6 250.9h1M242.7 245.4h1M231.4 255.9h1M236.6 255.9h1M245.2 257.0h1M243.7 250.1h1M266.4 235.5h1M247.4 253.8h1M254.4 254.9h1M235.9 247.5h1M245.5 241.8h1M252.0 259.4h1M251.6 247.0h1M249.6 259.4h1M235.8 241.8h1M229.1 262.7h1M256.1 237.5h1M254.8 249.6h1M252.4 242.6h1M244.4 243.6h1M251.3 248.9h1M252.9 247.8h1M240.9 242.6h1M244.7 253.4h1M229.1 266.2h1M254.0 250.2h1M248.2 253.3h1M254.5 253.6h1M236.0 264.2h1M242.0 250.3h1M261.8 244.1h1M243.1 260.7h1M256.4 245.8h1M248.6 246.8h1M254.3 246.2h1M260.8 257.9h1M243.3 255.5h1M240.3 240.0h1M252.2 247.3h1M256.1 250.6h1M256.5 250.3h1M255.7 245.5h1M260.6 257.8h1M240.9 257.5h1M241.8 249.9h1M257.6 251.0h1M258.5 242.8h1M243.9 247.6h1M261.7 250.9h1M229.7 251.6h1M251.6 246.1h1M253.6 250.0h1M249.0 255.9h1M266.3 236.6h1M247.9 256.5h1M252.9 239.5h1M249.5 255.9h1M257.4 247.1h1M242.1 253.7h1M250.6 257.5h1M251.7 241.8h1M258.4 240.4h1M255.7 249.7h1M254.6 241.4h1M249.5 247.2h1M243.7 251.8h1M244.9 258.5h1M252.7 235.4h1M234.3 257.2h1M250.9 255.0h1M250.6 244.8h1M234.9 254.6h1M254.4 245.7h1M265.2 245.5h1M260.1 251.7h1M241.3 255.9h1M245.4 245.7h1M255.8 248.9h1M241.4 251.4h1M245.6 253.8h1M234.0 244.0h1M254.4 230.1h1M272.8 244.7h1M268.7 248.7h1M273.7 245.1h1M233.1 254.4h1M256.3 237.8h1M257.8 237.0h1M250.9 260.0h1M250.7 255.9h1M256.6 262.6h1M240.7 260.1h1M250.2 243.6h1M246.6 259.6h1M244.8 252.5h1M259.5 247.3h1M261.5 266.2h1M265.0 232.5h1M244.7 233.9h1M235.6 247.6h1M237.8 257.1h1M253.7 248.0h1M251.9 251.1h1M233.0 264.9h1M241.8 258.7h1M245.2 262.6h1M248.2 247.5h1M244.9 242.8h1M251.1 244.0h1M241.4 251.0h1M236.8 265.8h1M233.8 256.7h1M251.4 236.1h1M252.1 252.3h1M258.6 247.6h1M249.4 249.6h1M257.9 238.0h1M236.7 252.8h1M245.1 251.3h1M270.2 247.1h1M229.1 249.9h1M245.1 257.5h1M268.9 232.7h1M258.4 246.7h1M242.9 242.4h1M247.1 249.5h1M247.7 249.8h1M231.7 262.6h1M237.9 267.1h1M239.0 256.2h1M247.6 251.4h1M245.4 244.5h1M230.9 258.3h1M247.2 256.7h1M261.5 248.4h1M259.0 244.6h1M246.9 244.6h1M236.3 261.6h1M245.8 267.1h1M245.5 252.7h1M233.8 261.0h1M237.7 237.6h1M260.4 243.9h1M251.2 241.3h1M250.2 242.1h1M257.1 234.8h1M258.7 252.0h1M254.7 241.9h1M255.2 234.7h1M251.9 252.6h1M257.2 241.1h1M249.2 247.1h1M250.5 248.5h1M252.5 252.4h1M255.9 246.6h1M264.7 244.9h1M250.3 258.3h1M269.4 247.3h1M244.8 253.4h1M249.4 251.2h1M264.4 250.1h1M247.3 253.9h1M254.7 260.0h1M258.2 250.9h1M236.7 243.8h1M237.6 248.6h1M249.5 254.9h1M234.6 258.6h1M256.1 249.4h1M244.2 245.4h1M249.7 250.0h1M241.6 261.4h1M245.2 249.6h1M245.6 249.4h1M247.0 252.7h1M248.9 248.4h1M229.4 255.3h1M247.5 253.9h1M258.0 241.0h1M259.5 243.4h1M253.3 248.8h1M256.0 253.3h1M248.1 248.8h1M248.0 259.1h1M248.5 253.5h1M243.6 247.9h1M258.8 247.8h1M239.1 254.1h1M247.6 257.9h1M243.9 251.0h1M244.0 249.0h1M237.7 249.1h1M243.0 251.3h1M249.4 254.0h1M258.5 260.1h1M251.0 246.1h1M247.1 251.6h1M239.1 253.4h1M250.7 254.2h1M249.4 253.1h1M240.1 253.4h1M242.3 246.6h1M242.2 243.2h1M249.0 250.9h1M242.7 249.4h1M240.1 262.9h1M253.0 263.5h1M259.4 251.8h1M263.2 245.9h1M263.8 256.8h1M245.3 250.0h1M244.2 251.5h1M247.8 246.8h1M261.9 261.8h1M254.8 257.0h1M263.8 257.0h1M241.7 249.2h1M247.7 246.7h1M252.5 255.0h1M234.6 246.7h1M247.3 251.9h1M246.4 253.1h1M242.7 252.0h1M251.4 258.3h1M235.1 250.5h1M257.0 252.5h1M247.7 254.4h1M252.8 250.4h1M244.2 256.9h1M253.2 247.5h1M245.3 249.1h1M229.1 260.1h1M250.8 263.6h1M244.0 250.5h1M260.5 245.6h1M238.1 247.6h1M246.7 246.0h1M236.7 264.3h1M234.9 250.3h1M259.8 246.7h1M250.8 251.2h1M251.0 257.0h1M260.2 243.1h1M257.8 249.3h1M256.8 242.7h1M271.7 238.6h1M242.5 257.5h1M257.0 245.8h1M254.2 249.3h1M241.9 251.6h1M236.1 252.0h1M269.7 241.3h1M241.5 258.2h1M270.9 241.5h1M244.6 248.1h1M246.3 258.3h1M250.5 247.2h1M260.9 256.2h1M262.5 249.2h1M231.3 248.6h1M258.2 245.2h1M256.7 254.8h1M279.7 229.6h1M293.5 219.8h1M261.3 242.0h1M258.6 240.1h1M279.2 232.3h1M277.7 250.9h1M289.3 225.7h1M278.6 246.6h1M270.5 231.9h1M271.3 227.3h1M271.4 239.8h1M258.1 242.1h1M256.4 239.9h1M290.0 250.5h1M278.1 234.7h1M274.0 223.8h1M279.9 241.6h1M285.9 224.3h1M256.9 249.6h1M269.2 224.7h1M282.0 221.0h1M266.4 224.6h1M253.7 233.8h1M245.0 234.4h1M278.6 231.4h1M273.7 227.4h1M275.4 230.9h1M278.6 233.9h1M279.4 224.4h1M283.2 222.9h1M258.8 235.1h1M279.3 230.3h1M261.2 244.3h1M283.4 226.9h1M261.8 230.5h1M273.8 225.6h1M270.3 231.8h1M265.1 232.2h1M276.4 229.7h1M267.2 226.3h1M272.4 215.3h1M259.9 235.5h1M278.9 235.3h1M279.9 207.8h1M260.4 240.3h1M258.5 231.5h1M280.1 222.2h1M271.2 227.7h1M284.2 219.7h1M281.6 229.0h1M276.7 229.5h1M278.5 233.7h1M274.3 227.6h1M267.6 258.6h1M284.2 229.5h1M270.7 243.7h1M273.6 233.1h1M272.5 225.3h1M253.5 240.2h1M267.0 229.2h1M265.2 225.9h1M274.9 225.1h1M265.7 232.2h1M278.2 219.5h1M260.8 239.2h1M276.4 226.6h1M264.5 224.3h1M248.2 242.2h1M281.7 221.4h1M272.2 242.5h1M274.6 228.6h1M277.9 232.4h1M276.6 227.2h1M260.4 237.3h1M260.8 242.7h1M276.9 228.3h1M273.3 232.3h1M278.7 230.2h1M260.2 236.5h1M272.9 246.4h1M285.2 222.0h1M268.0 240.6h1M254.8 240.7h1M270.2 239.4h1M274.3 235.2h1M284.4 225.7h1M255.7 241.1h1M269.4 236.9h1M277.0 223.4h1M278.9 224.9h1M274.8 226.8h1M265.4 257.6h1M265.1 246.6h1M278.8 241.5h1M262.0 232.2h1M271.4 231.9h1M287.6 225.3h1M267.0 242.2h1M258.5 234.1h1M292.0 227.3h1M263.0 215.9h1M283.2 226.9h1M264.8 229.7h1M269.0 222.4h1M283.7 236.8h1M282.0 235.1h1M275.6 230.5h1M269.3 235.7h1M280.1 232.2h1M264.4 233.8h1M292.5 221.9h1M270.3 236.0h1M279.3 231.5h1M269.2 237.8h1M278.8 238.0h1M265.8 223.9h1M276.8 230.9h1M258.4 246.5h1M273.8 236.3h1M274.5 237.0h1M269.6 231.9h1M270.3 232.2h1M260.7 222.2h1M283.5 226.5h1M277.6 237.7h1M256.7 234.1h1M284.1 219.5h1M257.1 240.7h1M257.4 248.7h1M258.5 238.3h1M271.9 225.9h1M275.0 238.7h1M286.2 221.4h1M288.2 217.4h1M270.3 233.0h1M279.0 223.7h1M278.2 237.7h1M270.3 225.6h1M262.5 230.7h1M280.2 245.5h1M274.4 220.9h1M264.2 234.1h1M266.0 247.6h1M263.9 238.4h1M262.9 230.4h1M263.0 230.0h1M284.8 234.7h1M274.3 231.9h1M278.9 225.0h1M275.1 216.7h1M255.4 248.4h1M263.1 224.7h1M286.8 222.5h1M270.7 225.3h1M281.3 238.1h1M283.6 244.8h1M271.9 224.1h1M262.0 220.1h1M281.4 218.6h1M282.3 210.8h1M252.2 229.8h1M259.8 220.7h1M288.7 225.3h1M261.7 236.0h1M273.7 228.2h1M291.1 223.7h1M259.0 225.4h1M266.3 239.4h1M265.2 247.2h1M268.7 247.8h1M273.4 223.3h1M280.3 222.6h1M261.3 235.6h1M275.7 221.2h1M262.6 245.6h1M275.8 213.6h1M264.5 235.5h1M280.8 214.0h1M279.5 236.8h1M264.0 248.7h1M272.6 237.1h1M260.0 240.4h1M282.0 238.8h1M274.6 223.6h1M283.3 225.0h1M284.0 222.0h1M265.1 224.0h1M261.2 250.8h1M269.6 235.3h1M260.5 237.8h1M258.4 241.8h1M264.2 249.8h1M265.5 230.0h1M267.8 234.7h1M265.7 237.4h1M280.0 232.3h1M269.5 246.8h1M272.8 226.6h1M269.8 243.4h1M276.8 236.9h1M262.1 230.4h1M274.5 230.0h1M274.0 238.6h1M283.0 222.5h1M276.7 246.3h1M275.5 219.1h1M272.7 221.5h1M274.1 225.4h1M271.0 220.3h1M253.1 239.0h1M290.4 208.4h1M281.5 226.1h1M271.4 245.0h1M287.7 221.2h1M283.9 219.5h1M278.4 231.4h1M275.0 234.9h1M279.2 226.9h1M270.4 232.7h1M271.1 225.8h1M268.8 222.2h1M269.6 240.1h1M259.6 240.0h1M287.2 220.0h1M276.1 225.3h1M261.2 235.0h1M282.7 209.9h1M277.3 220.8h1M282.3 218.0h1M260.6 245.4h1M282.8 222.2h1M273.8 224.9h1M269.4 241.9h1M261.6 241.6h1M258.4 237.8h1M272.7 227.5h1M285.8 219.7h1M272.7 217.6h1M265.9 237.5h1M298.5 226.9h1M266.9 224.9h1M285.1 229.1h1M271.0 229.7h1M285.2 222.4h1M262.2 245.8h1M278.8 239.4h1M260.0 244.7h1M283.5 213.1h1M262.0 231.4h1M272.8 240.5h1M269.6 227.8h1M277.6 224.3h1M276.0 220.0h1M281.3 226.2h1M284.7 221.8h1M269.6 232.2h1M271.7 231.2h1M267.7 228.7h1M248.8 252.9h1M279.6 222.0h1M270.0 239.7h1M271.9 234.0h1M266.0 243.7h1M268.3 223.9h1M280.1 236.5h1M280.6 237.9h1M291.4 217.4h1M270.2 221.9h1M263.2 239.5h1M278.5 236.5h1M274.2 233.9h1M266.8 232.9h1M289.3 225.6h1M255.3 234.1h1M271.4 237.6h1M289.4 236.0h1M272.2 241.8h1M270.0 237.1h1M284.4 226.0h1M283.5 224.1h1M277.7 222.8h1M261.9 230.4h1M262.9 223.6h1M262.7 237.8h1M267.5 236.1h1M278.2 221.7h1M260.9 241.1h1M276.5 229.8h1M288.3 222.8h1M258.5 237.8h1M284.6 219.4h1M273.6 238.1h1M270.8 238.9h1M260.4 227.9h1M265.9 234.5h1M250.4 238.7h1M271.3 235.2h1M263.5 235.7h1M272.6 225.2h1M279.8 243.1h1M273.3 241.5h1M267.1 231.8h1M255.8 246.8h1M281.3 230.0h1M274.1 224.0h1M259.7 241.3h1M264.0 249.3h1M270.2 239.9h1M264.4 243.9h1M285.0 230.6h1M284.0 227.7h1M266.4 244.0h1M287.6 223.9h1M270.9 235.8h1M271.4 229.7h1M275.2 232.3h1M267.4 241.0h1M274.1 229.4h1M282.0 234.8h1M272.3 236.7h1M281.6 222.8h1M279.8 224.9h1M268.2 237.9h1M266.9 241.4h1M274.7 230.9h1M286.3 224.9h1M264.8 238.9h1M262.7 242.3h1M254.3 239.3h1M263.5 239.5h1M275.6 232.4h1M276.4 246.5h1M283.2 221.4h1M270.4 229.7h1M280.0 233.4h1M266.5 224.7h1M276.3 224.5h1M267.3 228.6h1M280.3 227.0h1M274.5 232.5h1M265.7 238.3h1M276.6 225.5h1M269.6 221.5h1M271.7 230.8h1M284.8 229.7h1M272.5 240.5h1M283.7 229.8h1M267.2 234.4h1M270.3 223.9h1M266.5 248.1h1M276.8 229.0h1M280.4 231.0h1M282.3 234.3h1M292.9 219.6h1M280.2 233.2h1M282.5 230.2h1M282.7 224.4h1M269.0 237.6h1M264.7 230.3h1M262.4 230.0h1M263.0 239.0h1M264.3 236.3h1M245.1 244.6h1M268.3 222.3h1M282.1 230.2h1M273.4 231.4h1M262.3 241.4h1M265.4 238.6h1M255.7 241.4h1M276.1 224.9h1M262.9 239.2h1M274.8 228.4h1M267.4 218.4h1M257.3 249.7h1M273.6 213.1h1M262.2 230.3h1M273.5 240.0h1M257.5 231.4h1M291.4 219.1h1M288.7 223.4h1M269.3 232.7h1M277.1 214.9h1M277.6 227.0h1M261.3 243.5h1M281.7 221.2h1M268.2 230.2h1M262.8 230.8h1M267.3 226.1h1M271.9 226.7h1M272.1 231.5h1M266.9 237.9h1M271.1 225.2h1M268.7 242.4h1M259.5 237.9h1M277.5 234.8h1M264.9 242.8h1M276.2 233.2h1M274.0 231.3h1M264.3 242.0h1M282.0 233.5h1M283.0 238.5h1M271.0 248.9h1M285.5 237.1h1M270.6 245.5h1M273.6 237.0h1M279.7 237.7h1M276.3 238.8h1M270.7 233.2h1M273.2 243.6h1M289.6 242.1h1M270.4 239.9h1M272.9 240.6h1M282.9 231.3h1M262.6 230.5h1M264.0 248.6h1M280.4 244.7h1M263.8 236.9h1M278.8 236.2h1M286.8 230.2h1M270.3 243.6h1M278.1 241.5h1M276.7 233.6h1M276.7 248.1h1M288.9 236.7h1M277.5 249.3h1M274.1 247.9h1M288.4 239.4h1M262.2 243.3h1M266.2 241.2h1M266.1 252.5h1M272.7 242.0h1M267.3 237.0h1M281.8 238.5h1M273.6 237.6h1M282.5 236.6h1M264.5 237.9h1M295.4 230.7h1M277.2 242.6h1M260.9 239.6h1M279.5 235.6h1M275.7 231.2h1M273.4 251.8h1M273.1 238.9h1M281.3 234.5h1M280.5 235.3h1M277.0 246.4h1M271.6 233.9h1M288.8 253.1h1M273.1 242.7h1M281.9 250.3h1M269.4 239.7h1M267.3 252.3h1M290.8 237.4h1M274.9 235.7h1M291.1 240.2h1M273.0 242.1h1M282.8 231.8h1M288.3 239.2h1M263.7 246.2h1M257.5 241.4h1M256.2 241.2h1M265.1 239.2h1M287.4 237.4h1M273.1 239.7h1M268.8 238.8h1M272.1 239.2h1M267.1 238.0h1M277.3 244.5h1M273.7 248.7h1M261.8 249.6h1M277.9 241.4h1M273.9 238.1h1M271.8 241.4h1M269.3 227.2h1M267.1 237.5h1M272.1 228.8h1M264.2 242.7h1M277.7 242.0h1M293.1 233.7h1M277.9 249.5h1M278.0 246.5h1M279.2 236.2h1M273.2 243.5h1M267.1 245.4h1M287.9 241.6h1M271.6 237.7h1M262.3 245.2h1M284.3 235.8h1M279.2 234.0h1M274.0 254.7h1M281.0 234.6h1M253.3 246.0h1M286.8 244.1h1M282.6 228.6h1M273.2 241.7h1M265.3 237.8h1M276.4 235.7h1M273.7 239.6h1M268.9 234.2h1M273.0 232.1h1M282.2 242.5h1M264.3 235.5h1M277.8 241.2h1M283.5 250.4h1M279.3 240.8h1M280.7 241.9h1M270.1 236.4h1M277.5 248.0h1M278.9 234.2h1M259.7 249.1h1M264.2 248.3h1M268.1 229.2h1M265.4 247.8h1M272.0 231.9h1M270.7 234.6h1M283.3 240.2h1M277.7 232.6h1M276.3 229.1h1M277.7 228.9h1M265.4 240.3h1M253.1 253.7h1M269.3 243.4h1M272.3 236.9h1M261.4 253.5h1M280.9 236.3h1M282.6 232.5h1M277.0 242.4h1M278.6 244.6h1M262.6 244.5h1M293.9 241.2h1M286.0 238.1h1M289.4 239.3h1M263.8 246.3h1M272.5 236.6h1M267.8 239.9h1M295.0 234.8h1M280.0 221.8h1M267.5 241.4h1M271.2 238.8h1M267.1 243.3h1M280.6 238.2h1M257.2 236.5h1M277.5 226.9h1M266.8 239.3h1M266.1 236.7h1M269.1 232.8h1M275.1 253.3h1M264.1 237.9h1M280.8 231.9h1M278.6 241.7h1M277.5 224.5h1M276.6 219.8h1M269.4 228.1h1M286.6 223.5h1M280.8 226.8h1M277.0 218.3h1M288.8 222.1h1M271.6 218.4h1M262.0 229.0h1M282.1 211.8h1M284.6 223.9h1M276.0 225.3h1M269.2 228.6h1M279.0 233.0h1M270.3 241.3h1M283.7 222.8h1M263.8 235.2h1M271.1 217.8h1M280.2 229.8h1M272.6 234.1h1M269.1 235.3h1M290.3 218.5h1M286.5 220.6h1M270.7 221.2h1M280.2 227.8h1M263.8 227.9h1M267.1 228.5h1M260.8 237.7h1M283.9 220.6h1M277.6 226.1h1M278.0 229.5h1M282.4 215.7h1M271.8 233.9h1M276.6 233.7h1M291.7 222.3h1M279.7 223.4h1M272.6 229.7h1M268.2 216.7h1M277.1 219.4h1M288.1 224.0h1M272.5 227.9h1M279.3 229.5h1M283.9 224.7h1M270.6 222.7h1M287.5 227.2h1M275.0 226.2h1M280.6 220.1h1M275.5 230.0h1M271.8 221.6h1M290.8 221.0h1M270.1 213.5h1M285.4 226.9h1M266.7 231.8h1M299.4 213.7h1M268.8 230.7h1M273.6 232.3h1M281.0 229.7h1M274.6 222.5h1M274.5 220.4h1M272.4 219.9h1M271.3 229.2h1M265.1 225.8h1M281.8 223.9h1M287.6 219.4h1M279.2 233.0h1M275.1 223.5h1M267.2 219.5h1M279.0 216.8h1M266.9 217.9h1M287.1 222.1h1M273.8 217.3h1M268.9 227.8h1M285.2 223.6h1M270.2 232.4h1M272.6 219.4h1M297.8 225.5h1M267.0 223.9h1M275.1 227.5h1M275.3 218.4h1M282.5 227.7h1M280.5 230.5h1M285.2 233.7h1M273.1 221.1h1M289.8 219.5h1M261.1 229.4h1M283.7 220.2h1M279.5 227.4h1M261.4 230.8h1M277.7 228.3h1M269.8 224.5h1M268.7 235.2h1M295.2 249.1h1M293.7 255.5h1M291.6 231.8h1M284.4 226.8h1M279.1 265.0h1M306.9 234.6h1M278.9 237.2h1M282.4 241.6h1M249.6 256.3h1M308.6 228.5h1M254.6 213.1h1M280.4 255.3h1M260.3 248.3h1M296.6 226.3h1M270.2 241.7h1M261.6 236.3h1M255.4 224.3h1M273.2 223.3h1M304.7 233.3h1" stroke="#e0101a" stroke-width="1.15" stroke-opacity="0.92" fill="none"/>
<rect x="228.80" y="188.40" width="93.50" height="79.00" fill="none" stroke="#3a3a3a" stroke-width="1"/>
<line x1="264.50" y1="188.40" x2="264.50" y2="267.40" stroke="#2a2a2a" stroke-width="1.1"/>
<line x1="228.80" y1="231.50" x2="322.30" y2="231.50" stroke="#2a2a2a" stroke-width="1.1"/>
<line x1="228.80" y1="188.40" x2="228.80" y2="268.90" stroke="#111" stroke-width="1.4"/>
<line x1="227.80" y1="267.40" x2="322.30" y2="267.40" stroke="#111" stroke-width="1.2"/>
<path d="M228.80 267.40h-3.7M228.80 267.40v3.7M228.80 261.45h-1.8M235.84 267.40v1.8M228.80 257.98h-1.8M239.95 267.40v1.8M228.80 255.51h-1.8M242.87 267.40v1.8M228.80 253.60h-1.8M245.14 267.40v1.8M228.80 252.03h-1.8M246.99 267.40v1.8M228.80 250.71h-1.8M248.55 267.40v1.8M228.80 249.56h-1.8M249.91 267.40v1.8M228.80 248.55h-1.8M251.11 267.40v1.8M228.80 247.65h-3.7M252.18 267.40v3.7M228.80 241.70h-1.8M259.21 267.40v1.8M228.80 238.23h-1.8M263.33 267.40v1.8M228.80 235.76h-1.8M266.25 267.40v1.8M228.80 233.85h-1.8M268.51 267.40v1.8M228.80 232.28h-1.8M270.36 267.40v1.8M228.80 230.96h-1.8M271.93 267.40v1.8M228.80 229.81h-1.8M273.28 267.40v1.8M228.80 228.80h-1.8M274.48 267.40v1.8M228.80 227.90h-3.7M275.55 267.40v3.7M228.80 221.95h-1.8M282.59 267.40v1.8M228.80 218.48h-1.8M286.70 267.40v1.8M228.80 216.01h-1.8M289.62 267.40v1.8M228.80 214.10h-1.8M291.89 267.40v1.8M228.80 212.53h-1.8M293.74 267.40v1.8M228.80 211.21h-1.8M295.30 267.40v1.8M228.80 210.06h-1.8M296.66 267.40v1.8M228.80 209.05h-1.8M297.86 267.40v1.8M228.80 208.15h-3.7M298.93 267.40v3.7M228.80 202.20h-1.8M305.96 267.40v1.8M228.80 198.73h-1.8M310.08 267.40v1.8M228.80 196.26h-1.8M313.00 267.40v1.8M228.80 194.35h-1.8M315.26 267.40v1.8M228.80 192.78h-1.8M317.11 267.40v1.8M228.80 191.46h-1.8M318.68 267.40v1.8M228.80 190.31h-1.8M320.03 267.40v1.8M228.80 189.30h-1.8M321.23 267.40v1.8M228.80 188.40h-3.8M322.30 267.40v3.8" stroke="#111" stroke-width="0.8" fill="none"/>
<text x="228.80" y="281.20" font-size="7.3" text-anchor="middle" fill="#111">10<tspan dx="0.9" dy="-4.4">0</tspan></text>
<text x="222.50" y="267.70" font-size="6.8" text-anchor="middle" fill="#111" transform="rotate(-90 222.50 267.70)">10<tspan dx="0.6" dy="-3.3">0</tspan></text>
<text x="252.18" y="281.20" font-size="7.3" text-anchor="middle" fill="#111">10<tspan dx="0.9" dy="-4.4">1</tspan></text>
<text x="222.50" y="247.95" font-size="6.8" text-anchor="middle" fill="#111" transform="rotate(-90 222.50 247.95)">10<tspan dx="0.6" dy="-3.3">1</tspan></text>
<text x="275.55" y="281.20" font-size="7.3" text-anchor="middle" fill="#111">10<tspan dx="0.9" dy="-4.4">2</tspan></text>
<text x="222.50" y="228.20" font-size="6.8" text-anchor="middle" fill="#111" transform="rotate(-90 222.50 228.20)">10<tspan dx="0.6" dy="-3.3">2</tspan></text>
<text x="298.93" y="281.20" font-size="7.3" text-anchor="middle" fill="#111">10<tspan dx="0.9" dy="-4.4">3</tspan></text>
<text x="222.50" y="208.45" font-size="6.8" text-anchor="middle" fill="#111" transform="rotate(-90 222.50 208.45)">10<tspan dx="0.6" dy="-3.3">3</tspan></text>
<text x="322.30" y="281.20" font-size="7.3" text-anchor="middle" fill="#111">10<tspan dx="0.9" dy="-4.4">4</tspan></text>
<text x="222.50" y="188.70" font-size="6.8" text-anchor="middle" fill="#111" transform="rotate(-90 222.50 188.70)">10<tspan dx="0.6" dy="-3.3">4</tspan></text>
<text x="273.55" y="287.80" font-size="7.0" text-anchor="middle" fill="#111">AV</text>
<text x="211.20" y="228.50" font-size="6.6" text-anchor="middle" fill="#111" transform="rotate(-90 211.20 228.50)">PI</text>
<path d="M388.4 267.7h1M372.1 251.1h1M372.6 245.4h1M377.5 252.1h1M361.5 251.7h1M375.9 242.8h1M385.1 248.8h1M388.3 249.1h1M373.1 252.7h1M378.4 243.4h1M374.3 259.2h1M392.7 239.9h1M377.2 250.2h1M365.9 243.7h1M375.6 266.0h1M379.3 246.9h1M386.4 246.3h1M382.7 250.3h1M379.8 251.7h1M402.9 241.9h1M381.8 263.3h1M380.2 246.2h1M386.9 258.2h1M379.9 239.5h1M378.8 251.8h1M385.9 248.7h1M375.7 255.8h1M365.0 253.9h1M385.7 244.1h1M373.7 249.4h1M371.1 264.0h1M386.3 256.5h1M368.0 256.3h1M377.5 240.5h1M389.8 232.7h1M382.2 260.4h1M369.0 251.9h1M368.2 251.1h1M389.9 242.8h1M365.3 247.5h1M396.1 237.8h1M401.9 248.2h1M379.4 244.5h1M389.6 236.8h1M379.2 255.0h1M378.7 255.3h1M381.4 251.9h1M387.5 252.3h1M388.9 252.4h1M391.6 238.0h1M380.3 251.4h1M383.7 245.8h1M371.3 248.2h1M363.8 263.4h1M369.7 252.2h1M373.0 268.4h1M390.3 250.5h1M377.6 248.6h1M383.8 244.9h1M368.9 251.6h1M389.3 241.9h1M393.8 255.3h1M391.5 256.0h1M370.4 251.9h1M401.7 234.7h1M379.4 249.7h1M390.5 254.9h1M377.4 254.9h1M391.4 242.5h1M383.4 240.6h1M378.3 256.8h1M388.8 259.5h1M383.1 249.1h1M366.1 253.4h1M372.8 243.2h1M387.5 241.4h1M389.5 246.9h1M390.6 242.3h1M385.7 240.9h1M398.5 255.3h1M376.5 261.1h1M369.4 248.9h1M371.9 254.2h1M375.5 244.9h1M395.2 244.2h1M374.4 255.8h1M378.9 261.4h1M369.7 252.2h1M382.9 247.9h1M383.7 253.8h1M379.6 257.0h1M382.8 262.7h1M385.4 246.6h1M376.9 250.0h1M389.9 246.3h1M398.0 235.8h1M381.7 250.8h1M370.1 260.6h1M382.5 248.4h1M383.9 237.4h1M384.4 245.9h1M378.6 257.8h1M376.6 251.8h1M387.1 243.0h1M371.6 253.6h1M387.5 257.1h1M378.5 260.3h1M374.5 244.1h1M384.0 234.0h1M371.5 246.7h1M379.3 261.0h1M382.5 247.6h1M378.3 242.4h1M377.9 245.7h1M380.7 253.3h1M384.2 241.4h1M393.6 237.4h1M365.6 263.8h1M378.4 242.5h1M363.8 254.5h1M370.1 248.0h1M390.0 248.5h1M392.9 240.6h1M379.4 240.4h1M399.8 243.9h1M383.1 246.7h1M388.1 250.0h1M378.8 242.4h1M379.7 241.1h1M383.3 237.3h1M394.1 253.0h1M387.0 249.2h1M375.5 245.6h1M390.3 242.9h1M390.7 235.4h1M384.1 244.4h1M385.2 238.0h1M373.1 252.7h1M370.1 257.0h1M384.1 250.9h1M374.2 253.4h1M391.0 232.2h1M382.1 254.1h1M382.7 253.2h1M383.9 244.0h1M398.2 248.9h1M379.8 255.6h1M390.5 252.8h1M392.5 233.5h1M365.7 247.3h1M401.4 242.0h1M380.5 236.0h1M379.1 250.8h1M372.9 247.8h1M392.8 250.8h1M388.4 243.6h1M395.0 245.5h1M374.2 250.2h1M385.1 249.9h1M372.6 248.0h1M366.8 262.0h1M380.0 259.0h1M385.5 258.9h1M379.3 247.2h1M393.0 251.1h1M383.5 240.6h1M373.8 249.4h1M391.1 238.6h1M380.4 247.2h1M374.6 247.9h1M384.8 251.7h1M402.3 238.0h1M373.6 251.7h1M385.4 255.1h1M372.9 247.1h1M380.4 250.1h1M390.3 248.2h1M367.7 261.4h1M379.6 251.2h1M377.6 256.6h1M365.4 256.4h1M384.8 246.3h1M386.6 227.6h1M370.6 257.1h1M382.4 265.3h1M387.2 248.0h1M409.3 240.6h1M380.1 249.7h1M379.0 254.7h1M390.8 243.9h1M383.9 250.3h1M364.0 258.3h1M360.9 260.5h1M384.1 250.2h1M381.7 238.5h1M385.9 241.1h1M378.0 252.7h1M368.5 243.7h1M391.1 246.6h1M385.1 246.4h1M393.1 242.0h1M380.1 256.9h1M359.0 268.5h1M378.8 242.1h1M374.6 253.3h1M386.5 236.7h1M359.9 257.5h1M376.5 245.5h1M377.4 262.6h1M359.8 268.0h1M377.2 258.0h1M368.6 240.2h1M367.4 256.2h1M391.7 246.0h1M362.7 255.6h1M380.6 240.6h1M373.5 262.5h1M377.3 258.4h1M382.6 244.6h1M380.2 250.2h1M369.8 262.7h1M383.5 239.2h1M388.0 230.7h1M371.8 267.2h1M380.3 248.0h1M373.2 265.1h1M393.0 258.5h1M385.3 242.4h1M392.6 246.1h1M389.2 248.6h1M387.4 238.4h1M380.5 261.6h1M384.6 268.5h1M393.3 249.7h1M375.8 244.6h1M388.7 243.7h1M375.6 246.5h1M382.0 251.7h1M373.6 248.8h1M373.9 243.1h1M364.6 262.0h1M382.4 260.8h1M397.5 253.7h1M375.2 254.4h1M382.3 239.7h1M376.9 254.5h1M392.4 245.9h1M387.8 247.0h1M376.1 255.5h1M371.8 258.1h1M382.3 249.5h1M387.9 246.6h1M384.4 254.4h1M366.0 247.7h1M396.9 246.3h1M388.6 253.1h1M372.5 249.8h1M388.5 243.2h1M390.7 245.8h1M379.4 249.5h1M372.7 254.9h1M365.7 262.8h1M387.8 251.1h1M360.1 264.4h1M387.8 247.9h1M379.9 246.0h1M391.2 248.3h1M382.9 235.4h1M386.2 251.6h1M373.2 255.4h1M391.2 260.3h1M386.4 250.7h1M386.5 246.5h1M366.4 257.9h1M362.7 256.8h1M373.8 245.9h1M364.2 253.3h1M371.9 256.1h1M365.4 242.3h1M378.6 249.9h1M401.4 254.6h1M379.8 256.4h1M378.2 253.4h1M385.3 243.1h1M381.3 241.5h1M377.7 259.5h1M365.3 249.1h1M377.5 247.6h1M387.2 253.8h1M392.4 240.8h1M395.6 239.9h1M370.3 249.3h1M381.9 259.2h1M388.6 248.8h1M384.4 237.3h1M392.5 248.6h1M387.3 240.5h1M382.1 241.9h1M386.0 251.0h1M393.4 247.1h1M376.4 253.8h1M364.5 247.9h1M369.8 265.9h1M383.7 263.7h1M378.1 245.5h1M383.8 246.1h1M378.1 257.1h1M383.3 243.6h1M380.2 243.3h1M358.9 263.3h1M358.8 260.6h1M382.2 257.9h1M375.8 252.0h1M373.3 253.8h1M389.4 246.8h1M390.2 243.6h1M376.0 250.8h1M389.1 250.8h1M374.8 243.3h1M388.3 242.8h1M375.9 252.6h1M384.3 245.7h1M388.6 254.6h1M388.8 253.9h1M372.0 256.0h1M375.9 244.2h1M391.6 231.7h1M374.5 250.8h1M392.6 257.5h1M388.0 234.4h1M389.6 251.8h1M379.9 249.0h1M374.6 258.9h1M391.2 252.2h1M390.4 253.9h1M373.6 267.7h1M358.8 244.5h1M374.9 254.3h1M388.4 257.0h1M380.7 242.0h1M388.0 237.2h1M379.5 260.5h1M380.9 246.1h1M371.4 255.0h1M380.5 234.8h1M374.8 257.1h1M379.0 254.7h1M381.2 253.2h1M369.5 258.3h1M363.4 244.0h1M393.2 246.4h1M382.7 244.4h1M383.7 254.9h1M372.8 246.8h1M378.4 247.6h1M377.1 244.9h1M379.4 248.5h1M386.0 261.8h1M389.0 237.9h1M376.4 262.3h1M384.3 254.6h1M371.8 242.0h1M379.7 257.5h1M369.1 251.0h1M383.8 246.0h1M370.5 257.9h1M380.6 252.5h1M381.4 251.8h1M380.3 248.6h1M386.6 239.0h1M380.4 263.8h1M393.7 255.8h1M383.0 240.8h1M386.4 238.8h1M380.9 234.6h1M385.5 259.4h1M387.3 249.7h1M390.5 251.3h1M388.4 256.0h1M378.2 251.3h1M391.0 251.8h1M383.7 241.1h1M364.5 244.5h1M379.9 248.5h1M398.3 244.2h1M387.3 238.9h1M394.0 236.9h1M375.3 248.9h1M367.8 262.5h1M378.0 252.8h1M375.7 256.7h1M396.1 253.6h1M385.5 256.8h1M383.6 254.6h1M365.4 268.5h1M391.3 237.7h1M378.2 251.8h1M383.8 259.4h1M386.5 227.3h1M376.7 262.5h1M375.5 251.4h1M377.9 238.7h1M386.4 251.8h1M382.9 252.1h1M373.7 241.6h1M379.2 254.2h1M393.6 247.4h1M389.8 264.9h1M387.0 255.4h1M377.2 244.7h1M396.6 260.3h1M392.8 247.8h1M376.4 244.0h1M379.6 254.1h1M378.7 252.0h1M376.1 243.8h1M395.7 251.0h1M374.8 252.7h1M373.8 251.4h1M382.1 249.4h1M374.1 249.9h1M369.3 256.3h1M379.4 249.9h1M388.2 248.6h1M371.7 249.9h1M379.5 244.8h1M395.6 234.3h1M380.5 256.7h1M382.8 250.4h1M374.0 262.6h1M391.1 253.1h1M390.0 239.4h1M372.3 249.8h1M380.0 260.1h1M375.1 250.7h1M389.3 251.9h1M378.8 243.3h1M377.0 255.7h1M367.0 251.4h1M374.3 258.6h1M376.5 256.4h1M406.8 245.0h1M387.5 256.4h1M388.4 244.8h1M377.2 235.5h1M372.1 260.2h1M358.8 268.5h1M374.3 252.4h1M387.6 248.1h1M373.7 258.9h1M395.3 248.1h1M396.3 245.3h1M377.4 253.5h1M385.1 242.8h1M377.4 247.4h1M369.1 265.0h1M366.3 257.9h1M374.6 247.0h1M377.5 253.9h1M377.9 260.9h1M369.5 240.3h1M385.8 258.1h1M369.7 251.0h1M361.0 268.5h1M376.4 255.3h1M387.6 255.0h1M369.1 250.7h1M371.9 251.8h1M363.6 258.2h1M396.9 254.3h1M380.0 250.9h1M381.8 250.5h1M387.2 252.3h1M372.2 251.4h1M382.6 261.7h1M387.3 250.3h1M389.3 246.9h1M369.4 256.2h1M386.8 240.7h1M379.0 246.0h1M392.4 243.9h1M393.5 241.1h1M372.1 261.3h1M373.2 240.5h1M391.1 252.6h1M380.4 235.6h1M373.3 252.2h1M377.5 245.0h1M363.8 253.1h1M382.3 241.4h1M384.5 245.9h1M372.2 250.7h1M376.1 238.8h1M383.6 248.6h1M382.0 248.8h1M377.2 246.5h1M380.6 256.0h1M388.6 241.9h1M390.8 249.2h1M389.1 236.5h1M386.5 245.0h1M380.3 260.7h1M371.6 253.2h1M390.1 242.9h1M375.9 249.8h1M379.7 255.1h1M380.4 243.9h1M370.6 256.0h1M380.4 256.8h1M372.4 249.4h1M399.9 242.7h1M376.1 240.3h1M382.0 262.3h1M375.8 264.7h1M377.9 240.6h1M398.8 220.9h1M389.6 249.0h1M375.0 254.3h1M371.1 259.3h1M383.9 247.7h1M382.5 250.2h1M367.6 250.2h1M380.9 244.0h1M382.2 256.1h1M389.2 241.4h1M378.5 245.4h1M384.8 251.6h1M382.8 254.2h1M392.7 248.7h1M389.3 234.4h1M381.3 244.8h1M393.9 258.2h1M399.8 239.1h1M370.0 252.1h1M399.9 242.5h1M393.1 238.1h1M375.1 248.9h1M396.3 249.8h1M381.7 253.0h1M376.1 252.5h1M361.9 260.2h1M365.6 261.2h1M375.7 244.1h1M371.1 246.8h1M377.2 256.1h1M365.8 253.5h1M380.1 244.3h1M375.3 265.6h1M385.7 238.7h1M381.1 248.6h1M385.2 246.3h1M403.7 242.6h1M385.4 241.8h1M385.6 259.7h1M384.4 250.6h1M372.0 246.0h1M374.9 248.7h1M374.6 247.4h1M392.7 251.4h1M373.8 245.4h1M372.9 244.9h1M384.2 254.6h1M375.9 242.0h1M388.3 245.9h1M382.8 241.3h1M375.4 248.9h1M384.9 238.9h1M377.6 251.8h1M383.2 250.1h1M378.6 246.4h1M376.5 252.8h1M383.2 247.8h1M377.6 251.1h1M370.1 258.1h1M374.5 259.0h1M394.2 230.5h1M378.7 250.8h1M379.6 252.3h1M375.8 244.9h1M385.5 256.7h1M382.7 254.5h1M386.4 252.8h1M383.5 253.6h1M379.1 247.5h1M386.9 256.9h1M375.9 256.7h1M365.8 252.8h1M378.8 252.1h1M373.6 239.6h1M373.0 268.5h1M377.6 248.5h1M371.2 253.6h1M360.4 258.0h1M381.3 255.7h1M371.0 260.0h1M376.1 243.8h1M381.6 253.4h1M376.4 245.6h1M374.8 257.6h1M387.6 247.3h1M392.4 247.3h1M378.0 247.5h1M382.5 248.7h1M372.4 256.9h1M374.0 255.2h1M392.1 251.9h1M384.8 245.2h1M367.0 247.2h1M382.8 246.3h1M382.5 242.1h1M384.2 252.9h1M375.2 257.3h1M373.8 257.7h1M382.8 242.2h1M378.9 243.1h1M390.7 241.6h1M366.2 268.5h1M390.2 243.0h1M368.3 258.8h1M382.7 249.0h1M369.3 253.7h1M367.7 255.6h1M386.2 245.9h1M375.6 247.0h1M397.8 245.8h1M381.9 259.0h1M387.7 258.3h1M378.8 244.0h1M385.9 268.5h1M373.6 268.5h1M378.1 260.5h1M400.5 234.9h1M371.9 254.7h1M381.2 242.8h1M393.0 240.9h1M369.4 268.5h1M367.1 262.1h1M387.5 256.5h1M392.1 240.4h1M381.4 243.7h1M374.4 244.6h1M381.6 253.4h1M373.7 266.2h1M377.8 247.0h1M377.1 254.0h1M395.9 224.9h1M368.7 245.1h1M380.5 249.9h1M373.4 253.9h1M383.4 245.9h1M375.6 255.0h1M386.5 237.4h1M376.9 247.4h1M387.3 245.0h1M372.5 252.2h1M381.5 257.1h1M381.2 249.6h1M374.5 240.4h1M383.4 254.6h1M391.3 248.1h1M371.8 260.9h1M390.2 254.6h1M383.7 245.5h1M375.7 246.2h1M390.0 247.0h1M380.8 245.0h1M381.4 240.4h1M387.5 246.8h1M382.8 251.7h1M386.7 252.7h1M380.4 258.4h1M402.0 240.5h1M381.2 246.3h1M365.9 244.6h1M366.2 250.2h1M377.3 245.6h1M386.5 245.9h1M389.7 248.8h1M382.9 251.1h1M374.7 259.1h1M384.1 236.7h1M373.3 255.5h1M374.6 249.0h1M363.0 254.5h1M374.2 258.8h1M382.9 247.6h1M383.4 240.4h1M368.3 246.2h1M385.6 231.3h1M393.1 242.0h1M363.5 253.6h1M394.4 239.4h1M380.1 258.4h1M381.2 259.6h1M373.7 254.8h1M384.5 252.8h1M380.2 250.0h1M383.2 244.6h1M385.0 250.2h1M382.2 253.5h1M370.0 257.3h1M380.6 263.7h1M387.7 244.9h1M366.8 261.5h1M372.8 268.1h1M365.2 251.9h1M362.9 240.4h1M393.3 234.7h1M385.2 240.1h1M392.6 252.5h1M394.9 250.4h1M377.6 268.5h1M377.8 262.6h1M401.0 240.3h1M388.7 250.4h1M389.2 243.1h1M377.3 247.1h1M377.0 259.9h1M362.6 267.1h1M386.1 234.3h1M376.5 255.4h1M392.5 246.9h1M383.8 248.6h1M358.8 266.5h1M383.6 248.1h1M378.2 259.9h1M382.0 251.3h1M371.7 254.4h1M383.0 234.0h1M390.7 252.8h1M387.9 258.3h1M359.5 262.3h1M398.1 238.7h1M374.4 249.0h1M361.9 257.4h1M371.9 261.5h1M377.2 256.6h1M383.6 257.6h1M384.2 245.4h1M388.1 242.7h1M387.0 240.2h1M392.2 238.4h1M391.4 255.4h1M378.4 240.2h1M375.3 246.3h1M390.4 237.0h1M375.3 249.8h1M379.6 245.5h1M363.4 256.0h1M391.4 246.3h1M389.9 236.6h1M382.1 252.2h1M375.7 259.9h1M376.8 252.4h1M389.5 251.6h1M374.5 252.2h1M378.8 241.4h1M381.0 239.6h1M381.6 267.9h1M379.1 258.1h1M380.9 256.2h1M389.0 248.9h1M377.5 236.1h1M377.8 254.0h1M377.7 245.5h1M383.0 248.7h1M391.4 250.4h1M387.5 241.6h1M383.6 252.3h1M379.5 242.2h1M358.8 247.2h1M372.3 245.9h1M385.6 245.1h1M385.6 251.5h1M395.5 244.3h1M388.3 248.6h1M377.9 243.0h1M372.0 252.9h1M373.3 263.5h1M389.8 246.5h1M364.1 255.7h1M402.1 235.1h1M378.8 247.8h1M378.3 248.9h1M379.7 248.7h1M376.6 245.0h1M370.1 265.4h1M365.6 259.6h1M381.9 245.3h1M387.9 258.1h1M366.6 250.0h1M396.9 239.9h1M379.6 242.8h1M395.8 237.6h1M382.7 251.2h1M375.8 254.4h1M369.9 250.8h1M390.2 248.6h1M387.9 242.5h1M379.7 250.4h1M394.4 250.5h1M374.6 254.7h1M374.0 247.9h1M386.3 249.8h1M386.6 260.4h1M381.8 232.5h1M389.6 253.9h1M388.8 251.6h1M386.4 242.9h1M368.0 240.9h1M368.3 257.0h1M387.1 243.2h1M382.9 251.2h1M388.1 244.6h1M377.9 242.7h1M395.1 249.0h1M377.3 258.2h1M370.0 251.9h1M389.7 256.8h1M378.8 247.9h1M375.6 245.2h1M386.4 248.1h1M391.6 243.5h1M390.9 241.9h1M378.6 239.6h1M374.8 248.9h1M378.0 256.4h1M369.2 245.2h1M393.2 237.6h1M363.2 250.8h1M382.0 244.9h1M383.4 244.5h1M385.2 240.4h1M382.4 252.8h1M361.1 254.0h1M361.8 260.0h1M380.8 250.5h1M374.2 239.3h1M368.1 245.2h1M378.3 251.3h1M381.6 246.0h1M365.2 251.2h1M379.5 250.2h1M381.1 250.3h1M390.8 252.5h1M374.0 248.3h1M379.2 243.6h1M358.8 259.9h1M381.6 236.7h1M390.2 253.0h1M390.6 252.2h1M383.8 251.2h1M368.4 248.0h1M386.1 250.0h1M373.3 257.5h1M379.6 242.1h1M376.9 251.3h1M377.3 259.4h1M377.5 255.1h1M391.6 244.8h1M392.5 246.2h1M382.4 239.2h1M385.0 247.6h1M385.3 245.7h1M391.2 250.4h1M376.7 257.2h1M391.8 241.4h1M378.2 246.5h1M398.2 238.2h1M380.2 256.4h1M386.1 229.5h1M391.6 248.1h1M366.9 247.4h1M373.3 254.9h1M400.5 245.9h1M378.8 231.7h1M396.3 260.9h1M388.0 248.9h1M382.5 253.3h1M383.6 244.1h1M378.2 244.8h1M387.7 255.4h1M397.1 243.0h1M388.7 236.9h1M380.7 232.7h1M372.9 259.6h1M377.8 237.7h1M395.4 238.9h1M372.2 255.2h1M379.1 249.4h1M370.6 252.7h1M376.6 247.8h1M372.2 256.3h1M382.1 244.5h1M381.6 248.1h1M379.5 254.4h1M377.0 257.0h1M385.7 245.2h1M379.4 256.1h1M377.2 252.0h1M390.0 248.9h1M382.7 253.6h1M386.7 249.6h1M373.2 265.6h1M377.8 253.1h1M391.3 254.9h1M375.4 260.1h1M387.8 245.5h1M377.5 246.5h1M382.2 252.6h1M380.3 245.7h1M389.1 234.7h1M383.4 248.4h1M381.7 255.1h1M379.3 246.3h1M377.3 252.9h1M369.3 249.3h1M390.3 246.5h1M382.3 247.8h1M381.2 251.0h1M389.5 231.2h1M389.8 244.6h1M377.5 259.3h1M389.9 248.0h1M385.9 251.6h1M358.8 242.6h1M370.0 249.2h1M391.1 257.7h1M382.4 249.9h1M367.0 242.2h1M376.4 247.5h1M381.0 236.6h1M372.7 255.1h1M383.3 243.9h1M380.8 241.8h1M391.0 243.4h1M368.6 260.3h1M366.3 257.8h1M388.8 235.8h1M382.6 243.0h1M377.4 252.8h1M387.3 258.9h1M379.1 256.3h1M383.1 244.9h1M382.6 239.6h1M381.6 240.7h1M382.9 263.0h1M380.6 255.9h1M377.5 267.3h1M378.6 252.8h1M370.9 254.6h1M388.0 246.8h1M386.8 253.8h1M396.1 250.9h1M369.9 252.0h1M386.0 239.0h1M387.4 240.8h1M367.1 252.9h1M375.4 266.4h1M394.0 253.4h1M386.5 241.9h1M378.0 257.4h1M392.5 245.7h1M382.2 248.3h1M383.8 244.4h1M382.3 242.4h1M380.4 259.1h1M373.7 248.2h1M372.8 250.8h1M387.5 252.0h1M380.5 258.5h1M369.7 250.0h1M382.7 256.7h1M376.9 255.8h1M377.8 255.1h1M376.3 235.8h1M376.3 260.3h1M377.1 242.5h1M378.9 245.8h1M377.7 253.6h1M393.6 243.6h1M375.7 246.6h1M368.4 264.1h1M378.1 253.5h1M381.5 258.0h1M384.5 249.9h1M378.5 248.3h1M377.6 243.6h1M373.0 250.3h1M379.3 265.9h1M372.0 256.2h1M384.6 257.4h1M375.6 254.9h1M367.9 257.7h1M389.1 240.6h1M371.5 258.2h1M374.2 266.7h1M400.4 248.4h1M383.3 252.4h1M377.9 261.3h1M371.1 254.2h1M374.4 247.3h1M375.8 248.8h1M385.0 256.7h1M391.2 247.7h1M402.2 246.5h1M389.6 241.9h1M367.2 265.2h1M367.5 248.5h1M380.6 243.4h1M370.8 247.9h1M380.2 245.9h1M386.0 247.3h1M392.6 255.5h1M377.2 243.9h1M371.3 247.9h1M380.9 247.7h1M359.3 263.0h1M386.6 256.0h1M387.5 242.7h1M358.8 257.8h1M370.5 260.5h1M366.3 252.6h1M391.6 228.8h1M393.3 248.9h1M366.1 247.4h1M387.3 247.2h1M368.3 262.3h1M378.3 240.2h1M394.0 251.9h1M364.8 255.9h1M387.7 252.8h1M381.4 243.3h1M365.5 242.3h1M393.1 245.2h1M383.0 245.2h1M374.1 246.9h1M381.2 254.9h1M379.6 252.1h1M376.2 246.4h1M387.4 241.0h1M376.5 246.6h1M378.0 239.1h1M370.9 245.9h1M375.7 263.4h1M387.0 256.8h1M372.7 252.9h1M384.2 249.4h1M384.0 246.7h1M365.8 246.2h1M393.1 249.6h1M386.7 249.8h1M373.1 254.3h1M363.2 260.0h1M386.4 240.9h1M384.7 246.8h1M374.7 245.1h1M397.2 241.8h1M395.9 243.8h1M378.4 244.4h1M381.6 251.1h1M375.7 250.5h1M380.2 261.0h1M384.8 236.6h1M383.7 245.6h1M385.2 242.1h1M387.3 249.8h1M370.5 250.0h1M384.3 252.2h1M378.2 247.3h1M394.4 249.2h1M372.4 252.6h1M373.5 255.5h1M372.2 244.5h1M384.5 247.2h1M394.5 223.3h1M385.8 242.1h1M372.2 248.6h1M375.2 261.7h1M384.1 252.5h1M393.3 247.3h1M378.2 256.4h1M379.2 250.8h1M386.2 253.1h1M374.3 259.1h1M374.6 254.5h1M379.2 254.7h1M388.5 252.0h1M382.7 250.0h1M383.8 248.1h1M376.9 251.1h1M376.0 252.2h1M390.6 240.7h1M392.4 251.5h1M391.0 243.3h1M386.2 249.7h1M395.9 250.6h1M382.8 258.1h1M378.1 247.9h1M382.7 247.1h1M392.0 252.9h1M365.4 247.8h1M367.5 256.2h1M400.8 238.0h1M379.4 243.7h1M373.3 247.1h1M377.1 255.6h1M372.1 256.6h1M382.8 236.7h1M388.9 240.6h1M379.5 238.5h1M379.8 240.2h1M370.0 249.1h1M371.4 254.9h1M379.0 262.5h1M384.0 248.1h1M365.7 255.4h1M379.6 260.7h1M374.9 244.7h1M377.0 252.2h1M379.6 251.5h1M371.2 253.9h1M363.6 254.4h1M377.9 259.6h1M367.5 252.7h1M376.7 255.3h1M375.8 249.8h1M389.5 249.6h1M364.0 261.2h1M372.4 249.6h1M390.2 244.1h1M373.2 245.8h1M376.7 259.0h1M378.9 236.5h1M380.3 254.5h1M387.0 252.9h1M390.5 241.6h1M369.2 256.3h1M377.4 256.2h1M383.7 250.3h1M395.3 243.0h1M388.7 240.5h1M384.4 242.9h1M374.6 245.0h1M389.1 239.7h1M375.8 255.0h1M390.6 246.9h1M402.6 238.9h1M370.7 248.7h1M382.8 261.7h1M375.5 266.2h1M403.4 250.0h1M373.4 254.4h1M373.7 243.9h1M378.4 260.0h1M387.2 245.3h1M368.4 247.5h1M369.0 259.6h1M393.3 248.8h1M381.0 255.2h1M378.0 264.2h1M378.0 255.9h1M388.6 250.0h1M373.3 255.4h1M364.1 252.5h1M365.2 263.2h1M382.8 251.2h1M398.2 253.2h1M383.6 236.8h1M375.1 260.4h1M389.4 234.3h1M373.9 246.4h1M386.4 247.0h1M387.7 249.2h1M386.2 249.6h1M379.2 257.5h1M380.2 250.6h1M372.8 257.3h1M377.3 241.5h1M384.7 243.9h1M392.0 241.3h1M395.1 235.5h1M386.9 248.3h1M381.8 249.9h1M374.2 262.2h1M384.3 257.6h1M386.7 236.0h1M381.6 255.7h1M375.1 247.5h1M379.9 252.9h1M383.0 256.8h1M371.8 250.1h1M374.4 247.7h1M376.5 250.6h1M379.3 241.7h1M378.3 250.0h1M370.9 252.0h1M379.3 248.2h1M363.2 251.4h1M381.3 247.5h1M384.1 241.8h1M372.3 256.0h1M382.8 259.0h1M399.8 256.8h1M385.3 251.4h1M386.2 237.9h1M396.9 249.0h1M381.2 254.6h1M368.9 252.9h1M375.3 259.8h1M377.8 254.7h1M370.9 251.7h1M385.3 245.7h1M374.8 257.7h1M360.9 251.7h1M389.1 252.7h1M368.9 261.7h1M392.8 247.0h1M376.9 250.5h1M380.8 251.8h1M379.2 246.0h1M388.8 254.3h1M379.5 250.6h1M382.2 233.4h1M386.5 242.9h1M379.8 246.4h1M391.1 238.2h1M373.6 250.9h1M383.7 255.8h1M377.7 253.8h1M388.3 246.9h1M397.9 240.4h1M377.0 249.2h1M381.5 254.7h1M383.9 257.8h1M382.4 252.3h1M381.5 254.0h1M395.6 249.1h1M387.5 247.0h1M390.7 250.9h1M369.8 248.8h1M389.7 242.4h1M358.8 249.5h1M393.3 245.3h1M373.0 248.9h1M365.9 256.7h1M386.0 238.9h1M377.3 252.3h1M369.0 254.5h1M374.7 251.6h1M374.2 248.9h1M379.8 254.5h1M385.7 244.6h1M378.5 251.7h1M387.7 244.1h1M379.3 237.3h1M376.5 259.6h1M375.1 250.2h1M365.6 242.3h1M388.6 253.4h1M383.9 257.0h1M380.4 251.3h1M394.0 257.4h1M376.4 263.5h1M376.5 253.2h1M380.7 242.9h1M372.8 255.9h1M393.3 245.3h1M372.4 252.4h1M371.2 258.6h1M376.1 261.2h1M396.1 247.2h1M382.6 250.7h1M379.7 255.4h1M384.3 251.4h1M373.4 246.2h1M393.7 242.5h1M385.1 250.4h1M381.7 244.7h1M381.0 241.0h1M392.9 244.1h1M382.6 254.6h1M376.9 255.3h1M377.7 256.6h1M383.9 246.5h1M379.3 239.6h1M382.8 249.4h1M382.3 253.1h1M387.1 253.5h1M380.3 236.9h1M383.1 255.8h1M371.0 245.5h1M364.6 244.3h1M392.0 249.0h1M382.9 252.1h1M372.6 249.6h1M374.8 247.8h1M383.5 252.8h1M381.3 249.2h1M379.2 251.7h1M391.1 251.0h1M381.9 242.6h1M384.1 251.3h1M370.9 254.8h1M363.9 258.2h1M380.5 241.2h1M386.1 241.2h1M384.6 246.9h1M367.0 258.0h1M378.7 251.0h1M370.0 263.2h1M382.2 251.0h1M380.7 251.2h1M378.6 257.9h1M388.1 244.7h1M380.4 238.7h1M374.5 246.5h1M380.1 249.8h1M388.1 247.3h1M380.5 257.5h1M383.1 246.4h1M377.0 258.5h1M389.0 246.1h1M390.6 246.8h1M402.7 250.2h1M386.8 246.8h1M382.8 250.4h1M385.4 242.7h1M381.5 256.1h1M389.0 240.6h1M370.7 251.5h1M393.7 241.4h1M376.4 249.4h1M383.7 255.7h1M378.3 252.6h1M377.8 242.2h1M365.5 261.3h1M374.6 243.7h1M379.9 251.6h1M378.8 240.3h1M397.3 242.7h1M372.4 254.3h1M365.7 248.8h1M378.9 243.2h1M375.7 256.2h1M362.3 254.2h1M389.7 260.5h1M371.6 253.3h1M389.6 234.7h1M394.7 243.3h1M368.4 259.1h1M385.0 248.2h1M373.8 252.6h1M381.9 234.9h1M377.9 247.0h1M383.2 244.0h1M374.8 242.2h1M392.2 242.6h1M371.4 259.7h1M378.9 251.1h1M373.1 253.0h1M367.3 255.4h1M369.2 251.8h1M359.5 261.6h1M376.9 260.3h1M376.8 252.3h1M391.8 241.7h1M377.1 245.8h1M380.1 244.8h1M376.9 249.2h1M377.8 244.6h1M395.6 234.5h1M392.6 246.7h1M394.2 247.0h1M380.4 255.5h1M388.6 257.4h1M379.9 245.6h1M371.0 249.9h1M371.4 254.9h1M383.6 239.8h1M398.4 250.1h1M366.3 259.2h1M382.5 249.8h1M369.4 259.1h1M382.4 248.9h1M397.9 251.5h1M375.7 229.3h1M370.1 246.3h1M376.2 250.5h1M391.1 249.9h1M378.4 250.3h1M380.9 238.8h1M392.9 249.8h1M391.5 255.8h1M374.7 256.3h1M375.2 250.6h1M382.9 254.8h1M383.9 252.9h1M385.1 246.5h1M370.9 258.9h1M407.5 209.2h1M403.9 237.0h1M405.0 222.3h1M401.7 235.3h1M393.6 235.3h1M392.4 225.7h1M399.0 231.0h1M395.2 247.0h1M400.7 221.1h1M413.6 222.7h1M391.2 239.5h1M404.6 227.1h1M380.2 239.5h1M391.4 229.2h1M404.3 227.6h1M401.6 220.5h1M415.5 218.8h1M396.4 248.1h1M408.9 218.5h1M422.6 219.0h1M403.6 231.0h1M428.9 210.6h1M399.0 238.4h1M389.0 243.4h1M401.4 230.0h1M394.1 235.7h1M402.2 231.8h1M409.6 208.7h1M401.0 249.0h1M410.0 222.0h1M412.4 227.6h1M420.3 221.6h1M395.8 238.1h1M420.0 228.8h1M396.7 242.0h1M401.7 226.3h1M403.1 235.1h1M419.0 222.7h1M410.9 234.0h1M389.1 242.2h1M416.3 216.7h1M389.3 246.7h1M405.1 218.1h1M408.4 218.5h1M411.8 221.5h1M387.4 247.7h1M413.6 232.4h1M389.9 229.5h1M402.2 224.1h1M403.8 227.0h1M394.3 235.6h1M408.5 223.7h1M381.6 230.8h1M396.1 230.2h1M404.5 243.2h1M390.0 236.6h1M408.6 225.4h1M388.1 226.6h1M410.4 220.3h1M409.2 236.3h1M408.1 220.7h1M394.6 232.4h1M407.5 222.9h1M404.5 224.2h1M398.5 239.3h1M391.5 226.3h1M406.5 226.1h1M427.8 224.6h1M398.5 224.6h1M406.5 232.6h1M406.6 235.0h1M405.8 241.4h1M403.0 225.9h1M397.4 225.6h1M408.8 223.2h1M409.5 220.5h1M395.0 237.2h1M411.4 219.6h1M410.7 225.7h1M394.4 238.2h1M403.6 231.5h1M398.6 242.3h1M401.3 228.6h1M412.7 210.8h1M401.6 225.1h1M392.7 219.9h1M406.0 213.7h1M414.0 227.4h1M403.4 220.6h1M395.0 242.4h1M387.5 242.6h1M419.6 235.5h1M396.4 222.9h1M394.9 235.4h1M404.5 231.0h1M391.5 238.5h1M415.9 223.0h1M382.9 241.2h1M399.4 230.1h1M399.0 228.8h1M396.7 231.4h1M398.5 224.9h1M408.2 228.6h1M415.4 227.4h1M409.6 228.6h1M413.6 226.8h1M405.7 241.3h1M402.2 231.3h1M398.1 231.2h1M382.9 228.3h1M404.5 220.8h1M414.4 216.3h1M401.3 228.2h1M391.6 233.5h1M402.9 219.7h1M388.7 239.8h1M384.9 247.8h1M401.9 224.8h1M404.9 225.2h1M409.6 217.4h1M418.6 226.5h1M413.6 222.8h1M406.5 214.3h1M404.6 228.5h1M402.8 218.5h1M403.4 222.2h1M389.5 240.6h1M401.3 225.7h1M406.6 227.3h1M386.6 243.7h1M405.5 227.4h1M421.7 212.4h1M402.9 239.4h1M405.5 224.2h1M392.0 241.8h1M391.0 229.8h1M407.1 238.9h1M413.9 220.6h1M420.3 214.0h1M404.4 216.9h1M416.9 228.1h1M384.5 241.1h1M412.5 218.9h1M401.1 240.6h1M405.6 225.6h1M404.1 238.4h1M400.8 245.9h1M405.3 227.3h1M396.8 229.3h1M405.5 225.1h1M415.3 208.7h1M410.0 231.0h1M399.3 231.4h1M405.1 247.9h1M415.7 230.6h1M403.4 223.7h1M395.7 244.1h1M388.5 235.5h1M418.4 230.1h1M414.4 232.8h1M412.1 219.2h1M413.8 234.5h1M401.8 230.2h1M415.4 213.3h1M401.1 234.0h1M404.6 227.8h1M395.1 239.9h1M402.6 219.9h1M405.8 215.6h1M389.3 235.0h1M389.7 233.2h1M408.9 225.7h1M394.9 235.9h1M399.4 251.1h1M400.1 228.2h1M411.5 226.0h1M402.9 217.5h1M405.2 213.3h1M379.8 238.9h1M415.7 229.4h1M399.0 215.6h1M413.2 223.0h1M396.3 237.0h1M410.0 225.9h1M419.3 237.3h1M399.5 243.5h1M404.5 223.7h1M393.8 237.0h1M408.5 207.3h1M423.1 219.1h1M393.7 235.7h1M419.1 220.8h1M383.6 236.4h1M393.8 241.8h1M381.2 232.1h1M388.6 234.6h1M398.8 239.8h1M407.4 226.8h1M395.0 229.7h1M411.2 222.5h1M406.3 216.1h1M391.4 240.5h1M412.0 206.0h1M400.1 239.7h1M414.0 223.9h1M422.2 226.6h1M404.7 226.2h1M402.9 224.7h1M411.5 221.8h1M417.5 219.4h1M400.9 239.5h1M403.7 222.5h1M418.0 219.6h1M389.1 245.1h1M410.8 230.1h1M395.5 232.8h1M393.9 243.8h1M397.1 235.3h1M390.2 227.2h1M404.3 238.4h1M402.4 227.8h1M407.6 224.9h1M407.4 213.1h1M396.3 239.9h1M393.0 228.4h1M397.7 218.8h1M407.1 217.1h1M416.3 228.8h1M413.5 243.8h1M389.8 228.6h1M412.0 218.4h1M412.9 226.7h1M398.4 225.9h1M400.7 233.5h1M377.1 243.0h1M406.9 235.4h1M402.1 234.4h1M419.2 226.6h1M419.8 228.4h1M416.0 224.3h1M411.3 226.8h1M418.9 213.6h1M412.1 220.6h1M387.4 242.2h1M417.7 228.3h1M415.5 224.2h1M411.5 241.5h1M387.9 238.9h1M393.6 228.7h1M421.8 217.7h1M401.9 225.9h1M400.5 231.7h1M403.4 223.5h1M397.6 236.1h1M405.7 225.4h1M401.7 233.7h1M402.3 228.2h1M391.2 227.2h1M390.9 238.5h1M404.0 231.0h1M414.1 223.0h1M408.0 222.0h1M405.1 223.1h1M413.8 224.8h1M412.5 224.1h1M419.7 216.1h1M403.2 220.5h1M389.9 244.0h1M417.1 222.6h1M402.9 231.9h1M401.2 230.9h1M387.5 242.9h1M407.0 248.5h1M403.2 229.8h1M400.4 227.0h1M399.1 240.6h1M403.4 232.1h1M415.5 222.9h1M392.4 227.0h1M415.3 224.0h1M416.8 225.4h1M407.7 210.7h1M413.6 213.1h1M401.7 242.8h1M397.8 237.1h1M386.9 242.8h1M391.9 233.4h1M409.3 226.0h1M417.3 236.8h1M410.6 221.3h1M408.3 213.3h1M387.7 231.6h1M408.8 226.3h1M416.7 234.4h1M429.4 221.3h1M417.3 223.0h1M406.4 216.2h1M405.9 234.6h1M397.2 244.9h1M408.0 226.1h1M403.6 223.9h1M400.2 232.5h1M408.9 229.6h1M399.6 233.4h1M399.4 230.6h1M404.7 219.0h1M398.4 233.5h1M416.3 228.2h1M415.3 225.8h1M418.7 212.4h1M419.2 221.0h1M397.9 234.9h1M417.8 227.9h1M382.4 236.3h1M387.1 245.3h1M401.2 220.3h1M397.7 236.6h1M420.2 239.6h1M395.6 224.9h1M422.6 222.1h1M404.5 236.5h1M402.2 231.6h1M369.5 233.2h1M399.3 219.7h1M399.5 226.2h1M416.2 217.5h1M418.1 226.2h1M409.0 231.2h1M394.1 235.0h1M412.9 229.0h1M407.6 235.0h1M400.0 246.0h1M383.8 237.2h1M419.6 223.0h1M404.3 221.7h1M405.2 223.9h1M411.9 223.9h1M411.5 218.5h1M386.5 218.1h1M409.5 230.1h1M398.9 223.0h1M407.1 224.4h1M408.5 236.2h1M384.7 243.2h1M408.0 235.6h1M405.4 226.5h1M412.8 231.8h1M391.7 231.0h1M404.9 225.2h1M398.2 247.3h1M395.4 234.8h1M384.6 237.0h1M404.9 229.2h1M411.8 234.9h1M402.4 210.4h1M394.6 235.2h1M397.6 227.2h1M398.9 236.5h1M408.4 223.5h1M403.2 226.9h1M395.5 246.2h1M404.8 217.7h1M395.5 230.2h1M398.8 238.0h1M408.8 215.5h1M420.2 221.0h1M394.9 236.1h1M400.9 220.8h1M407.4 243.7h1M407.3 220.7h1M418.8 226.0h1M416.6 215.9h1M420.9 217.2h1M404.1 218.0h1M398.8 245.3h1M407.2 232.1h1M412.1 214.8h1M427.4 222.2h1M412.6 226.6h1M424.9 225.3h1M408.8 236.3h1M400.5 235.0h1M406.9 227.7h1M413.6 211.4h1M389.1 241.6h1M405.7 225.0h1M413.4 228.4h1M406.4 216.4h1M406.5 232.2h1M410.0 222.7h1M392.4 238.6h1M406.7 217.7h1M398.6 227.5h1M394.1 245.9h1M394.8 239.6h1M419.3 215.4h1M403.7 232.9h1M404.3 233.9h1M396.5 235.3h1M406.0 230.1h1M409.2 226.3h1M390.0 238.4h1M414.2 211.9h1M399.3 230.4h1M400.6 231.3h1M395.4 242.1h1M399.9 231.2h1M413.3 208.4h1M402.0 228.6h1M392.3 241.9h1M399.1 244.5h1M390.7 235.4h1M394.0 229.3h1M401.5 230.1h1M400.3 231.2h1M418.8 224.1h1M397.8 237.5h1M410.0 221.1h1M405.1 228.4h1M401.6 231.5h1M391.1 251.8h1M403.1 239.8h1M406.8 247.0h1M393.9 231.5h1M406.4 236.9h1M420.4 247.4h1M407.1 240.6h1M404.1 230.6h1M404.2 249.9h1M394.8 252.2h1M415.2 240.4h1M394.9 244.6h1M392.9 240.9h1M406.0 237.9h1M415.1 239.0h1M413.1 248.4h1M413.4 224.5h1M397.7 236.9h1M396.2 242.0h1M409.7 241.8h1M395.4 243.8h1M404.5 237.3h1M405.7 251.3h1M414.7 233.2h1M391.9 245.3h1M414.3 222.2h1M403.8 243.9h1M416.1 236.3h1M404.8 250.6h1M395.8 240.1h1M421.5 231.5h1M403.6 242.7h1M394.8 251.3h1M411.8 224.8h1M402.2 246.5h1M391.1 247.6h1M414.3 247.8h1M402.4 232.3h1M419.1 239.7h1M407.4 235.6h1M406.5 239.7h1M406.8 237.8h1M403.5 241.6h1M401.9 225.1h1M405.1 232.2h1M397.1 232.4h1M414.5 235.4h1M427.0 226.6h1M421.7 240.0h1M385.3 241.4h1M405.6 243.9h1M395.9 239.1h1M412.7 229.5h1M404.8 242.7h1M392.9 250.5h1M417.2 244.6h1M404.2 243.3h1M399.0 250.6h1M401.5 237.6h1M402.6 238.3h1M399.0 248.8h1M412.2 238.1h1M402.8 236.9h1M413.7 240.6h1M405.7 241.1h1M417.1 244.7h1M398.6 242.4h1M383.4 257.5h1M409.3 230.7h1M419.7 236.8h1M409.8 237.8h1M398.2 240.4h1M404.6 231.1h1M402.8 250.1h1M407.3 243.0h1M406.2 236.7h1M389.3 256.7h1M408.1 233.1h1M399.7 241.9h1M409.3 242.3h1M404.3 243.5h1M414.1 236.8h1M396.4 241.1h1M398.5 244.2h1M393.9 245.1h1M412.0 232.6h1M410.3 243.8h1M404.8 240.1h1M402.9 242.5h1M391.7 231.6h1M398.4 241.1h1M406.7 246.7h1M399.6 239.2h1M404.7 236.3h1M396.0 243.4h1M396.6 242.6h1M399.2 245.3h1M410.2 230.4h1M404.4 238.3h1M396.6 246.0h1M401.2 238.4h1M420.3 247.2h1M415.3 226.8h1M410.2 240.2h1M411.7 247.4h1M393.1 242.8h1M399.7 236.6h1M397.1 255.0h1M403.6 236.3h1M391.9 243.7h1M405.9 236.6h1M412.2 235.4h1M399.0 250.8h1M410.6 239.7h1M413.2 228.7h1M399.6 245.4h1M416.3 234.5h1M395.1 244.4h1M401.5 232.6h1M393.8 248.1h1M412.3 231.5h1M407.0 242.5h1M396.8 260.2h1M411.1 235.8h1M405.6 248.3h1M389.2 248.0h1M401.2 232.9h1M425.8 241.9h1M398.2 236.4h1M413.7 231.3h1M403.8 243.6h1M401.1 250.4h1M398.9 247.2h1M415.2 226.7h1M407.6 249.5h1M403.5 243.9h1M415.8 242.8h1M408.7 238.9h1M412.5 241.1h1M419.6 232.5h1M403.6 241.8h1M400.9 233.7h1M412.3 239.0h1M430.0 228.0h1M413.5 226.0h1M415.0 233.2h1M396.5 248.9h1M412.1 237.9h1M402.6 232.0h1M411.5 227.6h1M407.6 229.1h1M409.0 217.9h1M401.8 225.6h1M414.4 219.8h1M413.3 235.7h1M413.7 215.7h1M403.0 223.1h1M409.7 222.9h1M434.6 216.0h1M400.5 230.4h1M404.7 224.1h1M412.8 224.5h1M427.9 213.7h1M410.1 224.7h1M411.5 227.1h1M408.4 226.2h1M415.7 225.2h1M401.2 228.1h1M418.0 217.6h1M406.7 224.3h1M403.8 229.5h1M412.1 225.8h1M403.3 226.9h1M410.2 219.4h1M406.2 222.8h1M412.9 211.6h1M410.8 235.1h1M412.1 227.9h1M412.5 220.9h1M401.9 238.9h1M413.6 226.1h1M417.6 228.2h1M400.1 234.6h1M411.7 213.6h1M411.2 229.2h1M414.1 229.6h1M410.2 214.0h1M409.2 231.3h1M409.7 220.7h1M398.1 224.0h1M410.3 235.8h1M413.6 227.6h1M406.2 217.3h1M414.6 224.4h1M415.2 209.2h1M421.3 221.9h1M423.4 219.6h1M401.4 231.3h1M395.3 231.2h1M408.7 212.9h1M407.5 229.2h1M412.8 221.3h1M418.4 226.1h1M415.3 226.9h1M406.3 218.5h1M405.6 221.4h1M406.4 218.5h1M412.2 219.2h1M422.2 225.3h1M415.5 219.6h1M402.0 225.8h1M412.3 228.5h1M406.2 216.7h1M407.3 231.6h1M427.7 206.8h1M406.2 221.6h1M407.5 221.2h1M415.1 208.1h1M416.8 208.6h1M411.5 226.3h1M412.3 223.1h1M390.4 221.3h1M404.6 213.9h1M399.4 228.8h1M422.5 222.6h1M410.6 213.6h1M402.4 219.6h1M411.6 226.5h1M410.2 219.3h1M423.6 204.2h1M412.2 224.8h1M412.6 220.1h1M401.9 233.2h1M404.0 225.2h1M409.2 218.6h1M407.8 223.9h1M418.8 226.9h1M396.5 219.1h1M417.4 224.9h1M419.3 217.6h1M392.4 212.4h1M375.6 251.0h1M407.2 226.6h1M407.0 223.7h1M385.0 242.6h1M431.6 243.6h1M394.5 248.1h1M405.0 242.6h1M361.5 267.0h1M433.8 217.9h1M403.1 224.2h1M391.6 228.8h1M423.9 246.1h1M400.4 233.9h1M425.7 246.4h1M418.6 239.3h1M393.9 220.8h1M432.6 258.2h1M408.7 244.0h1M383.0 237.1h1" stroke="#e0101a" stroke-width="1.15" stroke-opacity="0.92" fill="none"/>
<rect x="358.50" y="188.60" width="93.50" height="80.20" fill="none" stroke="#3a3a3a" stroke-width="1"/>
<line x1="393.50" y1="188.60" x2="393.50" y2="268.80" stroke="#2a2a2a" stroke-width="1.1"/>
<line x1="358.50" y1="232.50" x2="452.00" y2="232.50" stroke="#2a2a2a" stroke-width="1.1"/>
<line x1="358.50" y1="188.60" x2="358.50" y2="270.30" stroke="#111" stroke-width="1.4"/>
<line x1="357.50" y1="268.80" x2="452.00" y2="268.80" stroke="#111" stroke-width="1.2"/>
<path d="M358.50 268.80h-3.7M358.50 268.80v3.7M358.50 262.76h-1.8M365.54 268.80v1.8M358.50 259.23h-1.8M369.65 268.80v1.8M358.50 256.73h-1.8M372.57 268.80v1.8M358.50 254.79h-1.8M374.84 268.80v1.8M358.50 253.20h-1.8M376.69 268.80v1.8M358.50 251.86h-1.8M378.25 268.80v1.8M358.50 250.69h-1.8M379.61 268.80v1.8M358.50 249.67h-1.8M380.81 268.80v1.8M358.50 248.75h-3.7M381.88 268.80v3.7M358.50 242.71h-1.8M388.91 268.80v1.8M358.50 239.18h-1.8M393.03 268.80v1.8M358.50 236.68h-1.8M395.95 268.80v1.8M358.50 234.74h-1.8M398.21 268.80v1.8M358.50 233.15h-1.8M400.06 268.80v1.8M358.50 231.81h-1.8M401.63 268.80v1.8M358.50 230.64h-1.8M402.98 268.80v1.8M358.50 229.62h-1.8M404.18 268.80v1.8M358.50 228.70h-3.7M405.25 268.80v3.7M358.50 222.66h-1.8M412.29 268.80v1.8M358.50 219.13h-1.8M416.40 268.80v1.8M358.50 216.63h-1.8M419.32 268.80v1.8M358.50 214.69h-1.8M421.59 268.80v1.8M358.50 213.10h-1.8M423.44 268.80v1.8M358.50 211.76h-1.8M425.00 268.80v1.8M358.50 210.59h-1.8M426.36 268.80v1.8M358.50 209.57h-1.8M427.56 268.80v1.8M358.50 208.65h-3.7M428.62 268.80v3.7M358.50 202.61h-1.8M435.66 268.80v1.8M358.50 199.08h-1.8M439.78 268.80v1.8M358.50 196.58h-1.8M442.70 268.80v1.8M358.50 194.64h-1.8M444.96 268.80v1.8M358.50 193.05h-1.8M446.81 268.80v1.8M358.50 191.71h-1.8M448.38 268.80v1.8M358.50 190.54h-1.8M449.73 268.80v1.8M358.50 189.52h-1.8M450.93 268.80v1.8M358.50 188.60h-3.8M452.00 268.80v3.8" stroke="#111" stroke-width="0.8" fill="none"/>
<text x="358.50" y="282.60" font-size="7.3" text-anchor="middle" fill="#111">10<tspan dx="0.9" dy="-4.4">0</tspan></text>
<text x="352.20" y="269.10" font-size="6.8" text-anchor="middle" fill="#111" transform="rotate(-90 352.20 269.10)">10<tspan dx="0.6" dy="-3.3">0</tspan></text>
<text x="381.88" y="282.60" font-size="7.3" text-anchor="middle" fill="#111">10<tspan dx="0.9" dy="-4.4">1</tspan></text>
<text x="352.20" y="249.05" font-size="6.8" text-anchor="middle" fill="#111" transform="rotate(-90 352.20 249.05)">10<tspan dx="0.6" dy="-3.3">1</tspan></text>
<text x="405.25" y="282.60" font-size="7.3" text-anchor="middle" fill="#111">10<tspan dx="0.9" dy="-4.4">2</tspan></text>
<text x="352.20" y="229.00" font-size="6.8" text-anchor="middle" fill="#111" transform="rotate(-90 352.20 229.00)">10<tspan dx="0.6" dy="-3.3">2</tspan></text>
<text x="428.62" y="282.60" font-size="7.3" text-anchor="middle" fill="#111">10<tspan dx="0.9" dy="-4.4">3</tspan></text>
<text x="352.20" y="208.95" font-size="6.8" text-anchor="middle" fill="#111" transform="rotate(-90 352.20 208.95)">10<tspan dx="0.6" dy="-3.3">3</tspan></text>
<text x="452.00" y="282.60" font-size="7.3" text-anchor="middle" fill="#111">10<tspan dx="0.9" dy="-4.4">4</tspan></text>
<text x="352.20" y="188.90" font-size="6.8" text-anchor="middle" fill="#111" transform="rotate(-90 352.20 188.90)">10<tspan dx="0.6" dy="-3.3">4</tspan></text>
<text x="403.25" y="289.20" font-size="7.0" text-anchor="middle" fill="#111">AV</text>
<text x="340.90" y="229.30" font-size="6.6" text-anchor="middle" fill="#111" transform="rotate(-90 340.90 229.30)">PI</text>
<path d="M110.25 481.24 L110.50 481.23 L110.75 481.22 L111.00 481.20 L111.25 481.19 L111.50 481.17 L111.75 481.15 L112.00 481.12 L112.25 481.09 L112.50 481.06 L112.75 481.02 L113.00 480.98 L113.25 480.93 L113.50 480.87 L113.75 480.81 L114.00 480.74 L114.25 480.67 L114.50 480.58 L114.75 480.49 L115.00 480.39 L115.25 480.27 L115.50 480.15 L115.75 480.01 L116.00 479.86 L116.25 479.70 L116.50 479.52 L116.75 479.33 L117.00 479.13 L117.25 478.91 L117.50 478.67 L117.75 478.42 L118.00 478.15 L118.25 477.87 L118.50 477.57 L118.75 477.25 L119.00 476.92 L119.25 476.57 L119.50 476.20 L119.75 475.82 L120.00 475.43 L120.25 475.02 L120.50 474.60 L120.75 474.16 L121.00 473.72 L121.25 473.26 L121.50 472.80 L121.75 472.33 L122.00 471.85 L122.25 471.37 L122.50 470.88 L122.75 470.40 L123.00 469.91 L123.25 469.42 L123.50 468.94 L123.75 468.46 L124.00 467.99 L124.25 467.52 L124.50 467.06 L124.75 466.61 L125.00 466.17 L125.25 465.75 L125.50 465.33 L125.75 464.93 L126.00 464.55 L126.25 464.18 L126.50 463.82 L126.75 463.48 L127.00 463.16 L127.25 462.85 L127.50 462.56 L127.75 462.28 L128.00 462.03 L128.25 461.78 L128.50 461.56 L128.75 461.35 L129.00 461.15 L129.25 460.97 L129.50 460.80 L129.75 460.65 L130.00 460.51 L130.25 460.38 L130.50 460.26 L130.75 460.15 L131.00 460.05 L131.25 459.96 L131.50 459.89 L131.75 459.81 L132.00 459.75 L132.25 459.69 L132.50 459.64 L132.75 459.60 L133.00 459.56 L133.25 459.52 L133.50 459.49 L133.75 459.46 L134.00 459.44 L134.25 459.42 L134.50 459.40 L134.75 459.39 L135.00 459.37 L135.25 459.36 L135.50 459.35 L135.75 459.34 L136.00 459.34 L136.25 459.33 L136.50 459.33 L136.75 459.32 L137.00 459.32 L137.25 459.31 L137.50 459.31 L137.75 459.31 L138.00 459.31 L138.25 459.31 L138.50 459.31 L138.75 459.30 L139.00 459.30 L139.25 459.30 L139.50 459.30 L139.75 459.30 L140.00 459.30 L140.25 459.30 L140.50 459.30 L140.75 459.30 L141.00 459.30 L141.25 459.30 L141.50 459.30 L141.75 459.30 L142.00 459.30 L142.25 459.30 L142.50 459.30 L142.75 459.30 L143.00 459.30 L143.25 459.30 L143.50 459.30 L143.75 459.30 L144.00 459.30 L144.25 459.30 L144.50 459.30 L144.75 459.30 L145.00 459.31 L145.25 459.31 L145.50 459.31 L145.75 459.31 L146.00 459.31 L146.25 459.31 L146.50 459.32 L146.75 459.32 L147.00 459.32 L147.25 459.33 L147.50 459.33 L147.75 459.34 L148.00 459.35 L148.25 459.35 L148.50 459.36 L148.75 459.37 L149.00 459.39 L149.25 459.40 L149.50 459.42 L149.75 459.43 L150.00 459.45 L150.25 459.48 L150.50 459.50 L150.75 459.53 L151.00 459.56 L151.25 459.60 L151.50 459.64 L151.75 459.68 L152.00 459.73 L152.25 459.79 L152.50 459.85 L152.75 459.92 L153.00 459.99 L153.25 460.07 L153.50 460.16 L153.75 460.26 L154.00 460.37 L154.25 460.48 L154.50 460.61 L154.75 460.74 L155.00 460.89 L155.25 461.04 L155.50 461.21 L155.75 461.39 L156.00 461.58 L156.25 461.79 L156.50 462.01 L156.75 462.24 L157.00 462.48 L157.25 462.74 L157.50 463.01 L157.75 463.29 L158.00 463.59 L158.25 463.90 L158.50 464.22 L158.75 464.55 L159.00 464.90 L159.25 465.26 L159.50 465.63 L159.75 466.01 L160.00 466.40 L160.25 466.80 L160.50 467.21 L160.75 467.62 L161.00 468.04 L161.25 468.47 L161.50 468.90 L161.75 469.34 L162.00 469.77 L162.25 470.21 L162.50 470.65 L162.75 471.09 L163.00 471.52 L163.25 471.96 L163.50 472.39 L163.75 472.81 L164.00 473.23 L164.25 473.64 L164.50 474.04 L164.75 474.43 L165.00 474.82 L165.25 475.19 L165.50 475.56 L165.75 475.91 L166.00 476.25 L166.25 476.58 L166.50 476.89 L166.75 477.19 L167.00 477.48 L167.25 477.76 L167.50 478.02 L167.75 478.27 L168.00 478.50 L168.25 478.73 L168.50 478.94 L168.75 479.13 L169.00 479.32 L169.25 479.49 L169.50 479.65 L169.75 479.80 L170.00 479.94 L170.25 480.07 L170.50 480.19 L170.75 480.30 L171.00 480.40 L171.25 480.49 L171.50 480.58 L171.75 480.65 L172.00 480.72 L172.25 480.79 L172.50 480.85 L172.75 480.90 L173.00 480.94 L173.25 480.99 L173.50 481.02 L173.75 481.06 L174.00 481.09 L174.25 481.11 L174.50 481.14 L174.75 481.16 L175.00 481.18 L175.25 481.19 L175.50 481.21 L175.75 481.22 L176.00 481.23 L176.25 481.24 V481.3 H110.25Z" fill="url(#hatch)" stroke="none"/>
<path d="M112.00 481.28 L112.25 481.26 L112.50 481.25 L112.75 481.23 L113.00 481.20 L113.25 481.16 L113.50 481.10 L113.75 481.03 L114.00 480.93 L114.25 480.80 L114.50 480.64 L114.75 480.43 L115.00 480.15 L115.25 479.81 L115.50 479.37 L115.75 478.84 L116.00 478.18 L116.25 477.37 L116.50 476.40 L116.75 475.25 L117.00 473.88 L117.25 472.29 L117.50 470.45 L117.75 468.34 L118.00 465.96 L118.25 463.29 L118.50 460.34 L118.75 457.11 L119.00 453.63 L119.25 449.91 L119.50 446.00 L119.75 441.94 L120.00 437.79 L120.25 433.61 L120.50 429.47 L120.75 425.46 L121.00 421.65 L121.25 418.12 L121.50 414.95 L121.75 412.23 L122.00 410.00 L122.25 408.33 L122.50 407.26 L122.75 406.81 L123.00 407.00 L123.25 407.83 L123.50 409.26 L123.75 411.27 L124.00 413.81 L124.25 416.80 L124.50 420.20 L124.75 423.90 L125.00 427.85 L125.25 431.94 L125.50 436.11 L125.75 440.29 L126.00 444.39 L126.25 448.37 L126.50 452.17 L126.75 455.75 L127.00 459.08 L127.25 462.14 L127.50 464.93 L127.75 467.42 L128.00 469.64 L128.25 471.59 L128.50 473.28 L128.75 474.73 L129.00 475.96 L129.25 477.01 L129.50 477.87 L129.75 478.59 L130.00 479.17 L130.25 479.64 L130.50 480.02 L130.75 480.32 L131.00 480.56 L131.25 480.74 L131.50 480.89 L131.75 480.99 L132.00 481.08 L132.25 481.14 L132.50 481.18 L132.75 481.22 L133.00 481.24 L133.25 481.26 L133.50 481.27 V481.3 H112.00Z" fill="#e0121c" stroke="#5a0000" stroke-width="0.6"/>
<path d="M141.50 481.29 L141.75 481.29 L142.00 481.28 L142.25 481.28 L142.50 481.27 L142.75 481.27 L143.00 481.26 L143.25 481.26 L143.50 481.25 L143.75 481.24 L144.00 481.23 L144.25 481.21 L144.50 481.20 L144.75 481.18 L145.00 481.16 L145.25 481.13 L145.50 481.11 L145.75 481.07 L146.00 481.04 L146.25 480.99 L146.50 480.94 L146.75 480.89 L147.00 480.83 L147.25 480.75 L147.50 480.67 L147.75 480.58 L148.00 480.48 L148.25 480.36 L148.50 480.24 L148.75 480.09 L149.00 479.93 L149.25 479.76 L149.50 479.56 L149.75 479.34 L150.00 479.11 L150.25 478.84 L150.50 478.56 L150.75 478.25 L151.00 477.90 L151.25 477.54 L151.50 477.14 L151.75 476.70 L152.00 476.24 L152.25 475.74 L152.50 475.20 L152.75 474.63 L153.00 474.03 L153.25 473.38 L153.50 472.70 L153.75 471.98 L154.00 471.23 L154.25 470.44 L154.50 469.61 L154.75 468.75 L155.00 467.86 L155.25 466.94 L155.50 465.99 L155.75 465.02 L156.00 464.02 L156.25 463.00 L156.50 461.97 L156.75 460.93 L157.00 459.88 L157.25 458.84 L157.50 457.79 L157.75 456.75 L158.00 455.72 L158.25 454.72 L158.50 453.74 L158.75 452.78 L159.00 451.87 L159.25 450.99 L159.50 450.16 L159.75 449.38 L160.00 448.65 L160.25 447.99 L160.50 447.39 L160.75 446.86 L161.00 446.41 L161.25 446.03 L161.50 445.72 L161.75 445.50 L162.00 445.36 L162.25 445.30 L162.50 445.33 L162.75 445.43 L163.00 445.62 L163.25 445.90 L163.50 446.25 L163.75 446.67 L164.00 447.17 L164.25 447.74 L164.50 448.38 L164.75 449.08 L165.00 449.84 L165.25 450.65 L165.50 451.51 L165.75 452.41 L166.00 453.35 L166.25 454.32 L166.50 455.32 L166.75 456.34 L167.00 457.37 L167.25 458.42 L167.50 459.46 L167.75 460.51 L168.00 461.56 L168.25 462.59 L168.50 463.61 L168.75 464.62 L169.00 465.60 L169.25 466.56 L169.50 467.50 L169.75 468.40 L170.00 469.27 L170.25 470.11 L170.50 470.92 L170.75 471.69 L171.00 472.42 L171.25 473.11 L171.50 473.77 L171.75 474.40 L172.00 474.98 L172.25 475.53 L172.50 476.04 L172.75 476.52 L173.00 476.97 L173.25 477.38 L173.50 477.76 L173.75 478.11 L174.00 478.44 L174.25 478.73 L174.50 479.00 L174.75 479.25 L175.00 479.48 L175.25 479.68 L175.50 479.86 L175.75 480.03 L176.00 480.18 L176.25 480.31 L176.50 480.44 L176.75 480.54 L177.00 480.64 L177.25 480.72 L177.50 480.80 L177.75 480.86 L178.00 480.92 L178.25 480.97 L178.50 481.02 L178.75 481.06 L179.00 481.09 L179.25 481.12 L179.50 481.15 L179.75 481.17 L180.00 481.19 L180.25 481.21 L180.50 481.22 L180.75 481.23 L181.00 481.24 L181.25 481.25 L181.50 481.26 L181.75 481.27 L182.00 481.27 L182.25 481.28 L182.50 481.28 L182.75 481.28 L183.00 481.29 V481.3 H141.50Z" fill="#e0121c" stroke="#5a0000" stroke-width="0.6"/>
<path d="M110.25 481.24 L110.50 481.23 L110.75 481.22 L111.00 481.20 L111.25 481.19 L111.50 481.17 L111.75 481.15 L112.00 481.12 L112.25 481.09 L112.50 481.06 L112.75 481.02 L113.00 480.98 L113.25 480.93 L113.50 480.87 L113.75 480.81 L114.00 480.74 L114.25 480.67 L114.50 480.58 L114.75 480.49 L115.00 480.39 L115.25 480.27 L115.50 480.15 L115.75 480.01 L116.00 479.86 L116.25 479.70 L116.50 479.52 L116.75 479.33 L117.00 479.13 L117.25 478.91 L117.50 478.67 L117.75 478.42 L118.00 478.15 L118.25 477.87 L118.50 477.57 L118.75 477.25 L119.00 476.92 L119.25 476.57 L119.50 476.20 L119.75 475.82 L120.00 475.43 L120.25 475.02 L120.50 474.60 L120.75 474.16 L121.00 473.72 L121.25 473.26 L121.50 472.80 L121.75 472.33 L122.00 471.85 L122.25 471.37 L122.50 470.88 L122.75 470.40 L123.00 469.91 L123.25 469.42 L123.50 468.94 L123.75 468.46 L124.00 467.99 L124.25 467.52 L124.50 467.06 L124.75 466.61 L125.00 466.17 L125.25 465.75 L125.50 465.33 L125.75 464.93 L126.00 464.55 L126.25 464.18 L126.50 463.82 L126.75 463.48 L127.00 463.16 L127.25 462.85 L127.50 462.56 L127.75 462.28 L128.00 462.03 L128.25 461.78 L128.50 461.56 L128.75 461.35 L129.00 461.15 L129.25 460.97 L129.50 460.80 L129.75 460.65 L130.00 460.51 L130.25 460.38 L130.50 460.26 L130.75 460.15 L131.00 460.05 L131.25 459.96 L131.50 459.89 L131.75 459.81 L132.00 459.75 L132.25 459.69 L132.50 459.64 L132.75 459.60 L133.00 459.56 L133.25 459.52 L133.50 459.49 L133.75 459.46 L134.00 459.44 L134.25 459.42 L134.50 459.40 L134.75 459.39 L135.00 459.37 L135.25 459.36 L135.50 459.35 L135.75 459.34 L136.00 459.34 L136.25 459.33 L136.50 459.33 L136.75 459.32 L137.00 459.32 L137.25 459.31 L137.50 459.31 L137.75 459.31 L138.00 459.31 L138.25 459.31 L138.50 459.31 L138.75 459.30 L139.00 459.30 L139.25 459.30 L139.50 459.30 L139.75 459.30 L140.00 459.30 L140.25 459.30 L140.50 459.30 L140.75 459.30 L141.00 459.30 L141.25 459.30 L141.50 459.30 L141.75 459.30 L142.00 459.30 L142.25 459.30 L142.50 459.30 L142.75 459.30 L143.00 459.30 L143.25 459.30 L143.50 459.30 L143.75 459.30 L144.00 459.30 L144.25 459.30 L144.50 459.30 L144.75 459.30 L145.00 459.31 L145.25 459.31 L145.50 459.31 L145.75 459.31 L146.00 459.31 L146.25 459.31 L146.50 459.32 L146.75 459.32 L147.00 459.32 L147.25 459.33 L147.50 459.33 L147.75 459.34 L148.00 459.35 L148.25 459.35 L148.50 459.36 L148.75 459.37 L149.00 459.39 L149.25 459.40 L149.50 459.42 L149.75 459.43 L150.00 459.45 L150.25 459.48 L150.50 459.50 L150.75 459.53 L151.00 459.56 L151.25 459.60 L151.50 459.64 L151.75 459.68 L152.00 459.73 L152.25 459.79 L152.50 459.85 L152.75 459.92 L153.00 459.99 L153.25 460.07 L153.50 460.16 L153.75 460.26 L154.00 460.37 L154.25 460.48 L154.50 460.61 L154.75 460.74 L155.00 460.89 L155.25 461.04 L155.50 461.21 L155.75 461.39 L156.00 461.58 L156.25 461.79 L156.50 462.01 L156.75 462.24 L157.00 462.48 L157.25 462.74 L157.50 463.01 L157.75 463.29 L158.00 463.59 L158.25 463.90 L158.50 464.22 L158.75 464.55 L159.00 464.90 L159.25 465.26 L159.50 465.63 L159.75 466.01 L160.00 466.40 L160.25 466.80 L160.50 467.21 L160.75 467.62 L161.00 468.04 L161.25 468.47 L161.50 468.90 L161.75 469.34 L162.00 469.77 L162.25 470.21 L162.50 470.65 L162.75 471.09 L163.00 471.52 L163.25 471.96 L163.50 472.39 L163.75 472.81 L164.00 473.23 L164.25 473.64 L164.50 474.04 L164.75 474.43 L165.00 474.82 L165.25 475.19 L165.50 475.56 L165.75 475.91 L166.00 476.25 L166.25 476.58 L166.50 476.89 L166.75 477.19 L167.00 477.48 L167.25 477.76 L167.50 478.02 L167.75 478.27 L168.00 478.50 L168.25 478.73 L168.50 478.94 L168.75 479.13 L169.00 479.32 L169.25 479.49 L169.50 479.65 L169.75 479.80 L170.00 479.94 L170.25 480.07 L170.50 480.19 L170.75 480.30 L171.00 480.40 L171.25 480.49 L171.50 480.58 L171.75 480.65 L172.00 480.72 L172.25 480.79 L172.50 480.85 L172.75 480.90 L173.00 480.94 L173.25 480.99 L173.50 481.02 L173.75 481.06 L174.00 481.09 L174.25 481.11 L174.50 481.14 L174.75 481.16 L175.00 481.18 L175.25 481.19 L175.50 481.21 L175.75 481.22 L176.00 481.23 L176.25 481.24" fill="none" stroke="#333" stroke-width="0.6"/>
<path d="M83.00 481.18 L83.25 481.15 L83.50 481.12 L83.75 481.07 L84.00 481.02 L84.25 480.97 L84.50 480.90 L84.75 480.82 L85.00 480.73 L85.25 480.63 L85.50 480.52 L85.75 480.39 L86.00 480.25 L86.25 480.10 L86.50 479.94 L86.75 479.76 L87.00 479.57 L87.25 479.38 L87.50 479.17 L87.75 478.96 L88.00 478.75 L88.25 478.54 L88.50 478.33 L88.75 478.13 L89.00 477.94 L89.25 477.76 L89.50 477.59 L89.75 477.45 L90.00 477.33 L90.25 477.23 L90.50 477.16 L90.75 477.11 L91.00 477.10 L91.25 477.11 L91.50 477.16 L91.75 477.23 L92.00 477.33 L92.25 477.45 L92.50 477.59 L92.75 477.76 L93.00 477.94 L93.25 478.13 L93.50 478.33 L93.75 478.54 L94.00 478.75 L94.25 478.96 L94.50 479.17 L94.75 479.38 L95.00 479.57 L95.25 479.76 L95.50 479.94 L95.75 480.10 L96.00 480.25 L96.25 480.39 L96.50 480.52 L96.75 480.63 L97.00 480.73 L97.25 480.82 L97.50 480.90 L97.75 480.97 L98.00 481.02 L98.25 481.07 L98.50 481.12 L98.75 481.15 L99.00 481.18 L99.25 481.20 L99.50 481.22 L99.75 481.24 L100.00 481.25 L100.25 481.26 L100.50 481.27 L100.75 481.28 L101.00 481.28 L101.25 481.29 L101.50 481.29 L101.75 481.29 L102.00 481.29 L102.25 481.30 L102.50 481.30 L102.75 481.30 V481.3 H83.00Z" fill="#3fb4c4" stroke="#1c6f7a" stroke-width="0.5"/>
<path d="M83.00 481.18 L83.25 481.15 L83.50 481.12 L83.75 481.07 L84.00 481.02 L84.25 480.97 L84.50 480.90 L84.75 480.82 L85.00 480.73 L85.25 480.63 L85.50 480.52 L85.75 480.39 L86.00 480.25 L86.25 480.10 L86.50 479.94 L86.75 479.76 L87.00 479.57 L87.25 479.38 L87.50 479.17 L87.75 478.96 L88.00 478.75 L88.25 478.54 L88.50 478.33 L88.75 478.13 L89.00 477.94 L89.25 477.76 L89.50 477.59 L89.75 477.45 L90.00 477.33 L90.25 477.23 L90.50 477.16 L90.75 477.11 L91.00 477.10 L91.25 477.11 L91.50 477.16 L91.75 477.23 L92.00 477.33 L92.25 477.45 L92.50 477.59 L92.75 477.76 L93.00 477.94 L93.25 478.13 L93.50 478.33 L93.75 478.54 L94.00 478.75 L94.25 478.96 L94.50 479.17 L94.75 479.38 L95.00 479.57 L95.25 479.76 L95.50 479.94 L95.75 480.10 L96.00 480.25 L96.25 480.39 L96.50 480.52 L96.75 480.63 L97.00 480.73 L97.25 480.82 L97.50 480.90 L97.75 480.97 L98.00 481.02 L98.25 481.07 L98.50 481.12 L98.75 481.15 L99.00 481.18 L99.25 481.20 L99.50 481.22 L99.75 481.24 L100.00 481.25 L100.25 481.26 L100.50 481.27 L100.75 481.28 L101.00 481.28 L101.25 481.29 L101.50 481.29 L101.75 481.29 L102.00 481.29 L102.25 481.30 L102.50 481.30 L102.75 481.30 L103.00 481.30 L103.25 481.30 L103.50 481.30 L103.75 481.30 L104.00 481.30 L104.25 481.30 L104.50 481.30 L104.75 481.30 L105.00 481.30 L105.25 481.30 L105.50 481.30 L105.75 481.30 L106.00 481.30 L106.25 481.30 L106.50 481.30 L106.75 481.30 L107.00 481.30 L107.25 481.29 L107.50 481.29 L107.75 481.29 L108.00 481.29 L108.25 481.29 L108.50 481.28 L108.75 481.28 L109.00 481.28 L109.25 481.27 L109.50 481.27 L109.75 481.26 L110.00 481.25 L110.25 481.24 L110.50 481.23 L110.75 481.21 L111.00 481.20 L111.25 481.18 L111.50 481.16 L111.75 481.13 L112.00 481.09 L112.25 481.05 L112.50 481.01 L112.75 480.95 L113.00 480.87 L113.25 480.78 L113.50 480.68 L113.75 480.54 L114.00 480.38 L114.25 480.17 L114.50 479.92 L114.75 479.62 L115.00 479.24 L115.25 478.78 L115.50 478.22 L115.75 477.55 L116.00 476.74 L116.25 475.77 L116.50 474.63 L116.75 473.28 L117.00 471.71 L117.25 469.90 L117.50 467.82 L117.75 465.46 L118.00 462.81 L118.25 459.86 L118.50 456.61 L118.75 453.06 L119.00 449.25 L119.25 445.18 L119.50 440.90 L119.75 436.46 L120.00 431.91 L120.25 427.33 L120.50 422.77 L120.75 418.32 L121.00 414.06 L121.25 410.08 L121.50 406.45 L121.75 403.26 L122.00 400.55 L122.25 398.40 L122.50 396.84 L122.75 395.91 L123.00 395.61 L123.25 395.95 L123.50 396.90 L123.75 398.43 L124.00 400.49 L124.25 403.02 L124.50 405.96 L124.75 409.22 L125.00 412.72 L125.25 416.39 L125.50 420.15 L125.75 423.92 L126.00 427.64 L126.25 431.24 L126.50 434.69 L126.75 437.93 L127.00 440.94 L127.25 443.69 L127.50 446.18 L127.75 448.41 L128.00 450.37 L128.25 452.07 L128.50 453.53 L128.75 454.78 L129.00 455.82 L129.25 456.67 L129.50 457.37 L129.75 457.93 L130.00 458.38 L130.25 458.72 L130.50 458.98 L130.75 459.17 L131.00 459.31 L131.25 459.41 L131.50 459.47 L131.75 459.51 L132.00 459.53 L132.25 459.53 L132.50 459.52 L132.75 459.51 L133.00 459.50 L133.25 459.48 L133.50 459.46 L133.75 459.44 L134.00 459.43 L134.25 459.41 L134.50 459.40 L134.75 459.38 L135.00 459.37 L135.25 459.36 L135.50 459.35 L135.75 459.34 L136.00 459.34 L136.25 459.33 L136.50 459.33 L136.75 459.32 L137.00 459.32 L137.25 459.31 L137.50 459.31 L137.75 459.31 L138.00 459.31 L138.25 459.31 L138.50 459.30 L138.75 459.30 L139.00 459.30 L139.25 459.30 L139.50 459.30 L139.75 459.30 L140.00 459.30 L140.25 459.30 L140.50 459.30 L140.75 459.29 L141.00 459.29 L141.25 459.29 L141.50 459.29 L141.75 459.29 L142.00 459.28 L142.25 459.28 L142.50 459.27 L142.75 459.27 L143.00 459.26 L143.25 459.26 L143.50 459.25 L143.75 459.24 L144.00 459.23 L144.25 459.21 L144.50 459.20 L144.75 459.18 L145.00 459.16 L145.25 459.13 L145.50 459.11 L145.75 459.07 L146.00 459.03 L146.25 458.99 L146.50 458.94 L146.75 458.88 L147.00 458.82 L147.25 458.75 L147.50 458.66 L147.75 458.57 L148.00 458.46 L148.25 458.34 L148.50 458.20 L148.75 458.05 L149.00 457.88 L149.25 457.69 L149.50 457.48 L149.75 457.25 L150.00 456.99 L150.25 456.71 L150.50 456.40 L150.75 456.06 L151.00 455.69 L151.25 455.28 L151.50 454.85 L151.75 454.37 L152.00 453.86 L152.25 453.31 L152.50 452.72 L152.75 452.09 L153.00 451.42 L153.25 450.71 L153.50 449.96 L153.75 449.17 L154.00 448.35 L154.25 447.48 L154.50 446.59 L154.75 445.66 L155.00 444.70 L155.25 443.72 L155.50 442.72 L155.75 441.70 L156.00 440.66 L156.25 439.63 L156.50 438.59 L156.75 437.56 L157.00 436.54 L157.25 435.54 L157.50 434.56 L157.75 433.62 L158.00 432.72 L158.25 431.86 L158.50 431.06 L158.75 430.32 L159.00 429.65 L159.25 429.05 L159.50 428.54 L159.75 428.10 L160.00 427.76 L160.25 427.50 L160.50 427.35 L160.75 427.29 L161.00 427.34 L161.25 427.48 L161.50 427.73 L161.75 428.08 L162.00 428.54 L162.25 429.09 L162.50 429.74 L162.75 430.49 L163.00 431.32 L163.25 432.24 L163.50 433.24 L163.75 434.32 L164.00 435.46 L164.25 436.67 L164.50 437.94 L164.75 439.25 L165.00 440.61 L165.25 442.01 L165.50 443.43 L165.75 444.88 L166.00 446.35 L166.25 447.83 L166.50 449.31 L166.75 450.79 L167.00 452.25 L167.25 453.71 L167.50 455.15 L167.75 456.56 L168.00 457.95 L168.25 459.30 L168.50 460.62 L168.75 461.90 L169.00 463.14 L169.25 464.34 L169.50 465.49 L169.75 466.59 L170.00 467.65 L170.25 468.66 L170.50 469.61 L170.75 470.52 L171.00 471.38 L171.25 472.19 L171.50 472.95 L171.75 473.67 L172.00 474.34 L172.25 474.96 L172.50 475.54 L172.75 476.08 L173.00 476.58 L173.25 477.04 L173.50 477.46 L173.75 477.85 L174.00 478.21 L174.25 478.54 L174.50 478.83 L174.75 479.10 L175.00 479.35 L175.25 479.57 L175.50 479.77 L175.75 479.95 L176.00 480.11 L176.25 480.26 L176.50 480.38 L176.75 480.50 L177.00 480.60 L177.25 480.69 L177.50 480.77 L177.75 480.84 L178.00 480.90 L178.25 480.96 L178.50 481.01 L178.75 481.05 L179.00 481.08 L179.25 481.11 L179.50 481.14 L179.75 481.17 L180.00 481.19 L180.25 481.20 L180.50 481.22 L180.75 481.23 L181.00 481.24 L181.25 481.25 L181.50 481.26 L181.75 481.27 L182.00 481.27 L182.25 481.28 L182.50 481.28 L182.75 481.28 L183.00 481.29 L183.25 481.29 L183.50 481.29 L183.75 481.29 L184.00 481.29 L184.25 481.30 L184.50 481.30 L184.75 481.30 L185.00 481.30 L185.25 481.30 L185.50 481.30 L185.75 481.30 L186.00 481.30 L186.25 481.30 L186.50 481.30 L186.75 481.30 L187.00 481.30 L187.25 481.30 L187.50 481.30 L187.75 481.30 L188.00 481.30 L188.25 481.30 L188.50 481.30 L188.75 481.30 L189.00 481.30 L189.25 481.30 L189.50 481.30 L189.75 481.30 L190.00 481.30 L190.25 481.30 L190.50 481.30 L190.75 481.30 L191.00 481.30 L191.25 481.30 L191.50 481.30 L191.75 481.30 L192.00 481.30 L192.25 481.30 L192.50 481.30 L192.75 481.30 L193.00 481.30 L193.25 481.30 L193.50 481.30 L193.75 481.30 L194.00 481.30 L194.25 481.30 L194.50 481.30 L194.75 481.30 L195.00 481.30 L195.25 481.30 L195.50 481.30 L195.75 481.30 L196.00 481.30 L196.25 481.30 L196.50 481.30 L196.75 481.30 L197.00 481.30 L197.25 481.30 L197.50 481.30 L197.75 481.30 L198.00 481.30 L198.25 481.30 L198.50 481.30 L198.75 481.30 L199.00 481.30 L199.25 481.30 L199.50 481.30 L199.75 481.30 L200.00 481.30 L200.25 481.30 L200.50 481.30 L200.75 481.30 L201.00 481.30 L201.25 481.30 L201.50 481.30 L201.75 481.30 L202.00 481.30 L202.25 481.30 L202.50 481.30 L202.75 481.30 L203.00 481.30 L203.25 481.30" fill="none" stroke="#555" stroke-width="0.6"/>
<path d="M83.00 481.18 L83.70 481.08 L84.40 480.93 L85.10 480.76 L85.80 480.27 L86.50 479.83 L87.20 479.56 L87.90 478.84 L88.60 478.30 L89.30 477.56 L90.00 476.98 L90.70 477.63 L91.40 477.73 L92.10 476.98 L92.80 477.86 L93.50 478.10 L94.20 479.28 L94.90 479.53 L95.60 479.92 L96.30 480.49 L97.00 480.73 L97.70 480.95 L98.40 481.10 L99.10 481.19 L99.80 481.24 L100.50 481.27 L101.20 481.29 L101.90 481.29 L102.60 481.30 L103.30 481.30 L104.00 481.30 L104.70 481.30 L105.40 481.30 L106.10 481.30 L106.80 481.30 L107.50 481.29 L108.20 481.29 L108.90 481.28 L109.60 481.26 L110.30 481.24 L111.00 481.20 L111.70 481.13 L112.40 481.03 L113.10 480.84 L113.80 480.41 L114.50 479.76 L115.20 479.22 L115.90 477.68 L116.60 474.02 L117.30 468.45 L118.00 463.08 L118.70 454.42 L119.40 442.64 L120.10 430.69 L120.80 416.92 L121.50 404.31 L122.20 395.20 L122.90 391.64 L123.60 393.10 L124.30 399.84 L125.00 409.59 L125.70 421.73 L126.40 433.51 L127.10 440.86 L127.80 448.55 L128.50 453.15 L129.20 457.26 L129.90 457.03 L130.60 458.20 L131.30 460.33 L132.00 459.93 L132.70 458.98 L133.40 458.96 L134.10 458.37 L134.80 459.57 L135.50 458.56 L136.20 458.92 L136.90 459.79 L137.60 459.10 L138.30 458.39 L139.00 458.47 L139.70 459.29 L140.40 459.08 L141.10 460.41 L141.80 459.90 L142.50 458.56 L143.20 459.46 L143.90 460.02 L144.60 459.07 L145.30 458.64 L146.00 458.62 L146.70 459.20 L147.40 458.84 L148.10 458.39 L148.80 457.34 L149.50 457.41 L150.20 456.99 L150.90 455.79 L151.60 455.65 L152.30 454.04 L153.00 450.53 L153.70 447.54 L154.40 445.80 L155.10 443.28 L155.80 440.58 L156.50 436.46 L157.20 432.07 L157.90 429.62 L158.60 427.69 L159.30 425.09 L160.00 425.56 L160.70 424.71 L161.40 424.36 L162.10 426.80 L162.80 429.40 L163.50 432.82 L164.20 435.64 L164.90 438.53 L165.60 444.93 L166.30 447.29 L167.00 451.40 L167.70 455.31 L168.40 459.50 L169.10 462.87 L169.80 466.76 L170.50 469.47 L171.20 472.21 L171.90 475.04 L172.60 475.15 L173.30 477.04 L174.00 478.49 L174.70 479.05 L175.40 479.70 L176.10 480.22 L176.80 480.56 L177.50 480.77 L178.20 480.95 L178.90 481.07 L179.60 481.15 L180.30 481.21 L181.00 481.24 L181.70 481.26 L182.40 481.28 L183.10 481.29 L183.80 481.29 L184.50 481.30 L185.20 481.30 L185.90 481.30 L186.60 481.30 L187.30 481.30 L188.00 481.30 L188.70 481.30 L189.40 481.30 L190.10 481.30 L190.80 481.30 L191.50 481.30 L192.20 481.30 L192.90 481.30 L193.60 481.30 L194.30 481.30 L195.00 481.30 L195.70 481.30 L196.40 481.30 L197.10 481.30 L197.80 481.30 L198.50 481.30 L199.20 481.30 L199.90 481.30 L200.60 481.30 L201.30 481.30 L202.00 481.30 L202.70 481.30 L203.40 481.30" fill="none" stroke="#2a2a2a" stroke-width="0.5"/>
<path d="M83.00 378.00V481.30H203.40" fill="none" stroke="#444" stroke-width="0.7"/>
<path d="M83.00 481.30h-1.2M83.00 478.34h-1.2M83.00 475.38h-1.2M83.00 472.42h-1.2M83.00 469.46h-1.2M83.00 466.50h-1.2M83.00 463.54h-1.2M83.00 460.58h-1.2M83.00 457.62h-1.2M83.00 454.66h-1.2M83.00 451.70h-1.2M83.00 448.74h-1.2M83.00 445.78h-1.2M83.00 442.82h-1.2M83.00 439.86h-1.2M83.00 436.90h-1.2M83.00 433.94h-1.2M83.00 430.98h-1.2M83.00 428.02h-1.2M83.00 425.06h-1.2M83.00 422.10h-1.2M83.00 419.14h-1.2M83.00 416.18h-1.2M83.00 413.22h-1.2M83.00 410.26h-1.2M83.00 407.30h-1.2M83.00 404.34h-1.2M83.00 401.38h-1.2M83.00 398.42h-1.2M83.00 395.46h-1.2M83.00 392.50h-1.2M83.00 389.54h-1.2M83.00 386.58h-1.2M83.00 383.62h-1.2M83.00 380.66h-1.2M83.00 481.30v1.8M87.02 481.30v1.0M91.03 481.30v1.0M95.05 481.30v1.0M99.06 481.30v1.0M103.08 481.30v1.0M107.09 481.30v1.8M111.11 481.30v1.0M115.12 481.30v1.0M119.14 481.30v1.0M123.15 481.30v1.0M127.16 481.30v1.0M131.18 481.30v1.8M135.19 481.30v1.0M139.21 481.30v1.0M143.22 481.30v1.0M147.24 481.30v1.0M151.25 481.30v1.0M155.27 481.30v1.8M159.29 481.30v1.0M163.30 481.30v1.0M167.31 481.30v1.0M171.33 481.30v1.0M175.34 481.30v1.0M179.36 481.30v1.8M183.38 481.30v1.0M187.39 481.30v1.0M191.41 481.30v1.0M195.42 481.30v1.0M199.44 481.30v1.0M203.45 481.30v1.8" stroke="#555" stroke-width="0.45" fill="none"/>
<text x="83.00" y="487.60" font-size="3.6" text-anchor="middle" fill="#555">0</text>
<text x="107.09" y="487.60" font-size="3.6" text-anchor="middle" fill="#555">30</text>
<text x="131.18" y="487.60" font-size="3.6" text-anchor="middle" fill="#555">60</text>
<text x="155.27" y="487.60" font-size="3.6" text-anchor="middle" fill="#555">90</text>
<text x="179.36" y="487.60" font-size="3.6" text-anchor="middle" fill="#555">120</text>
<text x="203.45" y="487.60" font-size="3.6" text-anchor="middle" fill="#555">150</text>
<text x="78.80" y="466.50" font-size="3.6" text-anchor="middle" fill="#555" transform="rotate(-90 78.80 466.50)">100</text>
<text x="78.80" y="451.70" font-size="3.6" text-anchor="middle" fill="#555" transform="rotate(-90 78.80 451.70)">200</text>
<text x="78.80" y="436.90" font-size="3.6" text-anchor="middle" fill="#555" transform="rotate(-90 78.80 436.90)">300</text>
<text x="78.80" y="422.10" font-size="3.6" text-anchor="middle" fill="#555" transform="rotate(-90 78.80 422.10)">400</text>
<text x="78.80" y="407.30" font-size="3.6" text-anchor="middle" fill="#555" transform="rotate(-90 78.80 407.30)">500</text>
<text x="78.80" y="392.50" font-size="3.6" text-anchor="middle" fill="#555" transform="rotate(-90 78.80 392.50)">600</text>
<text x="73.40" y="430.50" font-size="3.6" text-anchor="middle" fill="#555" transform="rotate(-90 73.40 430.50)">Number</text>
<text x="144.20" y="491.60" font-size="3.7" text-anchor="middle" fill="#555">Channels (FL2-A)</text>
<path d="M121.00 485.30L122.80 482.10L124.60 485.30Z" fill="#111"/>
<path d="M160.10 485.30L161.90 482.10L163.70 485.30Z" fill="#111"/>
<rect x="177.60" y="369.30" width="4.4" height="3.3" fill="#3fb4c4" stroke="#555" stroke-width="0.3"/>
<text x="183.20" y="372.20" font-size="3.4" text-anchor="start" fill="#50509a">Apoptosis</text>
<rect x="177.60" y="373.80" width="4.4" height="3.3" fill="#d0101a" stroke="#555" stroke-width="0.3"/>
<text x="183.20" y="376.70" font-size="3.4" text-anchor="start" fill="#50509a">Dip G1</text>
<rect x="177.60" y="378.30" width="4.4" height="3.3" fill="#d0101a" stroke="#555" stroke-width="0.3"/>
<text x="183.20" y="381.20" font-size="3.4" text-anchor="start" fill="#50509a">Dip G2</text>
<rect x="177.60" y="382.80" width="4.4" height="3.3" fill="url(#hatch)" stroke="#555" stroke-width="0.3"/>
<text x="183.20" y="385.70" font-size="3.4" text-anchor="start" fill="#50509a">Dip S</text>
<path d="M250.10 479.35 L250.35 479.34 L250.60 479.33 L250.85 479.31 L251.10 479.29 L251.35 479.28 L251.60 479.25 L251.85 479.23 L252.10 479.20 L252.35 479.17 L252.60 479.13 L252.85 479.08 L253.10 479.04 L253.35 478.98 L253.60 478.92 L253.85 478.85 L254.10 478.78 L254.35 478.69 L254.60 478.60 L254.85 478.50 L255.10 478.39 L255.35 478.26 L255.60 478.13 L255.85 477.99 L256.10 477.84 L256.35 477.67 L256.60 477.50 L256.85 477.31 L257.10 477.11 L257.35 476.90 L257.60 476.68 L257.85 476.45 L258.10 476.21 L258.35 475.96 L258.60 475.70 L258.85 475.43 L259.10 475.15 L259.35 474.87 L259.60 474.58 L259.85 474.29 L260.10 474.00 L260.35 473.70 L260.60 473.40 L260.85 473.10 L261.10 472.80 L261.35 472.51 L261.60 472.22 L261.85 471.93 L262.10 471.65 L262.35 471.37 L262.60 471.10 L262.85 470.84 L263.10 470.59 L263.35 470.35 L263.60 470.12 L263.85 469.90 L264.10 469.69 L264.35 469.49 L264.60 469.30 L264.85 469.13 L265.10 468.96 L265.35 468.81 L265.60 468.67 L265.85 468.54 L266.10 468.41 L266.35 468.30 L266.60 468.20 L266.85 468.11 L267.10 468.02 L267.35 467.95 L267.60 467.88 L267.85 467.82 L268.10 467.76 L268.35 467.72 L268.60 467.67 L268.85 467.63 L269.10 467.60 L269.35 467.57 L269.60 467.55 L269.85 467.52 L270.10 467.51 L270.35 467.49 L270.60 467.47 L270.85 467.46 L271.10 467.45 L271.35 467.44 L271.60 467.44 L271.85 467.43 L272.10 467.42 L272.35 467.42 L272.60 467.42 L272.85 467.41 L273.10 467.41 L273.35 467.41 L273.60 467.41 L273.85 467.41 L274.10 467.40 L274.35 467.40 L274.60 467.40 L274.85 467.40 L275.10 467.40 L275.35 467.40 L275.60 467.40 L275.85 467.40 L276.10 467.40 L276.35 467.40 L276.60 467.40 L276.85 467.40 L277.10 467.40 L277.35 467.40 L277.60 467.40 L277.85 467.40 L278.10 467.40 L278.35 467.40 L278.60 467.40 L278.85 467.40 L279.10 467.40 L279.35 467.40 L279.60 467.40 L279.85 467.40 L280.10 467.40 L280.35 467.40 L280.60 467.40 L280.85 467.40 L281.10 467.40 L281.35 467.40 L281.60 467.40 L281.85 467.40 L282.10 467.40 L282.35 467.40 L282.60 467.40 L282.85 467.40 L283.10 467.40 L283.35 467.40 L283.60 467.40 L283.85 467.40 L284.10 467.40 L284.35 467.40 L284.60 467.41 L284.85 467.41 L285.10 467.41 L285.35 467.41 L285.60 467.41 L285.85 467.41 L286.10 467.42 L286.35 467.42 L286.60 467.42 L286.85 467.43 L287.10 467.44 L287.35 467.44 L287.60 467.45 L287.85 467.46 L288.10 467.47 L288.35 467.48 L288.60 467.49 L288.85 467.51 L289.10 467.52 L289.35 467.54 L289.60 467.57 L289.85 467.59 L290.10 467.62 L290.35 467.65 L290.60 467.69 L290.85 467.73 L291.10 467.77 L291.35 467.82 L291.60 467.87 L291.85 467.93 L292.10 468.00 L292.35 468.07 L292.60 468.15 L292.85 468.24 L293.10 468.33 L293.35 468.43 L293.60 468.54 L293.85 468.66 L294.10 468.78 L294.35 468.91 L294.60 469.06 L294.85 469.21 L295.10 469.37 L295.35 469.54 L295.60 469.72 L295.85 469.90 L296.10 470.10 L296.35 470.30 L296.60 470.52 L296.85 470.74 L297.10 470.96 L297.35 471.20 L297.60 471.44 L297.85 471.68 L298.10 471.93 L298.35 472.19 L298.60 472.45 L298.85 472.71 L299.10 472.98 L299.35 473.24 L299.60 473.51 L299.85 473.77 L300.10 474.04 L300.35 474.30 L300.60 474.56 L300.85 474.81 L301.10 475.07 L301.35 475.31 L301.60 475.56 L301.85 475.79 L302.10 476.02 L302.35 476.24 L302.60 476.45 L302.85 476.66 L303.10 476.86 L303.35 477.05 L303.60 477.23 L303.85 477.40 L304.10 477.56 L304.35 477.71 L304.60 477.86 L304.85 477.99 L305.10 478.12 L305.35 478.24 L305.60 478.35 L305.85 478.45 L306.10 478.55 L306.35 478.63 L306.60 478.71 L306.85 478.79 L307.10 478.85 L307.35 478.91 L307.60 478.97 L307.85 479.02 L308.10 479.06 L308.35 479.10 L308.60 479.14 L308.85 479.17 L309.10 479.20 L309.35 479.23 L309.60 479.25 L309.85 479.27 L310.10 479.29 L310.35 479.30 L310.60 479.32 L310.85 479.33 L311.10 479.34 L311.35 479.35 V479.4 H250.10Z" fill="url(#hatch)" stroke="none"/>
<path d="M250.35 479.36 L250.60 479.35 L250.85 479.32 L251.10 479.29 L251.35 479.25 L251.60 479.19 L251.85 479.10 L252.10 478.99 L252.35 478.84 L252.60 478.65 L252.85 478.40 L253.10 478.07 L253.35 477.65 L253.60 477.12 L253.85 476.46 L254.10 475.65 L254.35 474.65 L254.60 473.44 L254.85 472.00 L255.10 470.29 L255.35 468.28 L255.60 465.96 L255.85 463.30 L256.10 460.30 L256.35 456.95 L256.60 453.25 L256.85 449.22 L257.10 444.89 L257.35 440.30 L257.60 435.51 L257.85 430.59 L258.10 425.61 L258.35 420.67 L258.60 415.87 L258.85 411.31 L259.10 407.09 L259.35 403.32 L259.60 400.09 L259.85 397.48 L260.10 395.56 L260.35 394.39 L260.60 394.00 L260.85 394.39 L261.10 395.56 L261.35 397.48 L261.60 400.09 L261.85 403.32 L262.10 407.09 L262.35 411.31 L262.60 415.87 L262.85 420.67 L263.10 425.61 L263.35 430.59 L263.60 435.51 L263.85 440.30 L264.10 444.89 L264.35 449.22 L264.60 453.25 L264.85 456.95 L265.10 460.30 L265.35 463.30 L265.60 465.96 L265.85 468.28 L266.10 470.29 L266.35 472.00 L266.60 473.44 L266.85 474.65 L267.10 475.65 L267.35 476.46 L267.60 477.12 L267.85 477.65 L268.10 478.07 L268.35 478.40 L268.60 478.65 L268.85 478.84 L269.10 478.99 L269.35 479.10 L269.60 479.19 L269.85 479.25 L270.10 479.29 L270.35 479.32 L270.60 479.35 L270.85 479.36 V479.4 H250.35Z" fill="#e0121c" stroke="#5a0000" stroke-width="0.6"/>
<path d="M282.10 479.39 L282.35 479.39 L282.60 479.38 L282.85 479.38 L283.10 479.38 L283.35 479.37 L283.60 479.36 L283.85 479.35 L284.10 479.34 L284.35 479.33 L284.60 479.32 L284.85 479.30 L285.10 479.28 L285.35 479.26 L285.60 479.23 L285.85 479.19 L286.10 479.16 L286.35 479.11 L286.60 479.06 L286.85 478.99 L287.10 478.92 L287.35 478.84 L287.60 478.75 L287.85 478.64 L288.10 478.52 L288.35 478.38 L288.60 478.22 L288.85 478.05 L289.10 477.85 L289.35 477.63 L289.60 477.39 L289.85 477.12 L290.10 476.82 L290.35 476.49 L290.60 476.13 L290.85 475.74 L291.10 475.31 L291.35 474.85 L291.60 474.35 L291.85 473.82 L292.10 473.25 L292.35 472.64 L292.60 472.00 L292.85 471.33 L293.10 470.62 L293.35 469.87 L293.60 469.10 L293.85 468.31 L294.10 467.49 L294.35 466.65 L294.60 465.79 L294.85 464.93 L295.10 464.05 L295.35 463.18 L295.60 462.32 L295.85 461.47 L296.10 460.63 L296.35 459.82 L296.60 459.04 L296.85 458.30 L297.10 457.60 L297.35 456.95 L297.60 456.35 L297.85 455.82 L298.10 455.35 L298.35 454.95 L298.60 454.62 L298.85 454.37 L299.10 454.20 L299.35 454.11 L299.60 454.11 L299.85 454.18 L300.10 454.33 L300.35 454.57 L300.60 454.88 L300.85 455.26 L301.10 455.72 L301.35 456.24 L301.60 456.82 L301.85 457.46 L302.10 458.15 L302.35 458.89 L302.60 459.66 L302.85 460.47 L303.10 461.30 L303.35 462.15 L303.60 463.01 L303.85 463.88 L304.10 464.75 L304.35 465.62 L304.60 466.48 L304.85 467.32 L305.10 468.14 L305.35 468.95 L305.60 469.72 L305.85 470.47 L306.10 471.19 L306.35 471.87 L306.60 472.52 L306.85 473.13 L307.10 473.71 L307.35 474.25 L307.60 474.75 L307.85 475.22 L308.10 475.65 L308.35 476.05 L308.60 476.42 L308.85 476.75 L309.10 477.06 L309.35 477.34 L309.60 477.58 L309.85 477.81 L310.10 478.01 L310.35 478.19 L310.60 478.35 L310.85 478.49 L311.10 478.62 L311.35 478.73 L311.60 478.82 L311.85 478.91 L312.10 478.98 L312.35 479.04 L312.60 479.10 L312.85 479.15 L313.10 479.19 L313.35 479.22 L313.60 479.25 L313.85 479.28 L314.10 479.30 L314.35 479.31 L314.60 479.33 L314.85 479.34 L315.10 479.35 L315.35 479.36 L315.60 479.37 L315.85 479.37 L316.10 479.38 L316.35 479.38 L316.60 479.39 L316.85 479.39 L317.10 479.39 V479.4 H282.10Z" fill="#e0121c" stroke="#5a0000" stroke-width="0.6"/>
<path d="M250.10 479.35 L250.35 479.34 L250.60 479.33 L250.85 479.31 L251.10 479.29 L251.35 479.28 L251.60 479.25 L251.85 479.23 L252.10 479.20 L252.35 479.17 L252.60 479.13 L252.85 479.08 L253.10 479.04 L253.35 478.98 L253.60 478.92 L253.85 478.85 L254.10 478.78 L254.35 478.69 L254.60 478.60 L254.85 478.50 L255.10 478.39 L255.35 478.26 L255.60 478.13 L255.85 477.99 L256.10 477.84 L256.35 477.67 L256.60 477.50 L256.85 477.31 L257.10 477.11 L257.35 476.90 L257.60 476.68 L257.85 476.45 L258.10 476.21 L258.35 475.96 L258.60 475.70 L258.85 475.43 L259.10 475.15 L259.35 474.87 L259.60 474.58 L259.85 474.29 L260.10 474.00 L260.35 473.70 L260.60 473.40 L260.85 473.10 L261.10 472.80 L261.35 472.51 L261.60 472.22 L261.85 471.93 L262.10 471.65 L262.35 471.37 L262.60 471.10 L262.85 470.84 L263.10 470.59 L263.35 470.35 L263.60 470.12 L263.85 469.90 L264.10 469.69 L264.35 469.49 L264.60 469.30 L264.85 469.13 L265.10 468.96 L265.35 468.81 L265.60 468.67 L265.85 468.54 L266.10 468.41 L266.35 468.30 L266.60 468.20 L266.85 468.11 L267.10 468.02 L267.35 467.95 L267.60 467.88 L267.85 467.82 L268.10 467.76 L268.35 467.72 L268.60 467.67 L268.85 467.63 L269.10 467.60 L269.35 467.57 L269.60 467.55 L269.85 467.52 L270.10 467.51 L270.35 467.49 L270.60 467.47 L270.85 467.46 L271.10 467.45 L271.35 467.44 L271.60 467.44 L271.85 467.43 L272.10 467.42 L272.35 467.42 L272.60 467.42 L272.85 467.41 L273.10 467.41 L273.35 467.41 L273.60 467.41 L273.85 467.41 L274.10 467.40 L274.35 467.40 L274.60 467.40 L274.85 467.40 L275.10 467.40 L275.35 467.40 L275.60 467.40 L275.85 467.40 L276.10 467.40 L276.35 467.40 L276.60 467.40 L276.85 467.40 L277.10 467.40 L277.35 467.40 L277.60 467.40 L277.85 467.40 L278.10 467.40 L278.35 467.40 L278.60 467.40 L278.85 467.40 L279.10 467.40 L279.35 467.40 L279.60 467.40 L279.85 467.40 L280.10 467.40 L280.35 467.40 L280.60 467.40 L280.85 467.40 L281.10 467.40 L281.35 467.40 L281.60 467.40 L281.85 467.40 L282.10 467.40 L282.35 467.40 L282.60 467.40 L282.85 467.40 L283.10 467.40 L283.35 467.40 L283.60 467.40 L283.85 467.40 L284.10 467.40 L284.35 467.40 L284.60 467.41 L284.85 467.41 L285.10 467.41 L285.35 467.41 L285.60 467.41 L285.85 467.41 L286.10 467.42 L286.35 467.42 L286.60 467.42 L286.85 467.43 L287.10 467.44 L287.35 467.44 L287.60 467.45 L287.85 467.46 L288.10 467.47 L288.35 467.48 L288.60 467.49 L288.85 467.51 L289.10 467.52 L289.35 467.54 L289.60 467.57 L289.85 467.59 L290.10 467.62 L290.35 467.65 L290.60 467.69 L290.85 467.73 L291.10 467.77 L291.35 467.82 L291.60 467.87 L291.85 467.93 L292.10 468.00 L292.35 468.07 L292.60 468.15 L292.85 468.24 L293.10 468.33 L293.35 468.43 L293.60 468.54 L293.85 468.66 L294.10 468.78 L294.35 468.91 L294.60 469.06 L294.85 469.21 L295.10 469.37 L295.35 469.54 L295.60 469.72 L295.85 469.90 L296.10 470.10 L296.35 470.30 L296.60 470.52 L296.85 470.74 L297.10 470.96 L297.35 471.20 L297.60 471.44 L297.85 471.68 L298.10 471.93 L298.35 472.19 L298.60 472.45 L298.85 472.71 L299.10 472.98 L299.35 473.24 L299.60 473.51 L299.85 473.77 L300.10 474.04 L300.35 474.30 L300.60 474.56 L300.85 474.81 L301.10 475.07 L301.35 475.31 L301.60 475.56 L301.85 475.79 L302.10 476.02 L302.35 476.24 L302.60 476.45 L302.85 476.66 L303.10 476.86 L303.35 477.05 L303.60 477.23 L303.85 477.40 L304.10 477.56 L304.35 477.71 L304.60 477.86 L304.85 477.99 L305.10 478.12 L305.35 478.24 L305.60 478.35 L305.85 478.45 L306.10 478.55 L306.35 478.63 L306.60 478.71 L306.85 478.79 L307.10 478.85 L307.35 478.91 L307.60 478.97 L307.85 479.02 L308.10 479.06 L308.35 479.10 L308.60 479.14 L308.85 479.17 L309.10 479.20 L309.35 479.23 L309.60 479.25 L309.85 479.27 L310.10 479.29 L310.35 479.30 L310.60 479.32 L310.85 479.33 L311.10 479.34 L311.35 479.35" fill="none" stroke="#333" stroke-width="0.6"/>
<path d="M221.60 479.38 L221.85 479.37 L222.10 479.37 L222.35 479.36 L222.60 479.34 L222.85 479.33 L223.10 479.31 L223.35 479.28 L223.60 479.26 L223.85 479.22 L224.10 479.18 L224.35 479.13 L224.60 479.07 L224.85 479.01 L225.10 478.93 L225.35 478.85 L225.60 478.75 L225.85 478.64 L226.10 478.53 L226.35 478.40 L226.60 478.26 L226.85 478.12 L227.10 477.96 L227.35 477.81 L227.60 477.65 L227.85 477.48 L228.10 477.32 L228.35 477.17 L228.60 477.02 L228.85 476.88 L229.10 476.75 L229.35 476.64 L229.60 476.55 L229.85 476.48 L230.10 476.43 L230.35 476.40 L230.60 476.40 L230.85 476.42 L231.10 476.47 L231.35 476.54 L231.60 476.62 L231.85 476.73 L232.10 476.85 L232.35 476.99 L232.60 477.14 L232.85 477.29 L233.10 477.45 L233.35 477.61 L233.60 477.77 L233.85 477.93 L234.10 478.09 L234.35 478.23 L234.60 478.37 L234.85 478.50 L235.10 478.62 L235.35 478.73 L235.60 478.83 L235.85 478.92 L236.10 478.99 L236.35 479.06 L236.60 479.12 L236.85 479.17 L237.10 479.21 L237.35 479.25 L237.60 479.28 L237.85 479.30 L238.10 479.32 L238.35 479.34 L238.60 479.35 L238.85 479.36 L239.10 479.37 L239.35 479.38 L239.60 479.38 L239.85 479.39 L240.10 479.39 L240.35 479.39 L240.60 479.40 L240.85 479.40 L241.10 479.40 L241.35 479.40 L241.60 479.40 V479.4 H221.60Z" fill="#3fb4c4" stroke="#1c6f7a" stroke-width="0.5"/>
<path d="M221.60 479.38 L221.85 479.37 L222.10 479.37 L222.35 479.36 L222.60 479.34 L222.85 479.33 L223.10 479.31 L223.35 479.28 L223.60 479.26 L223.85 479.22 L224.10 479.18 L224.35 479.13 L224.60 479.07 L224.85 479.01 L225.10 478.93 L225.35 478.85 L225.60 478.75 L225.85 478.64 L226.10 478.53 L226.35 478.40 L226.60 478.26 L226.85 478.12 L227.10 477.96 L227.35 477.81 L227.60 477.65 L227.85 477.48 L228.10 477.32 L228.35 477.17 L228.60 477.02 L228.85 476.88 L229.10 476.75 L229.35 476.64 L229.60 476.55 L229.85 476.48 L230.10 476.43 L230.35 476.40 L230.60 476.40 L230.85 476.42 L231.10 476.47 L231.35 476.54 L231.60 476.62 L231.85 476.73 L232.10 476.85 L232.35 476.99 L232.60 477.14 L232.85 477.29 L233.10 477.45 L233.35 477.61 L233.60 477.77 L233.85 477.93 L234.10 478.09 L234.35 478.23 L234.60 478.37 L234.85 478.50 L235.10 478.62 L235.35 478.73 L235.60 478.83 L235.85 478.92 L236.10 478.99 L236.35 479.06 L236.60 479.12 L236.85 479.17 L237.10 479.21 L237.35 479.25 L237.60 479.28 L237.85 479.30 L238.10 479.32 L238.35 479.34 L238.60 479.35 L238.85 479.36 L239.10 479.37 L239.35 479.38 L239.60 479.38 L239.85 479.39 L240.10 479.39 L240.35 479.39 L240.60 479.40 L240.85 479.40 L241.10 479.40 L241.35 479.40 L241.60 479.40 L241.85 479.40 L242.10 479.40 L242.35 479.40 L242.60 479.40 L242.85 479.40 L243.10 479.40 L243.35 479.40 L243.60 479.40 L243.85 479.40 L244.10 479.40 L244.35 479.40 L244.60 479.40 L244.85 479.40 L245.10 479.40 L245.35 479.40 L245.60 479.40 L245.85 479.40 L246.10 479.40 L246.35 479.40 L246.60 479.40 L246.85 479.40 L247.10 479.40 L247.35 479.39 L247.60 479.39 L247.85 479.39 L248.10 479.39 L248.35 479.39 L248.60 479.38 L248.85 479.38 L249.10 479.37 L249.35 479.36 L249.60 479.35 L249.85 479.34 L250.10 479.32 L250.35 479.30 L250.60 479.27 L250.85 479.24 L251.10 479.19 L251.35 479.12 L251.60 479.04 L251.85 478.93 L252.10 478.79 L252.35 478.61 L252.60 478.38 L252.85 478.08 L253.10 477.70 L253.35 477.23 L253.60 476.64 L253.85 475.91 L254.10 475.02 L254.35 473.94 L254.60 472.64 L254.85 471.09 L255.10 469.27 L255.35 467.14 L255.60 464.69 L255.85 461.89 L256.10 458.74 L256.35 455.22 L256.60 451.34 L256.85 447.13 L257.10 442.60 L257.35 437.80 L257.60 432.79 L257.85 427.64 L258.10 422.42 L258.35 417.23 L258.60 412.17 L258.85 407.34 L259.10 402.85 L259.35 398.79 L259.60 395.27 L259.85 392.37 L260.10 390.16 L260.35 388.69 L260.60 388.00 L260.85 388.09 L261.10 388.97 L261.35 390.59 L261.60 392.90 L261.85 395.85 L262.10 399.34 L262.35 403.28 L262.60 407.57 L262.85 412.12 L263.10 416.80 L263.35 421.54 L263.60 426.23 L263.85 430.80 L264.10 435.18 L264.35 439.31 L264.60 443.15 L264.85 446.68 L265.10 449.87 L265.35 452.71 L265.60 455.23 L265.85 457.42 L266.10 459.30 L266.35 460.90 L266.60 462.24 L266.85 463.36 L267.10 464.27 L267.35 465.01 L267.60 465.60 L267.85 466.07 L268.10 466.43 L268.35 466.71 L268.60 466.92 L268.85 467.08 L269.10 467.19 L269.35 467.28 L269.60 467.33 L269.85 467.37 L270.10 467.40 L270.35 467.41 L270.60 467.42 L270.85 467.43 L271.10 467.43 L271.35 467.43 L271.60 467.42 L271.85 467.42 L272.10 467.42 L272.35 467.42 L272.60 467.41 L272.85 467.41 L273.10 467.41 L273.35 467.41 L273.60 467.41 L273.85 467.41 L274.10 467.40 L274.35 467.40 L274.60 467.40 L274.85 467.40 L275.10 467.40 L275.35 467.40 L275.60 467.40 L275.85 467.40 L276.10 467.40 L276.35 467.40 L276.60 467.40 L276.85 467.40 L277.10 467.40 L277.35 467.40 L277.60 467.40 L277.85 467.40 L278.10 467.40 L278.35 467.40 L278.60 467.40 L278.85 467.40 L279.10 467.40 L279.35 467.40 L279.60 467.40 L279.85 467.40 L280.10 467.40 L280.35 467.40 L280.60 467.40 L280.85 467.40 L281.10 467.40 L281.35 467.39 L281.60 467.39 L281.85 467.39 L282.10 467.39 L282.35 467.38 L282.60 467.38 L282.85 467.38 L283.10 467.37 L283.35 467.36 L283.60 467.35 L283.85 467.34 L284.10 467.33 L284.35 467.32 L284.60 467.30 L284.85 467.28 L285.10 467.25 L285.35 467.22 L285.60 467.19 L285.85 467.15 L286.10 467.10 L286.35 467.04 L286.60 466.98 L286.85 466.90 L287.10 466.82 L287.35 466.72 L287.60 466.61 L287.85 466.48 L288.10 466.33 L288.35 466.17 L288.60 465.99 L288.85 465.78 L289.10 465.55 L289.35 465.29 L289.60 465.01 L289.85 464.70 L290.10 464.36 L290.35 463.99 L290.60 463.58 L290.85 463.14 L291.10 462.67 L291.35 462.16 L291.60 461.62 L291.85 461.04 L292.10 460.43 L292.35 459.79 L292.60 459.11 L292.85 458.41 L293.10 457.68 L293.35 456.93 L293.60 456.15 L293.85 455.36 L294.10 454.56 L294.35 453.75 L294.60 452.94 L294.85 452.14 L295.10 451.34 L295.35 450.57 L295.60 449.81 L295.85 449.09 L296.10 448.40 L296.35 447.76 L296.60 447.17 L296.85 446.63 L297.10 446.16 L297.35 445.76 L297.60 445.42 L297.85 445.17 L298.10 444.99 L298.35 444.91 L298.60 444.90 L298.85 444.99 L299.10 445.17 L299.35 445.43 L299.60 445.78 L299.85 446.22 L300.10 446.75 L300.35 447.35 L300.60 448.04 L300.85 448.79 L301.10 449.61 L301.35 450.49 L301.60 451.43 L301.85 452.42 L302.10 453.44 L302.35 454.50 L302.60 455.59 L302.85 456.70 L303.10 457.82 L303.35 458.94 L303.60 460.07 L303.85 461.19 L304.10 462.29 L304.35 463.38 L304.60 464.44 L304.85 465.48 L305.10 466.48 L305.35 467.45 L305.60 468.37 L305.85 469.26 L306.10 470.11 L306.35 470.91 L306.60 471.66 L306.85 472.37 L307.10 473.04 L307.35 473.66 L307.60 474.23 L307.85 474.76 L308.10 475.25 L308.35 475.70 L308.60 476.12 L308.85 476.49 L309.10 476.83 L309.35 477.14 L309.60 477.41 L309.85 477.66 L310.10 477.89 L310.35 478.08 L310.60 478.26 L310.85 478.41 L311.10 478.55 L311.35 478.67 L311.60 478.78 L311.85 478.87 L312.10 478.95 L312.35 479.02 L312.60 479.08 L312.85 479.13 L313.10 479.17 L313.35 479.21 L313.60 479.24 L313.85 479.27 L314.10 479.29 L314.35 479.31 L314.60 479.32 L314.85 479.34 L315.10 479.35 L315.35 479.36 L315.60 479.37 L315.85 479.37 L316.10 479.38 L316.35 479.38 L316.60 479.39 L316.85 479.39 L317.10 479.39 L317.35 479.39 L317.60 479.39 L317.85 479.40 L318.10 479.40 L318.35 479.40 L318.60 479.40 L318.85 479.40 L319.10 479.40 L319.35 479.40 L319.60 479.40 L319.85 479.40 L320.10 479.40 L320.35 479.40 L320.60 479.40 L320.85 479.40 L321.10 479.40 L321.35 479.40 L321.60 479.40 L321.85 479.40 L322.10 479.40 L322.35 479.40 L322.60 479.40 L322.85 479.40 L323.10 479.40 L323.35 479.40 L323.60 479.40 L323.85 479.40 L324.10 479.40 L324.35 479.40 L324.60 479.40 L324.85 479.40 L325.10 479.40 L325.35 479.40 L325.60 479.40 L325.85 479.40 L326.10 479.40 L326.35 479.40 L326.60 479.40 L326.85 479.40 L327.10 479.40 L327.35 479.40 L327.60 479.40 L327.85 479.40 L328.10 479.40 L328.35 479.40 L328.60 479.40 L328.85 479.40 L329.10 479.40 L329.35 479.40 L329.60 479.40 L329.85 479.40 L330.10 479.40 L330.35 479.40 L330.60 479.40 L330.85 479.40 L331.10 479.40 L331.35 479.40 L331.60 479.40 L331.85 479.40 L332.10 479.40 L332.35 479.40 L332.60 479.40 L332.85 479.40 L333.10 479.40 L333.35 479.40 L333.60 479.40 L333.85 479.40 L334.10 479.40 L334.35 479.40 L334.60 479.40 L334.85 479.40 L335.10 479.40 L335.35 479.40 L335.60 479.40 L335.85 479.40 L336.10 479.40 L336.35 479.40 L336.60 479.40 L336.85 479.40 L337.10 479.40 L337.35 479.40 L337.60 479.40 L337.85 479.40 L338.10 479.40 L338.35 479.40 L338.60 479.40 L338.85 479.40 L339.10 479.40 L339.35 479.40 L339.60 479.40 L339.85 479.40 L340.10 479.40 L340.35 479.40 L340.60 479.40" fill="none" stroke="#555" stroke-width="0.6"/>
<path d="M221.60 479.38 L222.30 479.36 L223.00 479.32 L223.70 479.24 L224.40 479.12 L225.10 478.93 L225.80 478.57 L226.50 478.17 L227.20 478.10 L227.90 477.69 L228.60 476.78 L229.30 476.47 L230.00 476.30 L230.70 476.58 L231.40 476.46 L232.10 476.77 L232.80 477.21 L233.50 477.88 L234.20 478.17 L234.90 478.56 L235.60 478.83 L236.30 479.05 L237.00 479.20 L237.70 479.29 L238.40 479.34 L239.10 479.37 L239.80 479.39 L240.50 479.39 L241.20 479.40 L241.90 479.40 L242.60 479.40 L243.30 479.40 L244.00 479.40 L244.70 479.40 L245.40 479.40 L246.10 479.40 L246.80 479.40 L247.50 479.39 L248.20 479.39 L248.90 479.38 L249.60 479.35 L250.30 479.31 L251.00 479.21 L251.70 479.00 L252.40 478.51 L253.10 477.45 L253.80 475.62 L254.50 473.11 L255.20 468.59 L255.90 461.85 L256.60 452.46 L257.30 439.90 L258.00 424.53 L258.70 410.42 L259.40 397.82 L260.10 388.38 L260.80 386.95 L261.50 390.91 L262.20 400.99 L262.90 413.97 L263.60 426.58 L264.30 439.36 L265.00 448.60 L265.70 454.94 L266.40 460.77 L267.10 465.04 L267.80 465.04 L268.50 466.13 L269.20 466.67 L269.90 466.40 L270.60 466.79 L271.30 466.73 L272.00 467.77 L272.70 466.26 L273.40 466.30 L274.10 468.22 L274.80 466.79 L275.50 466.88 L276.20 467.49 L276.90 467.33 L277.60 467.42 L278.30 466.38 L279.00 467.40 L279.70 466.60 L280.40 467.75 L281.10 466.48 L281.80 466.43 L282.50 467.48 L283.20 467.20 L283.90 466.33 L284.60 466.76 L285.30 467.26 L286.00 467.79 L286.70 467.37 L287.40 466.22 L288.10 467.13 L288.80 464.84 L289.50 465.68 L290.20 463.21 L290.90 463.46 L291.60 460.43 L292.30 459.24 L293.00 457.63 L293.70 455.23 L294.40 452.34 L295.10 449.86 L295.80 447.99 L296.50 446.01 L297.20 443.59 L297.90 441.59 L298.60 442.18 L299.30 444.21 L300.00 443.94 L300.70 446.39 L301.40 448.71 L302.10 453.53 L302.80 455.49 L303.50 460.45 L304.20 462.25 L304.90 466.17 L305.60 469.01 L306.30 469.84 L307.00 473.56 L307.70 474.42 L308.40 475.41 L309.10 477.03 L309.80 477.77 L310.50 478.05 L311.20 478.62 L311.90 478.88 L312.60 479.08 L313.30 479.20 L314.00 479.28 L314.70 479.33 L315.40 479.36 L316.10 479.38 L316.80 479.39 L317.50 479.39 L318.20 479.40 L318.90 479.40 L319.60 479.40 L320.30 479.40 L321.00 479.40 L321.70 479.40 L322.40 479.40 L323.10 479.40 L323.80 479.40 L324.50 479.40 L325.20 479.40 L325.90 479.40 L326.60 479.40 L327.30 479.40 L328.00 479.40 L328.70 479.40 L329.40 479.40 L330.10 479.40 L330.80 479.40 L331.50 479.40 L332.20 479.40 L332.90 479.40 L333.60 479.40 L334.30 479.40 L335.00 479.40 L335.70 479.40 L336.40 479.40 L337.10 479.40 L337.80 479.40 L338.50 479.40 L339.20 479.40 L339.90 479.40 L340.60 479.40" fill="none" stroke="#2a2a2a" stroke-width="0.5"/>
<path d="M221.60 375.60V479.40H340.70" fill="none" stroke="#444" stroke-width="0.7"/>
<path d="M221.60 479.40h-1.2M221.60 475.26h-1.2M221.60 471.12h-1.2M221.60 466.98h-1.2M221.60 462.84h-1.2M221.60 458.70h-1.2M221.60 454.56h-1.2M221.60 450.42h-1.2M221.60 446.28h-1.2M221.60 442.14h-1.2M221.60 438.00h-1.2M221.60 433.86h-1.2M221.60 429.72h-1.2M221.60 425.58h-1.2M221.60 421.44h-1.2M221.60 417.30h-1.2M221.60 413.16h-1.2M221.60 409.02h-1.2M221.60 404.88h-1.2M221.60 400.74h-1.2M221.60 396.60h-1.2M221.60 392.46h-1.2M221.60 388.32h-1.2M221.60 384.18h-1.2M221.60 380.04h-1.2M221.60 375.90h-1.2M221.60 479.40v1.8M225.57 479.40v1.0M229.54 479.40v1.0M233.51 479.40v1.0M237.48 479.40v1.0M241.45 479.40v1.0M245.42 479.40v1.8M249.39 479.40v1.0M253.36 479.40v1.0M257.33 479.40v1.0M261.30 479.40v1.0M265.27 479.40v1.0M269.24 479.40v1.8M273.21 479.40v1.0M277.18 479.40v1.0M281.15 479.40v1.0M285.12 479.40v1.0M289.09 479.40v1.0M293.06 479.40v1.8M297.03 479.40v1.0M301.00 479.40v1.0M304.97 479.40v1.0M308.94 479.40v1.0M312.91 479.40v1.0M316.88 479.40v1.8M320.85 479.40v1.0M324.82 479.40v1.0M328.79 479.40v1.0M332.76 479.40v1.0M336.73 479.40v1.0M340.70 479.40v1.8" stroke="#555" stroke-width="0.45" fill="none"/>
<text x="221.60" y="485.70" font-size="3.6" text-anchor="middle" fill="#555">0</text>
<text x="245.42" y="485.70" font-size="3.6" text-anchor="middle" fill="#555">30</text>
<text x="269.24" y="485.70" font-size="3.6" text-anchor="middle" fill="#555">60</text>
<text x="293.06" y="485.70" font-size="3.6" text-anchor="middle" fill="#555">90</text>
<text x="316.88" y="485.70" font-size="3.6" text-anchor="middle" fill="#555">120</text>
<text x="340.70" y="485.70" font-size="3.6" text-anchor="middle" fill="#555">150</text>
<text x="217.40" y="458.70" font-size="3.6" text-anchor="middle" fill="#555" transform="rotate(-90 217.40 458.70)">200</text>
<text x="217.40" y="438.00" font-size="3.6" text-anchor="middle" fill="#555" transform="rotate(-90 217.40 438.00)">400</text>
<text x="217.40" y="417.30" font-size="3.6" text-anchor="middle" fill="#555" transform="rotate(-90 217.40 417.30)">600</text>
<text x="217.40" y="396.60" font-size="3.6" text-anchor="middle" fill="#555" transform="rotate(-90 217.40 396.60)">800</text>
<text x="212.00" y="428.60" font-size="3.6" text-anchor="middle" fill="#555" transform="rotate(-90 212.00 428.60)">Number</text>
<text x="282.15" y="489.70" font-size="3.7" text-anchor="middle" fill="#555">Channels (FL2-A)</text>
<path d="M259.90 483.40L261.70 480.20L263.50 483.40Z" fill="#111"/>
<path d="M296.70 483.40L298.50 480.20L300.30 483.40Z" fill="#111"/>
<rect x="316.20" y="366.90" width="4.4" height="3.3" fill="#3fb4c4" stroke="#555" stroke-width="0.3"/>
<text x="321.80" y="369.80" font-size="3.4" text-anchor="start" fill="#50509a">Apoptosis</text>
<rect x="316.20" y="371.40" width="4.4" height="3.3" fill="#d0101a" stroke="#555" stroke-width="0.3"/>
<text x="321.80" y="374.30" font-size="3.4" text-anchor="start" fill="#50509a">Dip G1</text>
<rect x="316.20" y="375.90" width="4.4" height="3.3" fill="#d0101a" stroke="#555" stroke-width="0.3"/>
<text x="321.80" y="378.80" font-size="3.4" text-anchor="start" fill="#50509a">Dip G2</text>
<rect x="316.20" y="380.40" width="4.4" height="3.3" fill="url(#hatch)" stroke="#555" stroke-width="0.3"/>
<text x="321.80" y="383.30" font-size="3.4" text-anchor="start" fill="#50509a">Dip S</text>
<path d="M389.10 480.05 L389.35 480.04 L389.60 480.02 L389.85 480.01 L390.10 479.99 L390.35 479.97 L390.60 479.95 L390.85 479.92 L391.10 479.89 L391.35 479.86 L391.60 479.82 L391.85 479.78 L392.10 479.73 L392.35 479.68 L392.60 479.61 L392.85 479.55 L393.10 479.47 L393.35 479.39 L393.60 479.29 L393.85 479.19 L394.10 479.08 L394.35 478.96 L394.60 478.83 L394.85 478.69 L395.10 478.54 L395.35 478.38 L395.60 478.21 L395.85 478.02 L396.10 477.83 L396.35 477.62 L396.60 477.41 L396.85 477.18 L397.10 476.95 L397.35 476.70 L397.60 476.45 L397.85 476.19 L398.10 475.92 L398.35 475.65 L398.60 475.37 L398.85 475.09 L399.10 474.81 L399.35 474.52 L399.60 474.24 L399.85 473.95 L400.10 473.66 L400.35 473.38 L400.60 473.10 L400.85 472.83 L401.10 472.56 L401.35 472.30 L401.60 472.05 L401.85 471.80 L402.10 471.57 L402.35 471.34 L402.60 471.12 L402.85 470.91 L403.10 470.72 L403.35 470.53 L403.60 470.36 L403.85 470.19 L404.10 470.04 L404.35 469.90 L404.60 469.76 L404.85 469.64 L405.10 469.53 L405.35 469.43 L405.60 469.33 L405.85 469.25 L406.10 469.17 L406.35 469.10 L406.60 469.04 L406.85 468.98 L407.10 468.93 L407.35 468.89 L407.60 468.85 L407.85 468.81 L408.10 468.78 L408.35 468.75 L408.60 468.73 L408.85 468.71 L409.10 468.69 L409.35 468.68 L409.60 468.67 L409.85 468.66 L410.10 468.65 L410.35 468.64 L410.60 468.63 L410.85 468.63 L411.10 468.62 L411.35 468.62 L411.60 468.61 L411.85 468.61 L412.10 468.61 L412.35 468.61 L412.60 468.61 L412.85 468.60 L413.10 468.60 L413.35 468.60 L413.60 468.60 L413.85 468.60 L414.10 468.60 L414.35 468.60 L414.60 468.60 L414.85 468.60 L415.10 468.60 L415.35 468.60 L415.60 468.60 L415.85 468.60 L416.10 468.60 L416.35 468.60 L416.60 468.60 L416.85 468.60 L417.10 468.60 L417.35 468.60 L417.60 468.60 L417.85 468.60 L418.10 468.60 L418.35 468.60 L418.60 468.60 L418.85 468.60 L419.10 468.60 L419.35 468.60 L419.60 468.60 L419.85 468.60 L420.10 468.60 L420.35 468.60 L420.60 468.60 L420.85 468.60 L421.10 468.60 L421.35 468.60 L421.60 468.60 L421.85 468.60 L422.10 468.60 L422.35 468.60 L422.60 468.60 L422.85 468.60 L423.10 468.60 L423.35 468.60 L423.60 468.61 L423.85 468.61 L424.10 468.61 L424.35 468.61 L424.60 468.61 L424.85 468.61 L425.10 468.62 L425.35 468.62 L425.60 468.62 L425.85 468.63 L426.10 468.63 L426.35 468.64 L426.60 468.65 L426.85 468.66 L427.10 468.66 L427.35 468.68 L427.60 468.69 L427.85 468.70 L428.10 468.72 L428.35 468.74 L428.60 468.76 L428.85 468.78 L429.10 468.81 L429.35 468.84 L429.60 468.88 L429.85 468.91 L430.10 468.96 L430.35 469.00 L430.60 469.06 L430.85 469.11 L431.10 469.18 L431.35 469.24 L431.60 469.32 L431.85 469.40 L432.10 469.49 L432.35 469.59 L432.60 469.69 L432.85 469.80 L433.10 469.92 L433.35 470.05 L433.60 470.19 L433.85 470.33 L434.10 470.49 L434.35 470.65 L434.60 470.82 L434.85 471.00 L435.10 471.19 L435.35 471.38 L435.60 471.59 L435.85 471.80 L436.10 472.01 L436.35 472.24 L436.60 472.47 L436.85 472.70 L437.10 472.95 L437.35 473.19 L437.60 473.44 L437.85 473.69 L438.10 473.94 L438.35 474.20 L438.60 474.45 L438.85 474.71 L439.10 474.96 L439.35 475.21 L439.60 475.46 L439.85 475.71 L440.10 475.95 L440.35 476.18 L440.60 476.42 L440.85 476.64 L441.10 476.86 L441.35 477.07 L441.60 477.28 L441.85 477.47 L442.10 477.66 L442.35 477.84 L442.60 478.02 L442.85 478.18 L443.10 478.34 L443.35 478.48 L443.60 478.62 L443.85 478.75 L444.10 478.87 L444.35 478.99 L444.60 479.09 L444.85 479.19 L445.10 479.28 L445.35 479.36 L445.60 479.44 L445.85 479.51 L446.10 479.58 L446.35 479.63 L446.60 479.69 L446.85 479.73 L447.10 479.78 L447.35 479.82 L447.60 479.85 L447.85 479.88 L448.10 479.91 L448.35 479.94 L448.60 479.96 L448.85 479.98 L449.10 479.99 L449.35 480.01 L449.60 480.02 L449.85 480.03 L450.10 480.04 V480.1 H389.10Z" fill="url(#hatch)" stroke="none"/>
<path d="M389.60 480.07 L389.85 480.05 L390.10 480.02 L390.35 479.99 L390.60 479.94 L390.85 479.88 L391.10 479.79 L391.35 479.67 L391.60 479.50 L391.85 479.28 L392.10 478.99 L392.35 478.62 L392.60 478.14 L392.85 477.53 L393.10 476.77 L393.35 475.82 L393.60 474.65 L393.85 473.23 L394.10 471.53 L394.35 469.52 L394.60 467.16 L394.85 464.44 L395.10 461.34 L395.35 457.84 L395.60 453.95 L395.85 449.68 L396.10 445.08 L396.35 440.18 L396.60 435.04 L396.85 429.75 L397.10 424.40 L397.35 419.10 L397.60 413.95 L397.85 409.08 L398.10 404.61 L398.35 400.66 L398.60 397.34 L398.85 394.73 L399.10 392.92 L399.35 391.96 L399.60 391.87 L399.85 392.66 L400.10 394.31 L400.35 396.76 L400.60 399.95 L400.85 403.78 L401.10 408.15 L401.35 412.95 L401.60 418.05 L401.85 423.33 L402.10 428.68 L402.35 433.99 L402.60 439.17 L402.85 444.12 L403.10 448.79 L403.35 453.12 L403.60 457.09 L403.85 460.67 L404.10 463.85 L404.35 466.65 L404.60 469.08 L404.85 471.16 L405.10 472.92 L405.35 474.39 L405.60 475.60 L405.85 476.59 L406.10 477.39 L406.35 478.03 L406.60 478.53 L406.85 478.93 L407.10 479.23 L407.35 479.46 L407.60 479.64 L407.85 479.77 L408.10 479.86 L408.35 479.93 L408.60 479.98 L408.85 480.02 L409.10 480.04 L409.35 480.06 V480.1 H389.60Z" fill="#e0121c" stroke="#5a0000" stroke-width="0.6"/>
<path d="M420.10 480.09 L420.35 480.09 L420.60 480.09 L420.85 480.09 L421.10 480.09 L421.35 480.08 L421.60 480.08 L421.85 480.07 L422.10 480.07 L422.35 480.06 L422.60 480.05 L422.85 480.04 L423.10 480.03 L423.35 480.02 L423.60 480.00 L423.85 479.98 L424.10 479.96 L424.35 479.94 L424.60 479.91 L424.85 479.87 L425.10 479.84 L425.35 479.79 L425.60 479.74 L425.85 479.68 L426.10 479.61 L426.35 479.54 L426.60 479.45 L426.85 479.36 L427.10 479.25 L427.35 479.13 L427.60 478.99 L427.85 478.84 L428.10 478.67 L428.35 478.49 L428.60 478.28 L428.85 478.06 L429.10 477.82 L429.35 477.56 L429.60 477.27 L429.85 476.96 L430.10 476.63 L430.35 476.27 L430.60 475.89 L430.85 475.48 L431.10 475.05 L431.35 474.60 L431.60 474.13 L431.85 473.63 L432.10 473.11 L432.35 472.57 L432.60 472.02 L432.85 471.45 L433.10 470.86 L433.35 470.27 L433.60 469.67 L433.85 469.06 L434.10 468.45 L434.35 467.85 L434.60 467.26 L434.85 466.67 L435.10 466.10 L435.35 465.55 L435.60 465.02 L435.85 464.51 L436.10 464.04 L436.35 463.60 L436.60 463.20 L436.85 462.85 L437.10 462.53 L437.35 462.27 L437.60 462.05 L437.85 461.88 L438.10 461.77 L438.35 461.71 L438.60 461.70 L438.85 461.75 L439.10 461.86 L439.35 462.01 L439.60 462.22 L439.85 462.48 L440.10 462.78 L440.35 463.13 L440.60 463.52 L440.85 463.95 L441.10 464.42 L441.35 464.91 L441.60 465.44 L441.85 465.99 L442.10 466.55 L442.35 467.14 L442.60 467.73 L442.85 468.33 L443.10 468.94 L443.35 469.55 L443.60 470.15 L443.85 470.74 L444.10 471.33 L444.35 471.90 L444.60 472.46 L444.85 473.00 L445.10 473.53 L445.35 474.03 L445.60 474.51 L445.85 474.97 L446.10 475.40 L446.35 475.81 L446.60 476.20 L446.85 476.56 L447.10 476.89 L447.35 477.21 L447.60 477.50 L447.85 477.77 L448.10 478.02 L448.35 478.24 L448.60 478.45 L448.85 478.64 L449.10 478.81 L449.35 478.96 L449.60 479.10 L449.85 479.22 L450.10 479.33 L450.35 479.43 L450.60 479.52 L450.85 479.60 L451.10 479.67 L451.35 479.73 L451.60 479.78 L451.85 479.83 L452.10 479.87 L452.35 479.90 L452.60 479.93 L452.85 479.96 L453.10 479.98 L453.35 480.00 L453.60 480.02 L453.85 480.03 L454.10 480.04 L454.35 480.05 L454.60 480.06 L454.85 480.07 L455.10 480.07 L455.35 480.08 L455.60 480.08 L455.85 480.09 L456.10 480.09 L456.35 480.09 L456.60 480.09 L456.85 480.09 V480.1 H420.10Z" fill="#e0121c" stroke="#5a0000" stroke-width="0.6"/>
<path d="M389.10 480.05 L389.35 480.04 L389.60 480.02 L389.85 480.01 L390.10 479.99 L390.35 479.97 L390.60 479.95 L390.85 479.92 L391.10 479.89 L391.35 479.86 L391.60 479.82 L391.85 479.78 L392.10 479.73 L392.35 479.68 L392.60 479.61 L392.85 479.55 L393.10 479.47 L393.35 479.39 L393.60 479.29 L393.85 479.19 L394.10 479.08 L394.35 478.96 L394.60 478.83 L394.85 478.69 L395.10 478.54 L395.35 478.38 L395.60 478.21 L395.85 478.02 L396.10 477.83 L396.35 477.62 L396.60 477.41 L396.85 477.18 L397.10 476.95 L397.35 476.70 L397.60 476.45 L397.85 476.19 L398.10 475.92 L398.35 475.65 L398.60 475.37 L398.85 475.09 L399.10 474.81 L399.35 474.52 L399.60 474.24 L399.85 473.95 L400.10 473.66 L400.35 473.38 L400.60 473.10 L400.85 472.83 L401.10 472.56 L401.35 472.30 L401.60 472.05 L401.85 471.80 L402.10 471.57 L402.35 471.34 L402.60 471.12 L402.85 470.91 L403.10 470.72 L403.35 470.53 L403.60 470.36 L403.85 470.19 L404.10 470.04 L404.35 469.90 L404.60 469.76 L404.85 469.64 L405.10 469.53 L405.35 469.43 L405.60 469.33 L405.85 469.25 L406.10 469.17 L406.35 469.10 L406.60 469.04 L406.85 468.98 L407.10 468.93 L407.35 468.89 L407.60 468.85 L407.85 468.81 L408.10 468.78 L408.35 468.75 L408.60 468.73 L408.85 468.71 L409.10 468.69 L409.35 468.68 L409.60 468.67 L409.85 468.66 L410.10 468.65 L410.35 468.64 L410.60 468.63 L410.85 468.63 L411.10 468.62 L411.35 468.62 L411.60 468.61 L411.85 468.61 L412.10 468.61 L412.35 468.61 L412.60 468.61 L412.85 468.60 L413.10 468.60 L413.35 468.60 L413.60 468.60 L413.85 468.60 L414.10 468.60 L414.35 468.60 L414.60 468.60 L414.85 468.60 L415.10 468.60 L415.35 468.60 L415.60 468.60 L415.85 468.60 L416.10 468.60 L416.35 468.60 L416.60 468.60 L416.85 468.60 L417.10 468.60 L417.35 468.60 L417.60 468.60 L417.85 468.60 L418.10 468.60 L418.35 468.60 L418.60 468.60 L418.85 468.60 L419.10 468.60 L419.35 468.60 L419.60 468.60 L419.85 468.60 L420.10 468.60 L420.35 468.60 L420.60 468.60 L420.85 468.60 L421.10 468.60 L421.35 468.60 L421.60 468.60 L421.85 468.60 L422.10 468.60 L422.35 468.60 L422.60 468.60 L422.85 468.60 L423.10 468.60 L423.35 468.60 L423.60 468.61 L423.85 468.61 L424.10 468.61 L424.35 468.61 L424.60 468.61 L424.85 468.61 L425.10 468.62 L425.35 468.62 L425.60 468.62 L425.85 468.63 L426.10 468.63 L426.35 468.64 L426.60 468.65 L426.85 468.66 L427.10 468.66 L427.35 468.68 L427.60 468.69 L427.85 468.70 L428.10 468.72 L428.35 468.74 L428.60 468.76 L428.85 468.78 L429.10 468.81 L429.35 468.84 L429.60 468.88 L429.85 468.91 L430.10 468.96 L430.35 469.00 L430.60 469.06 L430.85 469.11 L431.10 469.18 L431.35 469.24 L431.60 469.32 L431.85 469.40 L432.10 469.49 L432.35 469.59 L432.60 469.69 L432.85 469.80 L433.10 469.92 L433.35 470.05 L433.60 470.19 L433.85 470.33 L434.10 470.49 L434.35 470.65 L434.60 470.82 L434.85 471.00 L435.10 471.19 L435.35 471.38 L435.60 471.59 L435.85 471.80 L436.10 472.01 L436.35 472.24 L436.60 472.47 L436.85 472.70 L437.10 472.95 L437.35 473.19 L437.60 473.44 L437.85 473.69 L438.10 473.94 L438.35 474.20 L438.60 474.45 L438.85 474.71 L439.10 474.96 L439.35 475.21 L439.60 475.46 L439.85 475.71 L440.10 475.95 L440.35 476.18 L440.60 476.42 L440.85 476.64 L441.10 476.86 L441.35 477.07 L441.60 477.28 L441.85 477.47 L442.10 477.66 L442.35 477.84 L442.60 478.02 L442.85 478.18 L443.10 478.34 L443.35 478.48 L443.60 478.62 L443.85 478.75 L444.10 478.87 L444.35 478.99 L444.60 479.09 L444.85 479.19 L445.10 479.28 L445.35 479.36 L445.60 479.44 L445.85 479.51 L446.10 479.58 L446.35 479.63 L446.60 479.69 L446.85 479.73 L447.10 479.78 L447.35 479.82 L447.60 479.85 L447.85 479.88 L448.10 479.91 L448.35 479.94 L448.60 479.96 L448.85 479.98 L449.10 479.99 L449.35 480.01 L449.60 480.02 L449.85 480.03 L450.10 480.04" fill="none" stroke="#333" stroke-width="0.6"/>
<path d="M360.60 480.09 L360.85 480.09 L361.10 480.08 L361.35 480.07 L361.60 480.07 L361.85 480.06 L362.10 480.04 L362.35 480.03 L362.60 480.01 L362.85 479.98 L363.10 479.96 L363.35 479.92 L363.60 479.88 L363.85 479.83 L364.10 479.77 L364.35 479.71 L364.60 479.63 L364.85 479.55 L365.10 479.45 L365.35 479.34 L365.60 479.23 L365.85 479.10 L366.10 478.96 L366.35 478.82 L366.60 478.66 L366.85 478.51 L367.10 478.35 L367.35 478.18 L367.60 478.02 L367.85 477.87 L368.10 477.72 L368.35 477.58 L368.60 477.45 L368.85 477.34 L369.10 477.25 L369.35 477.18 L369.60 477.13 L369.85 477.10 L370.10 477.10 L370.35 477.12 L370.60 477.17 L370.85 477.24 L371.10 477.32 L371.35 477.43 L371.60 477.55 L371.85 477.69 L372.10 477.84 L372.35 477.99 L372.60 478.15 L372.85 478.31 L373.10 478.47 L373.35 478.63 L373.60 478.79 L373.85 478.93 L374.10 479.07 L374.35 479.20 L374.60 479.32 L374.85 479.43 L375.10 479.53 L375.35 479.62 L375.60 479.69 L375.85 479.76 L376.10 479.82 L376.35 479.87 L376.60 479.91 L376.85 479.95 L377.10 479.98 L377.35 480.00 L377.60 480.02 L377.85 480.04 L378.10 480.05 L378.35 480.06 L378.60 480.07 L378.85 480.08 L379.10 480.08 L379.35 480.09 L379.60 480.09 L379.85 480.09 L380.10 480.10 L380.35 480.10 L380.60 480.10 L380.85 480.10 L381.10 480.10 V480.1 H360.60Z" fill="#3fb4c4" stroke="#1c6f7a" stroke-width="0.5"/>
<path d="M360.60 480.09 L360.85 480.09 L361.10 480.08 L361.35 480.07 L361.60 480.07 L361.85 480.06 L362.10 480.04 L362.35 480.03 L362.60 480.01 L362.85 479.98 L363.10 479.96 L363.35 479.92 L363.60 479.88 L363.85 479.83 L364.10 479.77 L364.35 479.71 L364.60 479.63 L364.85 479.55 L365.10 479.45 L365.35 479.34 L365.60 479.23 L365.85 479.10 L366.10 478.96 L366.35 478.82 L366.60 478.66 L366.85 478.51 L367.10 478.35 L367.35 478.18 L367.60 478.02 L367.85 477.87 L368.10 477.72 L368.35 477.58 L368.60 477.45 L368.85 477.34 L369.10 477.25 L369.35 477.18 L369.60 477.13 L369.85 477.10 L370.10 477.10 L370.35 477.12 L370.60 477.17 L370.85 477.24 L371.10 477.32 L371.35 477.43 L371.60 477.55 L371.85 477.69 L372.10 477.84 L372.35 477.99 L372.60 478.15 L372.85 478.31 L373.10 478.47 L373.35 478.63 L373.60 478.79 L373.85 478.93 L374.10 479.07 L374.35 479.20 L374.60 479.32 L374.85 479.43 L375.10 479.53 L375.35 479.62 L375.60 479.69 L375.85 479.76 L376.10 479.82 L376.35 479.87 L376.60 479.91 L376.85 479.95 L377.10 479.98 L377.35 480.00 L377.60 480.02 L377.85 480.04 L378.10 480.05 L378.35 480.06 L378.60 480.07 L378.85 480.08 L379.10 480.08 L379.35 480.09 L379.60 480.09 L379.85 480.09 L380.10 480.10 L380.35 480.10 L380.60 480.10 L380.85 480.10 L381.10 480.10 L381.35 480.10 L381.60 480.10 L381.85 480.10 L382.10 480.10 L382.35 480.10 L382.60 480.10 L382.85 480.10 L383.10 480.10 L383.35 480.10 L383.60 480.10 L383.85 480.10 L384.10 480.10 L384.35 480.10 L384.60 480.10 L384.85 480.10 L385.10 480.10 L385.35 480.10 L385.60 480.10 L385.85 480.10 L386.10 480.10 L386.35 480.09 L386.60 480.09 L386.85 480.09 L387.10 480.09 L387.35 480.09 L387.60 480.08 L387.85 480.08 L388.10 480.07 L388.35 480.07 L388.60 480.06 L388.85 480.05 L389.10 480.03 L389.35 480.01 L389.60 479.99 L389.85 479.96 L390.10 479.92 L390.35 479.86 L390.60 479.79 L390.85 479.70 L391.10 479.58 L391.35 479.43 L391.60 479.22 L391.85 478.96 L392.10 478.63 L392.35 478.20 L392.60 477.66 L392.85 476.98 L393.10 476.14 L393.35 475.10 L393.60 473.84 L393.85 472.32 L394.10 470.51 L394.35 468.38 L394.60 465.90 L394.85 463.03 L395.10 459.78 L395.35 456.11 L395.60 452.05 L395.85 447.61 L396.10 442.81 L396.35 437.70 L396.60 432.35 L396.85 426.83 L397.10 421.25 L397.35 415.70 L397.60 410.30 L397.85 405.17 L398.10 400.44 L398.35 396.22 L398.60 392.61 L398.85 389.73 L399.10 387.63 L399.35 386.38 L399.60 386.01 L399.85 386.51 L400.10 387.87 L400.35 390.04 L400.60 392.95 L400.85 396.51 L401.10 400.61 L401.35 405.15 L401.60 410.00 L401.85 415.04 L402.10 420.15 L402.35 425.23 L402.60 430.19 L402.85 434.93 L403.10 439.41 L403.35 443.56 L403.60 447.35 L403.85 450.76 L404.10 453.79 L404.35 456.45 L404.60 458.74 L404.85 460.70 L405.10 462.34 L405.35 463.71 L405.60 464.83 L405.85 465.74 L406.10 466.46 L406.35 467.03 L406.60 467.47 L406.85 467.81 L407.10 468.06 L407.35 468.25 L407.60 468.38 L407.85 468.48 L408.10 468.54 L408.35 468.59 L408.60 468.61 L408.85 468.63 L409.10 468.64 L409.35 468.64 L409.60 468.64 L409.85 468.64 L410.10 468.64 L410.35 468.63 L410.60 468.63 L410.85 468.62 L411.10 468.62 L411.35 468.62 L411.60 468.61 L411.85 468.61 L412.10 468.61 L412.35 468.61 L412.60 468.61 L412.85 468.60 L413.10 468.60 L413.35 468.60 L413.60 468.60 L413.85 468.60 L414.10 468.60 L414.35 468.60 L414.60 468.60 L414.85 468.60 L415.10 468.60 L415.35 468.60 L415.60 468.60 L415.85 468.60 L416.10 468.60 L416.35 468.60 L416.60 468.60 L416.85 468.60 L417.10 468.60 L417.35 468.60 L417.60 468.60 L417.85 468.60 L418.10 468.60 L418.35 468.60 L418.60 468.60 L418.85 468.60 L419.10 468.60 L419.35 468.60 L419.60 468.60 L419.85 468.59 L420.10 468.59 L420.35 468.59 L420.60 468.59 L420.85 468.59 L421.10 468.58 L421.35 468.58 L421.60 468.57 L421.85 468.57 L422.10 468.56 L422.35 468.55 L422.60 468.54 L422.85 468.53 L423.10 468.52 L423.35 468.50 L423.60 468.48 L423.85 468.46 L424.10 468.43 L424.35 468.40 L424.60 468.37 L424.85 468.33 L425.10 468.28 L425.35 468.22 L425.60 468.16 L425.85 468.09 L426.10 468.01 L426.35 467.91 L426.60 467.81 L426.85 467.69 L427.10 467.56 L427.35 467.41 L427.60 467.25 L427.85 467.07 L428.10 466.86 L428.35 466.64 L428.60 466.40 L428.85 466.14 L429.10 465.85 L429.35 465.54 L429.60 465.21 L429.85 464.85 L430.10 464.47 L430.35 464.07 L430.60 463.64 L430.85 463.19 L431.10 462.71 L431.35 462.22 L431.60 461.71 L431.85 461.18 L432.10 460.64 L432.35 460.08 L432.60 459.52 L432.85 458.95 L433.10 458.38 L433.35 457.81 L433.60 457.25 L433.85 456.70 L434.10 456.16 L434.35 455.65 L434.60 455.15 L434.85 454.69 L435.10 454.26 L435.35 453.87 L435.60 453.52 L435.85 453.21 L436.10 452.96 L436.35 452.75 L436.60 452.61 L436.85 452.52 L437.10 452.49 L437.35 452.52 L437.60 452.62 L437.85 452.78 L438.10 453.00 L438.35 453.28 L438.60 453.63 L438.85 454.03 L439.10 454.49 L439.35 455.01 L439.60 455.58 L439.85 456.19 L440.10 456.85 L440.35 457.55 L440.60 458.29 L440.85 459.05 L441.10 459.85 L441.35 460.66 L441.60 461.49 L441.85 462.33 L442.10 463.18 L442.35 464.03 L442.60 464.88 L442.85 465.72 L443.10 466.56 L443.35 467.37 L443.60 468.18 L443.85 468.96 L444.10 469.72 L444.35 470.45 L444.60 471.16 L444.85 471.83 L445.10 472.48 L445.35 473.10 L445.60 473.68 L445.85 474.23 L446.10 474.75 L446.35 475.24 L446.60 475.69 L446.85 476.12 L447.10 476.51 L447.35 476.87 L447.60 477.21 L447.85 477.51 L448.10 477.80 L448.35 478.05 L448.60 478.28 L448.85 478.50 L449.10 478.69 L449.35 478.86 L449.60 479.01 L449.85 479.15 L450.10 479.27 L450.35 479.38 L450.60 479.48 L450.85 479.56 L451.10 479.64 L451.35 479.70 L451.60 479.76 L451.85 479.81 L452.10 479.85 L452.35 479.89 L452.60 479.92 L452.85 479.95 L453.10 479.97 L453.35 479.99 L453.60 480.01 L453.85 480.03 L454.10 480.04 L454.35 480.05 L454.60 480.06 L454.85 480.07 L455.10 480.07 L455.35 480.08 L455.60 480.08 L455.85 480.08 L456.10 480.09 L456.35 480.09 L456.60 480.09 L456.85 480.09 L457.10 480.09 L457.35 480.10 L457.60 480.10 L457.85 480.10 L458.10 480.10 L458.35 480.10 L458.60 480.10 L458.85 480.10 L459.10 480.10 L459.35 480.10 L459.60 480.10 L459.85 480.10 L460.10 480.10 L460.35 480.10 L460.60 480.10 L460.85 480.10 L461.10 480.10 L461.35 480.10 L461.60 480.10 L461.85 480.10 L462.10 480.10 L462.35 480.10 L462.60 480.10 L462.85 480.10 L463.10 480.10 L463.35 480.10 L463.60 480.10 L463.85 480.10 L464.10 480.10 L464.35 480.10 L464.60 480.10 L464.85 480.10 L465.10 480.10 L465.35 480.10 L465.60 480.10 L465.85 480.10 L466.10 480.10 L466.35 480.10 L466.60 480.10 L466.85 480.10 L467.10 480.10 L467.35 480.10 L467.60 480.10 L467.85 480.10 L468.10 480.10 L468.35 480.10 L468.60 480.10 L468.85 480.10 L469.10 480.10 L469.35 480.10 L469.60 480.10 L469.85 480.10 L470.10 480.10 L470.35 480.10 L470.60 480.10 L470.85 480.10 L471.10 480.10 L471.35 480.10 L471.60 480.10 L471.85 480.10 L472.10 480.10 L472.35 480.10 L472.60 480.10 L472.85 480.10 L473.10 480.10 L473.35 480.10 L473.60 480.10 L473.85 480.10 L474.10 480.10 L474.35 480.10 L474.60 480.10 L474.85 480.10 L475.10 480.10 L475.35 480.10 L475.60 480.10 L475.85 480.10 L476.10 480.10 L476.35 480.10 L476.60 480.10 L476.85 480.10 L477.10 480.10 L477.35 480.10" fill="none" stroke="#555" stroke-width="0.6"/>
<path d="M360.60 480.09 L361.30 480.08 L362.00 480.05 L362.70 480.00 L363.40 479.91 L364.10 479.77 L364.80 479.57 L365.50 479.34 L366.20 478.89 L366.90 478.54 L367.60 477.96 L368.30 477.51 L369.00 477.65 L369.70 477.55 L370.40 476.83 L371.10 477.52 L371.80 477.85 L372.50 477.79 L373.20 478.55 L373.90 478.85 L374.60 479.33 L375.30 479.60 L376.00 479.80 L376.70 479.93 L377.40 480.01 L378.10 480.05 L378.80 480.08 L379.50 480.09 L380.20 480.10 L380.90 480.10 L381.60 480.10 L382.30 480.10 L383.00 480.10 L383.70 480.10 L384.40 480.10 L385.10 480.10 L385.80 480.10 L386.50 480.09 L387.20 480.09 L387.90 480.08 L388.60 480.06 L389.30 480.02 L390.00 479.93 L390.70 479.76 L391.40 479.36 L392.10 478.78 L392.80 477.01 L393.50 473.74 L394.20 469.65 L394.90 461.83 L395.60 451.63 L396.30 439.72 L397.00 422.58 L397.70 407.13 L398.40 394.10 L399.10 386.01 L399.80 382.50 L400.50 389.50 L401.20 400.63 L401.90 414.67 L402.60 429.54 L403.30 441.72 L404.00 452.87 L404.70 458.84 L405.40 464.09 L406.10 465.42 L406.80 466.84 L407.50 469.30 L408.20 469.44 L408.90 469.31 L409.60 467.52 L410.30 468.79 L411.00 468.32 L411.70 469.09 L412.40 468.59 L413.10 468.88 L413.80 468.96 L414.50 468.40 L415.20 468.40 L415.90 467.63 L416.60 468.16 L417.30 467.57 L418.00 467.74 L418.70 467.42 L419.40 468.19 L420.10 469.40 L420.80 467.72 L421.50 467.46 L422.20 467.59 L422.90 468.36 L423.60 467.97 L424.30 469.10 L425.00 467.50 L425.70 467.96 L426.40 468.41 L427.10 468.61 L427.80 466.25 L428.50 465.32 L429.20 466.70 L429.90 464.01 L430.60 463.75 L431.30 462.96 L432.00 460.98 L432.70 458.03 L433.40 455.85 L434.10 455.88 L434.80 452.67 L435.50 452.49 L436.20 449.78 L436.90 450.22 L437.60 449.08 L438.30 449.71 L439.00 452.33 L439.70 453.12 L440.40 457.08 L441.10 460.16 L441.80 461.49 L442.50 465.43 L443.20 467.49 L443.90 469.27 L444.60 470.87 L445.30 473.70 L446.00 475.31 L446.70 475.40 L447.40 477.12 L448.10 477.48 L448.80 478.26 L449.50 478.99 L450.20 479.33 L450.90 479.58 L451.60 479.76 L452.30 479.88 L453.00 479.96 L453.70 480.02 L454.40 480.05 L455.10 480.07 L455.80 480.08 L456.50 480.09 L457.20 480.10 L457.90 480.10 L458.60 480.10 L459.30 480.10 L460.00 480.10 L460.70 480.10 L461.40 480.10 L462.10 480.10 L462.80 480.10 L463.50 480.10 L464.20 480.10 L464.90 480.10 L465.60 480.10 L466.30 480.10 L467.00 480.10 L467.70 480.10 L468.40 480.10 L469.10 480.10 L469.80 480.10 L470.50 480.10 L471.20 480.10 L471.90 480.10 L472.60 480.10 L473.30 480.10 L474.00 480.10 L474.70 480.10 L475.40 480.10 L476.10 480.10 L476.80 480.10" fill="none" stroke="#2a2a2a" stroke-width="0.5"/>
<path d="M360.60 378.80V480.10H477.40" fill="none" stroke="#444" stroke-width="0.7"/>
<path d="M360.60 480.10h-1.2M360.60 476.08h-1.2M360.60 472.06h-1.2M360.60 468.04h-1.2M360.60 464.02h-1.2M360.60 460.00h-1.2M360.60 455.98h-1.2M360.60 451.96h-1.2M360.60 447.94h-1.2M360.60 443.92h-1.2M360.60 439.90h-1.2M360.60 435.88h-1.2M360.60 431.86h-1.2M360.60 427.84h-1.2M360.60 423.82h-1.2M360.60 419.80h-1.2M360.60 415.78h-1.2M360.60 411.76h-1.2M360.60 407.74h-1.2M360.60 403.72h-1.2M360.60 399.70h-1.2M360.60 395.68h-1.2M360.60 391.66h-1.2M360.60 387.64h-1.2M360.60 383.62h-1.2M360.60 379.60h-1.2M360.60 480.10v1.8M364.48 480.10v1.0M368.36 480.10v1.0M372.24 480.10v1.0M376.12 480.10v1.0M380.00 480.10v1.0M383.88 480.10v1.8M387.76 480.10v1.0M391.64 480.10v1.0M395.52 480.10v1.0M399.40 480.10v1.0M403.28 480.10v1.0M407.16 480.10v1.8M411.04 480.10v1.0M414.92 480.10v1.0M418.80 480.10v1.0M422.68 480.10v1.0M426.56 480.10v1.0M430.44 480.10v1.8M434.32 480.10v1.0M438.20 480.10v1.0M442.08 480.10v1.0M445.96 480.10v1.0M449.84 480.10v1.0M453.72 480.10v1.8M457.60 480.10v1.0M461.48 480.10v1.0M465.36 480.10v1.0M469.24 480.10v1.0M473.12 480.10v1.0M477.00 480.10v1.8" stroke="#555" stroke-width="0.45" fill="none"/>
<text x="360.60" y="486.40" font-size="3.6" text-anchor="middle" fill="#555">0</text>
<text x="383.88" y="486.40" font-size="3.6" text-anchor="middle" fill="#555">30</text>
<text x="407.16" y="486.40" font-size="3.6" text-anchor="middle" fill="#555">60</text>
<text x="430.44" y="486.40" font-size="3.6" text-anchor="middle" fill="#555">90</text>
<text x="453.72" y="486.40" font-size="3.6" text-anchor="middle" fill="#555">120</text>
<text x="477.00" y="486.40" font-size="3.6" text-anchor="middle" fill="#555">150</text>
<text x="356.40" y="460.00" font-size="3.6" text-anchor="middle" fill="#555" transform="rotate(-90 356.40 460.00)">200</text>
<text x="356.40" y="439.90" font-size="3.6" text-anchor="middle" fill="#555" transform="rotate(-90 356.40 439.90)">400</text>
<text x="356.40" y="419.80" font-size="3.6" text-anchor="middle" fill="#555" transform="rotate(-90 356.40 419.80)">600</text>
<text x="356.40" y="399.70" font-size="3.6" text-anchor="middle" fill="#555" transform="rotate(-90 356.40 399.70)">800</text>
<text x="351.00" y="427.00" font-size="3.6" text-anchor="middle" fill="#555" transform="rotate(-90 351.00 427.00)">Number</text>
<text x="420.00" y="490.40" font-size="3.7" text-anchor="middle" fill="#555">Channels (FL2-A)</text>
<path d="M397.70 484.10L399.50 480.90L401.30 484.10Z" fill="#111"/>
<path d="M435.20 484.10L437.00 480.90L438.80 484.10Z" fill="#111"/>
<rect x="452.50" y="369.90" width="4.4" height="3.3" fill="#3fb4c4" stroke="#555" stroke-width="0.3"/>
<text x="458.10" y="372.80" font-size="3.4" text-anchor="start" fill="#50509a">Apoptosis</text>
<rect x="452.50" y="374.40" width="4.4" height="3.3" fill="#d0101a" stroke="#555" stroke-width="0.3"/>
<text x="458.10" y="377.30" font-size="3.4" text-anchor="start" fill="#50509a">Dip G1</text>
<rect x="452.50" y="378.90" width="4.4" height="3.3" fill="#d0101a" stroke="#555" stroke-width="0.3"/>
<text x="458.10" y="381.80" font-size="3.4" text-anchor="start" fill="#50509a">Dip G2</text>
<rect x="452.50" y="383.40" width="4.4" height="3.3" fill="url(#hatch)" stroke="#555" stroke-width="0.3"/>
<text x="458.10" y="386.30" font-size="3.4" text-anchor="start" fill="#50509a">Dip S</text>
<path d="M108.65 615.45 L108.90 615.44 L109.15 615.43 L109.40 615.42 L109.65 615.40 L109.90 615.38 L110.15 615.36 L110.40 615.34 L110.65 615.32 L110.90 615.29 L111.15 615.25 L111.40 615.21 L111.65 615.17 L111.90 615.12 L112.15 615.07 L112.40 615.01 L112.65 614.94 L112.90 614.87 L113.15 614.78 L113.40 614.69 L113.65 614.59 L113.90 614.47 L114.15 614.35 L114.40 614.22 L114.65 614.07 L114.90 613.91 L115.15 613.74 L115.40 613.55 L115.65 613.35 L115.90 613.14 L116.15 612.91 L116.40 612.67 L116.65 612.41 L116.90 612.14 L117.15 611.85 L117.40 611.54 L117.65 611.22 L117.90 610.89 L118.15 610.54 L118.40 610.18 L118.65 609.80 L118.90 609.41 L119.15 609.01 L119.40 608.60 L119.65 608.18 L119.90 607.75 L120.15 607.32 L120.40 606.87 L120.65 606.43 L120.90 605.98 L121.15 605.52 L121.40 605.07 L121.65 604.61 L121.90 604.16 L122.15 603.71 L122.40 603.27 L122.65 602.83 L122.90 602.40 L123.15 601.98 L123.40 601.57 L123.65 601.17 L123.90 600.77 L124.15 600.40 L124.40 600.03 L124.65 599.68 L124.90 599.34 L125.15 599.02 L125.40 598.71 L125.65 598.42 L125.90 598.14 L126.15 597.88 L126.40 597.64 L126.65 597.40 L126.90 597.19 L127.15 596.98 L127.40 596.80 L127.65 596.62 L127.90 596.46 L128.15 596.31 L128.40 596.17 L128.65 596.05 L128.90 595.94 L129.15 595.83 L129.40 595.74 L129.65 595.65 L129.90 595.57 L130.15 595.50 L130.40 595.44 L130.65 595.39 L130.90 595.34 L131.15 595.29 L131.40 595.25 L131.65 595.22 L131.90 595.19 L132.15 595.16 L132.40 595.14 L132.65 595.12 L132.90 595.10 L133.15 595.09 L133.40 595.07 L133.65 595.06 L133.90 595.05 L134.15 595.04 L134.40 595.04 L134.65 595.03 L134.90 595.03 L135.15 595.02 L135.40 595.02 L135.65 595.02 L135.90 595.01 L136.15 595.01 L136.40 595.01 L136.65 595.01 L136.90 595.01 L137.15 595.01 L137.40 595.01 L137.65 595.01 L137.90 595.01 L138.15 595.01 L138.40 595.01 L138.65 595.01 L138.90 595.01 L139.15 595.01 L139.40 595.01 L139.65 595.01 L139.90 595.01 L140.15 595.01 L140.40 595.01 L140.65 595.02 L140.90 595.02 L141.15 595.02 L141.40 595.02 L141.65 595.03 L141.90 595.03 L142.15 595.03 L142.40 595.04 L142.65 595.04 L142.90 595.05 L143.15 595.06 L143.40 595.06 L143.65 595.07 L143.90 595.08 L144.15 595.09 L144.40 595.10 L144.65 595.11 L144.90 595.12 L145.15 595.14 L145.40 595.15 L145.65 595.17 L145.90 595.19 L146.15 595.21 L146.40 595.23 L146.65 595.26 L146.90 595.29 L147.15 595.31 L147.40 595.35 L147.65 595.38 L147.90 595.42 L148.15 595.46 L148.40 595.50 L148.65 595.55 L148.90 595.60 L149.15 595.65 L149.40 595.71 L149.65 595.77 L149.90 595.84 L150.15 595.91 L150.40 595.99 L150.65 596.07 L150.90 596.16 L151.15 596.25 L151.40 596.35 L151.65 596.45 L151.90 596.56 L152.15 596.68 L152.40 596.80 L152.65 596.93 L152.90 597.07 L153.15 597.21 L153.40 597.36 L153.65 597.52 L153.90 597.68 L154.15 597.85 L154.40 598.03 L154.65 598.21 L154.90 598.41 L155.15 598.61 L155.40 598.82 L155.65 599.03 L155.90 599.25 L156.15 599.48 L156.40 599.72 L156.65 599.96 L156.90 600.21 L157.15 600.47 L157.40 600.73 L157.65 601.00 L157.90 601.27 L158.15 601.55 L158.40 601.83 L158.65 602.12 L158.90 602.42 L159.15 602.71 L159.40 603.01 L159.65 603.32 L159.90 603.63 L160.15 603.93 L160.40 604.25 L160.65 604.56 L160.90 604.87 L161.15 605.19 L161.40 605.50 L161.65 605.82 L161.90 606.13 L162.15 606.44 L162.40 606.75 L162.65 607.06 L162.90 607.36 L163.15 607.67 L163.40 607.97 L163.65 608.26 L163.90 608.55 L164.15 608.84 L164.40 609.12 L164.65 609.40 L164.90 609.67 L165.15 609.93 L165.40 610.19 L165.65 610.44 L165.90 610.69 L166.15 610.93 L166.40 611.16 L166.65 611.38 L166.90 611.60 L167.15 611.81 L167.40 612.01 L167.65 612.21 L167.90 612.40 L168.15 612.58 L168.40 612.75 L168.65 612.92 L168.90 613.08 L169.15 613.23 L169.40 613.38 L169.65 613.52 L169.90 613.65 L170.15 613.77 L170.40 613.89 L170.65 614.00 L170.90 614.11 L171.15 614.21 L171.40 614.30 L171.65 614.39 L171.90 614.48 L172.15 614.56 L172.40 614.63 L172.65 614.70 L172.90 614.76 L173.15 614.82 L173.40 614.88 L173.65 614.93 L173.90 614.98 L174.15 615.03 L174.40 615.07 L174.65 615.11 L174.90 615.14 L175.15 615.17 L175.40 615.20 L175.65 615.23 L175.90 615.26 L176.15 615.28 L176.40 615.30 L176.65 615.32 L176.90 615.34 L177.15 615.36 L177.40 615.37 L177.65 615.38 L177.90 615.40 L178.15 615.41 L178.40 615.42 L178.65 615.43 L178.90 615.43 L179.15 615.44 L179.40 615.45 V615.5 H108.65Z" fill="url(#hatch)" stroke="none"/>
<path d="M109.40 615.47 L109.65 615.46 L109.90 615.44 L110.15 615.42 L110.40 615.40 L110.65 615.36 L110.90 615.31 L111.15 615.25 L111.40 615.17 L111.65 615.07 L111.90 614.94 L112.15 614.77 L112.40 614.56 L112.65 614.31 L112.90 613.99 L113.15 613.60 L113.40 613.12 L113.65 612.55 L113.90 611.86 L114.15 611.05 L114.40 610.09 L114.65 608.97 L114.90 607.67 L115.15 606.18 L115.40 604.48 L115.65 602.57 L115.90 600.42 L116.15 598.04 L116.40 595.43 L116.65 592.58 L116.90 589.51 L117.15 586.23 L117.40 582.77 L117.65 579.15 L117.90 575.41 L118.15 571.59 L118.40 567.74 L118.65 563.92 L118.90 560.17 L119.15 556.56 L119.40 553.15 L119.65 550.00 L119.90 547.16 L120.15 544.70 L120.40 542.65 L120.65 541.07 L120.90 539.97 L121.15 539.40 L121.40 539.34 L121.65 539.82 L121.90 540.81 L122.15 542.30 L122.40 544.25 L122.65 546.64 L122.90 549.40 L123.15 552.49 L123.40 555.86 L123.65 559.43 L123.90 563.16 L124.15 566.97 L124.40 570.82 L124.65 574.65 L124.90 578.41 L125.15 582.06 L125.40 585.55 L125.65 588.87 L125.90 591.98 L126.15 594.87 L126.40 597.54 L126.65 599.96 L126.90 602.16 L127.15 604.12 L127.40 605.86 L127.65 607.39 L127.90 608.72 L128.15 609.88 L128.40 610.87 L128.65 611.71 L128.90 612.42 L129.15 613.02 L129.40 613.51 L129.65 613.92 L129.90 614.25 L130.15 614.52 L130.40 614.73 L130.65 614.91 L130.90 615.04 L131.15 615.15 L131.40 615.24 L131.65 615.30 L131.90 615.35 L132.15 615.39 L132.40 615.42 L132.65 615.44 L132.90 615.46 L133.15 615.47 V615.5 H109.40Z" fill="#e0121c" stroke="#5a0000" stroke-width="0.6"/>
<path d="M141.40 615.50 L141.65 615.49 L141.90 615.49 L142.15 615.49 L142.40 615.49 L142.65 615.49 L142.90 615.48 L143.15 615.48 L143.40 615.48 L143.65 615.47 L143.90 615.47 L144.15 615.46 L144.40 615.46 L144.65 615.45 L144.90 615.44 L145.15 615.43 L145.40 615.41 L145.65 615.40 L145.90 615.38 L146.15 615.36 L146.40 615.34 L146.65 615.32 L146.90 615.29 L147.15 615.25 L147.40 615.22 L147.65 615.18 L147.90 615.13 L148.15 615.08 L148.40 615.02 L148.65 614.96 L148.90 614.88 L149.15 614.80 L149.40 614.72 L149.65 614.62 L149.90 614.51 L150.15 614.40 L150.40 614.27 L150.65 614.13 L150.90 613.98 L151.15 613.82 L151.40 613.64 L151.65 613.45 L151.90 613.25 L152.15 613.03 L152.40 612.80 L152.65 612.56 L152.90 612.30 L153.15 612.03 L153.40 611.74 L153.65 611.44 L153.90 611.13 L154.15 610.80 L154.40 610.46 L154.65 610.12 L154.90 609.76 L155.15 609.39 L155.40 609.02 L155.65 608.64 L155.90 608.26 L156.15 607.87 L156.40 607.49 L156.65 607.11 L156.90 606.73 L157.15 606.35 L157.40 605.99 L157.65 605.63 L157.90 605.29 L158.15 604.96 L158.40 604.64 L158.65 604.35 L158.90 604.08 L159.15 603.82 L159.40 603.60 L159.65 603.40 L159.90 603.22 L160.15 603.08 L160.40 602.96 L160.65 602.88 L160.90 602.82 L161.15 602.80 L161.40 602.81 L161.65 602.85 L161.90 602.92 L162.15 603.03 L162.40 603.16 L162.65 603.32 L162.90 603.51 L163.15 603.73 L163.40 603.97 L163.65 604.24 L163.90 604.52 L164.15 604.83 L164.40 605.15 L164.65 605.49 L164.90 605.84 L165.15 606.20 L165.40 606.58 L165.65 606.95 L165.90 607.34 L166.15 607.72 L166.40 608.11 L166.65 608.49 L166.90 608.87 L167.15 609.24 L167.40 609.61 L167.65 609.97 L167.90 610.33 L168.15 610.67 L168.40 611.00 L168.65 611.31 L168.90 611.62 L169.15 611.91 L169.40 612.19 L169.65 612.45 L169.90 612.71 L170.15 612.94 L170.40 613.16 L170.65 613.37 L170.90 613.57 L171.15 613.75 L171.40 613.91 L171.65 614.07 L171.90 614.21 L172.15 614.35 L172.40 614.47 L172.65 614.58 L172.90 614.68 L173.15 614.77 L173.40 614.85 L173.65 614.93 L173.90 615.00 L174.15 615.06 L174.40 615.11 L174.65 615.16 L174.90 615.20 L175.15 615.24 L175.40 615.27 L175.65 615.30 L175.90 615.33 L176.15 615.35 L176.40 615.37 L176.65 615.39 L176.90 615.41 L177.15 615.42 L177.40 615.43 L177.65 615.44 L177.90 615.45 L178.15 615.46 L178.40 615.47 L178.65 615.47 L178.90 615.48 L179.15 615.48 L179.40 615.48 L179.65 615.49 L179.90 615.49 L180.15 615.49 L180.40 615.49 L180.65 615.49 L180.90 615.49 L181.15 615.50 V615.5 H141.40Z" fill="#e0121c" stroke="#5a0000" stroke-width="0.6"/>
<path d="M108.65 615.45 L108.90 615.44 L109.15 615.43 L109.40 615.42 L109.65 615.40 L109.90 615.38 L110.15 615.36 L110.40 615.34 L110.65 615.32 L110.90 615.29 L111.15 615.25 L111.40 615.21 L111.65 615.17 L111.90 615.12 L112.15 615.07 L112.40 615.01 L112.65 614.94 L112.90 614.87 L113.15 614.78 L113.40 614.69 L113.65 614.59 L113.90 614.47 L114.15 614.35 L114.40 614.22 L114.65 614.07 L114.90 613.91 L115.15 613.74 L115.40 613.55 L115.65 613.35 L115.90 613.14 L116.15 612.91 L116.40 612.67 L116.65 612.41 L116.90 612.14 L117.15 611.85 L117.40 611.54 L117.65 611.22 L117.90 610.89 L118.15 610.54 L118.40 610.18 L118.65 609.80 L118.90 609.41 L119.15 609.01 L119.40 608.60 L119.65 608.18 L119.90 607.75 L120.15 607.32 L120.40 606.87 L120.65 606.43 L120.90 605.98 L121.15 605.52 L121.40 605.07 L121.65 604.61 L121.90 604.16 L122.15 603.71 L122.40 603.27 L122.65 602.83 L122.90 602.40 L123.15 601.98 L123.40 601.57 L123.65 601.17 L123.90 600.77 L124.15 600.40 L124.40 600.03 L124.65 599.68 L124.90 599.34 L125.15 599.02 L125.40 598.71 L125.65 598.42 L125.90 598.14 L126.15 597.88 L126.40 597.64 L126.65 597.40 L126.90 597.19 L127.15 596.98 L127.40 596.80 L127.65 596.62 L127.90 596.46 L128.15 596.31 L128.40 596.17 L128.65 596.05 L128.90 595.94 L129.15 595.83 L129.40 595.74 L129.65 595.65 L129.90 595.57 L130.15 595.50 L130.40 595.44 L130.65 595.39 L130.90 595.34 L131.15 595.29 L131.40 595.25 L131.65 595.22 L131.90 595.19 L132.15 595.16 L132.40 595.14 L132.65 595.12 L132.90 595.10 L133.15 595.09 L133.40 595.07 L133.65 595.06 L133.90 595.05 L134.15 595.04 L134.40 595.04 L134.65 595.03 L134.90 595.03 L135.15 595.02 L135.40 595.02 L135.65 595.02 L135.90 595.01 L136.15 595.01 L136.40 595.01 L136.65 595.01 L136.90 595.01 L137.15 595.01 L137.40 595.01 L137.65 595.01 L137.90 595.01 L138.15 595.01 L138.40 595.01 L138.65 595.01 L138.90 595.01 L139.15 595.01 L139.40 595.01 L139.65 595.01 L139.90 595.01 L140.15 595.01 L140.40 595.01 L140.65 595.02 L140.90 595.02 L141.15 595.02 L141.40 595.02 L141.65 595.03 L141.90 595.03 L142.15 595.03 L142.40 595.04 L142.65 595.04 L142.90 595.05 L143.15 595.06 L143.40 595.06 L143.65 595.07 L143.90 595.08 L144.15 595.09 L144.40 595.10 L144.65 595.11 L144.90 595.12 L145.15 595.14 L145.40 595.15 L145.65 595.17 L145.90 595.19 L146.15 595.21 L146.40 595.23 L146.65 595.26 L146.90 595.29 L147.15 595.31 L147.40 595.35 L147.65 595.38 L147.90 595.42 L148.15 595.46 L148.40 595.50 L148.65 595.55 L148.90 595.60 L149.15 595.65 L149.40 595.71 L149.65 595.77 L149.90 595.84 L150.15 595.91 L150.40 595.99 L150.65 596.07 L150.90 596.16 L151.15 596.25 L151.40 596.35 L151.65 596.45 L151.90 596.56 L152.15 596.68 L152.40 596.80 L152.65 596.93 L152.90 597.07 L153.15 597.21 L153.40 597.36 L153.65 597.52 L153.90 597.68 L154.15 597.85 L154.40 598.03 L154.65 598.21 L154.90 598.41 L155.15 598.61 L155.40 598.82 L155.65 599.03 L155.90 599.25 L156.15 599.48 L156.40 599.72 L156.65 599.96 L156.90 600.21 L157.15 600.47 L157.40 600.73 L157.65 601.00 L157.90 601.27 L158.15 601.55 L158.40 601.83 L158.65 602.12 L158.90 602.42 L159.15 602.71 L159.40 603.01 L159.65 603.32 L159.90 603.63 L160.15 603.93 L160.40 604.25 L160.65 604.56 L160.90 604.87 L161.15 605.19 L161.40 605.50 L161.65 605.82 L161.90 606.13 L162.15 606.44 L162.40 606.75 L162.65 607.06 L162.90 607.36 L163.15 607.67 L163.40 607.97 L163.65 608.26 L163.90 608.55 L164.15 608.84 L164.40 609.12 L164.65 609.40 L164.90 609.67 L165.15 609.93 L165.40 610.19 L165.65 610.44 L165.90 610.69 L166.15 610.93 L166.40 611.16 L166.65 611.38 L166.90 611.60 L167.15 611.81 L167.40 612.01 L167.65 612.21 L167.90 612.40 L168.15 612.58 L168.40 612.75 L168.65 612.92 L168.90 613.08 L169.15 613.23 L169.40 613.38 L169.65 613.52 L169.90 613.65 L170.15 613.77 L170.40 613.89 L170.65 614.00 L170.90 614.11 L171.15 614.21 L171.40 614.30 L171.65 614.39 L171.90 614.48 L172.15 614.56 L172.40 614.63 L172.65 614.70 L172.90 614.76 L173.15 614.82 L173.40 614.88 L173.65 614.93 L173.90 614.98 L174.15 615.03 L174.40 615.07 L174.65 615.11 L174.90 615.14 L175.15 615.17 L175.40 615.20 L175.65 615.23 L175.90 615.26 L176.15 615.28 L176.40 615.30 L176.65 615.32 L176.90 615.34 L177.15 615.36 L177.40 615.37 L177.65 615.38 L177.90 615.40 L178.15 615.41 L178.40 615.42 L178.65 615.43 L178.90 615.43 L179.15 615.44 L179.40 615.45" fill="none" stroke="#333" stroke-width="0.6"/>
<path d="M81.90 615.50 L82.15 615.50 L82.40 615.50 L82.65 615.49 L82.90 615.49 L83.15 615.49 L83.40 615.49 L83.65 615.48 L83.90 615.48 L84.15 615.47 L84.40 615.47 L84.65 615.46 L84.90 615.45 L85.15 615.44 L85.40 615.43 L85.65 615.41 L85.90 615.40 L86.15 615.38 L86.40 615.36 L86.65 615.34 L86.90 615.31 L87.15 615.28 L87.40 615.25 L87.65 615.22 L87.90 615.19 L88.15 615.15 L88.40 615.11 L88.65 615.07 L88.90 615.03 L89.15 614.99 L89.40 614.95 L89.65 614.91 L89.90 614.87 L90.15 614.84 L90.40 614.81 L90.65 614.78 L90.90 614.75 L91.15 614.73 L91.40 614.72 L91.65 614.71 L91.90 614.70 L92.15 614.70 L92.40 614.71 L92.65 614.72 L92.90 614.74 L93.15 614.76 L93.40 614.78 L93.65 614.81 L93.90 614.85 L94.15 614.88 L94.40 614.92 L94.65 614.96 L94.90 615.00 L95.15 615.04 L95.40 615.08 L95.65 615.12 L95.90 615.16 L96.15 615.19 L96.40 615.23 L96.65 615.26 L96.90 615.29 L97.15 615.32 L97.40 615.34 L97.65 615.36 L97.90 615.38 L98.15 615.40 L98.40 615.42 L98.65 615.43 L98.90 615.44 L99.15 615.45 L99.40 615.46 L99.65 615.47 L99.90 615.48 L100.15 615.48 L100.40 615.48 L100.65 615.49 L100.90 615.49 L101.15 615.49 L101.40 615.49 L101.65 615.50 L101.90 615.50 L102.15 615.50 L102.40 615.50 L102.65 615.50 L102.90 615.50 L103.15 615.50 L103.40 615.50 L103.65 615.50 L103.90 615.50 V615.5 H81.90Z" fill="#3fb4c4" stroke="#1c6f7a" stroke-width="0.5"/>
<path d="M81.90 615.50 L82.15 615.50 L82.40 615.50 L82.65 615.49 L82.90 615.49 L83.15 615.49 L83.40 615.49 L83.65 615.48 L83.90 615.48 L84.15 615.47 L84.40 615.47 L84.65 615.46 L84.90 615.45 L85.15 615.44 L85.40 615.43 L85.65 615.41 L85.90 615.40 L86.15 615.38 L86.40 615.36 L86.65 615.34 L86.90 615.31 L87.15 615.28 L87.40 615.25 L87.65 615.22 L87.90 615.19 L88.15 615.15 L88.40 615.11 L88.65 615.07 L88.90 615.03 L89.15 614.99 L89.40 614.95 L89.65 614.91 L89.90 614.87 L90.15 614.84 L90.40 614.81 L90.65 614.78 L90.90 614.75 L91.15 614.73 L91.40 614.72 L91.65 614.71 L91.90 614.70 L92.15 614.70 L92.40 614.71 L92.65 614.72 L92.90 614.74 L93.15 614.76 L93.40 614.78 L93.65 614.81 L93.90 614.85 L94.15 614.88 L94.40 614.92 L94.65 614.96 L94.90 615.00 L95.15 615.04 L95.40 615.08 L95.65 615.12 L95.90 615.16 L96.15 615.19 L96.40 615.23 L96.65 615.26 L96.90 615.29 L97.15 615.32 L97.40 615.34 L97.65 615.36 L97.90 615.38 L98.15 615.40 L98.40 615.42 L98.65 615.43 L98.90 615.44 L99.15 615.45 L99.40 615.46 L99.65 615.47 L99.90 615.48 L100.15 615.48 L100.40 615.48 L100.65 615.49 L100.90 615.49 L101.15 615.49 L101.40 615.49 L101.65 615.50 L101.90 615.50 L102.15 615.50 L102.40 615.50 L102.65 615.50 L102.90 615.50 L103.15 615.50 L103.40 615.50 L103.65 615.50 L103.90 615.50 L104.15 615.50 L104.40 615.50 L104.65 615.50 L104.90 615.50 L105.15 615.50 L105.40 615.50 L105.65 615.49 L105.90 615.49 L106.15 615.49 L106.40 615.49 L106.65 615.49 L106.90 615.49 L107.15 615.48 L107.40 615.48 L107.65 615.47 L107.90 615.47 L108.15 615.46 L108.40 615.45 L108.65 615.44 L108.90 615.43 L109.15 615.41 L109.40 615.39 L109.65 615.36 L109.90 615.33 L110.15 615.29 L110.40 615.24 L110.65 615.18 L110.90 615.10 L111.15 615.00 L111.40 614.88 L111.65 614.74 L111.90 614.56 L112.15 614.33 L112.40 614.06 L112.65 613.73 L112.90 613.33 L113.15 612.85 L113.40 612.27 L113.65 611.58 L113.90 610.77 L114.15 609.81 L114.40 608.68 L114.65 607.38 L114.90 605.88 L115.15 604.16 L115.40 602.21 L115.65 600.02 L115.90 597.56 L116.15 594.84 L116.40 591.86 L116.65 588.61 L116.90 585.10 L117.15 581.35 L117.40 577.39 L117.65 573.24 L117.90 568.94 L118.15 564.54 L118.40 560.09 L118.65 555.65 L118.90 551.27 L119.15 547.03 L119.40 542.99 L119.65 539.22 L119.90 535.78 L120.15 532.74 L120.40 530.14 L120.65 528.03 L120.90 526.45 L121.15 525.42 L121.40 524.95 L121.65 525.05 L121.90 525.70 L122.15 526.88 L122.40 528.55 L122.65 530.67 L122.90 533.19 L123.15 536.04 L123.40 539.16 L123.65 542.48 L123.90 545.92 L124.15 549.42 L124.40 552.91 L124.65 556.31 L124.90 559.57 L125.15 562.63 L125.40 565.44 L125.65 567.96 L125.90 570.16 L126.15 572.02 L126.40 573.52 L126.65 574.65 L126.90 575.44 L127.15 575.90 L127.40 576.06 L127.65 575.96 L127.90 575.65 L128.15 575.18 L128.40 574.61 L128.65 574.00 L128.90 573.41 L129.15 572.91 L129.40 572.54 L129.65 572.33 L129.90 572.34 L130.15 572.57 L130.40 573.03 L130.65 573.73 L130.90 574.65 L131.15 575.75 L131.40 577.02 L131.65 578.41 L131.90 579.89 L132.15 581.41 L132.40 582.92 L132.65 584.41 L132.90 585.83 L133.15 587.16 L133.40 588.39 L133.65 589.49 L133.90 590.47 L134.15 591.32 L134.40 592.05 L134.65 592.67 L134.90 593.18 L135.15 593.60 L135.40 593.94 L135.65 594.20 L135.90 594.41 L136.15 594.57 L136.40 594.69 L136.65 594.78 L136.90 594.85 L137.15 594.89 L137.40 594.93 L137.65 594.95 L137.90 594.97 L138.15 594.98 L138.40 594.99 L138.65 595.00 L138.90 595.00 L139.15 595.00 L139.40 595.00 L139.65 595.01 L139.90 595.01 L140.15 595.01 L140.40 595.01 L140.65 595.01 L140.90 595.01 L141.15 595.01 L141.40 595.01 L141.65 595.01 L141.90 595.01 L142.15 595.01 L142.40 595.01 L142.65 595.01 L142.90 595.01 L143.15 595.00 L143.40 595.00 L143.65 594.99 L143.90 594.99 L144.15 594.98 L144.40 594.97 L144.65 594.95 L144.90 594.93 L145.15 594.91 L145.40 594.89 L145.65 594.86 L145.90 594.83 L146.15 594.78 L146.40 594.74 L146.65 594.68 L146.90 594.62 L147.15 594.55 L147.40 594.47 L147.65 594.38 L147.90 594.28 L148.15 594.16 L148.40 594.04 L148.65 593.90 L148.90 593.74 L149.15 593.57 L149.40 593.39 L149.65 593.19 L149.90 592.98 L150.15 592.75 L150.40 592.51 L150.65 592.25 L150.90 591.98 L151.15 591.69 L151.40 591.39 L151.65 591.08 L151.90 590.76 L152.15 590.44 L152.40 590.10 L152.65 589.76 L152.90 589.42 L153.15 589.08 L153.40 588.74 L153.65 588.41 L153.90 588.08 L154.15 587.76 L154.40 587.45 L154.65 587.16 L154.90 586.89 L155.15 586.63 L155.40 586.40 L155.65 586.19 L155.90 586.01 L156.15 585.86 L156.40 585.74 L156.65 585.64 L156.90 585.59 L157.15 585.56 L157.40 585.57 L157.65 585.61 L157.90 585.70 L158.15 585.81 L158.40 585.96 L158.65 586.15 L158.90 586.38 L159.15 586.64 L159.40 586.93 L159.65 587.26 L159.90 587.62 L160.15 588.01 L160.40 588.43 L160.65 588.88 L160.90 589.36 L161.15 589.87 L161.40 590.40 L161.65 590.95 L161.90 591.53 L162.15 592.13 L162.40 592.74 L162.65 593.38 L162.90 594.02 L163.15 594.68 L163.40 595.35 L163.65 596.03 L163.90 596.72 L164.15 597.41 L164.40 598.11 L164.65 598.81 L164.90 599.50 L165.15 600.20 L165.40 600.88 L165.65 601.57 L165.90 602.24 L166.15 602.91 L166.40 603.56 L166.65 604.20 L166.90 604.82 L167.15 605.43 L167.40 606.02 L167.65 606.60 L167.90 607.15 L168.15 607.69 L168.40 608.20 L168.65 608.69 L168.90 609.17 L169.15 609.62 L169.40 610.05 L169.65 610.45 L169.90 610.84 L170.15 611.20 L170.40 611.55 L170.65 611.87 L170.90 612.17 L171.15 612.45 L171.40 612.72 L171.65 612.96 L171.90 613.19 L172.15 613.40 L172.40 613.60 L172.65 613.78 L172.90 613.94 L173.15 614.09 L173.40 614.23 L173.65 614.36 L173.90 614.48 L174.15 614.58 L174.40 614.68 L174.65 614.76 L174.90 614.84 L175.15 614.91 L175.40 614.98 L175.65 615.04 L175.90 615.09 L176.15 615.13 L176.40 615.18 L176.65 615.21 L176.90 615.25 L177.15 615.28 L177.40 615.30 L177.65 615.33 L177.90 615.35 L178.15 615.37 L178.40 615.38 L178.65 615.40 L178.90 615.41 L179.15 615.42 L179.40 615.43 L179.65 615.44 L179.90 615.45 L180.15 615.45 L180.40 615.46 L180.65 615.47 L180.90 615.47 L181.15 615.47 L181.40 615.48 L181.65 615.48 L181.90 615.48 L182.15 615.49 L182.40 615.49 L182.65 615.49 L182.90 615.49 L183.15 615.49 L183.40 615.49 L183.65 615.49 L183.90 615.49 L184.15 615.50 L184.40 615.50 L184.65 615.50 L184.90 615.50 L185.15 615.50 L185.40 615.50 L185.65 615.50 L185.90 615.50 L186.15 615.50 L186.40 615.50 L186.65 615.50 L186.90 615.50 L187.15 615.50 L187.40 615.50 L187.65 615.50 L187.90 615.50 L188.15 615.50 L188.40 615.50 L188.65 615.50 L188.90 615.50 L189.15 615.50 L189.40 615.50 L189.65 615.50 L189.90 615.50 L190.15 615.50 L190.40 615.50 L190.65 615.50 L190.90 615.50 L191.15 615.50 L191.40 615.50 L191.65 615.50 L191.90 615.50 L192.15 615.50 L192.40 615.50 L192.65 615.50 L192.90 615.50 L193.15 615.50 L193.40 615.50 L193.65 615.50 L193.90 615.50 L194.15 615.50 L194.40 615.50 L194.65 615.50 L194.90 615.50 L195.15 615.50 L195.40 615.50 L195.65 615.50 L195.90 615.50 L196.15 615.50 L196.40 615.50 L196.65 615.50 L196.90 615.50 L197.15 615.50 L197.40 615.50 L197.65 615.50 L197.90 615.50 L198.15 615.50 L198.40 615.50 L198.65 615.50 L198.90 615.50 L199.15 615.50 L199.40 615.50 L199.65 615.50 L199.90 615.50 L200.15 615.50 L200.40 615.50 L200.65 615.50 L200.90 615.50 L201.15 615.50" fill="none" stroke="#555" stroke-width="0.6"/>
<path d="M81.90 615.50 L82.60 615.49 L83.30 615.49 L84.00 615.48 L84.70 615.46 L85.40 615.43 L86.10 615.38 L86.80 615.32 L87.50 615.24 L88.20 615.14 L88.90 615.03 L89.60 614.92 L90.30 614.87 L91.00 614.83 L91.70 614.73 L92.40 614.79 L93.10 614.85 L93.80 614.85 L94.50 614.93 L95.20 615.05 L95.90 615.16 L96.60 615.25 L97.30 615.33 L98.00 615.39 L98.70 615.43 L99.40 615.46 L100.10 615.48 L100.80 615.49 L101.50 615.49 L102.20 615.50 L102.90 615.50 L103.60 615.50 L104.30 615.50 L105.00 615.50 L105.70 615.49 L106.40 615.49 L107.10 615.48 L107.80 615.47 L108.50 615.45 L109.20 615.40 L109.90 615.33 L110.60 615.19 L111.30 614.93 L112.00 614.34 L112.70 613.49 L113.40 612.01 L114.10 610.47 L114.80 606.42 L115.50 601.90 L116.20 595.05 L116.90 585.98 L117.60 574.26 L118.30 558.38 L119.00 541.46 L119.70 524.53 L120.40 514.72 L121.10 516.31 L121.80 521.66 L122.50 527.98 L123.20 535.92 L123.90 545.05 L124.60 554.73 L125.30 565.34 L126.00 570.69 L126.70 574.42 L127.40 575.97 L128.10 575.61 L128.80 572.08 L129.50 569.79 L130.20 566.62 L130.90 569.59 L131.60 575.87 L132.30 582.12 L133.00 585.26 L133.70 589.51 L134.40 591.14 L135.10 592.69 L135.80 594.31 L136.50 594.94 L137.20 594.66 L137.90 595.14 L138.60 595.81 L139.30 595.47 L140.00 594.26 L140.70 596.11 L141.40 596.10 L142.10 594.71 L142.80 595.53 L143.50 594.91 L144.20 595.04 L144.90 595.31 L145.60 593.67 L146.30 595.49 L147.00 594.80 L147.70 595.07 L148.40 593.72 L149.10 594.14 L149.80 593.41 L150.50 591.80 L151.20 592.04 L151.90 590.56 L152.60 588.72 L153.30 589.56 L154.00 588.51 L154.70 586.97 L155.40 584.66 L156.10 584.23 L156.80 584.70 L157.50 584.48 L158.20 585.27 L158.90 585.39 L159.60 587.46 L160.30 587.14 L161.00 588.05 L161.70 589.40 L162.40 591.51 L163.10 592.61 L163.80 596.56 L164.50 597.59 L165.20 597.63 L165.90 599.68 L166.60 602.05 L167.30 602.15 L168.00 604.17 L168.70 604.81 L169.40 607.05 L170.10 608.15 L170.80 608.28 L171.50 609.56 L172.20 609.64 L172.90 609.21 L173.60 610.73 L174.30 611.60 L175.00 611.90 L175.70 612.05 L176.40 611.63 L177.10 612.24 L177.80 612.38 L178.50 612.56 L179.20 611.57 L179.90 612.03 L180.60 612.18 L181.30 612.33 L182.00 612.42 L182.70 612.50 L183.40 612.35 L184.10 613.20 L184.80 613.69 L185.50 613.88 L186.20 614.39 L186.90 614.54 L187.60 614.94 L188.30 615.15 L189.00 615.29 L189.70 615.38 L190.40 615.44 L191.10 615.47 L191.80 615.48 L192.50 615.49 L193.20 615.50 L193.90 615.50 L194.60 615.50 L195.30 615.50 L196.00 615.50 L196.70 615.50 L197.40 615.50 L198.10 615.50 L198.80 615.50 L199.50 615.50 L200.20 615.50 L200.90 615.50" fill="none" stroke="#2a2a2a" stroke-width="0.5"/>
<path d="M81.90 511.90V615.50H201.20" fill="none" stroke="#444" stroke-width="0.7"/>
<path d="M81.90 615.50h-1.2M81.90 612.54h-1.2M81.90 609.58h-1.2M81.90 606.62h-1.2M81.90 603.66h-1.2M81.90 600.70h-1.2M81.90 597.74h-1.2M81.90 594.78h-1.2M81.90 591.82h-1.2M81.90 588.86h-1.2M81.90 585.90h-1.2M81.90 582.94h-1.2M81.90 579.98h-1.2M81.90 577.02h-1.2M81.90 574.06h-1.2M81.90 571.10h-1.2M81.90 568.14h-1.2M81.90 565.18h-1.2M81.90 562.22h-1.2M81.90 559.26h-1.2M81.90 556.30h-1.2M81.90 553.34h-1.2M81.90 550.38h-1.2M81.90 547.42h-1.2M81.90 544.46h-1.2M81.90 541.50h-1.2M81.90 538.54h-1.2M81.90 535.58h-1.2M81.90 532.62h-1.2M81.90 529.66h-1.2M81.90 526.70h-1.2M81.90 523.74h-1.2M81.90 520.78h-1.2M81.90 517.82h-1.2M81.90 514.86h-1.2M81.90 615.50v1.8M85.85 615.50v1.0M89.80 615.50v1.0M93.75 615.50v1.0M97.70 615.50v1.0M101.65 615.50v1.0M105.60 615.50v1.8M109.55 615.50v1.0M113.50 615.50v1.0M117.45 615.50v1.0M121.40 615.50v1.0M125.35 615.50v1.0M129.30 615.50v1.8M133.25 615.50v1.0M137.20 615.50v1.0M141.15 615.50v1.0M145.10 615.50v1.0M149.05 615.50v1.0M153.00 615.50v1.8M156.95 615.50v1.0M160.90 615.50v1.0M164.85 615.50v1.0M168.80 615.50v1.0M172.75 615.50v1.0M176.70 615.50v1.8M180.65 615.50v1.0M184.60 615.50v1.0M188.55 615.50v1.0M192.50 615.50v1.0M196.45 615.50v1.0M200.40 615.50v1.8" stroke="#555" stroke-width="0.45" fill="none"/>
<text x="81.90" y="621.80" font-size="3.6" text-anchor="middle" fill="#555">0</text>
<text x="105.60" y="621.80" font-size="3.6" text-anchor="middle" fill="#555">30</text>
<text x="129.30" y="621.80" font-size="3.6" text-anchor="middle" fill="#555">60</text>
<text x="153.00" y="621.80" font-size="3.6" text-anchor="middle" fill="#555">90</text>
<text x="176.70" y="621.80" font-size="3.6" text-anchor="middle" fill="#555">120</text>
<text x="200.40" y="621.80" font-size="3.6" text-anchor="middle" fill="#555">150</text>
<text x="77.70" y="600.70" font-size="3.6" text-anchor="middle" fill="#555" transform="rotate(-90 77.70 600.70)">100</text>
<text x="77.70" y="585.90" font-size="3.6" text-anchor="middle" fill="#555" transform="rotate(-90 77.70 585.90)">200</text>
<text x="77.70" y="571.10" font-size="3.6" text-anchor="middle" fill="#555" transform="rotate(-90 77.70 571.10)">300</text>
<text x="77.70" y="556.30" font-size="3.6" text-anchor="middle" fill="#555" transform="rotate(-90 77.70 556.30)">400</text>
<text x="77.70" y="541.50" font-size="3.6" text-anchor="middle" fill="#555" transform="rotate(-90 77.70 541.50)">500</text>
<text x="77.70" y="526.70" font-size="3.6" text-anchor="middle" fill="#555" transform="rotate(-90 77.70 526.70)">600</text>
<text x="72.30" y="566.00" font-size="3.6" text-anchor="middle" fill="#555" transform="rotate(-90 72.30 566.00)">Number</text>
<text x="142.55" y="625.80" font-size="3.7" text-anchor="middle" fill="#555">Channels (FL2-A)</text>
<path d="M119.10 619.50L120.90 616.30L122.70 619.50Z" fill="#111"/>
<rect x="176.00" y="503.50" width="4.4" height="3.3" fill="#3fb4c4" stroke="#555" stroke-width="0.3"/>
<text x="181.60" y="506.40" font-size="3.4" text-anchor="start" fill="#50509a">Apoptosis</text>
<rect x="176.00" y="508.00" width="4.4" height="3.3" fill="#d0101a" stroke="#555" stroke-width="0.3"/>
<text x="181.60" y="510.90" font-size="3.4" text-anchor="start" fill="#50509a">Dip G1</text>
<rect x="176.00" y="512.50" width="4.4" height="3.3" fill="#d0101a" stroke="#555" stroke-width="0.3"/>
<text x="181.60" y="515.40" font-size="3.4" text-anchor="start" fill="#50509a">Dip G2</text>
<rect x="176.00" y="517.00" width="4.4" height="3.3" fill="url(#hatch)" stroke="#555" stroke-width="0.3"/>
<text x="181.60" y="519.90" font-size="3.4" text-anchor="start" fill="#50509a">Dip S</text>
<path d="M251.95 615.95 L252.20 615.94 L252.45 615.93 L252.70 615.91 L252.95 615.90 L253.20 615.88 L253.45 615.87 L253.70 615.85 L253.95 615.82 L254.20 615.80 L254.45 615.77 L254.70 615.74 L254.95 615.70 L255.20 615.66 L255.45 615.62 L255.70 615.57 L255.95 615.51 L256.20 615.45 L256.45 615.38 L256.70 615.31 L256.95 615.23 L257.20 615.14 L257.45 615.04 L257.70 614.93 L257.95 614.82 L258.20 614.69 L258.45 614.56 L258.70 614.41 L258.95 614.26 L259.20 614.09 L259.45 613.91 L259.70 613.72 L259.95 613.51 L260.20 613.29 L260.45 613.06 L260.70 612.82 L260.95 612.56 L261.20 612.29 L261.45 612.01 L261.70 611.71 L261.95 611.40 L262.20 611.08 L262.45 610.75 L262.70 610.40 L262.95 610.04 L263.20 609.67 L263.45 609.29 L263.70 608.90 L263.95 608.50 L264.20 608.09 L264.45 607.68 L264.70 607.26 L264.95 606.83 L265.20 606.40 L265.45 605.96 L265.70 605.53 L265.95 605.09 L266.20 604.65 L266.45 604.21 L266.70 603.78 L266.95 603.34 L267.20 602.91 L267.45 602.49 L267.70 602.07 L267.95 601.66 L268.20 601.26 L268.45 600.87 L268.70 600.48 L268.95 600.11 L269.20 599.74 L269.45 599.39 L269.70 599.05 L269.95 598.72 L270.20 598.41 L270.45 598.11 L270.70 597.82 L270.95 597.54 L271.20 597.28 L271.45 597.03 L271.70 596.80 L271.95 596.57 L272.20 596.36 L272.45 596.17 L272.70 595.98 L272.95 595.81 L273.20 595.65 L273.45 595.50 L273.70 595.36 L273.95 595.23 L274.20 595.11 L274.45 595.00 L274.70 594.90 L274.95 594.81 L275.20 594.72 L275.45 594.65 L275.70 594.58 L275.95 594.51 L276.20 594.45 L276.45 594.40 L276.70 594.36 L276.95 594.31 L277.20 594.28 L277.45 594.24 L277.70 594.21 L277.95 594.19 L278.20 594.16 L278.45 594.14 L278.70 594.12 L278.95 594.11 L279.20 594.09 L279.45 594.08 L279.70 594.07 L279.95 594.06 L280.20 594.05 L280.45 594.04 L280.70 594.04 L280.95 594.03 L281.20 594.03 L281.45 594.02 L281.70 594.02 L281.95 594.02 L282.20 594.01 L282.45 594.01 L282.70 594.01 L282.95 594.01 L283.20 594.01 L283.45 594.01 L283.70 594.00 L283.95 594.00 L284.20 594.00 L284.45 594.00 L284.70 594.00 L284.95 594.00 L285.20 594.00 L285.45 594.00 L285.70 594.00 L285.95 594.00 L286.20 594.00 L286.45 594.00 L286.70 594.00 L286.95 594.00 L287.20 594.00 L287.45 594.00 L287.70 594.01 L287.95 594.01 L288.20 594.01 L288.45 594.01 L288.70 594.01 L288.95 594.01 L289.20 594.01 L289.45 594.02 L289.70 594.02 L289.95 594.02 L290.20 594.02 L290.45 594.03 L290.70 594.03 L290.95 594.03 L291.20 594.04 L291.45 594.04 L291.70 594.05 L291.95 594.06 L292.20 594.06 L292.45 594.07 L292.70 594.08 L292.95 594.09 L293.20 594.10 L293.45 594.12 L293.70 594.13 L293.95 594.15 L294.20 594.16 L294.45 594.18 L294.70 594.20 L294.95 594.23 L295.20 594.25 L295.45 594.28 L295.70 594.31 L295.95 594.34 L296.20 594.38 L296.45 594.42 L296.70 594.46 L296.95 594.51 L297.20 594.56 L297.45 594.62 L297.70 594.67 L297.95 594.74 L298.20 594.81 L298.45 594.88 L298.70 594.96 L298.95 595.05 L299.20 595.14 L299.45 595.23 L299.70 595.34 L299.95 595.45 L300.20 595.56 L300.45 595.69 L300.70 595.82 L300.95 595.96 L301.20 596.11 L301.45 596.26 L301.70 596.42 L301.95 596.59 L302.20 596.77 L302.45 596.96 L302.70 597.16 L302.95 597.36 L303.20 597.58 L303.45 597.80 L303.70 598.03 L303.95 598.27 L304.20 598.52 L304.45 598.77 L304.70 599.04 L304.95 599.31 L305.20 599.59 L305.45 599.88 L305.70 600.18 L305.95 600.48 L306.20 600.79 L306.45 601.10 L306.70 601.42 L306.95 601.75 L307.20 602.08 L307.45 602.42 L307.70 602.76 L307.95 603.10 L308.20 603.45 L308.45 603.80 L308.70 604.15 L308.95 604.50 L309.20 604.86 L309.45 605.21 L309.70 605.57 L309.95 605.92 L310.20 606.27 L310.45 606.62 L310.70 606.97 L310.95 607.31 L311.20 607.65 L311.45 607.98 L311.70 608.31 L311.95 608.64 L312.20 608.96 L312.45 609.27 L312.70 609.58 L312.95 609.88 L313.20 610.18 L313.45 610.46 L313.70 610.74 L313.95 611.01 L314.20 611.28 L314.45 611.53 L314.70 611.78 L314.95 612.02 L315.20 612.25 L315.45 612.47 L315.70 612.68 L315.95 612.88 L316.20 613.08 L316.45 613.26 L316.70 613.44 L316.95 613.61 L317.20 613.77 L317.45 613.92 L317.70 614.07 L317.95 614.21 L318.20 614.34 L318.45 614.46 L318.70 614.58 L318.95 614.68 L319.20 614.79 L319.45 614.88 L319.70 614.97 L319.95 615.06 L320.20 615.13 L320.45 615.21 L320.70 615.27 L320.95 615.34 L321.20 615.40 L321.45 615.45 L321.70 615.50 L321.95 615.55 L322.20 615.59 L322.45 615.63 L322.70 615.66 L322.95 615.70 L323.20 615.73 L323.45 615.75 L323.70 615.78 L323.95 615.80 L324.20 615.82 L324.45 615.84 L324.70 615.86 L324.95 615.87 L325.20 615.89 L325.45 615.90 L325.70 615.91 L325.95 615.92 L326.20 615.93 L326.45 615.94 L326.70 615.94 V616 H251.95Z" fill="url(#hatch)" stroke="none"/>
<path d="M250.20 615.97 L250.45 615.96 L250.70 615.95 L250.95 615.94 L251.20 615.92 L251.45 615.90 L251.70 615.88 L251.95 615.85 L252.20 615.81 L252.45 615.77 L252.70 615.71 L252.95 615.65 L253.20 615.57 L253.45 615.48 L253.70 615.36 L253.95 615.23 L254.20 615.07 L254.45 614.89 L254.70 614.67 L254.95 614.42 L255.20 614.12 L255.45 613.78 L255.70 613.39 L255.95 612.94 L256.20 612.42 L256.45 611.84 L256.70 611.18 L256.95 610.44 L257.20 609.61 L257.45 608.68 L257.70 607.65 L257.95 606.51 L258.20 605.26 L258.45 603.89 L258.70 602.40 L258.95 600.79 L259.20 599.05 L259.45 597.19 L259.70 595.20 L259.95 593.09 L260.20 590.87 L260.45 588.54 L260.70 586.11 L260.95 583.59 L261.20 581.00 L261.45 578.35 L261.70 575.66 L261.95 572.94 L262.20 570.21 L262.45 567.51 L262.70 564.84 L262.95 562.24 L263.20 559.72 L263.45 557.32 L263.70 555.06 L263.95 552.95 L264.20 551.02 L264.45 549.30 L264.70 547.80 L264.95 546.53 L265.20 545.52 L265.45 544.78 L265.70 544.30 L265.95 544.11 L266.20 544.19 L266.45 544.55 L266.70 545.19 L266.95 546.10 L267.20 547.26 L267.45 548.67 L267.70 550.31 L267.95 552.16 L268.20 554.19 L268.45 556.40 L268.70 558.75 L268.95 561.22 L269.20 563.79 L269.45 566.43 L269.70 569.13 L269.95 571.85 L270.20 574.57 L270.45 577.28 L270.70 579.95 L270.95 582.57 L271.20 585.11 L271.45 587.58 L271.70 589.95 L271.95 592.22 L272.20 594.37 L272.45 596.41 L272.70 598.32 L272.95 600.11 L273.20 601.77 L273.45 603.31 L273.70 604.73 L273.95 606.02 L274.20 607.21 L274.45 608.28 L274.70 609.25 L274.95 610.12 L275.20 610.89 L275.45 611.59 L275.70 612.20 L275.95 612.74 L276.20 613.22 L276.45 613.63 L276.70 613.99 L276.95 614.30 L277.20 614.57 L277.45 614.80 L277.70 615.00 L277.95 615.17 L278.20 615.31 L278.45 615.43 L278.70 615.53 L278.95 615.62 L279.20 615.69 L279.45 615.75 L279.70 615.80 L279.95 615.84 L280.20 615.87 L280.45 615.89 L280.70 615.92 L280.95 615.93 L281.20 615.95 L281.45 615.96 L281.70 615.97 L281.95 615.97 V616 H250.20Z" fill="#e0121c" stroke="#5a0000" stroke-width="0.6"/>
<path d="M281.45 616.00 L281.70 616.00 L281.95 616.00 L282.20 616.00 L282.45 615.99 L282.70 615.99 L282.95 615.99 L283.20 615.99 L283.45 615.99 L283.70 615.99 L283.95 615.99 L284.20 615.99 L284.45 615.99 L284.70 615.98 L284.95 615.98 L285.20 615.98 L285.45 615.98 L285.70 615.97 L285.95 615.97 L286.20 615.97 L286.45 615.96 L286.70 615.96 L286.95 615.95 L287.20 615.95 L287.45 615.94 L287.70 615.93 L287.95 615.92 L288.20 615.91 L288.45 615.91 L288.70 615.89 L288.95 615.88 L289.20 615.87 L289.45 615.86 L289.70 615.84 L289.95 615.82 L290.20 615.81 L290.45 615.79 L290.70 615.77 L290.95 615.74 L291.20 615.72 L291.45 615.69 L291.70 615.66 L291.95 615.63 L292.20 615.60 L292.45 615.56 L292.70 615.52 L292.95 615.48 L293.20 615.43 L293.45 615.38 L293.70 615.33 L293.95 615.28 L294.20 615.22 L294.45 615.16 L294.70 615.09 L294.95 615.02 L295.20 614.95 L295.45 614.87 L295.70 614.79 L295.95 614.70 L296.20 614.61 L296.45 614.52 L296.70 614.42 L296.95 614.31 L297.20 614.20 L297.45 614.09 L297.70 613.97 L297.95 613.85 L298.20 613.72 L298.45 613.59 L298.70 613.46 L298.95 613.32 L299.20 613.17 L299.45 613.03 L299.70 612.88 L299.95 612.72 L300.20 612.56 L300.45 612.40 L300.70 612.24 L300.95 612.07 L301.20 611.90 L301.45 611.73 L301.70 611.56 L301.95 611.39 L302.20 611.22 L302.45 611.04 L302.70 610.87 L302.95 610.70 L303.20 610.53 L303.45 610.36 L303.70 610.19 L303.95 610.03 L304.20 609.86 L304.45 609.71 L304.70 609.55 L304.95 609.40 L305.20 609.26 L305.45 609.12 L305.70 608.99 L305.95 608.87 L306.20 608.75 L306.45 608.64 L306.70 608.53 L306.95 608.44 L307.20 608.35 L307.45 608.27 L307.70 608.21 L307.95 608.15 L308.20 608.10 L308.45 608.06 L308.70 608.03 L308.95 608.01 L309.20 608.00 L309.45 608.00 L309.70 608.01 L309.95 608.03 L310.20 608.07 L310.45 608.11 L310.70 608.16 L310.95 608.22 L311.20 608.29 L311.45 608.37 L311.70 608.46 L311.95 608.55 L312.20 608.66 L312.45 608.77 L312.70 608.89 L312.95 609.02 L313.20 609.15 L313.45 609.29 L313.70 609.43 L313.95 609.58 L314.20 609.74 L314.45 609.90 L314.70 610.06 L314.95 610.22 L315.20 610.39 L315.45 610.56 L315.70 610.73 L315.95 610.91 L316.20 611.08 L316.45 611.25 L316.70 611.42 L316.95 611.60 L317.20 611.77 L317.45 611.94 L317.70 612.11 L317.95 612.27 L318.20 612.43 L318.45 612.60 L318.70 612.75 L318.95 612.91 L319.20 613.06 L319.45 613.20 L319.70 613.35 L319.95 613.49 L320.20 613.62 L320.45 613.75 L320.70 613.88 L320.95 614.00 L321.20 614.11 L321.45 614.23 L321.70 614.33 L321.95 614.44 L322.20 614.54 L322.45 614.63 L322.70 614.72 L322.95 614.80 L323.20 614.89 L323.45 614.96 L323.70 615.04 L323.95 615.10 L324.20 615.17 L324.45 615.23 L324.70 615.29 L324.95 615.34 L325.20 615.39 L325.45 615.44 L325.70 615.49 L325.95 615.53 L326.20 615.57 L326.45 615.60 L326.70 615.64 L326.95 615.67 L327.20 615.70 L327.45 615.72 L327.70 615.75 L327.95 615.77 L328.20 615.79 L328.45 615.81 L328.70 615.83 L328.95 615.84 L329.20 615.86 L329.45 615.87 L329.70 615.89 L329.95 615.90 L330.20 615.91 L330.45 615.92 L330.70 615.93 L330.95 615.93 L331.20 615.94 L331.45 615.95 L331.70 615.95 L331.95 615.96 L332.20 615.96 L332.45 615.97 L332.70 615.97 L332.95 615.97 L333.20 615.98 L333.45 615.98 L333.70 615.98 L333.95 615.98 L334.20 615.99 L334.45 615.99 L334.70 615.99 L334.95 615.99 L335.20 615.99 L335.45 615.99 L335.70 615.99 L335.95 615.99 L336.20 616.00 L336.45 616.00 L336.70 616.00 L336.95 616.00 L337.20 616.00 V616 H281.45Z" fill="#e0121c" stroke="#5a0000" stroke-width="0.6"/>
<path d="M251.95 615.95 L252.20 615.94 L252.45 615.93 L252.70 615.91 L252.95 615.90 L253.20 615.88 L253.45 615.87 L253.70 615.85 L253.95 615.82 L254.20 615.80 L254.45 615.77 L254.70 615.74 L254.95 615.70 L255.20 615.66 L255.45 615.62 L255.70 615.57 L255.95 615.51 L256.20 615.45 L256.45 615.38 L256.70 615.31 L256.95 615.23 L257.20 615.14 L257.45 615.04 L257.70 614.93 L257.95 614.82 L258.20 614.69 L258.45 614.56 L258.70 614.41 L258.95 614.26 L259.20 614.09 L259.45 613.91 L259.70 613.72 L259.95 613.51 L260.20 613.29 L260.45 613.06 L260.70 612.82 L260.95 612.56 L261.20 612.29 L261.45 612.01 L261.70 611.71 L261.95 611.40 L262.20 611.08 L262.45 610.75 L262.70 610.40 L262.95 610.04 L263.20 609.67 L263.45 609.29 L263.70 608.90 L263.95 608.50 L264.20 608.09 L264.45 607.68 L264.70 607.26 L264.95 606.83 L265.20 606.40 L265.45 605.96 L265.70 605.53 L265.95 605.09 L266.20 604.65 L266.45 604.21 L266.70 603.78 L266.95 603.34 L267.20 602.91 L267.45 602.49 L267.70 602.07 L267.95 601.66 L268.20 601.26 L268.45 600.87 L268.70 600.48 L268.95 600.11 L269.20 599.74 L269.45 599.39 L269.70 599.05 L269.95 598.72 L270.20 598.41 L270.45 598.11 L270.70 597.82 L270.95 597.54 L271.20 597.28 L271.45 597.03 L271.70 596.80 L271.95 596.57 L272.20 596.36 L272.45 596.17 L272.70 595.98 L272.95 595.81 L273.20 595.65 L273.45 595.50 L273.70 595.36 L273.95 595.23 L274.20 595.11 L274.45 595.00 L274.70 594.90 L274.95 594.81 L275.20 594.72 L275.45 594.65 L275.70 594.58 L275.95 594.51 L276.20 594.45 L276.45 594.40 L276.70 594.36 L276.95 594.31 L277.20 594.28 L277.45 594.24 L277.70 594.21 L277.95 594.19 L278.20 594.16 L278.45 594.14 L278.70 594.12 L278.95 594.11 L279.20 594.09 L279.45 594.08 L279.70 594.07 L279.95 594.06 L280.20 594.05 L280.45 594.04 L280.70 594.04 L280.95 594.03 L281.20 594.03 L281.45 594.02 L281.70 594.02 L281.95 594.02 L282.20 594.01 L282.45 594.01 L282.70 594.01 L282.95 594.01 L283.20 594.01 L283.45 594.01 L283.70 594.00 L283.95 594.00 L284.20 594.00 L284.45 594.00 L284.70 594.00 L284.95 594.00 L285.20 594.00 L285.45 594.00 L285.70 594.00 L285.95 594.00 L286.20 594.00 L286.45 594.00 L286.70 594.00 L286.95 594.00 L287.20 594.00 L287.45 594.00 L287.70 594.01 L287.95 594.01 L288.20 594.01 L288.45 594.01 L288.70 594.01 L288.95 594.01 L289.20 594.01 L289.45 594.02 L289.70 594.02 L289.95 594.02 L290.20 594.02 L290.45 594.03 L290.70 594.03 L290.95 594.03 L291.20 594.04 L291.45 594.04 L291.70 594.05 L291.95 594.06 L292.20 594.06 L292.45 594.07 L292.70 594.08 L292.95 594.09 L293.20 594.10 L293.45 594.12 L293.70 594.13 L293.95 594.15 L294.20 594.16 L294.45 594.18 L294.70 594.20 L294.95 594.23 L295.20 594.25 L295.45 594.28 L295.70 594.31 L295.95 594.34 L296.20 594.38 L296.45 594.42 L296.70 594.46 L296.95 594.51 L297.20 594.56 L297.45 594.62 L297.70 594.67 L297.95 594.74 L298.20 594.81 L298.45 594.88 L298.70 594.96 L298.95 595.05 L299.20 595.14 L299.45 595.23 L299.70 595.34 L299.95 595.45 L300.20 595.56 L300.45 595.69 L300.70 595.82 L300.95 595.96 L301.20 596.11 L301.45 596.26 L301.70 596.42 L301.95 596.59 L302.20 596.77 L302.45 596.96 L302.70 597.16 L302.95 597.36 L303.20 597.58 L303.45 597.80 L303.70 598.03 L303.95 598.27 L304.20 598.52 L304.45 598.77 L304.70 599.04 L304.95 599.31 L305.20 599.59 L305.45 599.88 L305.70 600.18 L305.95 600.48 L306.20 600.79 L306.45 601.10 L306.70 601.42 L306.95 601.75 L307.20 602.08 L307.45 602.42 L307.70 602.76 L307.95 603.10 L308.20 603.45 L308.45 603.80 L308.70 604.15 L308.95 604.50 L309.20 604.86 L309.45 605.21 L309.70 605.57 L309.95 605.92 L310.20 606.27 L310.45 606.62 L310.70 606.97 L310.95 607.31 L311.20 607.65 L311.45 607.98 L311.70 608.31 L311.95 608.64 L312.20 608.96 L312.45 609.27 L312.70 609.58 L312.95 609.88 L313.20 610.18 L313.45 610.46 L313.70 610.74 L313.95 611.01 L314.20 611.28 L314.45 611.53 L314.70 611.78 L314.95 612.02 L315.20 612.25 L315.45 612.47 L315.70 612.68 L315.95 612.88 L316.20 613.08 L316.45 613.26 L316.70 613.44 L316.95 613.61 L317.20 613.77 L317.45 613.92 L317.70 614.07 L317.95 614.21 L318.20 614.34 L318.45 614.46 L318.70 614.58 L318.95 614.68 L319.20 614.79 L319.45 614.88 L319.70 614.97 L319.95 615.06 L320.20 615.13 L320.45 615.21 L320.70 615.27 L320.95 615.34 L321.20 615.40 L321.45 615.45 L321.70 615.50 L321.95 615.55 L322.20 615.59 L322.45 615.63 L322.70 615.66 L322.95 615.70 L323.20 615.73 L323.45 615.75 L323.70 615.78 L323.95 615.80 L324.20 615.82 L324.45 615.84 L324.70 615.86 L324.95 615.87 L325.20 615.89 L325.45 615.90 L325.70 615.91 L325.95 615.92 L326.20 615.93 L326.45 615.94 L326.70 615.94" fill="none" stroke="#333" stroke-width="0.6"/>
<path d="M224.45 616.00 L224.70 616.00 L224.95 616.00 L225.20 615.99 L225.45 615.99 L225.70 615.99 L225.95 615.98 L226.20 615.98 L226.45 615.97 L226.70 615.96 L226.95 615.95 L227.20 615.93 L227.45 615.91 L227.70 615.88 L227.95 615.85 L228.20 615.81 L228.45 615.76 L228.70 615.70 L228.95 615.62 L229.20 615.54 L229.45 615.44 L229.70 615.32 L229.95 615.19 L230.20 615.04 L230.45 614.88 L230.70 614.70 L230.95 614.51 L231.20 614.30 L231.45 614.08 L231.70 613.85 L231.95 613.62 L232.20 613.39 L232.45 613.16 L232.70 612.94 L232.95 612.73 L233.20 612.54 L233.45 612.37 L233.70 612.23 L233.95 612.12 L234.20 612.05 L234.45 612.01 L234.70 612.00 L234.95 612.04 L235.20 612.11 L235.45 612.21 L235.70 612.34 L235.95 612.50 L236.20 612.69 L236.45 612.89 L236.70 613.11 L236.95 613.34 L237.20 613.57 L237.45 613.81 L237.70 614.03 L237.95 614.26 L238.20 614.47 L238.45 614.66 L238.70 614.85 L238.95 615.01 L239.20 615.16 L239.45 615.30 L239.70 615.42 L239.95 615.52 L240.20 615.61 L240.45 615.68 L240.70 615.74 L240.95 615.80 L241.20 615.84 L241.45 615.88 L241.70 615.90 L241.95 615.93 L242.20 615.94 L242.45 615.96 L242.70 615.97 L242.95 615.98 L243.20 615.98 L243.45 615.99 L243.70 615.99 L243.95 615.99 L244.20 616.00 L244.45 616.00 L244.70 616.00 L244.95 616.00 V616 H224.45Z" fill="#3fb4c4" stroke="#1c6f7a" stroke-width="0.5"/>
<path d="M222.70 616.00 L222.95 616.00 L223.20 616.00 L223.45 616.00 L223.70 616.00 L223.95 616.00 L224.20 616.00 L224.45 616.00 L224.70 616.00 L224.95 616.00 L225.20 615.99 L225.45 615.99 L225.70 615.99 L225.95 615.98 L226.20 615.98 L226.45 615.97 L226.70 615.96 L226.95 615.95 L227.20 615.93 L227.45 615.91 L227.70 615.88 L227.95 615.85 L228.20 615.81 L228.45 615.76 L228.70 615.70 L228.95 615.62 L229.20 615.54 L229.45 615.44 L229.70 615.32 L229.95 615.19 L230.20 615.04 L230.45 614.88 L230.70 614.70 L230.95 614.51 L231.20 614.30 L231.45 614.08 L231.70 613.85 L231.95 613.62 L232.20 613.39 L232.45 613.16 L232.70 612.94 L232.95 612.73 L233.20 612.54 L233.45 612.37 L233.70 612.23 L233.95 612.12 L234.20 612.05 L234.45 612.01 L234.70 612.00 L234.95 612.04 L235.20 612.11 L235.45 612.21 L235.70 612.34 L235.95 612.50 L236.20 612.69 L236.45 612.89 L236.70 613.11 L236.95 613.34 L237.20 613.57 L237.45 613.81 L237.70 614.03 L237.95 614.26 L238.20 614.47 L238.45 614.66 L238.70 614.85 L238.95 615.01 L239.20 615.16 L239.45 615.30 L239.70 615.42 L239.95 615.52 L240.20 615.61 L240.45 615.68 L240.70 615.74 L240.95 615.80 L241.20 615.84 L241.45 615.88 L241.70 615.90 L241.95 615.93 L242.20 615.94 L242.45 615.96 L242.70 615.97 L242.95 615.98 L243.20 615.98 L243.45 615.99 L243.70 615.99 L243.95 615.99 L244.20 616.00 L244.45 616.00 L244.70 616.00 L244.95 616.00 L245.20 616.00 L245.45 616.00 L245.70 616.00 L245.95 616.00 L246.20 616.00 L246.45 616.00 L246.70 616.00 L246.95 616.00 L247.20 616.00 L247.45 616.00 L247.70 616.00 L247.95 615.99 L248.20 615.99 L248.45 615.99 L248.70 615.99 L248.95 615.98 L249.20 615.98 L249.45 615.98 L249.70 615.97 L249.95 615.96 L250.20 615.95 L250.45 615.94 L250.70 615.93 L250.95 615.91 L251.20 615.89 L251.45 615.86 L251.70 615.83 L251.95 615.79 L252.20 615.75 L252.45 615.69 L252.70 615.63 L252.95 615.55 L253.20 615.46 L253.45 615.34 L253.70 615.21 L253.95 615.06 L254.20 614.87 L254.45 614.66 L254.70 614.41 L254.95 614.12 L255.20 613.78 L255.45 613.40 L255.70 612.96 L255.95 612.45 L256.20 611.87 L256.45 611.22 L256.70 610.49 L256.95 609.67 L257.20 608.74 L257.45 607.72 L257.70 606.58 L257.95 605.33 L258.20 603.95 L258.45 602.45 L258.70 600.81 L258.95 599.04 L259.20 597.14 L259.45 595.09 L259.70 592.92 L259.95 590.60 L260.20 588.16 L260.45 585.60 L260.70 582.93 L260.95 580.16 L261.20 577.29 L261.45 574.36 L261.70 571.37 L261.95 568.34 L262.20 565.29 L262.45 562.25 L262.70 559.24 L262.95 556.28 L263.20 553.39 L263.45 550.61 L263.70 547.95 L263.95 545.45 L264.20 543.12 L264.45 540.98 L264.70 539.06 L264.95 537.36 L265.20 535.92 L265.45 534.74 L265.70 533.83 L265.95 533.19 L266.20 532.84 L266.45 532.76 L266.70 532.97 L266.95 533.44 L267.20 534.18 L267.45 535.16 L267.70 536.38 L267.95 537.82 L268.20 539.45 L268.45 541.26 L268.70 543.23 L268.95 545.33 L269.20 547.53 L269.45 549.83 L269.70 552.18 L269.95 554.57 L270.20 556.98 L270.45 559.38 L270.70 561.77 L270.95 564.11 L271.20 566.40 L271.45 568.61 L271.70 570.75 L271.95 572.79 L272.20 574.74 L272.45 576.57 L272.70 578.30 L272.95 579.92 L273.20 581.42 L273.45 582.81 L273.70 584.09 L273.95 585.25 L274.20 586.32 L274.45 587.28 L274.70 588.15 L274.95 588.92 L275.20 589.62 L275.45 590.23 L275.70 590.78 L275.95 591.25 L276.20 591.67 L276.45 592.03 L276.70 592.35 L276.95 592.62 L277.20 592.85 L277.45 593.05 L277.70 593.21 L277.95 593.36 L278.20 593.47 L278.45 593.57 L278.70 593.66 L278.95 593.72 L279.20 593.78 L279.45 593.83 L279.70 593.86 L279.95 593.89 L280.20 593.92 L280.45 593.94 L280.70 593.95 L280.95 593.96 L281.20 593.97 L281.45 593.98 L281.70 593.98 L281.95 593.98 L282.20 593.99 L282.45 593.99 L282.70 593.99 L282.95 593.99 L283.20 593.99 L283.45 593.98 L283.70 593.98 L283.95 593.98 L284.20 593.98 L284.45 593.97 L284.70 593.97 L284.95 593.96 L285.20 593.95 L285.45 593.94 L285.70 593.93 L285.95 593.92 L286.20 593.90 L286.45 593.89 L286.70 593.87 L286.95 593.84 L287.20 593.82 L287.45 593.79 L287.70 593.76 L287.95 593.72 L288.20 593.67 L288.45 593.62 L288.70 593.57 L288.95 593.51 L289.20 593.44 L289.45 593.36 L289.70 593.28 L289.95 593.18 L290.20 593.08 L290.45 592.97 L290.70 592.85 L290.95 592.72 L291.20 592.58 L291.45 592.43 L291.70 592.26 L291.95 592.09 L292.20 591.91 L292.45 591.72 L292.70 591.52 L292.95 591.32 L293.20 591.10 L293.45 590.88 L293.70 590.66 L293.95 590.43 L294.20 590.20 L294.45 589.97 L294.70 589.74 L294.95 589.51 L295.20 589.29 L295.45 589.07 L295.70 588.86 L295.95 588.66 L296.20 588.47 L296.45 588.30 L296.70 588.14 L296.95 587.99 L297.20 587.86 L297.45 587.75 L297.70 587.66 L297.95 587.59 L298.20 587.54 L298.45 587.51 L298.70 587.49 L298.95 587.50 L299.20 587.53 L299.45 587.58 L299.70 587.64 L299.95 587.73 L300.20 587.83 L300.45 587.95 L300.70 588.08 L300.95 588.22 L301.20 588.38 L301.45 588.55 L301.70 588.73 L301.95 588.91 L302.20 589.11 L302.45 589.31 L302.70 589.52 L302.95 589.74 L303.20 589.96 L303.45 590.18 L303.70 590.41 L303.95 590.64 L304.20 590.88 L304.45 591.12 L304.70 591.36 L304.95 591.61 L305.20 591.86 L305.45 592.12 L305.70 592.38 L305.95 592.65 L306.20 592.92 L306.45 593.20 L306.70 593.49 L306.95 593.78 L307.20 594.08 L307.45 594.39 L307.70 594.70 L307.95 595.02 L308.20 595.36 L308.45 595.69 L308.70 596.04 L308.95 596.40 L309.20 596.76 L309.45 597.13 L309.70 597.51 L309.95 597.90 L310.20 598.29 L310.45 598.69 L310.70 599.09 L310.95 599.50 L311.20 599.92 L311.45 600.33 L311.70 600.76 L311.95 601.18 L312.20 601.61 L312.45 602.04 L312.70 602.47 L312.95 602.90 L313.20 603.32 L313.45 603.75 L313.70 604.17 L313.95 604.60 L314.20 605.01 L314.45 605.43 L314.70 605.84 L314.95 606.24 L315.20 606.64 L315.45 607.03 L315.70 607.41 L315.95 607.79 L316.20 608.16 L316.45 608.51 L316.70 608.87 L316.95 609.21 L317.20 609.54 L317.45 609.86 L317.70 610.18 L317.95 610.48 L318.20 610.77 L318.45 611.06 L318.70 611.33 L318.95 611.59 L319.20 611.84 L319.45 612.09 L319.70 612.32 L319.95 612.54 L320.20 612.75 L320.45 612.96 L320.70 613.15 L320.95 613.33 L321.20 613.51 L321.45 613.68 L321.70 613.83 L321.95 613.98 L322.20 614.12 L322.45 614.26 L322.70 614.38 L322.95 614.50 L323.20 614.61 L323.45 614.72 L323.70 614.81 L323.95 614.91 L324.20 614.99 L324.45 615.07 L324.70 615.15 L324.95 615.22 L325.20 615.28 L325.45 615.34 L325.70 615.40 L325.95 615.45 L326.20 615.50 L326.45 615.54 L326.70 615.58 L326.95 615.62 L327.20 615.65 L327.45 615.68 L327.70 615.71 L327.95 615.74 L328.20 615.77 L328.45 615.79 L328.70 615.81 L328.95 615.83 L329.20 615.84 L329.45 615.86 L329.70 615.87 L329.95 615.89 L330.20 615.90 L330.45 615.91 L330.70 615.92 L330.95 615.93 L331.20 615.94 L331.45 615.94 L331.70 615.95 L331.95 615.95 L332.20 615.96 L332.45 615.96 L332.70 615.97 L332.95 615.97 L333.20 615.98 L333.45 615.98 L333.70 615.98 L333.95 615.98 L334.20 615.99 L334.45 615.99 L334.70 615.99 L334.95 615.99 L335.20 615.99 L335.45 615.99 L335.70 615.99 L335.95 615.99 L336.20 615.99 L336.45 616.00 L336.70 616.00 L336.95 616.00 L337.20 616.00 L337.45 616.00 L337.70 616.00 L337.95 616.00 L338.20 616.00 L338.45 616.00 L338.70 616.00 L338.95 616.00 L339.20 616.00 L339.45 616.00 L339.70 616.00 L339.95 616.00 L340.20 616.00 L340.45 616.00 L340.70 616.00 L340.95 616.00 L341.20 616.00 L341.45 616.00 L341.70 616.00 L341.95 616.00 L342.20 616.00 L342.45 616.00 L342.70 616.00 L342.95 616.00 L343.20 616.00 L343.45 616.00 L343.70 616.00 L343.95 616.00 L344.20 616.00 L344.45 616.00 L344.70 616.00 L344.95 616.00 L345.20 616.00 L345.45 616.00 L345.70 616.00 L345.95 616.00 L346.20 616.00 L346.45 616.00 L346.70 616.00 L346.95 616.00" fill="none" stroke="#555" stroke-width="0.6"/>
<path d="M222.70 616.00 L223.40 616.00 L224.10 616.00 L224.80 616.00 L225.50 615.99 L226.20 615.98 L226.90 615.95 L227.60 615.89 L228.30 615.79 L229.00 615.61 L229.70 615.30 L230.40 614.84 L231.10 614.24 L231.80 613.46 L232.50 612.91 L233.20 612.10 L233.90 612.69 L234.60 612.04 L235.30 611.63 L236.00 612.39 L236.70 612.77 L237.40 614.02 L238.10 614.40 L238.80 615.00 L239.50 615.31 L240.20 615.61 L240.90 615.79 L241.60 615.89 L242.30 615.95 L243.00 615.98 L243.70 615.99 L244.40 616.00 L245.10 616.00 L245.80 616.00 L246.50 616.00 L247.20 616.00 L247.90 615.99 L248.60 615.99 L249.30 615.98 L250.00 615.96 L250.70 615.93 L251.40 615.87 L252.10 615.77 L252.80 615.60 L253.50 615.30 L254.20 615.04 L254.90 614.33 L255.60 613.33 L256.30 611.08 L257.00 608.97 L257.70 607.40 L258.40 602.05 L259.10 598.78 L259.80 591.71 L260.50 585.78 L261.20 576.73 L261.90 559.33 L262.60 537.56 L263.30 518.16 L264.00 515.78 L264.70 525.83 L265.40 532.50 L266.10 531.45 L266.80 533.00 L267.50 534.96 L268.20 540.16 L268.90 543.79 L269.60 550.38 L270.30 554.68 L271.00 555.75 L271.70 551.93 L272.40 544.98 L273.10 547.21 L273.80 560.37 L274.50 576.35 L275.20 586.16 L275.90 590.07 L276.60 593.30 L277.30 592.49 L278.00 593.77 L278.70 594.11 L279.40 593.05 L280.10 593.95 L280.80 594.40 L281.50 594.02 L282.20 593.50 L282.90 595.05 L283.60 592.84 L284.30 595.12 L285.00 593.36 L285.70 593.10 L286.40 595.05 L287.10 593.14 L287.80 594.06 L288.50 593.43 L289.20 594.62 L289.90 594.29 L290.60 593.66 L291.30 591.42 L292.00 592.77 L292.70 590.87 L293.40 589.82 L294.10 589.08 L294.80 589.73 L295.50 588.88 L296.20 587.63 L296.90 586.20 L297.60 587.06 L298.30 584.94 L299.00 584.49 L299.70 584.30 L300.40 586.57 L301.10 584.98 L301.80 587.85 L302.50 588.22 L303.20 588.59 L303.90 588.85 L304.60 591.19 L305.30 590.68 L306.00 592.46 L306.70 593.87 L307.40 594.73 L308.10 595.98 L308.80 597.19 L309.50 598.04 L310.20 597.81 L310.90 598.18 L311.60 601.30 L312.30 602.68 L313.00 601.48 L313.70 603.54 L314.40 604.70 L315.10 605.79 L315.80 605.46 L316.50 605.27 L317.20 606.41 L317.90 606.69 L318.60 607.80 L319.30 606.08 L320.00 608.70 L320.70 608.27 L321.40 608.38 L322.10 610.63 L322.80 610.39 L323.50 610.71 L324.20 611.44 L324.90 611.20 L325.60 611.91 L326.30 611.29 L327.00 611.79 L327.70 611.33 L328.40 612.77 L329.10 613.52 L329.80 614.11 L330.50 614.93 L331.20 615.49 L331.90 615.75 L332.60 615.89 L333.30 615.95 L334.00 615.97 L334.70 615.99 L335.40 615.99 L336.10 615.99 L336.80 616.00 L337.50 616.00 L338.20 616.00 L338.90 616.00 L339.60 616.00 L340.30 616.00 L341.00 616.00 L341.70 616.00 L342.40 616.00 L343.10 616.00 L343.80 616.00 L344.50 616.00 L345.20 616.00 L345.90 616.00 L346.60 616.00" fill="none" stroke="#2a2a2a" stroke-width="0.5"/>
<path d="M222.70 509.50V616.00H347.00" fill="none" stroke="#444" stroke-width="0.7"/>
<path d="M222.70 616.00h-1.2M222.70 612.46h-1.2M222.70 608.92h-1.2M222.70 605.38h-1.2M222.70 601.84h-1.2M222.70 598.30h-1.2M222.70 594.76h-1.2M222.70 591.22h-1.2M222.70 587.68h-1.2M222.70 584.14h-1.2M222.70 580.60h-1.2M222.70 577.06h-1.2M222.70 573.52h-1.2M222.70 569.98h-1.2M222.70 566.44h-1.2M222.70 562.90h-1.2M222.70 559.36h-1.2M222.70 555.82h-1.2M222.70 552.28h-1.2M222.70 548.74h-1.2M222.70 545.20h-1.2M222.70 541.66h-1.2M222.70 538.12h-1.2M222.70 534.58h-1.2M222.70 531.04h-1.2M222.70 527.50h-1.2M222.70 523.96h-1.2M222.70 520.42h-1.2M222.70 516.88h-1.2M222.70 513.34h-1.2M222.70 509.80h-1.2M222.70 616.00v1.8M226.85 616.00v1.0M231.00 616.00v1.0M235.15 616.00v1.0M239.30 616.00v1.0M243.45 616.00v1.0M247.60 616.00v1.8M251.75 616.00v1.0M255.90 616.00v1.0M260.05 616.00v1.0M264.20 616.00v1.0M268.35 616.00v1.0M272.50 616.00v1.8M276.65 616.00v1.0M280.80 616.00v1.0M284.95 616.00v1.0M289.10 616.00v1.0M293.25 616.00v1.0M297.40 616.00v1.8M301.55 616.00v1.0M305.70 616.00v1.0M309.85 616.00v1.0M314.00 616.00v1.0M318.15 616.00v1.0M322.30 616.00v1.8M326.45 616.00v1.0M330.60 616.00v1.0M334.75 616.00v1.0M338.90 616.00v1.0M343.05 616.00v1.0" stroke="#555" stroke-width="0.45" fill="none"/>
<text x="222.70" y="622.30" font-size="3.6" text-anchor="middle" fill="#555">0</text>
<text x="247.60" y="622.30" font-size="3.6" text-anchor="middle" fill="#555">30</text>
<text x="272.50" y="622.30" font-size="3.6" text-anchor="middle" fill="#555">60</text>
<text x="297.40" y="622.30" font-size="3.6" text-anchor="middle" fill="#555">90</text>
<text x="322.30" y="622.30" font-size="3.6" text-anchor="middle" fill="#555">120</text>
<text x="347.20" y="622.30" font-size="3.6" text-anchor="middle" fill="#555">150</text>
<text x="218.50" y="598.30" font-size="3.6" text-anchor="middle" fill="#555" transform="rotate(-90 218.50 598.30)">100</text>
<text x="218.50" y="580.60" font-size="3.6" text-anchor="middle" fill="#555" transform="rotate(-90 218.50 580.60)">200</text>
<text x="218.50" y="562.90" font-size="3.6" text-anchor="middle" fill="#555" transform="rotate(-90 218.50 562.90)">300</text>
<text x="218.50" y="545.20" font-size="3.6" text-anchor="middle" fill="#555" transform="rotate(-90 218.50 545.20)">400</text>
<text x="218.50" y="527.50" font-size="3.6" text-anchor="middle" fill="#555" transform="rotate(-90 218.50 527.50)">500</text>
<text x="213.10" y="565.00" font-size="3.6" text-anchor="middle" fill="#555" transform="rotate(-90 213.10 565.00)">Number</text>
<text x="285.85" y="626.30" font-size="3.7" text-anchor="middle" fill="#555">Channels (FL2-A)</text>
<path d="M261.60 620.00L263.40 616.80L265.20 620.00Z" fill="#111"/>
<path d="M271.10 620.00L272.90 616.80L274.70 620.00Z" fill="#111"/>
<rect x="320.10" y="500.60" width="4.4" height="3.3" fill="#3fb4c4" stroke="#555" stroke-width="0.3"/>
<text x="325.70" y="503.50" font-size="3.4" text-anchor="start" fill="#50509a">Apoptosis</text>
<rect x="320.10" y="505.10" width="4.4" height="3.3" fill="#d0101a" stroke="#555" stroke-width="0.3"/>
<text x="325.70" y="508.00" font-size="3.4" text-anchor="start" fill="#50509a">Dip G1</text>
<rect x="320.10" y="509.60" width="4.4" height="3.3" fill="#d0101a" stroke="#555" stroke-width="0.3"/>
<text x="325.70" y="512.50" font-size="3.4" text-anchor="start" fill="#50509a">Dip G2</text>
<rect x="320.10" y="514.10" width="4.4" height="3.3" fill="url(#hatch)" stroke="#555" stroke-width="0.3"/>
<text x="325.70" y="517.00" font-size="3.4" text-anchor="start" fill="#50509a">Dip S</text>
<path d="M390.10 614.85 L390.35 614.84 L390.60 614.83 L390.85 614.81 L391.10 614.80 L391.35 614.78 L391.60 614.75 L391.85 614.73 L392.10 614.70 L392.35 614.67 L392.60 614.63 L392.85 614.59 L393.10 614.54 L393.35 614.48 L393.60 614.42 L393.85 614.36 L394.10 614.28 L394.35 614.20 L394.60 614.10 L394.85 614.00 L395.10 613.89 L395.35 613.77 L395.60 613.64 L395.85 613.50 L396.10 613.35 L396.35 613.19 L396.60 613.01 L396.85 612.83 L397.10 612.63 L397.35 612.42 L397.60 612.20 L397.85 611.97 L398.10 611.73 L398.35 611.49 L398.60 611.23 L398.85 610.96 L399.10 610.69 L399.35 610.41 L399.60 610.12 L399.85 609.83 L400.10 609.54 L400.35 609.25 L400.60 608.95 L400.85 608.65 L401.10 608.36 L401.35 608.07 L401.60 607.78 L401.85 607.49 L402.10 607.21 L402.35 606.94 L402.60 606.67 L402.85 606.41 L403.10 606.17 L403.35 605.93 L403.60 605.70 L403.85 605.48 L404.10 605.27 L404.35 605.07 L404.60 604.89 L404.85 604.71 L405.10 604.55 L405.35 604.40 L405.60 604.26 L405.85 604.13 L406.10 604.01 L406.35 603.90 L406.60 603.80 L406.85 603.70 L407.10 603.62 L407.35 603.54 L407.60 603.48 L407.85 603.42 L408.10 603.36 L408.35 603.31 L408.60 603.27 L408.85 603.23 L409.10 603.20 L409.35 603.17 L409.60 603.15 L409.85 603.12 L410.10 603.10 L410.35 603.09 L410.60 603.07 L410.85 603.06 L411.10 603.05 L411.35 603.04 L411.60 603.04 L411.85 603.03 L412.10 603.02 L412.35 603.02 L412.60 603.02 L412.85 603.01 L413.10 603.01 L413.35 603.01 L413.60 603.01 L413.85 603.01 L414.10 603.00 L414.35 603.00 L414.60 603.00 L414.85 603.00 L415.10 603.00 L415.35 603.00 L415.60 603.00 L415.85 603.00 L416.10 603.00 L416.35 603.00 L416.60 603.00 L416.85 603.00 L417.10 603.00 L417.35 603.00 L417.60 603.00 L417.85 603.00 L418.10 603.00 L418.35 603.00 L418.60 603.00 L418.85 603.00 L419.10 603.00 L419.35 603.00 L419.60 603.00 L419.85 603.00 L420.10 603.00 L420.35 603.00 L420.60 603.00 L420.85 603.00 L421.10 603.00 L421.35 603.00 L421.60 603.00 L421.85 603.00 L422.10 603.00 L422.35 603.00 L422.60 603.00 L422.85 603.00 L423.10 603.00 L423.35 603.00 L423.60 603.00 L423.85 603.00 L424.10 603.00 L424.35 603.00 L424.60 603.01 L424.85 603.01 L425.10 603.01 L425.35 603.01 L425.60 603.01 L425.85 603.01 L426.10 603.02 L426.35 603.02 L426.60 603.02 L426.85 603.03 L427.10 603.03 L427.35 603.04 L427.60 603.05 L427.85 603.06 L428.10 603.07 L428.35 603.08 L428.60 603.09 L428.85 603.11 L429.10 603.12 L429.35 603.14 L429.60 603.17 L429.85 603.19 L430.10 603.22 L430.35 603.25 L430.60 603.29 L430.85 603.32 L431.10 603.37 L431.35 603.42 L431.60 603.47 L431.85 603.53 L432.10 603.60 L432.35 603.67 L432.60 603.74 L432.85 603.83 L433.10 603.92 L433.35 604.02 L433.60 604.13 L433.85 604.25 L434.10 604.37 L434.35 604.50 L434.60 604.64 L434.85 604.79 L435.10 604.95 L435.35 605.12 L435.60 605.30 L435.85 605.48 L436.10 605.68 L436.35 605.88 L436.60 606.09 L436.85 606.31 L437.10 606.53 L437.35 606.77 L437.60 607.00 L437.85 607.25 L438.10 607.50 L438.35 607.75 L438.60 608.01 L438.85 608.27 L439.10 608.53 L439.35 608.79 L439.60 609.06 L439.85 609.32 L440.10 609.58 L440.35 609.84 L440.60 610.10 L440.85 610.35 L441.10 610.60 L441.35 610.85 L441.60 611.09 L441.85 611.32 L442.10 611.55 L442.35 611.77 L442.60 611.98 L442.85 612.18 L443.10 612.38 L443.35 612.57 L443.60 612.74 L443.85 612.91 L444.10 613.08 L444.35 613.23 L444.60 613.37 L444.85 613.50 L445.10 613.63 L445.35 613.75 L445.60 613.86 L445.85 613.96 L446.10 614.05 L446.35 614.14 L446.60 614.22 L446.85 614.29 L447.10 614.36 L447.35 614.42 L447.60 614.47 L447.85 614.52 L448.10 614.57 L448.35 614.61 L448.60 614.64 L448.85 614.68 L449.10 614.70 L449.35 614.73 L449.60 614.75 L449.85 614.77 L450.10 614.79 L450.35 614.81 L450.60 614.82 L450.85 614.83 L451.10 614.84 L451.35 614.85 V614.9 H390.10Z" fill="url(#hatch)" stroke="none"/>
<path d="M390.35 614.87 L390.60 614.86 L390.85 614.84 L391.10 614.82 L391.35 614.78 L391.60 614.74 L391.85 614.67 L392.10 614.59 L392.35 614.47 L392.60 614.32 L392.85 614.13 L393.10 613.88 L393.35 613.56 L393.60 613.16 L393.85 612.65 L394.10 612.03 L394.35 611.26 L394.60 610.34 L394.85 609.23 L395.10 607.92 L395.35 606.38 L395.60 604.61 L395.85 602.57 L396.10 600.27 L396.35 597.71 L396.60 594.87 L396.85 591.79 L397.10 588.47 L397.35 584.96 L397.60 581.29 L397.85 577.52 L398.10 573.71 L398.35 569.93 L398.60 566.25 L398.85 562.76 L399.10 559.53 L399.35 556.64 L399.60 554.16 L399.85 552.17 L400.10 550.70 L400.35 549.80 L400.60 549.50 L400.85 549.80 L401.10 550.70 L401.35 552.17 L401.60 554.16 L401.85 556.64 L402.10 559.53 L402.35 562.76 L402.60 566.25 L402.85 569.93 L403.10 573.71 L403.35 577.52 L403.60 581.29 L403.85 584.96 L404.10 588.47 L404.35 591.79 L404.60 594.87 L404.85 597.71 L405.10 600.27 L405.35 602.57 L405.60 604.61 L405.85 606.38 L406.10 607.92 L406.35 609.23 L406.60 610.34 L406.85 611.26 L407.10 612.03 L407.35 612.65 L407.60 613.16 L407.85 613.56 L408.10 613.88 L408.35 614.13 L408.60 614.32 L408.85 614.47 L409.10 614.59 L409.35 614.67 L409.60 614.74 L409.85 614.78 L410.10 614.82 L410.35 614.84 L410.60 614.86 L410.85 614.87 V614.9 H390.35Z" fill="#e0121c" stroke="#5a0000" stroke-width="0.6"/>
<path d="M423.60 614.90 L423.85 614.90 L424.10 614.90 L424.35 614.89 L424.60 614.89 L424.85 614.89 L425.10 614.89 L425.35 614.88 L425.60 614.88 L425.85 614.88 L426.10 614.87 L426.35 614.86 L426.60 614.86 L426.85 614.85 L427.10 614.83 L427.35 614.82 L427.60 614.80 L427.85 614.78 L428.10 614.76 L428.35 614.74 L428.60 614.70 L428.85 614.67 L429.10 614.63 L429.35 614.58 L429.60 614.53 L429.85 614.46 L430.10 614.39 L430.35 614.32 L430.60 614.23 L430.85 614.13 L431.10 614.02 L431.35 613.90 L431.60 613.76 L431.85 613.62 L432.10 613.45 L432.35 613.28 L432.60 613.09 L432.85 612.89 L433.10 612.68 L433.35 612.45 L433.60 612.20 L433.85 611.95 L434.10 611.68 L434.35 611.41 L434.60 611.12 L434.85 610.83 L435.10 610.53 L435.35 610.23 L435.60 609.93 L435.85 609.62 L436.10 609.33 L436.35 609.03 L436.60 608.75 L436.85 608.48 L437.10 608.22 L437.35 607.98 L437.60 607.75 L437.85 607.55 L438.10 607.38 L438.35 607.22 L438.60 607.10 L438.85 607.00 L439.10 606.94 L439.35 606.91 L439.60 606.90 L439.85 606.93 L440.10 606.99 L440.35 607.08 L440.60 607.20 L440.85 607.34 L441.10 607.52 L441.35 607.71 L441.60 607.93 L441.85 608.17 L442.10 608.42 L442.35 608.69 L442.60 608.98 L442.85 609.27 L443.10 609.56 L443.35 609.87 L443.60 610.17 L443.85 610.47 L444.10 610.77 L444.35 611.06 L444.60 611.35 L444.85 611.63 L445.10 611.90 L445.35 612.15 L445.60 612.40 L445.85 612.63 L446.10 612.85 L446.35 613.05 L446.60 613.24 L446.85 613.42 L447.10 613.58 L447.35 613.73 L447.60 613.87 L447.85 613.99 L448.10 614.11 L448.35 614.21 L448.60 614.30 L448.85 614.38 L449.10 614.45 L449.35 614.51 L449.60 614.57 L449.85 614.62 L450.10 614.66 L450.35 614.70 L450.60 614.73 L450.85 614.76 L451.10 614.78 L451.35 614.80 L451.60 614.82 L451.85 614.83 L452.10 614.84 L452.35 614.85 L452.60 614.86 L452.85 614.87 L453.10 614.88 L453.35 614.88 L453.60 614.88 L453.85 614.89 L454.10 614.89 L454.35 614.89 L454.60 614.89 L454.85 614.89 L455.10 614.90 L455.35 614.90 V614.9 H423.60Z" fill="#e0121c" stroke="#5a0000" stroke-width="0.6"/>
<path d="M390.10 614.85 L390.35 614.84 L390.60 614.83 L390.85 614.81 L391.10 614.80 L391.35 614.78 L391.60 614.75 L391.85 614.73 L392.10 614.70 L392.35 614.67 L392.60 614.63 L392.85 614.59 L393.10 614.54 L393.35 614.48 L393.60 614.42 L393.85 614.36 L394.10 614.28 L394.35 614.20 L394.60 614.10 L394.85 614.00 L395.10 613.89 L395.35 613.77 L395.60 613.64 L395.85 613.50 L396.10 613.35 L396.35 613.19 L396.60 613.01 L396.85 612.83 L397.10 612.63 L397.35 612.42 L397.60 612.20 L397.85 611.97 L398.10 611.73 L398.35 611.49 L398.60 611.23 L398.85 610.96 L399.10 610.69 L399.35 610.41 L399.60 610.12 L399.85 609.83 L400.10 609.54 L400.35 609.25 L400.60 608.95 L400.85 608.65 L401.10 608.36 L401.35 608.07 L401.60 607.78 L401.85 607.49 L402.10 607.21 L402.35 606.94 L402.60 606.67 L402.85 606.41 L403.10 606.17 L403.35 605.93 L403.60 605.70 L403.85 605.48 L404.10 605.27 L404.35 605.07 L404.60 604.89 L404.85 604.71 L405.10 604.55 L405.35 604.40 L405.60 604.26 L405.85 604.13 L406.10 604.01 L406.35 603.90 L406.60 603.80 L406.85 603.70 L407.10 603.62 L407.35 603.54 L407.60 603.48 L407.85 603.42 L408.10 603.36 L408.35 603.31 L408.60 603.27 L408.85 603.23 L409.10 603.20 L409.35 603.17 L409.60 603.15 L409.85 603.12 L410.10 603.10 L410.35 603.09 L410.60 603.07 L410.85 603.06 L411.10 603.05 L411.35 603.04 L411.60 603.04 L411.85 603.03 L412.10 603.02 L412.35 603.02 L412.60 603.02 L412.85 603.01 L413.10 603.01 L413.35 603.01 L413.60 603.01 L413.85 603.01 L414.10 603.00 L414.35 603.00 L414.60 603.00 L414.85 603.00 L415.10 603.00 L415.35 603.00 L415.60 603.00 L415.85 603.00 L416.10 603.00 L416.35 603.00 L416.60 603.00 L416.85 603.00 L417.10 603.00 L417.35 603.00 L417.60 603.00 L417.85 603.00 L418.10 603.00 L418.35 603.00 L418.60 603.00 L418.85 603.00 L419.10 603.00 L419.35 603.00 L419.60 603.00 L419.85 603.00 L420.10 603.00 L420.35 603.00 L420.60 603.00 L420.85 603.00 L421.10 603.00 L421.35 603.00 L421.60 603.00 L421.85 603.00 L422.10 603.00 L422.35 603.00 L422.60 603.00 L422.85 603.00 L423.10 603.00 L423.35 603.00 L423.60 603.00 L423.85 603.00 L424.10 603.00 L424.35 603.00 L424.60 603.01 L424.85 603.01 L425.10 603.01 L425.35 603.01 L425.60 603.01 L425.85 603.01 L426.10 603.02 L426.35 603.02 L426.60 603.02 L426.85 603.03 L427.10 603.03 L427.35 603.04 L427.60 603.05 L427.85 603.06 L428.10 603.07 L428.35 603.08 L428.60 603.09 L428.85 603.11 L429.10 603.12 L429.35 603.14 L429.60 603.17 L429.85 603.19 L430.10 603.22 L430.35 603.25 L430.60 603.29 L430.85 603.32 L431.10 603.37 L431.35 603.42 L431.60 603.47 L431.85 603.53 L432.10 603.60 L432.35 603.67 L432.60 603.74 L432.85 603.83 L433.10 603.92 L433.35 604.02 L433.60 604.13 L433.85 604.25 L434.10 604.37 L434.35 604.50 L434.60 604.64 L434.85 604.79 L435.10 604.95 L435.35 605.12 L435.60 605.30 L435.85 605.48 L436.10 605.68 L436.35 605.88 L436.60 606.09 L436.85 606.31 L437.10 606.53 L437.35 606.77 L437.60 607.00 L437.85 607.25 L438.10 607.50 L438.35 607.75 L438.60 608.01 L438.85 608.27 L439.10 608.53 L439.35 608.79 L439.60 609.06 L439.85 609.32 L440.10 609.58 L440.35 609.84 L440.60 610.10 L440.85 610.35 L441.10 610.60 L441.35 610.85 L441.60 611.09 L441.85 611.32 L442.10 611.55 L442.35 611.77 L442.60 611.98 L442.85 612.18 L443.10 612.38 L443.35 612.57 L443.60 612.74 L443.85 612.91 L444.10 613.08 L444.35 613.23 L444.60 613.37 L444.85 613.50 L445.10 613.63 L445.35 613.75 L445.60 613.86 L445.85 613.96 L446.10 614.05 L446.35 614.14 L446.60 614.22 L446.85 614.29 L447.10 614.36 L447.35 614.42 L447.60 614.47 L447.85 614.52 L448.10 614.57 L448.35 614.61 L448.60 614.64 L448.85 614.68 L449.10 614.70 L449.35 614.73 L449.60 614.75 L449.85 614.77 L450.10 614.79 L450.35 614.81 L450.60 614.82 L450.85 614.83 L451.10 614.84 L451.35 614.85" fill="none" stroke="#333" stroke-width="0.6"/>
<path d="M366.60 614.90 L366.85 614.90 L367.10 614.90 L367.35 614.90 L367.60 614.90 L367.85 614.90 L368.10 614.90 L368.35 614.90 L368.60 614.89 L368.85 614.89 L369.10 614.89 L369.35 614.89 L369.60 614.88 L369.85 614.88 L370.10 614.87 L370.35 614.86 L370.60 614.85 L370.85 614.84 L371.10 614.82 L371.35 614.81 L371.60 614.78 L371.85 614.76 L372.10 614.73 L372.35 614.70 L372.60 614.66 L372.85 614.62 L373.10 614.58 L373.35 614.53 L373.60 614.47 L373.85 614.42 L374.10 614.36 L374.35 614.31 L374.60 614.25 L374.85 614.19 L375.10 614.13 L375.35 614.08 L375.60 614.03 L375.85 613.99 L376.10 613.96 L376.35 613.93 L376.60 613.91 L376.85 613.90 L377.10 613.90 L377.35 613.91 L377.60 613.93 L377.85 613.95 L378.10 613.99 L378.35 614.03 L378.60 614.07 L378.85 614.12 L379.10 614.18 L379.35 614.24 L379.60 614.29 L379.85 614.35 L380.10 614.41 L380.35 614.46 L380.60 614.52 L380.85 614.57 L381.10 614.61 L381.35 614.65 L381.60 614.69 L381.85 614.72 L382.10 614.75 L382.35 614.78 L382.60 614.80 L382.85 614.82 L383.10 614.84 L383.35 614.85 L383.60 614.86 L383.85 614.87 L384.10 614.88 L384.35 614.88 L384.60 614.89 L384.85 614.89 L385.10 614.89 L385.35 614.89 L385.60 614.90 L385.85 614.90 L386.10 614.90 L386.35 614.90 L386.60 614.90 L386.85 614.90 L387.10 614.90 L387.35 614.90 V614.9 H366.60Z" fill="#3fb4c4" stroke="#1c6f7a" stroke-width="0.5"/>
<path d="M362.10 614.90 L362.35 614.90 L362.60 614.90 L362.85 614.90 L363.10 614.90 L363.35 614.90 L363.60 614.90 L363.85 614.90 L364.10 614.90 L364.35 614.90 L364.60 614.90 L364.85 614.90 L365.10 614.90 L365.35 614.90 L365.60 614.90 L365.85 614.90 L366.10 614.90 L366.35 614.90 L366.60 614.90 L366.85 614.90 L367.10 614.90 L367.35 614.90 L367.60 614.90 L367.85 614.90 L368.10 614.90 L368.35 614.90 L368.60 614.89 L368.85 614.89 L369.10 614.89 L369.35 614.89 L369.60 614.88 L369.85 614.88 L370.10 614.87 L370.35 614.86 L370.60 614.85 L370.85 614.84 L371.10 614.82 L371.35 614.81 L371.60 614.78 L371.85 614.76 L372.10 614.73 L372.35 614.70 L372.60 614.66 L372.85 614.62 L373.10 614.58 L373.35 614.53 L373.60 614.47 L373.85 614.42 L374.10 614.36 L374.35 614.31 L374.60 614.25 L374.85 614.19 L375.10 614.13 L375.35 614.08 L375.60 614.03 L375.85 613.99 L376.10 613.96 L376.35 613.93 L376.60 613.91 L376.85 613.90 L377.10 613.90 L377.35 613.91 L377.60 613.93 L377.85 613.95 L378.10 613.99 L378.35 614.03 L378.60 614.07 L378.85 614.12 L379.10 614.18 L379.35 614.24 L379.60 614.29 L379.85 614.35 L380.10 614.41 L380.35 614.46 L380.60 614.52 L380.85 614.57 L381.10 614.61 L381.35 614.65 L381.60 614.69 L381.85 614.72 L382.10 614.75 L382.35 614.78 L382.60 614.80 L382.85 614.82 L383.10 614.84 L383.35 614.85 L383.60 614.86 L383.85 614.87 L384.10 614.88 L384.35 614.88 L384.60 614.89 L384.85 614.89 L385.10 614.89 L385.35 614.89 L385.60 614.89 L385.85 614.90 L386.10 614.90 L386.35 614.90 L386.60 614.90 L386.85 614.90 L387.10 614.89 L387.35 614.89 L387.60 614.89 L387.85 614.89 L388.10 614.89 L388.35 614.89 L388.60 614.88 L388.85 614.88 L389.10 614.87 L389.35 614.87 L389.60 614.86 L389.85 614.84 L390.10 614.83 L390.35 614.81 L390.60 614.79 L390.85 614.75 L391.10 614.71 L391.35 614.66 L391.60 614.59 L391.85 614.50 L392.10 614.39 L392.35 614.24 L392.60 614.05 L392.85 613.82 L393.10 613.52 L393.35 613.14 L393.60 612.68 L393.85 612.10 L394.10 611.40 L394.35 610.55 L394.60 609.53 L394.85 608.31 L395.10 606.88 L395.35 605.21 L395.60 603.27 L395.85 601.06 L396.10 598.56 L396.35 595.76 L396.60 592.66 L396.85 589.26 L397.10 585.60 L397.35 581.68 L397.60 577.56 L397.85 573.29 L398.10 568.92 L398.35 564.53 L398.60 560.21 L398.85 556.04 L399.10 552.11 L399.35 548.53 L399.60 545.38 L399.85 542.75 L400.10 540.70 L400.35 539.30 L400.60 538.58 L400.85 538.55 L401.10 539.22 L401.35 540.55 L401.60 542.49 L401.85 544.99 L402.10 547.95 L402.35 551.29 L402.60 554.90 L402.85 558.70 L403.10 562.57 L403.35 566.43 L403.60 570.20 L403.85 573.79 L404.10 577.14 L404.35 580.19 L404.60 582.90 L404.85 585.24 L405.10 587.19 L405.35 588.73 L405.60 589.86 L405.85 590.60 L406.10 590.94 L406.35 590.94 L406.60 590.61 L406.85 590.02 L407.10 589.21 L407.35 588.25 L407.60 587.21 L407.85 586.15 L408.10 585.15 L408.35 584.27 L408.60 583.58 L408.85 583.11 L409.10 582.91 L409.35 583.00 L409.60 583.38 L409.85 584.04 L410.10 584.95 L410.35 586.08 L410.60 587.38 L410.85 588.80 L411.10 590.30 L411.35 591.81 L411.60 593.29 L411.85 594.71 L412.10 596.03 L412.35 597.23 L412.60 598.30 L412.85 599.23 L413.10 600.02 L413.35 600.69 L413.60 601.23 L413.85 601.67 L414.10 602.01 L414.35 602.28 L414.60 602.48 L414.85 602.63 L415.10 602.74 L415.35 602.82 L415.60 602.88 L415.85 602.92 L416.10 602.95 L416.35 602.97 L416.60 602.98 L416.85 602.99 L417.10 602.99 L417.35 603.00 L417.60 603.00 L417.85 603.00 L418.10 603.00 L418.35 603.00 L418.60 603.00 L418.85 603.00 L419.10 603.00 L419.35 603.00 L419.60 603.00 L419.85 603.00 L420.10 603.00 L420.35 603.00 L420.60 603.00 L420.85 603.00 L421.10 603.00 L421.35 603.00 L421.60 603.00 L421.85 603.00 L422.10 603.00 L422.35 603.00 L422.60 603.00 L422.85 603.00 L423.10 603.00 L423.35 603.00 L423.60 603.00 L423.85 603.00 L424.10 603.00 L424.35 603.00 L424.60 603.00 L424.85 603.00 L425.10 603.00 L425.35 602.99 L425.60 602.99 L425.85 602.99 L426.10 602.99 L426.35 602.98 L426.60 602.98 L426.85 602.98 L427.10 602.97 L427.35 602.96 L427.60 602.95 L427.85 602.94 L428.10 602.93 L428.35 602.91 L428.60 602.90 L428.85 602.88 L429.10 602.85 L429.35 602.82 L429.60 602.79 L429.85 602.75 L430.10 602.71 L430.35 602.67 L430.60 602.61 L430.85 602.55 L431.10 602.49 L431.35 602.41 L431.60 602.33 L431.85 602.25 L432.10 602.15 L432.35 602.05 L432.60 601.94 L432.85 601.82 L433.10 601.70 L433.35 601.57 L433.60 601.43 L433.85 601.30 L434.10 601.15 L434.35 601.01 L434.60 600.87 L434.85 600.72 L435.10 600.58 L435.35 600.45 L435.60 600.32 L435.85 600.21 L436.10 600.10 L436.35 600.01 L436.60 599.94 L436.85 599.88 L437.10 599.85 L437.35 599.84 L437.60 599.86 L437.85 599.90 L438.10 599.97 L438.35 600.07 L438.60 600.21 L438.85 600.37 L439.10 600.57 L439.35 600.80 L439.60 601.06 L439.85 601.35 L440.10 601.67 L440.35 602.02 L440.60 602.40 L440.85 602.80 L441.10 603.22 L441.35 603.66 L441.60 604.12 L441.85 604.59 L442.10 605.07 L442.35 605.56 L442.60 606.05 L442.85 606.55 L443.10 607.04 L443.35 607.53 L443.60 608.01 L443.85 608.49 L444.10 608.95 L444.35 609.39 L444.60 609.82 L444.85 610.23 L445.10 610.63 L445.35 611.00 L445.60 611.36 L445.85 611.69 L446.10 612.00 L446.35 612.29 L446.60 612.56 L446.85 612.81 L447.10 613.04 L447.35 613.25 L447.60 613.44 L447.85 613.62 L448.10 613.77 L448.35 613.92 L448.60 614.04 L448.85 614.15 L449.10 614.26 L449.35 614.34 L449.60 614.42 L449.85 614.49 L450.10 614.55 L450.35 614.60 L450.60 614.65 L450.85 614.69 L451.10 614.72 L451.35 614.75 L451.60 614.77 L451.85 614.80 L452.10 614.81 L452.35 614.83 L452.60 614.84 L452.85 614.85 L453.10 614.86 L453.35 614.87 L453.60 614.87 L453.85 614.88 L454.10 614.88 L454.35 614.89 L454.60 614.89 L454.85 614.89 L455.10 614.89 L455.35 614.89 L455.60 614.90 L455.85 614.90 L456.10 614.90 L456.35 614.90 L456.60 614.90 L456.85 614.90 L457.10 614.90 L457.35 614.90 L457.60 614.90 L457.85 614.90 L458.10 614.90 L458.35 614.90 L458.60 614.90 L458.85 614.90 L459.10 614.90 L459.35 614.90 L459.60 614.90 L459.85 614.90 L460.10 614.90 L460.35 614.90 L460.60 614.90 L460.85 614.90 L461.10 614.90 L461.35 614.90 L461.60 614.90 L461.85 614.90 L462.10 614.90 L462.35 614.90 L462.60 614.90 L462.85 614.90 L463.10 614.90 L463.35 614.90 L463.60 614.90 L463.85 614.90 L464.10 614.90 L464.35 614.90 L464.60 614.90 L464.85 614.90 L465.10 614.90 L465.35 614.90 L465.60 614.90 L465.85 614.90 L466.10 614.90 L466.35 614.90 L466.60 614.90 L466.85 614.90 L467.10 614.90 L467.35 614.90 L467.60 614.90 L467.85 614.90 L468.10 614.90 L468.35 614.90 L468.60 614.90 L468.85 614.90 L469.10 614.90 L469.35 614.90 L469.60 614.90 L469.85 614.90 L470.10 614.90 L470.35 614.90 L470.60 614.90 L470.85 614.90 L471.10 614.90 L471.35 614.90 L471.60 614.90 L471.85 614.90 L472.10 614.90 L472.35 614.90 L472.60 614.90 L472.85 614.90 L473.10 614.90 L473.35 614.90 L473.60 614.90 L473.85 614.90 L474.10 614.90 L474.35 614.90 L474.60 614.90 L474.85 614.90 L475.10 614.90 L475.35 614.90 L475.60 614.90 L475.85 614.90 L476.10 614.90 L476.35 614.90 L476.60 614.90 L476.85 614.90 L477.10 614.90 L477.35 614.90" fill="none" stroke="#555" stroke-width="0.6"/>
<path d="M362.10 614.90 L362.80 614.90 L363.50 614.90 L364.20 614.90 L364.90 614.90 L365.60 614.90 L366.30 614.90 L367.00 614.90 L367.70 614.90 L368.40 614.90 L369.10 614.89 L369.80 614.88 L370.50 614.86 L371.20 614.82 L371.90 614.75 L372.60 614.66 L373.30 614.54 L374.00 614.39 L374.70 614.16 L375.40 613.99 L376.10 613.96 L376.80 613.97 L377.50 614.07 L378.20 613.96 L378.90 614.14 L379.60 614.25 L380.30 614.45 L381.00 614.59 L381.70 614.70 L382.40 614.78 L383.10 614.84 L383.80 614.87 L384.50 614.88 L385.20 614.89 L385.90 614.90 L386.60 614.90 L387.30 614.89 L388.00 614.89 L388.70 614.88 L389.40 614.86 L390.10 614.83 L390.80 614.76 L391.50 614.62 L392.20 614.33 L392.90 613.81 L393.60 612.50 L394.30 611.02 L395.00 606.81 L395.70 601.87 L396.40 595.37 L397.10 585.49 L397.80 573.62 L398.50 562.11 L399.20 548.63 L399.90 537.65 L400.60 534.14 L401.30 535.59 L402.00 544.39 L402.70 555.03 L403.40 567.49 L404.10 578.10 L404.80 584.08 L405.50 588.72 L406.20 591.07 L406.90 590.66 L407.60 587.36 L408.30 582.90 L409.00 581.63 L409.70 580.55 L410.40 584.60 L411.10 590.19 L411.80 593.74 L412.50 598.14 L413.20 599.25 L413.90 600.76 L414.60 602.44 L415.30 602.46 L416.00 602.46 L416.70 602.25 L417.40 601.85 L418.10 604.13 L418.80 603.33 L419.50 602.76 L420.20 603.47 L420.90 602.79 L421.60 603.98 L422.30 602.09 L423.00 602.94 L423.70 603.92 L424.40 602.61 L425.10 603.45 L425.80 603.72 L426.50 603.02 L427.20 603.84 L427.90 603.64 L428.60 602.02 L429.30 602.35 L430.00 603.90 L430.70 601.92 L431.40 603.56 L432.10 602.54 L432.80 600.85 L433.50 601.11 L434.20 601.33 L434.90 600.45 L435.60 599.50 L436.30 599.03 L437.00 595.83 L437.70 597.31 L438.40 596.28 L439.10 596.17 L439.80 598.42 L440.50 598.89 L441.20 602.64 L441.90 602.77 L442.60 604.68 L443.30 606.73 L444.00 607.71 L444.70 609.70 L445.40 610.17 L446.10 611.07 L446.80 611.97 L447.50 612.42 L448.20 612.50 L448.90 612.81 L449.60 613.02 L450.30 612.50 L451.00 612.70 L451.70 612.38 L452.40 611.98 L453.10 612.35 L453.80 612.38 L454.50 612.24 L455.20 611.82 L455.90 612.07 L456.60 612.26 L457.30 612.24 L458.00 612.07 L458.70 612.79 L459.40 612.92 L460.10 612.91 L460.80 613.32 L461.50 613.70 L462.20 613.84 L462.90 614.04 L463.60 614.29 L464.30 614.37 L465.00 614.49 L465.70 614.60 L466.40 614.68 L467.10 614.74 L467.80 614.79 L468.50 614.82 L469.20 614.85 L469.90 614.86 L470.60 614.88 L471.30 614.89 L472.00 614.89 L472.70 614.89 L473.40 614.90 L474.10 614.90 L474.80 614.90 L475.50 614.90 L476.20 614.90 L476.90 614.90" fill="none" stroke="#2a2a2a" stroke-width="0.5"/>
<path d="M362.10 514.90V614.90H477.40" fill="none" stroke="#444" stroke-width="0.7"/>
<path d="M362.10 614.90h-1.2M362.10 610.88h-1.2M362.10 606.86h-1.2M362.10 602.84h-1.2M362.10 598.82h-1.2M362.10 594.80h-1.2M362.10 590.78h-1.2M362.10 586.76h-1.2M362.10 582.74h-1.2M362.10 578.72h-1.2M362.10 574.70h-1.2M362.10 570.68h-1.2M362.10 566.66h-1.2M362.10 562.64h-1.2M362.10 558.62h-1.2M362.10 554.60h-1.2M362.10 550.58h-1.2M362.10 546.56h-1.2M362.10 542.54h-1.2M362.10 538.52h-1.2M362.10 534.50h-1.2M362.10 530.48h-1.2M362.10 526.46h-1.2M362.10 522.44h-1.2M362.10 518.42h-1.2M362.10 614.90v1.8M365.93 614.90v1.0M369.75 614.90v1.0M373.58 614.90v1.0M377.40 614.90v1.0M381.23 614.90v1.0M385.05 614.90v1.8M388.88 614.90v1.0M392.70 614.90v1.0M396.53 614.90v1.0M400.35 614.90v1.0M404.18 614.90v1.0M408.00 614.90v1.8M411.83 614.90v1.0M415.65 614.90v1.0M419.48 614.90v1.0M423.30 614.90v1.0M427.12 614.90v1.0M430.95 614.90v1.8M434.78 614.90v1.0M438.60 614.90v1.0M442.43 614.90v1.0M446.25 614.90v1.0M450.08 614.90v1.0M453.90 614.90v1.8M457.73 614.90v1.0M461.55 614.90v1.0M465.38 614.90v1.0M469.20 614.90v1.0M473.03 614.90v1.0M476.85 614.90v1.8" stroke="#555" stroke-width="0.45" fill="none"/>
<text x="362.10" y="621.20" font-size="3.6" text-anchor="middle" fill="#555">0</text>
<text x="385.05" y="621.20" font-size="3.6" text-anchor="middle" fill="#555">30</text>
<text x="408.00" y="621.20" font-size="3.6" text-anchor="middle" fill="#555">60</text>
<text x="430.95" y="621.20" font-size="3.6" text-anchor="middle" fill="#555">90</text>
<text x="453.90" y="621.20" font-size="3.6" text-anchor="middle" fill="#555">120</text>
<text x="476.85" y="621.20" font-size="3.6" text-anchor="middle" fill="#555">150</text>
<text x="357.90" y="594.80" font-size="3.6" text-anchor="middle" fill="#555" transform="rotate(-90 357.90 594.80)">200</text>
<text x="357.90" y="574.70" font-size="3.6" text-anchor="middle" fill="#555" transform="rotate(-90 357.90 574.70)">400</text>
<text x="357.90" y="554.60" font-size="3.6" text-anchor="middle" fill="#555" transform="rotate(-90 357.90 554.60)">600</text>
<text x="357.90" y="534.50" font-size="3.6" text-anchor="middle" fill="#555" transform="rotate(-90 357.90 534.50)">800</text>
<text x="352.50" y="566.00" font-size="3.6" text-anchor="middle" fill="#555" transform="rotate(-90 352.50 566.00)">Number</text>
<text x="420.75" y="625.20" font-size="3.7" text-anchor="middle" fill="#555">Channels (FL2-A)</text>
<path d="M398.80 618.90L400.60 615.70L402.40 618.90Z" fill="#111"/>
<path d="M407.40 618.90L409.20 615.70L411.00 618.90Z" fill="#111"/>
<path d="M436.00 618.90L437.80 615.70L439.60 618.90Z" fill="#111"/>
<rect x="452.50" y="505.50" width="4.4" height="3.3" fill="#3fb4c4" stroke="#555" stroke-width="0.3"/>
<text x="458.10" y="508.40" font-size="3.4" text-anchor="start" fill="#50509a">Apoptosis</text>
<rect x="452.50" y="510.00" width="4.4" height="3.3" fill="#d0101a" stroke="#555" stroke-width="0.3"/>
<text x="458.10" y="512.90" font-size="3.4" text-anchor="start" fill="#50509a">Dip G1</text>
<rect x="452.50" y="514.50" width="4.4" height="3.3" fill="#d0101a" stroke="#555" stroke-width="0.3"/>
<text x="458.10" y="517.40" font-size="3.4" text-anchor="start" fill="#50509a">Dip G2</text>
<rect x="452.50" y="519.00" width="4.4" height="3.3" fill="url(#hatch)" stroke="#555" stroke-width="0.3"/>
<text x="458.10" y="521.90" font-size="3.4" text-anchor="start" fill="#50509a">Dip S</text>
<path d="M524.60 22.00V112.80H619.80" fill="none" stroke="#111" stroke-width="1.3"/>
<line x1="520.40" y1="112.80" x2="524.60" y2="112.80" stroke="#111" stroke-width="1.1"/>
<text x="520.20" y="115.46" font-size="7.4" font-weight="bold" text-anchor="end" fill="#1a1a1a">0</text>
<line x1="520.40" y1="82.70" x2="524.60" y2="82.70" stroke="#111" stroke-width="1.1"/>
<text x="520.20" y="85.36" font-size="7.4" font-weight="bold" text-anchor="end" fill="#1a1a1a">10</text>
<line x1="520.40" y1="52.60" x2="524.60" y2="52.60" stroke="#111" stroke-width="1.1"/>
<text x="520.20" y="55.26" font-size="7.4" font-weight="bold" text-anchor="end" fill="#1a1a1a">20</text>
<line x1="520.40" y1="22.50" x2="524.60" y2="22.50" stroke="#111" stroke-width="1.1"/>
<text x="520.20" y="25.16" font-size="7.4" font-weight="bold" text-anchor="end" fill="#1a1a1a">30</text>
<line x1="544.40" y1="112.80" x2="544.40" y2="115.80" stroke="#111" stroke-width="1.1"/>
<line x1="572.20" y1="112.80" x2="572.20" y2="115.80" stroke="#111" stroke-width="1.1"/>
<line x1="599.80" y1="112.80" x2="599.80" y2="115.80" stroke="#111" stroke-width="1.1"/>
<line x1="544.40" y1="70.36" x2="544.40" y2="69.50" stroke="#111" stroke-width="0.9"/>
<line x1="540.40" y1="69.50" x2="548.40" y2="69.50" stroke="#111" stroke-width="1.0"/>
<rect x="536.65" y="70.36" width="15.50" height="42.44" fill="#1b4597" stroke="#111" stroke-width="0.9"/>
<line x1="572.25" y1="46.58" x2="572.25" y2="42.50" stroke="#111" stroke-width="0.9"/>
<line x1="568.25" y1="42.50" x2="576.25" y2="42.50" stroke="#111" stroke-width="1.0"/>
<rect x="564.65" y="46.58" width="15.20" height="66.22" fill="#ee7a24" stroke="#111" stroke-width="0.9"/>
<line x1="599.75" y1="57.72" x2="599.75" y2="55.50" stroke="#111" stroke-width="0.9"/>
<line x1="595.75" y1="55.50" x2="603.75" y2="55.50" stroke="#111" stroke-width="1.0"/>
<rect x="591.95" y="57.72" width="15.60" height="55.08" fill="#8a0e77" stroke="#111" stroke-width="0.9"/>
<text x="572.20" y="42.20" font-size="7.5" font-weight="bold" text-anchor="middle" fill="#1a1a1a">*</text>
<text x="599.80" y="53.80" font-size="7.5" font-weight="bold" text-anchor="middle" fill="#1a1a1a">*</text>
<text x="572.20" y="16.40" font-size="8.4" font-weight="bold" text-anchor="middle" fill="#1a1a1a">HuCCT1</text>
<text x="503.40" y="67.00" font-size="7.3" font-weight="bold" text-anchor="middle" fill="#1a1a1a" transform="rotate(-90 503.40 67.00)">Apoptosis(%)</text>
<rect x="621.00" y="19.10" width="10.4" height="6.30" fill="#1b4597" stroke="#111" stroke-width="0.9"/>
<rect x="621.00" y="29.30" width="10.4" height="5.90" fill="#ee7a24" stroke="#111" stroke-width="0.9"/>
<rect x="621.00" y="40.00" width="10.4" height="6.30" fill="#8a0e77" stroke="#111" stroke-width="0.9"/>
<text x="637.00" y="25.10" font-size="7.4" font-weight="bold" text-anchor="start" fill="#1a1a1a">si-SC</text>
<text x="637.00" y="35.70" font-size="7.4" font-weight="bold" text-anchor="start" fill="#1a1a1a">si-SNHG1 1#</text>
<text x="637.00" y="46.40" font-size="7.4" font-weight="bold" text-anchor="start" fill="#1a1a1a">si-SNHG1 2#</text>
<text x="546.40" y="120.40" font-size="7.65" font-weight="bold" text-anchor="end" fill="#1a1a1a" transform="rotate(-45 546.40 120.40)">si-SC</text>
<text x="574.20" y="120.40" font-size="7.65" font-weight="bold" text-anchor="end" fill="#1a1a1a" transform="rotate(-45 574.20 120.40)">si-SNHG1 1#</text>
<text x="601.80" y="120.40" font-size="7.65" font-weight="bold" text-anchor="end" fill="#1a1a1a" transform="rotate(-45 601.80 120.40)">si-SNHG1 2#</text>
<path d="M524.60 181.00V272.10H619.80" fill="none" stroke="#111" stroke-width="1.3"/>
<line x1="520.40" y1="272.10" x2="524.60" y2="272.10" stroke="#111" stroke-width="1.1"/>
<text x="520.20" y="274.76" font-size="7.4" font-weight="bold" text-anchor="end" fill="#1a1a1a">0</text>
<line x1="520.40" y1="241.90" x2="524.60" y2="241.90" stroke="#111" stroke-width="1.1"/>
<text x="520.20" y="244.56" font-size="7.4" font-weight="bold" text-anchor="end" fill="#1a1a1a">10</text>
<line x1="520.40" y1="211.70" x2="524.60" y2="211.70" stroke="#111" stroke-width="1.1"/>
<text x="520.20" y="214.36" font-size="7.4" font-weight="bold" text-anchor="end" fill="#1a1a1a">20</text>
<line x1="520.40" y1="181.50" x2="524.60" y2="181.50" stroke="#111" stroke-width="1.1"/>
<text x="520.20" y="184.16" font-size="7.4" font-weight="bold" text-anchor="end" fill="#1a1a1a">30</text>
<line x1="544.40" y1="272.10" x2="544.40" y2="275.10" stroke="#111" stroke-width="1.1"/>
<line x1="572.20" y1="272.10" x2="572.20" y2="275.10" stroke="#111" stroke-width="1.1"/>
<line x1="599.80" y1="272.10" x2="599.80" y2="275.10" stroke="#111" stroke-width="1.1"/>
<line x1="544.40" y1="221.97" x2="544.40" y2="219.50" stroke="#111" stroke-width="0.9"/>
<line x1="540.40" y1="219.50" x2="548.40" y2="219.50" stroke="#111" stroke-width="1.0"/>
<rect x="536.65" y="221.97" width="15.50" height="50.13" fill="#1b4597" stroke="#111" stroke-width="0.9"/>
<line x1="572.25" y1="194.49" x2="572.25" y2="190.50" stroke="#111" stroke-width="0.9"/>
<line x1="568.25" y1="190.50" x2="576.25" y2="190.50" stroke="#111" stroke-width="1.0"/>
<rect x="564.65" y="194.49" width="15.20" height="77.61" fill="#ee7a24" stroke="#111" stroke-width="0.9"/>
<line x1="599.75" y1="203.85" x2="599.75" y2="199.50" stroke="#111" stroke-width="0.9"/>
<line x1="595.75" y1="199.50" x2="603.75" y2="199.50" stroke="#111" stroke-width="1.0"/>
<rect x="591.95" y="203.85" width="15.60" height="68.25" fill="#8a0e77" stroke="#111" stroke-width="0.9"/>
<text x="572.20" y="190.70" font-size="7.5" font-weight="bold" text-anchor="middle" fill="#1a1a1a">*</text>
<text x="599.80" y="199.90" font-size="7.5" font-weight="bold" text-anchor="middle" fill="#1a1a1a">*</text>
<text x="572.20" y="176.10" font-size="8.4" font-weight="bold" text-anchor="middle" fill="#1a1a1a">RBE</text>
<text x="503.40" y="226.50" font-size="7.3" font-weight="bold" text-anchor="middle" fill="#1a1a1a" transform="rotate(-90 503.40 226.50)">Apoptosis(%)</text>
<rect x="621.10" y="170.50" width="10.4" height="6.30" fill="#1b4597" stroke="#111" stroke-width="0.9"/>
<rect x="621.10" y="180.80" width="10.4" height="5.90" fill="#ee7a24" stroke="#111" stroke-width="0.9"/>
<rect x="621.10" y="192.00" width="10.4" height="5.80" fill="#8a0e77" stroke="#111" stroke-width="0.9"/>
<text x="637.00" y="176.20" font-size="7.4" font-weight="bold" text-anchor="start" fill="#1a1a1a">si-SC</text>
<text x="637.00" y="186.70" font-size="7.4" font-weight="bold" text-anchor="start" fill="#1a1a1a">si-SNHG1 1#</text>
<text x="637.00" y="197.60" font-size="7.4" font-weight="bold" text-anchor="start" fill="#1a1a1a">si-SNHG1 2#</text>
<text x="546.40" y="279.70" font-size="7.65" font-weight="bold" text-anchor="end" fill="#1a1a1a" transform="rotate(-45 546.40 279.70)">si-SC</text>
<text x="574.20" y="279.70" font-size="7.65" font-weight="bold" text-anchor="end" fill="#1a1a1a" transform="rotate(-45 574.20 279.70)">si-SNHG1 1#</text>
<text x="601.80" y="279.70" font-size="7.65" font-weight="bold" text-anchor="end" fill="#1a1a1a" transform="rotate(-45 601.80 279.70)">si-SNHG1 2#</text>
<path d="M522.30 348.90V443.00H632.80" fill="none" stroke="#111" stroke-width="1.3"/>
<line x1="519.50" y1="443.00" x2="522.30" y2="443.00" stroke="#111" stroke-width="1.1"/>
<text x="519.30" y="445.81" font-size="7.8" font-weight="bold" text-anchor="end" fill="#1a1a1a">0</text>
<line x1="519.50" y1="411.80" x2="522.30" y2="411.80" stroke="#111" stroke-width="1.1"/>
<text x="519.30" y="414.61" font-size="7.8" font-weight="bold" text-anchor="end" fill="#1a1a1a">20</text>
<line x1="519.50" y1="380.60" x2="522.30" y2="380.60" stroke="#111" stroke-width="1.1"/>
<text x="519.30" y="383.41" font-size="7.8" font-weight="bold" text-anchor="end" fill="#1a1a1a">40</text>
<line x1="519.50" y1="349.40" x2="522.30" y2="349.40" stroke="#111" stroke-width="1.1"/>
<text x="519.30" y="352.21" font-size="7.8" font-weight="bold" text-anchor="end" fill="#1a1a1a">60</text>
<line x1="540.70" y1="443.00" x2="540.70" y2="446.00" stroke="#111" stroke-width="1.1"/>
<line x1="577.30" y1="443.00" x2="577.30" y2="446.00" stroke="#111" stroke-width="1.1"/>
<line x1="614.20" y1="443.00" x2="614.20" y2="446.00" stroke="#111" stroke-width="1.1"/>
<line x1="531.55" y1="397.45" x2="531.55" y2="396.50" stroke="#111" stroke-width="0.9"/>
<line x1="529.05" y1="396.50" x2="534.05" y2="396.50" stroke="#111" stroke-width="1.0"/>
<rect x="527.35" y="397.45" width="8.40" height="45.55" fill="#1b4597" stroke="#111" stroke-width="0.9"/>
<line x1="540.85" y1="383.41" x2="540.85" y2="379.50" stroke="#111" stroke-width="0.9"/>
<line x1="538.35" y1="379.50" x2="543.35" y2="379.50" stroke="#111" stroke-width="1.0"/>
<rect x="536.65" y="383.41" width="8.40" height="59.59" fill="#ee7a24" stroke="#111" stroke-width="0.9"/>
<line x1="550.15" y1="370.46" x2="550.15" y2="368.50" stroke="#111" stroke-width="0.9"/>
<line x1="547.65" y1="368.50" x2="552.65" y2="368.50" stroke="#111" stroke-width="1.0"/>
<rect x="545.95" y="370.46" width="8.40" height="72.54" fill="#8a0e77" stroke="#111" stroke-width="0.9"/>
<line x1="568.05" y1="376.54" x2="568.05" y2="374.50" stroke="#111" stroke-width="0.9"/>
<line x1="565.55" y1="374.50" x2="570.55" y2="374.50" stroke="#111" stroke-width="1.0"/>
<rect x="563.85" y="376.54" width="8.40" height="66.46" fill="#1b4597" stroke="#111" stroke-width="0.9"/>
<line x1="577.35" y1="385.59" x2="577.35" y2="384.50" stroke="#111" stroke-width="0.9"/>
<line x1="574.85" y1="384.50" x2="579.85" y2="384.50" stroke="#111" stroke-width="1.0"/>
<rect x="573.15" y="385.59" width="8.40" height="57.41" fill="#ee7a24" stroke="#111" stroke-width="0.9"/>
<line x1="586.65" y1="388.24" x2="586.65" y2="386.50" stroke="#111" stroke-width="0.9"/>
<line x1="584.15" y1="386.50" x2="589.15" y2="386.50" stroke="#111" stroke-width="1.0"/>
<rect x="582.45" y="388.24" width="8.40" height="54.76" fill="#8a0e77" stroke="#111" stroke-width="0.9"/>
<line x1="604.75" y1="398.07" x2="604.75" y2="397.50" stroke="#111" stroke-width="0.9"/>
<line x1="602.25" y1="397.50" x2="607.25" y2="397.50" stroke="#111" stroke-width="1.0"/>
<rect x="600.55" y="398.07" width="8.40" height="44.93" fill="#1b4597" stroke="#111" stroke-width="0.9"/>
<line x1="614.05" y1="404.00" x2="614.05" y2="401.50" stroke="#111" stroke-width="0.9"/>
<line x1="611.55" y1="401.50" x2="616.55" y2="401.50" stroke="#111" stroke-width="1.0"/>
<rect x="609.85" y="404.00" width="8.40" height="39.00" fill="#ee7a24" stroke="#111" stroke-width="0.9"/>
<line x1="623.35" y1="413.36" x2="623.35" y2="412.50" stroke="#111" stroke-width="0.9"/>
<line x1="620.85" y1="412.50" x2="625.85" y2="412.50" stroke="#111" stroke-width="1.0"/>
<rect x="619.15" y="413.36" width="8.40" height="29.64" fill="#8a0e77" stroke="#111" stroke-width="0.9"/>
<text x="540.80" y="378.65" font-size="9" font-weight="bold" text-anchor="middle" fill="#1a1a1a">*</text>
<text x="549.90" y="367.65" font-size="9" font-weight="bold" text-anchor="middle" fill="#1a1a1a">***</text>
<text x="576.50" y="384.35" font-size="9" font-weight="bold" text-anchor="middle" fill="#1a1a1a">*</text>
<text x="586.00" y="385.75" font-size="9" font-weight="bold" text-anchor="middle" fill="#1a1a1a">*</text>
<text x="624.60" y="411.65" font-size="9" font-weight="bold" text-anchor="middle" fill="#1a1a1a">***</text>
<text x="611.00" y="393.60" font-size="7.6" text-anchor="middle" fill="#222">ns.</text>
<line x1="605.50" y1="395.50" x2="616.50" y2="395.50" stroke="#333" stroke-width="0.8"/>
<text x="577.40" y="344.10" font-size="8.5" font-weight="bold" text-anchor="middle" fill="#1a1a1a">HuCCT1</text>
<text x="501.40" y="395.70" font-size="7.4" font-weight="bold" text-anchor="middle" fill="#1a1a1a" transform="rotate(-90 501.40 395.70)">Cell ratio(%)</text>
<rect x="624.20" y="342.40" width="10.4" height="6.20" fill="#1b4597" stroke="#111" stroke-width="0.9"/>
<rect x="624.20" y="354.20" width="10.4" height="6.00" fill="#ee7a24" stroke="#111" stroke-width="0.9"/>
<rect x="624.20" y="366.00" width="10.4" height="6.20" fill="#8a0e77" stroke="#111" stroke-width="0.9"/>
<text x="640.00" y="348.20" font-size="7.4" font-weight="bold" text-anchor="start" fill="#1a1a1a">si-SC</text>
<text x="640.00" y="360.00" font-size="7.4" font-weight="bold" text-anchor="start" fill="#1a1a1a">si-SNHG1 1#</text>
<text x="640.00" y="371.80" font-size="7.4" font-weight="bold" text-anchor="start" fill="#1a1a1a">si-SNHG1 2#</text>
<text x="543.90" y="450.80" font-size="9.0" font-weight="bold" text-anchor="end" fill="#1a1a1a" transform="rotate(-45 543.90 450.80)">G0-G1</text>
<text x="580.50" y="450.80" font-size="9.0" font-weight="bold" text-anchor="end" fill="#1a1a1a" transform="rotate(-45 580.50 450.80)">S</text>
<text x="617.40" y="450.80" font-size="9.0" font-weight="bold" text-anchor="end" fill="#1a1a1a" transform="rotate(-45 617.40 450.80)">G2-M</text>
<path d="M521.10 505.90V600.60H630.80" fill="none" stroke="#111" stroke-width="1.3"/>
<line x1="518.00" y1="600.60" x2="521.10" y2="600.60" stroke="#111" stroke-width="1.1"/>
<text x="517.80" y="603.41" font-size="7.8" font-weight="bold" text-anchor="end" fill="#1a1a1a">0</text>
<line x1="518.00" y1="569.20" x2="521.10" y2="569.20" stroke="#111" stroke-width="1.1"/>
<text x="517.80" y="572.01" font-size="7.8" font-weight="bold" text-anchor="end" fill="#1a1a1a">20</text>
<line x1="518.00" y1="537.80" x2="521.10" y2="537.80" stroke="#111" stroke-width="1.1"/>
<text x="517.80" y="540.61" font-size="7.8" font-weight="bold" text-anchor="end" fill="#1a1a1a">40</text>
<line x1="518.00" y1="506.40" x2="521.10" y2="506.40" stroke="#111" stroke-width="1.1"/>
<text x="517.80" y="509.21" font-size="7.8" font-weight="bold" text-anchor="end" fill="#1a1a1a">60</text>
<line x1="539.30" y1="600.60" x2="539.30" y2="603.60" stroke="#111" stroke-width="1.1"/>
<line x1="575.40" y1="600.60" x2="575.40" y2="603.60" stroke="#111" stroke-width="1.1"/>
<line x1="612.60" y1="600.60" x2="612.60" y2="603.60" stroke="#111" stroke-width="1.1"/>
<rect x="525.75" y="538.43" width="8.45" height="62.17" fill="#1b4597" stroke="#111" stroke-width="0.9"/>
<line x1="539.33" y1="532.31" x2="539.33" y2="531.50" stroke="#111" stroke-width="0.9"/>
<line x1="536.83" y1="531.50" x2="541.83" y2="531.50" stroke="#111" stroke-width="1.0"/>
<rect x="535.10" y="532.31" width="8.45" height="68.29" fill="#ee7a24" stroke="#111" stroke-width="0.9"/>
<line x1="548.67" y1="530.74" x2="548.67" y2="530.50" stroke="#111" stroke-width="0.9"/>
<line x1="546.17" y1="530.50" x2="551.17" y2="530.50" stroke="#111" stroke-width="1.0"/>
<rect x="544.45" y="530.74" width="8.45" height="69.87" fill="#8a0e77" stroke="#111" stroke-width="0.9"/>
<rect x="562.75" y="525.87" width="8.45" height="74.73" fill="#1b4597" stroke="#111" stroke-width="0.9"/>
<line x1="576.33" y1="527.12" x2="576.33" y2="526.50" stroke="#111" stroke-width="0.9"/>
<line x1="573.83" y1="526.50" x2="578.83" y2="526.50" stroke="#111" stroke-width="1.0"/>
<rect x="572.10" y="527.12" width="8.45" height="73.48" fill="#ee7a24" stroke="#111" stroke-width="0.9"/>
<line x1="585.67" y1="529.16" x2="585.67" y2="528.50" stroke="#111" stroke-width="0.9"/>
<line x1="583.17" y1="528.50" x2="588.17" y2="528.50" stroke="#111" stroke-width="1.0"/>
<rect x="581.45" y="529.16" width="8.45" height="71.44" fill="#8a0e77" stroke="#111" stroke-width="0.9"/>
<rect x="599.45" y="579.25" width="8.45" height="21.35" fill="#1b4597" stroke="#111" stroke-width="0.9"/>
<rect x="608.80" y="584.59" width="8.45" height="16.01" fill="#ee7a24" stroke="#111" stroke-width="0.9"/>
<rect x="618.15" y="583.49" width="8.45" height="17.11" fill="#8a0e77" stroke="#111" stroke-width="0.9"/>
<text x="538.40" y="531.45" font-size="9" font-weight="bold" text-anchor="middle" fill="#1a1a1a">**</text>
<text x="548.30" y="528.85" font-size="9" font-weight="bold" text-anchor="middle" fill="#1a1a1a">***</text>
<text x="612.60" y="582.85" font-size="9" font-weight="bold" text-anchor="middle" fill="#1a1a1a">**</text>
<text x="622.00" y="582.35" font-size="9" font-weight="bold" text-anchor="middle" fill="#1a1a1a">**</text>
<text x="576.00" y="522.00" font-size="7.8" text-anchor="middle" fill="#222">ns.</text>
<text x="586.40" y="522.00" font-size="7.8" text-anchor="middle" fill="#222">ns.</text>
<line x1="570.30" y1="524.50" x2="580.20" y2="524.50" stroke="#333" stroke-width="0.8"/>
<line x1="580.60" y1="524.50" x2="590.50" y2="524.50" stroke="#333" stroke-width="0.8"/>
<text x="576.40" y="507.50" font-size="8.5" font-weight="bold" text-anchor="middle" fill="#1a1a1a">RBE</text>
<text x="501.40" y="551.20" font-size="7.4" font-weight="bold" text-anchor="middle" fill="#1a1a1a" transform="rotate(-90 501.40 551.20)">Cell ratio(%)</text>
<rect x="624.20" y="506.10" width="10.4" height="6.60" fill="#1b4597" stroke="#111" stroke-width="0.9"/>
<rect x="624.20" y="517.30" width="10.4" height="6.50" fill="#ee7a24" stroke="#111" stroke-width="0.9"/>
<rect x="624.20" y="530.30" width="10.4" height="6.60" fill="#8a0e77" stroke="#111" stroke-width="0.9"/>
<text x="640.00" y="512.20" font-size="7.4" font-weight="bold" text-anchor="start" fill="#1a1a1a">si-SC</text>
<text x="640.00" y="523.70" font-size="7.4" font-weight="bold" text-anchor="start" fill="#1a1a1a">si-SNHG1 1#</text>
<text x="640.00" y="536.40" font-size="7.4" font-weight="bold" text-anchor="start" fill="#1a1a1a">si-SNHG1 2#</text>
<text x="541.90" y="608.20" font-size="8.1" font-weight="bold" text-anchor="end" fill="#1a1a1a" transform="rotate(-45 541.90 608.20)">G0-G1</text>
<text x="578.00" y="608.20" font-size="8.1" font-weight="bold" text-anchor="end" fill="#1a1a1a" transform="rotate(-45 578.00 608.20)">S</text>
<text x="615.20" y="608.20" font-size="8.1" font-weight="bold" text-anchor="end" fill="#1a1a1a" transform="rotate(-45 615.20 608.20)">G2-M</text>
</svg></body></html>
